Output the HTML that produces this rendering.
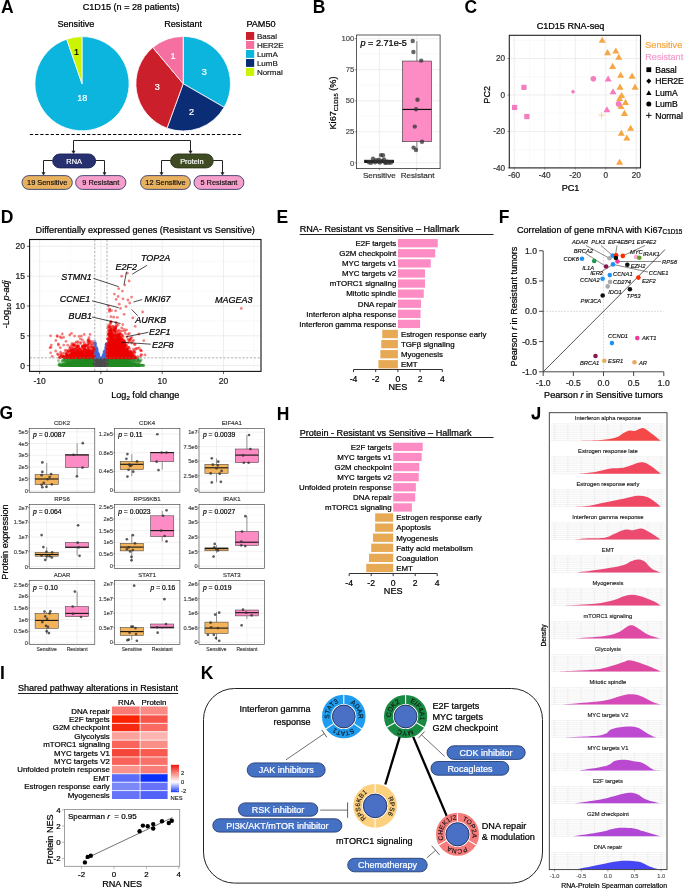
<!DOCTYPE html>
<html><head><meta charset="utf-8"><style>
html,body{margin:0;padding:0;background:#fff;}
svg{display:block;will-change:transform;}
text{font-family:"Liberation Sans", sans-serif;}
text:not([stroke]){stroke:#000;stroke-width:0.22px;}
</style></head><body>
<svg width="685" height="889" viewBox="0 0 685 889">
<rect x="0" y="0" width="685" height="889" fill="#fff"/>
<text x="1.00" y="12.70" font-size="17.5" text-anchor="start" fill="#000" stroke="#000" stroke-width="0.00" font-weight="bold">A</text>
<text x="131.10" y="9.80" font-size="9.1" text-anchor="middle" fill="#000" stroke="#000" stroke-width="0.24">C1D15 (n = 28 patients)</text>
<text x="75.90" y="26.70" font-size="9.1" text-anchor="middle" fill="#000" stroke="#000" stroke-width="0.24">Sensitive</text>
<text x="183.20" y="26.70" font-size="9.1" text-anchor="middle" fill="#000" stroke="#000" stroke-width="0.24">Resistant</text>
<path d="M82.00,83.70 L82.00,36.60 A47.1,47.1 0 1 1 66.71,39.15 Z" fill="#0bb5dd" stroke="#fff" stroke-width="0.8" stroke-linejoin="round"/>
<path d="M82.00,83.70 L66.71,39.15 A47.1,47.1 0 0 1 82.00,36.60 Z" fill="#cbf402" stroke="#fff" stroke-width="0.8" stroke-linejoin="round"/>
<path d="M183.20,83.70 L183.20,36.40 A47.3,47.3 0 0 1 224.16,107.35 Z" fill="#0bb5dd" stroke="#fff" stroke-width="0.8" stroke-linejoin="round"/>
<path d="M183.20,83.70 L224.16,107.35 A47.3,47.3 0 0 1 167.02,128.15 Z" fill="#0b2d76" stroke="#fff" stroke-width="0.8" stroke-linejoin="round"/>
<path d="M183.20,83.70 L167.02,128.15 A47.3,47.3 0 0 1 152.80,47.47 Z" fill="#cc1f2c" stroke="#fff" stroke-width="0.8" stroke-linejoin="round"/>
<path d="M183.20,83.70 L152.80,47.47 A47.3,47.3 0 0 1 183.20,36.40 Z" fill="#f56fa0" stroke="#fff" stroke-width="0.8" stroke-linejoin="round"/>
<text x="76.60" y="54.80" font-size="9.1" text-anchor="middle" fill="#000" stroke="#000" stroke-width="0.24">1</text>
<text x="82.30" y="100.90" font-size="9.1" text-anchor="middle" fill="#fff" stroke="#fff" stroke-width="0.24">18</text>
<text x="173.00" y="59.30" font-size="9.1" text-anchor="middle" fill="#fff" stroke="#fff" stroke-width="0.24">1</text>
<text x="204.30" y="75.00" font-size="9.1" text-anchor="middle" fill="#fff" stroke="#fff" stroke-width="0.24">3</text>
<text x="157.20" y="90.40" font-size="9.1" text-anchor="middle" fill="#fff" stroke="#fff" stroke-width="0.24">3</text>
<text x="191.60" y="114.50" font-size="9.1" text-anchor="middle" fill="#fff" stroke="#fff" stroke-width="0.24">2</text>
<text x="246.40" y="26.90" font-size="9.1" text-anchor="start" fill="#000" stroke="#000" stroke-width="0.24">PAM50</text>
<rect x="246.00" y="32.00" width="8.20" height="7.90" fill="#cc1f2c" stroke="none" stroke-width="1"/>
<text x="256.90" y="38.60" font-size="8.0" text-anchor="start" fill="#222" stroke="#222" stroke-width="0.21">Basal</text>
<rect x="246.00" y="41.00" width="8.20" height="7.90" fill="#f56fa0" stroke="none" stroke-width="1"/>
<text x="256.90" y="47.60" font-size="8.0" text-anchor="start" fill="#222" stroke="#222" stroke-width="0.21">HER2E</text>
<rect x="246.00" y="50.00" width="8.20" height="7.90" fill="#0bb5dd" stroke="none" stroke-width="1"/>
<text x="256.90" y="56.60" font-size="8.0" text-anchor="start" fill="#222" stroke="#222" stroke-width="0.21">LumA</text>
<rect x="246.00" y="59.00" width="8.20" height="7.90" fill="#0b2d76" stroke="none" stroke-width="1"/>
<text x="256.90" y="65.60" font-size="8.0" text-anchor="start" fill="#222" stroke="#222" stroke-width="0.21">LumB</text>
<rect x="246.00" y="68.00" width="8.20" height="7.90" fill="#cbf402" stroke="none" stroke-width="1"/>
<text x="256.90" y="74.60" font-size="8.0" text-anchor="start" fill="#222" stroke="#222" stroke-width="0.21">Normal</text>
<line x1="29.90" y1="134.50" x2="242.50" y2="134.50" stroke="#000" stroke-width="1.0" stroke-dasharray="3.2,2"/>
<path d="M73.5,152 L73.5,140.5 L190.5,140.5 L190.5,152" fill="none" stroke="#222" stroke-width="1"/>
<path d="M71.50,150.70 L75.50,150.70 L73.50,153.90 Z" fill="#222"/>
<path d="M188.50,150.70 L192.50,150.70 L190.50,153.90 Z" fill="#222"/>
<path d="M52.7,160.5 L43.5,160.5 L43.5,173" fill="none" stroke="#222" stroke-width="1"/>
<path d="M95.6,160.5 L104.5,160.5 L104.5,173" fill="none" stroke="#222" stroke-width="1"/>
<path d="M170.6,160.5 L161.5,160.5 L161.5,173" fill="none" stroke="#222" stroke-width="1"/>
<path d="M213.2,160.5 L222.5,160.5 L222.5,173" fill="none" stroke="#222" stroke-width="1"/>
<path d="M41.50,172.20 L45.50,172.20 L43.50,175.40 Z" fill="#222"/>
<path d="M102.50,172.20 L106.50,172.20 L104.50,175.40 Z" fill="#222"/>
<path d="M159.50,172.20 L163.50,172.20 L161.50,175.40 Z" fill="#222"/>
<path d="M220.50,172.20 L224.50,172.20 L222.50,175.40 Z" fill="#222"/>
<rect x="52.70" y="154.00" width="42.90" height="13.90" rx="6.95" fill="#27316f" stroke="#1a2255" stroke-width="0.9"/>
<text x="74.15" y="163.61" font-size="7.4" text-anchor="middle" fill="#fff" stroke="#fff" stroke-width="0.19">RNA</text>
<rect x="170.60" y="154.00" width="42.60" height="13.90" rx="6.95" fill="#3f4b23" stroke="#2a3316" stroke-width="0.9"/>
<text x="191.90" y="163.61" font-size="7.4" text-anchor="middle" fill="#fff" stroke="#fff" stroke-width="0.19">Protein</text>
<rect x="22.00" y="175.60" width="50.30" height="13.80" rx="6.90" fill="#e8b15f" stroke="#34406e" stroke-width="0.9"/>
<text x="47.15" y="185.16" font-size="7.4" text-anchor="middle" fill="#111" stroke="#111" stroke-width="0.19">19 Sensitive</text>
<rect x="75.60" y="175.60" width="50.30" height="13.80" rx="6.90" fill="#f79fcb" stroke="#34406e" stroke-width="0.9"/>
<text x="100.75" y="185.16" font-size="7.4" text-anchor="middle" fill="#111" stroke="#111" stroke-width="0.19">9 Resistant</text>
<rect x="140.50" y="175.60" width="49.90" height="13.80" rx="6.90" fill="#e8b15f" stroke="#34406e" stroke-width="0.9"/>
<text x="165.45" y="185.16" font-size="7.4" text-anchor="middle" fill="#111" stroke="#111" stroke-width="0.19">12 Sensitive</text>
<rect x="194.00" y="175.60" width="49.90" height="13.80" rx="6.90" fill="#f79fcb" stroke="#34406e" stroke-width="0.9"/>
<text x="218.95" y="185.16" font-size="7.4" text-anchor="middle" fill="#111" stroke="#111" stroke-width="0.19">5 Resistant</text>
<text x="312.70" y="12.70" font-size="17.5" text-anchor="start" fill="#000" stroke="#000" stroke-width="0.00" font-weight="bold">B</text>
<line x1="356.50" y1="147.29" x2="440.10" y2="147.29" stroke="#f2f2f2" stroke-width="0.5"/>
<line x1="356.50" y1="116.26" x2="440.10" y2="116.26" stroke="#f2f2f2" stroke-width="0.5"/>
<line x1="356.50" y1="85.24" x2="440.10" y2="85.24" stroke="#f2f2f2" stroke-width="0.5"/>
<line x1="356.50" y1="54.21" x2="440.10" y2="54.21" stroke="#f2f2f2" stroke-width="0.5"/>
<line x1="356.50" y1="162.80" x2="440.10" y2="162.80" stroke="#e6e6e6" stroke-width="0.7"/>
<text x="354.30" y="165.50" font-size="7.7" text-anchor="end" fill="#4d4d4d" stroke="#4d4d4d" stroke-width="0.20">0</text>
<line x1="354.60" y1="162.80" x2="356.50" y2="162.80" stroke="#333" stroke-width="0.5"/>
<line x1="356.50" y1="131.78" x2="440.10" y2="131.78" stroke="#e6e6e6" stroke-width="0.7"/>
<text x="354.30" y="134.47" font-size="7.7" text-anchor="end" fill="#4d4d4d" stroke="#4d4d4d" stroke-width="0.20">25</text>
<line x1="354.60" y1="131.78" x2="356.50" y2="131.78" stroke="#333" stroke-width="0.5"/>
<line x1="356.50" y1="100.75" x2="440.10" y2="100.75" stroke="#e6e6e6" stroke-width="0.7"/>
<text x="354.30" y="103.45" font-size="7.7" text-anchor="end" fill="#4d4d4d" stroke="#4d4d4d" stroke-width="0.20">50</text>
<line x1="354.60" y1="100.75" x2="356.50" y2="100.75" stroke="#333" stroke-width="0.5"/>
<line x1="356.50" y1="69.73" x2="440.10" y2="69.73" stroke="#e6e6e6" stroke-width="0.7"/>
<text x="354.30" y="72.43" font-size="7.7" text-anchor="end" fill="#4d4d4d" stroke="#4d4d4d" stroke-width="0.20">75</text>
<line x1="354.60" y1="69.73" x2="356.50" y2="69.73" stroke="#333" stroke-width="0.5"/>
<line x1="356.50" y1="38.70" x2="440.10" y2="38.70" stroke="#e6e6e6" stroke-width="0.7"/>
<text x="354.30" y="41.40" font-size="7.7" text-anchor="end" fill="#4d4d4d" stroke="#4d4d4d" stroke-width="0.20">100</text>
<line x1="354.60" y1="38.70" x2="356.50" y2="38.70" stroke="#333" stroke-width="0.5"/>
<line x1="379.30" y1="35.00" x2="379.30" y2="168.60" stroke="#e6e6e6" stroke-width="0.7"/>
<line x1="379.30" y1="168.60" x2="379.30" y2="170.40" stroke="#333" stroke-width="0.5"/>
<line x1="416.70" y1="35.00" x2="416.70" y2="168.60" stroke="#e6e6e6" stroke-width="0.7"/>
<line x1="416.70" y1="168.60" x2="416.70" y2="170.40" stroke="#333" stroke-width="0.5"/>
<line x1="416.90" y1="41.18" x2="416.90" y2="61.04" stroke="#333" stroke-width="0.6"/>
<line x1="416.90" y1="141.70" x2="416.90" y2="150.39" stroke="#333" stroke-width="0.6"/>
<rect x="402.50" y="61.04" width="29.00" height="80.67" fill="#fd8cc5" stroke="#333" stroke-width="0.6"/>
<line x1="402.50" y1="109.44" x2="431.50" y2="109.44" stroke="#111" stroke-width="1.2"/>
<rect x="364.70" y="160.32" width="28.70" height="2.11" fill="#e7a953" stroke="#111" stroke-width="1.0"/>
<line x1="364.70" y1="161.43" x2="393.40" y2="161.43" stroke="#111" stroke-width="1.3"/>
<circle cx="412.70" cy="41.00" r="2.20" fill="#333" stroke="none" stroke-width="1" fill-opacity="0.75"/>
<circle cx="413.40" cy="52.00" r="2.20" fill="#333" stroke="none" stroke-width="1" fill-opacity="0.75"/>
<circle cx="421.20" cy="60.60" r="2.20" fill="#333" stroke="none" stroke-width="1" fill-opacity="0.75"/>
<circle cx="417.50" cy="99.80" r="2.20" fill="#333" stroke="none" stroke-width="1" fill-opacity="0.75"/>
<circle cx="416.00" cy="109.30" r="2.20" fill="#333" stroke="none" stroke-width="1" fill-opacity="0.75"/>
<circle cx="414.80" cy="126.60" r="2.20" fill="#333" stroke="none" stroke-width="1" fill-opacity="0.75"/>
<circle cx="422.00" cy="141.80" r="2.20" fill="#333" stroke="none" stroke-width="1" fill-opacity="0.75"/>
<circle cx="413.60" cy="147.60" r="2.20" fill="#333" stroke="none" stroke-width="1" fill-opacity="0.75"/>
<circle cx="416.00" cy="150.00" r="2.20" fill="#333" stroke="none" stroke-width="1" fill-opacity="0.75"/>
<circle cx="381.00" cy="155.10" r="2.20" fill="#333" stroke="none" stroke-width="1" fill-opacity="0.75"/>
<circle cx="383.00" cy="155.30" r="2.20" fill="#333" stroke="none" stroke-width="1" fill-opacity="0.75"/>
<circle cx="373.00" cy="158.80" r="2.20" fill="#333" stroke="none" stroke-width="1" fill-opacity="0.75"/>
<circle cx="376.00" cy="160.20" r="2.20" fill="#333" stroke="none" stroke-width="1" fill-opacity="0.75"/>
<circle cx="378.00" cy="161.50" r="2.20" fill="#333" stroke="none" stroke-width="1" fill-opacity="0.75"/>
<circle cx="380.00" cy="162.50" r="2.20" fill="#333" stroke="none" stroke-width="1" fill-opacity="0.75"/>
<circle cx="382.00" cy="161.00" r="2.20" fill="#333" stroke="none" stroke-width="1" fill-opacity="0.75"/>
<circle cx="385.00" cy="162.50" r="2.20" fill="#333" stroke="none" stroke-width="1" fill-opacity="0.75"/>
<circle cx="387.00" cy="161.80" r="2.20" fill="#333" stroke="none" stroke-width="1" fill-opacity="0.75"/>
<circle cx="389.00" cy="162.80" r="2.20" fill="#333" stroke="none" stroke-width="1" fill-opacity="0.75"/>
<circle cx="371.00" cy="162.80" r="2.20" fill="#333" stroke="none" stroke-width="1" fill-opacity="0.75"/>
<circle cx="375.00" cy="162.20" r="2.20" fill="#333" stroke="none" stroke-width="1" fill-opacity="0.75"/>
<circle cx="384.00" cy="159.50" r="2.20" fill="#333" stroke="none" stroke-width="1" fill-opacity="0.75"/>
<circle cx="379.00" cy="159.80" r="2.20" fill="#333" stroke="none" stroke-width="1" fill-opacity="0.75"/>
<circle cx="386.00" cy="162.90" r="2.20" fill="#333" stroke="none" stroke-width="1" fill-opacity="0.75"/>
<circle cx="391.00" cy="162.50" r="2.20" fill="#333" stroke="none" stroke-width="1" fill-opacity="0.75"/>
<circle cx="369.00" cy="162.20" r="2.20" fill="#333" stroke="none" stroke-width="1" fill-opacity="0.75"/>
<rect x="356.50" y="35.00" width="83.60" height="133.60" fill="none" stroke="#333" stroke-width="0.8"/>
<text x="360.50" y="45.60" font-size="9.1" text-anchor="start" fill="#000" stroke="#000" stroke-width="0.24"><tspan font-style="italic">p</tspan> = 2.71e-5</text>
<text x="379.30" y="177.70" font-size="8.1" text-anchor="middle" fill="#333" stroke="#333" stroke-width="0.21">Sensitive</text>
<text x="417.60" y="177.70" font-size="8.1" text-anchor="middle" fill="#333" stroke="#333" stroke-width="0.21">Resistant</text>
<text transform="translate(336.4,103.0) rotate(-90)" font-size="9.1" text-anchor="middle">Ki67<tspan font-size="5.8" dy="1.6">C1D15</tspan><tspan dy="-1.6"> (%)</tspan></text>
<text x="464.40" y="12.70" font-size="17.5" text-anchor="start" fill="#000" stroke="#000" stroke-width="0.00" font-weight="bold">C</text>
<text x="570.50" y="29.00" font-size="9.1" text-anchor="middle" fill="#000" stroke="#000" stroke-width="0.24">C1D15 RNA-seq</text>
<line x1="529.51" y1="35.30" x2="529.51" y2="167.90" stroke="#f2f2f2" stroke-width="0.5"/>
<line x1="560.03" y1="35.30" x2="560.03" y2="167.90" stroke="#f2f2f2" stroke-width="0.5"/>
<line x1="590.54" y1="35.30" x2="590.54" y2="167.90" stroke="#f2f2f2" stroke-width="0.5"/>
<line x1="621.06" y1="35.30" x2="621.06" y2="167.90" stroke="#f2f2f2" stroke-width="0.5"/>
<line x1="509.30" y1="40.36" x2="640.50" y2="40.36" stroke="#f2f2f2" stroke-width="0.5"/>
<line x1="509.30" y1="76.78" x2="640.50" y2="76.78" stroke="#f2f2f2" stroke-width="0.5"/>
<line x1="509.30" y1="113.22" x2="640.50" y2="113.22" stroke="#f2f2f2" stroke-width="0.5"/>
<line x1="509.30" y1="149.64" x2="640.50" y2="149.64" stroke="#f2f2f2" stroke-width="0.5"/>
<line x1="514.25" y1="35.30" x2="514.25" y2="167.90" stroke="#e6e6e6" stroke-width="0.7"/>
<line x1="514.25" y1="167.90" x2="514.25" y2="169.70" stroke="#333" stroke-width="0.5"/>
<text x="514.25" y="178.40" font-size="8.2" text-anchor="middle" fill="#333" stroke="#333" stroke-width="0.21">-60</text>
<line x1="544.77" y1="35.30" x2="544.77" y2="167.90" stroke="#e6e6e6" stroke-width="0.7"/>
<line x1="544.77" y1="167.90" x2="544.77" y2="169.70" stroke="#333" stroke-width="0.5"/>
<text x="544.77" y="178.40" font-size="8.2" text-anchor="middle" fill="#333" stroke="#333" stroke-width="0.21">-40</text>
<line x1="575.28" y1="35.30" x2="575.28" y2="167.90" stroke="#e6e6e6" stroke-width="0.7"/>
<line x1="575.28" y1="167.90" x2="575.28" y2="169.70" stroke="#333" stroke-width="0.5"/>
<text x="575.28" y="178.40" font-size="8.2" text-anchor="middle" fill="#333" stroke="#333" stroke-width="0.21">-20</text>
<line x1="605.80" y1="35.30" x2="605.80" y2="167.90" stroke="#e6e6e6" stroke-width="0.7"/>
<line x1="605.80" y1="167.90" x2="605.80" y2="169.70" stroke="#333" stroke-width="0.5"/>
<text x="605.80" y="178.40" font-size="8.2" text-anchor="middle" fill="#333" stroke="#333" stroke-width="0.21">0</text>
<line x1="636.32" y1="35.30" x2="636.32" y2="167.90" stroke="#e6e6e6" stroke-width="0.7"/>
<line x1="636.32" y1="167.90" x2="636.32" y2="169.70" stroke="#333" stroke-width="0.5"/>
<text x="636.32" y="178.40" font-size="8.2" text-anchor="middle" fill="#333" stroke="#333" stroke-width="0.21">20</text>
<line x1="509.30" y1="58.57" x2="640.50" y2="58.57" stroke="#e6e6e6" stroke-width="0.7"/>
<line x1="507.50" y1="58.57" x2="509.30" y2="58.57" stroke="#333" stroke-width="0.5"/>
<text x="505.00" y="61.47" font-size="8.2" text-anchor="end" fill="#333" stroke="#333" stroke-width="0.21">20</text>
<line x1="509.30" y1="95.00" x2="640.50" y2="95.00" stroke="#e6e6e6" stroke-width="0.7"/>
<line x1="507.50" y1="95.00" x2="509.30" y2="95.00" stroke="#333" stroke-width="0.5"/>
<text x="505.00" y="97.90" font-size="8.2" text-anchor="end" fill="#333" stroke="#333" stroke-width="0.21">0</text>
<line x1="509.30" y1="131.43" x2="640.50" y2="131.43" stroke="#e6e6e6" stroke-width="0.7"/>
<line x1="507.50" y1="131.43" x2="509.30" y2="131.43" stroke="#333" stroke-width="0.5"/>
<text x="505.00" y="134.33" font-size="8.2" text-anchor="end" fill="#333" stroke="#333" stroke-width="0.21">-20</text>
<line x1="509.30" y1="167.86" x2="640.50" y2="167.86" stroke="#e6e6e6" stroke-width="0.7"/>
<line x1="507.50" y1="167.86" x2="509.30" y2="167.86" stroke="#333" stroke-width="0.5"/>
<text x="505.00" y="170.76" font-size="8.2" text-anchor="end" fill="#333" stroke="#333" stroke-width="0.21">-40</text>
<path d="M602.24,36.80 L605.74,42.86 L598.74,42.86 Z" fill="#f6a642"/>
<path d="M607.54,49.07 L611.04,55.14 L604.04,55.14 Z" fill="#f6a642"/>
<path d="M615.79,47.38 L619.29,53.44 L612.29,53.44 Z" fill="#f6a642"/>
<path d="M618.76,53.73 L622.26,59.79 L615.26,59.79 Z" fill="#f6a642"/>
<path d="M612.62,62.83 L616.12,68.90 L609.12,68.90 Z" fill="#f6a642"/>
<path d="M620.66,71.72 L624.16,77.79 L617.16,77.79 Z" fill="#f6a642"/>
<path d="M632.09,72.57 L635.59,78.63 L628.59,78.63 Z" fill="#f6a642"/>
<path d="M620.03,83.58 L623.53,89.64 L616.53,89.64 Z" fill="#f6a642"/>
<path d="M635.06,83.58 L638.56,89.64 L631.56,89.64 Z" fill="#f6a642"/>
<path d="M621.72,92.05 L625.22,98.11 L618.22,98.11 Z" fill="#f6a642"/>
<path d="M619.60,95.01 L623.10,101.07 L616.10,101.07 Z" fill="#f6a642"/>
<path d="M625.53,98.82 L629.03,104.88 L622.03,104.88 Z" fill="#f6a642"/>
<path d="M621.08,103.05 L624.58,109.12 L617.58,109.12 Z" fill="#f6a642"/>
<path d="M624.47,109.83 L627.97,115.89 L620.97,115.89 Z" fill="#f6a642"/>
<path d="M630.61,124.65 L634.11,130.71 L627.11,130.71 Z" fill="#f6a642"/>
<path d="M621.30,129.73 L624.80,135.79 L617.80,135.79 Z" fill="#f6a642"/>
<path d="M626.80,134.38 L630.30,140.45 L623.30,140.45 Z" fill="#f6a642"/>
<path d="M619.60,158.73 L623.10,164.79 L616.10,164.79 Z" fill="#f6a642"/>
<path d="M608.17,75.54 L611.67,81.60 L604.67,81.60 Z" fill="#f47dbf"/>
<path d="M613.04,88.24 L616.54,94.30 L609.54,94.30 Z" fill="#f47dbf"/>
<path d="M606.90,106.23 L610.40,112.29 L603.40,112.29 Z" fill="#f47dbf"/>
<circle cx="593.35" cy="78.69" r="2.80" fill="#f47dbf" stroke="none" stroke-width="1"/>
<circle cx="618.54" cy="103.88" r="2.80" fill="#f47dbf" stroke="none" stroke-width="1"/>
<path d="M573.03,89.61 L575.23,91.81 L573.03,94.01 L570.83,91.81 Z" fill="#f47dbf"/>
<rect x="521.32" y="84.77" width="5.20" height="5.20" fill="#f47dbf" stroke="none" stroke-width="1"/>
<rect x="512.01" y="104.88" width="5.20" height="5.20" fill="#f47dbf" stroke="none" stroke-width="1"/>
<rect x="524.28" y="113.98" width="5.20" height="5.20" fill="#f47dbf" stroke="none" stroke-width="1"/>
<line x1="598.61" y1="115.10" x2="604.61" y2="115.10" stroke="#f8c890" stroke-width="0.9"/>
<line x1="601.61" y1="112.10" x2="601.61" y2="118.10" stroke="#f8c890" stroke-width="0.9"/>
<rect x="509.30" y="35.30" width="131.20" height="132.60" fill="none" stroke="#222" stroke-width="1.1"/>
<text x="570.50" y="191.00" font-size="9.1" text-anchor="middle" fill="#000" stroke="#000" stroke-width="0.24">PC1</text>
<text transform="translate(489.8,94.8) rotate(-90)" font-size="9.1" text-anchor="middle">PC2</text>
<text x="645.30" y="47.90" font-size="9.1" text-anchor="start" fill="#f6a642" stroke="#f6a642" stroke-width="0.24">Sensitive</text>
<text x="645.30" y="59.70" font-size="9.1" text-anchor="start" fill="#f49ccc" stroke="#f49ccc" stroke-width="0.24">Resistant</text>
<text x="655.20" y="72.90" font-size="8.6" text-anchor="start" fill="#000" stroke="#000" stroke-width="0.22">Basal</text>
<text x="655.20" y="84.30" font-size="8.6" text-anchor="start" fill="#000" stroke="#000" stroke-width="0.22">HER2E</text>
<text x="655.20" y="95.90" font-size="8.6" text-anchor="start" fill="#000" stroke="#000" stroke-width="0.22">LumA</text>
<text x="655.20" y="107.30" font-size="8.6" text-anchor="start" fill="#000" stroke="#000" stroke-width="0.22">LumB</text>
<text x="655.20" y="118.60" font-size="8.6" text-anchor="start" fill="#000" stroke="#000" stroke-width="0.22">Normal</text>
<rect x="646.40" y="67.30" width="4.80" height="4.80" fill="#000" stroke="none" stroke-width="1"/>
<path d="M648.80,78.50 L651.40,81.10 L648.80,83.70 L646.20,81.10 Z" fill="#000"/>
<path d="M648.80,90.27 L651.50,94.94 L646.10,94.94 Z" fill="#000"/>
<circle cx="648.80" cy="104.10" r="2.50" fill="#000" stroke="none" stroke-width="1"/>
<line x1="646.00" y1="115.40" x2="651.60" y2="115.40" stroke="#000" stroke-width="0.9"/>
<line x1="648.80" y1="112.60" x2="648.80" y2="118.20" stroke="#000" stroke-width="0.9"/>
<text x="0.70" y="222.70" font-size="17.5" text-anchor="start" fill="#000" stroke="#000" stroke-width="0.00" font-weight="bold">D</text>
<text x="145.20" y="232.70" font-size="9.1" text-anchor="middle" fill="#000" stroke="#000" stroke-width="0.24">Differentially expressed genes (Resistant vs Sensitive)</text>
<line x1="70.25" y1="239.50" x2="70.25" y2="371.40" stroke="#f2f2f2" stroke-width="0.5"/>
<line x1="131.55" y1="239.50" x2="131.55" y2="371.40" stroke="#f2f2f2" stroke-width="0.5"/>
<line x1="192.85" y1="239.50" x2="192.85" y2="371.40" stroke="#f2f2f2" stroke-width="0.5"/>
<line x1="254.15" y1="239.50" x2="254.15" y2="371.40" stroke="#f2f2f2" stroke-width="0.5"/>
<line x1="29.60" y1="350.70" x2="261.00" y2="350.70" stroke="#f2f2f2" stroke-width="0.5"/>
<line x1="29.60" y1="320.90" x2="261.00" y2="320.90" stroke="#f2f2f2" stroke-width="0.5"/>
<line x1="29.60" y1="291.10" x2="261.00" y2="291.10" stroke="#f2f2f2" stroke-width="0.5"/>
<line x1="29.60" y1="261.30" x2="261.00" y2="261.30" stroke="#f2f2f2" stroke-width="0.5"/>
<line x1="39.60" y1="239.50" x2="39.60" y2="371.40" stroke="#e6e6e6" stroke-width="0.7"/>
<line x1="39.60" y1="371.40" x2="39.60" y2="374.10" stroke="#222" stroke-width="0.7"/>
<text x="39.60" y="383.60" font-size="8.5" text-anchor="middle" fill="#222" stroke="#222" stroke-width="0.22">-10</text>
<line x1="100.90" y1="239.50" x2="100.90" y2="371.40" stroke="#e6e6e6" stroke-width="0.7"/>
<line x1="100.90" y1="371.40" x2="100.90" y2="374.10" stroke="#222" stroke-width="0.7"/>
<text x="100.90" y="383.60" font-size="8.5" text-anchor="middle" fill="#222" stroke="#222" stroke-width="0.22">0</text>
<line x1="162.20" y1="239.50" x2="162.20" y2="371.40" stroke="#e6e6e6" stroke-width="0.7"/>
<line x1="162.20" y1="371.40" x2="162.20" y2="374.10" stroke="#222" stroke-width="0.7"/>
<text x="162.20" y="383.60" font-size="8.5" text-anchor="middle" fill="#222" stroke="#222" stroke-width="0.22">10</text>
<line x1="223.50" y1="239.50" x2="223.50" y2="371.40" stroke="#e6e6e6" stroke-width="0.7"/>
<line x1="223.50" y1="371.40" x2="223.50" y2="374.10" stroke="#222" stroke-width="0.7"/>
<text x="223.50" y="383.60" font-size="8.5" text-anchor="middle" fill="#222" stroke="#222" stroke-width="0.22">20</text>
<line x1="29.60" y1="365.60" x2="261.00" y2="365.60" stroke="#e6e6e6" stroke-width="0.7"/>
<line x1="26.90" y1="365.60" x2="29.60" y2="365.60" stroke="#222" stroke-width="0.7"/>
<text x="25.00" y="368.60" font-size="8.5" text-anchor="end" fill="#222" stroke="#222" stroke-width="0.22">0</text>
<line x1="29.60" y1="335.80" x2="261.00" y2="335.80" stroke="#e6e6e6" stroke-width="0.7"/>
<line x1="26.90" y1="335.80" x2="29.60" y2="335.80" stroke="#222" stroke-width="0.7"/>
<text x="25.00" y="338.80" font-size="8.5" text-anchor="end" fill="#222" stroke="#222" stroke-width="0.22">5</text>
<line x1="29.60" y1="306.00" x2="261.00" y2="306.00" stroke="#e6e6e6" stroke-width="0.7"/>
<line x1="26.90" y1="306.00" x2="29.60" y2="306.00" stroke="#222" stroke-width="0.7"/>
<text x="25.00" y="309.00" font-size="8.5" text-anchor="end" fill="#222" stroke="#222" stroke-width="0.22">10</text>
<line x1="29.60" y1="276.20" x2="261.00" y2="276.20" stroke="#e6e6e6" stroke-width="0.7"/>
<line x1="26.90" y1="276.20" x2="29.60" y2="276.20" stroke="#222" stroke-width="0.7"/>
<text x="25.00" y="279.20" font-size="8.5" text-anchor="end" fill="#222" stroke="#222" stroke-width="0.22">15</text>
<line x1="29.60" y1="246.40" x2="261.00" y2="246.40" stroke="#e6e6e6" stroke-width="0.7"/>
<line x1="26.90" y1="246.40" x2="29.60" y2="246.40" stroke="#222" stroke-width="0.7"/>
<text x="25.00" y="249.40" font-size="8.5" text-anchor="end" fill="#222" stroke="#222" stroke-width="0.22">20</text>
<g fill="#228b22" fill-opacity="0.5"><circle cx="111.4" cy="362.4" r="1.4"/><circle cx="67.2" cy="360.3" r="1.4"/><circle cx="122.8" cy="360.8" r="1.4"/><circle cx="121.8" cy="365.2" r="1.4"/><circle cx="76.6" cy="365.5" r="1.4"/><circle cx="83.6" cy="360.0" r="1.4"/><circle cx="93.3" cy="364.0" r="1.4"/><circle cx="86.8" cy="361.2" r="1.4"/><circle cx="86.4" cy="360.7" r="1.4"/><circle cx="120.6" cy="365.6" r="1.4"/><circle cx="90.9" cy="364.1" r="1.4"/><circle cx="94.0" cy="365.4" r="1.4"/><circle cx="107.9" cy="364.5" r="1.4"/><circle cx="88.9" cy="364.3" r="1.4"/><circle cx="73.1" cy="365.6" r="1.4"/><circle cx="82.2" cy="365.6" r="1.4"/><circle cx="89.3" cy="363.6" r="1.4"/><circle cx="109.6" cy="365.2" r="1.4"/><circle cx="118.5" cy="363.5" r="1.4"/><circle cx="85.4" cy="365.4" r="1.4"/><circle cx="108.2" cy="363.1" r="1.4"/><circle cx="129.2" cy="361.3" r="1.4"/><circle cx="81.0" cy="361.4" r="1.4"/><circle cx="91.6" cy="364.9" r="1.4"/><circle cx="93.4" cy="364.1" r="1.4"/><circle cx="73.8" cy="365.2" r="1.4"/><circle cx="119.8" cy="363.6" r="1.4"/><circle cx="90.7" cy="363.4" r="1.4"/><circle cx="115.8" cy="365.4" r="1.4"/><circle cx="128.4" cy="365.1" r="1.4"/><circle cx="90.2" cy="365.1" r="1.4"/><circle cx="79.8" cy="360.6" r="1.4"/><circle cx="82.6" cy="365.3" r="1.4"/><circle cx="65.5" cy="364.9" r="1.4"/><circle cx="71.7" cy="358.1" r="1.4"/><circle cx="83.3" cy="362.6" r="1.4"/><circle cx="70.4" cy="365.6" r="1.4"/><circle cx="82.0" cy="363.7" r="1.4"/><circle cx="91.1" cy="362.9" r="1.4"/><circle cx="87.6" cy="361.0" r="1.4"/><circle cx="89.8" cy="360.1" r="1.4"/><circle cx="109.1" cy="359.2" r="1.4"/><circle cx="119.0" cy="362.4" r="1.4"/><circle cx="107.8" cy="364.7" r="1.4"/><circle cx="91.3" cy="365.4" r="1.4"/><circle cx="72.6" cy="362.8" r="1.4"/><circle cx="85.0" cy="362.7" r="1.4"/><circle cx="115.0" cy="363.0" r="1.4"/><circle cx="119.8" cy="363.1" r="1.4"/><circle cx="109.7" cy="358.6" r="1.4"/><circle cx="130.8" cy="365.6" r="1.4"/><circle cx="87.0" cy="360.1" r="1.4"/><circle cx="78.8" cy="362.1" r="1.4"/><circle cx="88.2" cy="364.5" r="1.4"/><circle cx="113.3" cy="358.3" r="1.4"/><circle cx="87.3" cy="358.0" r="1.4"/><circle cx="115.9" cy="358.1" r="1.4"/><circle cx="117.3" cy="365.6" r="1.4"/><circle cx="119.3" cy="360.8" r="1.4"/><circle cx="89.1" cy="359.4" r="1.4"/><circle cx="114.9" cy="360.8" r="1.4"/><circle cx="118.3" cy="365.6" r="1.4"/><circle cx="84.1" cy="365.6" r="1.4"/><circle cx="118.5" cy="365.5" r="1.4"/><circle cx="91.1" cy="362.4" r="1.4"/><circle cx="74.9" cy="364.1" r="1.4"/><circle cx="110.3" cy="364.9" r="1.4"/><circle cx="112.4" cy="362.9" r="1.4"/><circle cx="84.2" cy="364.3" r="1.4"/><circle cx="116.2" cy="360.3" r="1.4"/><circle cx="121.8" cy="365.6" r="1.4"/><circle cx="118.6" cy="364.0" r="1.4"/><circle cx="137.5" cy="358.9" r="1.4"/><circle cx="126.1" cy="363.6" r="1.4"/><circle cx="129.5" cy="365.4" r="1.4"/><circle cx="83.1" cy="362.3" r="1.4"/><circle cx="111.2" cy="362.2" r="1.4"/><circle cx="138.6" cy="362.5" r="1.4"/><circle cx="94.5" cy="358.2" r="1.4"/><circle cx="92.5" cy="364.2" r="1.4"/><circle cx="120.5" cy="365.6" r="1.4"/><circle cx="129.9" cy="358.9" r="1.4"/><circle cx="69.8" cy="365.1" r="1.4"/><circle cx="81.2" cy="363.3" r="1.4"/><circle cx="117.4" cy="363.7" r="1.4"/><circle cx="124.1" cy="364.3" r="1.4"/><circle cx="82.8" cy="361.8" r="1.4"/><circle cx="77.6" cy="358.4" r="1.4"/><circle cx="78.7" cy="365.6" r="1.4"/><circle cx="124.8" cy="365.5" r="1.4"/><circle cx="64.4" cy="365.5" r="1.4"/><circle cx="129.3" cy="363.8" r="1.4"/><circle cx="88.8" cy="359.9" r="1.4"/><circle cx="73.0" cy="365.4" r="1.4"/><circle cx="113.2" cy="364.9" r="1.4"/><circle cx="127.0" cy="360.5" r="1.4"/><circle cx="81.9" cy="359.3" r="1.4"/><circle cx="87.2" cy="363.6" r="1.4"/><circle cx="76.0" cy="365.6" r="1.4"/><circle cx="90.4" cy="365.6" r="1.4"/><circle cx="83.7" cy="361.1" r="1.4"/><circle cx="90.7" cy="364.4" r="1.4"/><circle cx="112.5" cy="365.5" r="1.4"/><circle cx="119.9" cy="365.1" r="1.4"/><circle cx="115.5" cy="358.9" r="1.4"/><circle cx="116.0" cy="362.8" r="1.4"/><circle cx="89.1" cy="358.6" r="1.4"/><circle cx="107.7" cy="362.5" r="1.4"/><circle cx="92.6" cy="364.4" r="1.4"/><circle cx="124.9" cy="364.5" r="1.4"/><circle cx="110.9" cy="364.5" r="1.4"/><circle cx="123.7" cy="360.0" r="1.4"/><circle cx="114.4" cy="362.1" r="1.4"/><circle cx="85.9" cy="365.3" r="1.4"/><circle cx="122.8" cy="361.3" r="1.4"/><circle cx="111.4" cy="360.3" r="1.4"/><circle cx="131.3" cy="365.6" r="1.4"/><circle cx="130.6" cy="365.5" r="1.4"/><circle cx="120.5" cy="364.3" r="1.4"/><circle cx="112.8" cy="365.6" r="1.4"/><circle cx="118.9" cy="363.7" r="1.4"/><circle cx="88.3" cy="361.1" r="1.4"/><circle cx="79.4" cy="365.2" r="1.4"/><circle cx="78.8" cy="358.9" r="1.4"/><circle cx="93.8" cy="365.2" r="1.4"/><circle cx="107.4" cy="361.8" r="1.4"/><circle cx="114.7" cy="362.6" r="1.4"/><circle cx="114.5" cy="363.3" r="1.4"/><circle cx="119.2" cy="360.2" r="1.4"/><circle cx="87.1" cy="365.2" r="1.4"/><circle cx="89.0" cy="361.8" r="1.4"/><circle cx="121.0" cy="363.5" r="1.4"/><circle cx="83.6" cy="362.7" r="1.4"/><circle cx="79.4" cy="365.3" r="1.4"/><circle cx="84.3" cy="360.3" r="1.4"/><circle cx="81.9" cy="360.9" r="1.4"/><circle cx="78.5" cy="365.5" r="1.4"/><circle cx="87.7" cy="360.8" r="1.4"/><circle cx="89.5" cy="358.2" r="1.4"/><circle cx="84.8" cy="361.2" r="1.4"/><circle cx="80.2" cy="365.5" r="1.4"/><circle cx="91.6" cy="363.2" r="1.4"/><circle cx="112.1" cy="358.8" r="1.4"/><circle cx="112.7" cy="360.9" r="1.4"/><circle cx="113.8" cy="359.9" r="1.4"/><circle cx="78.6" cy="363.5" r="1.4"/><circle cx="126.7" cy="364.1" r="1.4"/><circle cx="76.5" cy="364.4" r="1.4"/><circle cx="92.6" cy="362.8" r="1.4"/><circle cx="84.3" cy="365.6" r="1.4"/><circle cx="117.0" cy="364.9" r="1.4"/><circle cx="77.1" cy="365.6" r="1.4"/><circle cx="114.1" cy="364.2" r="1.4"/><circle cx="77.1" cy="363.3" r="1.4"/><circle cx="108.9" cy="365.4" r="1.4"/><circle cx="76.1" cy="360.3" r="1.4"/><circle cx="89.0" cy="363.9" r="1.4"/><circle cx="120.6" cy="364.6" r="1.4"/><circle cx="129.3" cy="364.7" r="1.4"/><circle cx="130.4" cy="363.0" r="1.4"/><circle cx="89.5" cy="362.1" r="1.4"/><circle cx="130.3" cy="365.4" r="1.4"/><circle cx="90.2" cy="360.1" r="1.4"/><circle cx="117.2" cy="363.2" r="1.4"/><circle cx="125.2" cy="365.5" r="1.4"/><circle cx="87.9" cy="363.6" r="1.4"/><circle cx="120.1" cy="360.9" r="1.4"/><circle cx="110.9" cy="358.1" r="1.4"/><circle cx="89.7" cy="364.3" r="1.4"/><circle cx="131.4" cy="363.2" r="1.4"/><circle cx="119.9" cy="365.6" r="1.4"/><circle cx="67.2" cy="360.7" r="1.4"/><circle cx="129.1" cy="365.5" r="1.4"/><circle cx="111.1" cy="362.5" r="1.4"/><circle cx="90.4" cy="358.5" r="1.4"/><circle cx="112.8" cy="361.9" r="1.4"/><circle cx="120.3" cy="360.0" r="1.4"/><circle cx="111.4" cy="362.7" r="1.4"/><circle cx="107.9" cy="364.7" r="1.4"/><circle cx="75.6" cy="363.8" r="1.4"/><circle cx="118.8" cy="365.6" r="1.4"/><circle cx="131.5" cy="364.7" r="1.4"/><circle cx="90.1" cy="362.0" r="1.4"/><circle cx="80.7" cy="364.3" r="1.4"/><circle cx="65.2" cy="365.6" r="1.4"/><circle cx="72.2" cy="360.9" r="1.4"/><circle cx="75.5" cy="363.9" r="1.4"/><circle cx="89.3" cy="364.7" r="1.4"/><circle cx="70.7" cy="365.6" r="1.4"/><circle cx="125.0" cy="359.1" r="1.4"/><circle cx="126.8" cy="364.5" r="1.4"/><circle cx="76.0" cy="365.1" r="1.4"/><circle cx="85.9" cy="361.2" r="1.4"/><circle cx="111.2" cy="361.3" r="1.4"/><circle cx="88.5" cy="365.3" r="1.4"/><circle cx="65.6" cy="365.2" r="1.4"/><circle cx="84.1" cy="358.5" r="1.4"/><circle cx="111.9" cy="365.3" r="1.4"/><circle cx="111.9" cy="361.9" r="1.4"/><circle cx="85.6" cy="363.8" r="1.4"/><circle cx="135.7" cy="365.2" r="1.4"/><circle cx="110.7" cy="360.9" r="1.4"/><circle cx="84.7" cy="360.3" r="1.4"/><circle cx="61.4" cy="365.3" r="1.4"/><circle cx="108.1" cy="365.6" r="1.4"/><circle cx="121.3" cy="362.9" r="1.4"/><circle cx="112.2" cy="362.9" r="1.4"/><circle cx="71.7" cy="365.5" r="1.4"/><circle cx="107.3" cy="362.8" r="1.4"/><circle cx="92.5" cy="361.4" r="1.4"/><circle cx="93.0" cy="360.5" r="1.4"/><circle cx="86.8" cy="359.4" r="1.4"/><circle cx="73.7" cy="358.7" r="1.4"/><circle cx="124.6" cy="365.6" r="1.4"/><circle cx="89.2" cy="363.9" r="1.4"/><circle cx="80.5" cy="365.4" r="1.4"/><circle cx="76.2" cy="365.4" r="1.4"/><circle cx="130.2" cy="365.3" r="1.4"/><circle cx="76.0" cy="358.6" r="1.4"/><circle cx="137.0" cy="365.6" r="1.4"/><circle cx="79.7" cy="362.5" r="1.4"/><circle cx="82.3" cy="365.6" r="1.4"/><circle cx="111.2" cy="360.2" r="1.4"/><circle cx="109.0" cy="362.8" r="1.4"/><circle cx="72.3" cy="364.6" r="1.4"/><circle cx="122.1" cy="365.5" r="1.4"/><circle cx="82.7" cy="364.2" r="1.4"/><circle cx="83.1" cy="365.6" r="1.4"/><circle cx="111.6" cy="364.0" r="1.4"/><circle cx="69.5" cy="360.1" r="1.4"/><circle cx="107.4" cy="365.3" r="1.4"/><circle cx="75.9" cy="365.6" r="1.4"/><circle cx="73.2" cy="364.6" r="1.4"/><circle cx="93.4" cy="359.0" r="1.4"/><circle cx="118.7" cy="361.0" r="1.4"/><circle cx="118.6" cy="360.0" r="1.4"/><circle cx="128.1" cy="361.9" r="1.4"/><circle cx="113.9" cy="365.5" r="1.4"/><circle cx="111.2" cy="364.4" r="1.4"/><circle cx="110.6" cy="361.5" r="1.4"/><circle cx="81.1" cy="358.5" r="1.4"/><circle cx="125.6" cy="363.0" r="1.4"/><circle cx="111.8" cy="360.0" r="1.4"/><circle cx="127.3" cy="361.3" r="1.4"/><circle cx="80.1" cy="362.9" r="1.4"/><circle cx="93.5" cy="359.5" r="1.4"/><circle cx="122.3" cy="365.2" r="1.4"/><circle cx="94.3" cy="365.1" r="1.4"/><circle cx="108.7" cy="363.6" r="1.4"/><circle cx="91.1" cy="362.8" r="1.4"/><circle cx="131.4" cy="365.6" r="1.4"/><circle cx="82.8" cy="361.2" r="1.4"/><circle cx="90.2" cy="361.5" r="1.4"/><circle cx="72.3" cy="365.5" r="1.4"/><circle cx="87.0" cy="365.0" r="1.4"/><circle cx="87.5" cy="359.6" r="1.4"/><circle cx="112.5" cy="364.1" r="1.4"/><circle cx="87.2" cy="365.5" r="1.4"/><circle cx="112.9" cy="360.3" r="1.4"/><circle cx="92.6" cy="365.1" r="1.4"/><circle cx="108.5" cy="363.4" r="1.4"/><circle cx="113.6" cy="360.9" r="1.4"/><circle cx="120.2" cy="362.3" r="1.4"/><circle cx="80.4" cy="364.7" r="1.4"/><circle cx="120.3" cy="365.0" r="1.4"/><circle cx="124.1" cy="365.6" r="1.4"/><circle cx="136.8" cy="365.4" r="1.4"/><circle cx="83.5" cy="365.2" r="1.4"/><circle cx="87.3" cy="365.5" r="1.4"/><circle cx="115.0" cy="359.4" r="1.4"/><circle cx="78.3" cy="364.7" r="1.4"/><circle cx="68.1" cy="362.5" r="1.4"/><circle cx="108.4" cy="362.7" r="1.4"/><circle cx="107.8" cy="364.1" r="1.4"/><circle cx="109.2" cy="365.6" r="1.4"/><circle cx="107.9" cy="362.9" r="1.4"/><circle cx="109.4" cy="364.4" r="1.4"/><circle cx="88.0" cy="361.5" r="1.4"/><circle cx="84.8" cy="360.6" r="1.4"/><circle cx="93.6" cy="359.1" r="1.4"/><circle cx="117.6" cy="361.4" r="1.4"/><circle cx="132.8" cy="360.3" r="1.4"/><circle cx="64.3" cy="364.5" r="1.4"/><circle cx="128.3" cy="359.2" r="1.4"/><circle cx="115.2" cy="364.8" r="1.4"/><circle cx="117.0" cy="359.0" r="1.4"/><circle cx="90.2" cy="364.5" r="1.4"/><circle cx="93.3" cy="365.6" r="1.4"/><circle cx="120.0" cy="358.4" r="1.4"/><circle cx="87.4" cy="365.0" r="1.4"/><circle cx="80.0" cy="358.5" r="1.4"/><circle cx="109.6" cy="360.2" r="1.4"/><circle cx="93.8" cy="365.6" r="1.4"/><circle cx="117.7" cy="364.2" r="1.4"/><circle cx="74.8" cy="365.6" r="1.4"/><circle cx="74.4" cy="364.6" r="1.4"/><circle cx="60.3" cy="365.5" r="1.4"/><circle cx="110.8" cy="361.8" r="1.4"/><circle cx="129.9" cy="365.6" r="1.4"/><circle cx="93.5" cy="358.5" r="1.4"/><circle cx="94.4" cy="362.2" r="1.4"/><circle cx="107.2" cy="362.3" r="1.4"/><circle cx="72.3" cy="365.0" r="1.4"/><circle cx="118.1" cy="365.5" r="1.4"/><circle cx="115.1" cy="360.7" r="1.4"/><circle cx="138.0" cy="360.2" r="1.4"/><circle cx="123.3" cy="365.6" r="1.4"/><circle cx="111.1" cy="362.6" r="1.4"/><circle cx="93.2" cy="360.6" r="1.4"/><circle cx="119.4" cy="358.5" r="1.4"/><circle cx="87.1" cy="362.2" r="1.4"/><circle cx="111.4" cy="362.0" r="1.4"/><circle cx="70.0" cy="365.6" r="1.4"/><circle cx="66.9" cy="365.6" r="1.4"/><circle cx="92.8" cy="360.7" r="1.4"/><circle cx="81.1" cy="359.8" r="1.4"/><circle cx="108.1" cy="364.6" r="1.4"/><circle cx="125.2" cy="364.7" r="1.4"/><circle cx="135.5" cy="365.5" r="1.4"/><circle cx="65.5" cy="358.7" r="1.4"/><circle cx="92.6" cy="359.5" r="1.4"/><circle cx="111.1" cy="362.4" r="1.4"/><circle cx="86.4" cy="360.6" r="1.4"/><circle cx="139.2" cy="364.5" r="1.4"/><circle cx="89.2" cy="363.1" r="1.4"/><circle cx="137.7" cy="359.4" r="1.4"/><circle cx="66.6" cy="361.6" r="1.4"/><circle cx="85.4" cy="365.5" r="1.4"/><circle cx="74.2" cy="364.4" r="1.4"/><circle cx="136.6" cy="365.6" r="1.4"/><circle cx="79.5" cy="360.2" r="1.4"/><circle cx="75.9" cy="362.8" r="1.4"/><circle cx="83.5" cy="364.2" r="1.4"/><circle cx="113.7" cy="363.9" r="1.4"/><circle cx="108.4" cy="365.3" r="1.4"/><circle cx="111.8" cy="362.5" r="1.4"/><circle cx="76.6" cy="363.6" r="1.4"/><circle cx="92.5" cy="362.5" r="1.4"/><circle cx="108.6" cy="365.1" r="1.4"/><circle cx="129.1" cy="363.5" r="1.4"/><circle cx="84.1" cy="359.9" r="1.4"/><circle cx="86.4" cy="365.6" r="1.4"/><circle cx="90.2" cy="358.2" r="1.4"/><circle cx="77.9" cy="365.3" r="1.4"/><circle cx="90.4" cy="363.3" r="1.4"/><circle cx="82.0" cy="365.3" r="1.4"/><circle cx="116.5" cy="364.1" r="1.4"/><circle cx="116.4" cy="365.6" r="1.4"/><circle cx="91.3" cy="363.5" r="1.4"/><circle cx="89.7" cy="361.3" r="1.4"/><circle cx="77.1" cy="364.6" r="1.4"/><circle cx="84.6" cy="365.6" r="1.4"/><circle cx="119.9" cy="364.4" r="1.4"/><circle cx="80.3" cy="363.6" r="1.4"/><circle cx="126.2" cy="364.4" r="1.4"/><circle cx="126.9" cy="365.5" r="1.4"/><circle cx="90.2" cy="363.7" r="1.4"/><circle cx="115.0" cy="363.3" r="1.4"/><circle cx="75.0" cy="360.3" r="1.4"/><circle cx="128.1" cy="365.4" r="1.4"/><circle cx="121.1" cy="364.2" r="1.4"/><circle cx="89.3" cy="361.9" r="1.4"/><circle cx="116.3" cy="363.3" r="1.4"/><circle cx="92.4" cy="365.2" r="1.4"/><circle cx="108.6" cy="361.9" r="1.4"/><circle cx="82.9" cy="364.7" r="1.4"/><circle cx="109.9" cy="363.4" r="1.4"/><circle cx="80.0" cy="365.4" r="1.4"/><circle cx="80.1" cy="361.7" r="1.4"/><circle cx="86.3" cy="365.4" r="1.4"/><circle cx="123.0" cy="365.3" r="1.4"/><circle cx="86.6" cy="362.6" r="1.4"/><circle cx="114.4" cy="365.1" r="1.4"/><circle cx="83.4" cy="358.9" r="1.4"/><circle cx="131.8" cy="364.6" r="1.4"/><circle cx="111.4" cy="364.4" r="1.4"/><circle cx="126.6" cy="365.4" r="1.4"/><circle cx="113.7" cy="364.1" r="1.4"/><circle cx="80.9" cy="365.1" r="1.4"/><circle cx="75.6" cy="365.6" r="1.4"/><circle cx="139.0" cy="365.6" r="1.4"/><circle cx="134.2" cy="361.6" r="1.4"/><circle cx="69.9" cy="364.4" r="1.4"/><circle cx="84.6" cy="364.4" r="1.4"/><circle cx="86.2" cy="363.3" r="1.4"/><circle cx="111.4" cy="363.0" r="1.4"/><circle cx="81.2" cy="359.8" r="1.4"/><circle cx="115.3" cy="361.2" r="1.4"/><circle cx="70.3" cy="365.3" r="1.4"/><circle cx="85.1" cy="365.6" r="1.4"/><circle cx="126.8" cy="358.5" r="1.4"/><circle cx="89.5" cy="360.2" r="1.4"/><circle cx="121.5" cy="360.8" r="1.4"/><circle cx="129.5" cy="363.8" r="1.4"/><circle cx="76.8" cy="365.5" r="1.4"/><circle cx="134.3" cy="364.8" r="1.4"/><circle cx="120.3" cy="365.2" r="1.4"/><circle cx="117.1" cy="365.2" r="1.4"/><circle cx="107.5" cy="359.1" r="1.4"/><circle cx="70.5" cy="365.6" r="1.4"/><circle cx="118.1" cy="364.5" r="1.4"/><circle cx="122.2" cy="359.4" r="1.4"/><circle cx="73.5" cy="365.2" r="1.4"/><circle cx="93.8" cy="363.3" r="1.4"/><circle cx="81.5" cy="363.0" r="1.4"/><circle cx="117.0" cy="362.3" r="1.4"/><circle cx="93.4" cy="361.5" r="1.4"/><circle cx="86.7" cy="365.5" r="1.4"/><circle cx="127.5" cy="362.3" r="1.4"/><circle cx="112.1" cy="363.4" r="1.4"/><circle cx="77.1" cy="359.1" r="1.4"/><circle cx="74.3" cy="363.2" r="1.4"/><circle cx="111.3" cy="364.8" r="1.4"/><circle cx="82.7" cy="363.6" r="1.4"/><circle cx="92.6" cy="361.9" r="1.4"/><circle cx="124.3" cy="364.0" r="1.4"/><circle cx="117.8" cy="358.1" r="1.4"/><circle cx="72.7" cy="365.6" r="1.4"/><circle cx="111.2" cy="363.4" r="1.4"/><circle cx="92.6" cy="363.9" r="1.4"/><circle cx="111.7" cy="362.5" r="1.4"/><circle cx="78.0" cy="365.5" r="1.4"/><circle cx="121.8" cy="362.6" r="1.4"/><circle cx="115.8" cy="361.4" r="1.4"/><circle cx="89.9" cy="362.6" r="1.4"/><circle cx="127.4" cy="365.0" r="1.4"/><circle cx="86.7" cy="365.5" r="1.4"/><circle cx="88.0" cy="365.6" r="1.4"/><circle cx="131.7" cy="360.7" r="1.4"/><circle cx="93.1" cy="360.8" r="1.4"/><circle cx="88.3" cy="358.8" r="1.4"/><circle cx="118.2" cy="365.4" r="1.4"/><circle cx="80.3" cy="361.9" r="1.4"/><circle cx="79.8" cy="365.6" r="1.4"/><circle cx="136.4" cy="365.6" r="1.4"/><circle cx="121.7" cy="363.6" r="1.4"/><circle cx="81.5" cy="364.8" r="1.4"/><circle cx="79.0" cy="361.8" r="1.4"/><circle cx="116.5" cy="359.3" r="1.4"/><circle cx="81.9" cy="365.6" r="1.4"/><circle cx="89.6" cy="364.6" r="1.4"/><circle cx="107.4" cy="363.5" r="1.4"/><circle cx="93.3" cy="365.5" r="1.4"/><circle cx="138.4" cy="364.7" r="1.4"/><circle cx="71.1" cy="365.6" r="1.4"/><circle cx="125.5" cy="365.6" r="1.4"/><circle cx="124.0" cy="365.5" r="1.4"/><circle cx="84.9" cy="359.0" r="1.4"/><circle cx="74.5" cy="365.6" r="1.4"/><circle cx="125.3" cy="365.2" r="1.4"/><circle cx="93.1" cy="364.6" r="1.4"/><circle cx="90.4" cy="365.5" r="1.4"/><circle cx="110.4" cy="365.1" r="1.4"/><circle cx="82.6" cy="365.3" r="1.4"/><circle cx="120.0" cy="365.3" r="1.4"/><circle cx="114.4" cy="365.4" r="1.4"/><circle cx="82.7" cy="365.3" r="1.4"/><circle cx="122.9" cy="359.9" r="1.4"/><circle cx="130.8" cy="365.2" r="1.4"/><circle cx="114.0" cy="363.6" r="1.4"/><circle cx="83.7" cy="361.6" r="1.4"/><circle cx="78.1" cy="365.2" r="1.4"/><circle cx="115.9" cy="365.6" r="1.4"/><circle cx="119.6" cy="365.5" r="1.4"/><circle cx="81.1" cy="364.0" r="1.4"/><circle cx="77.6" cy="365.6" r="1.4"/><circle cx="112.7" cy="361.5" r="1.4"/><circle cx="91.2" cy="361.0" r="1.4"/><circle cx="111.2" cy="365.5" r="1.4"/><circle cx="78.9" cy="365.6" r="1.4"/><circle cx="115.3" cy="365.5" r="1.4"/><circle cx="79.7" cy="360.9" r="1.4"/><circle cx="127.4" cy="365.6" r="1.4"/><circle cx="131.6" cy="364.7" r="1.4"/><circle cx="67.6" cy="364.0" r="1.4"/><circle cx="85.1" cy="365.6" r="1.4"/><circle cx="85.9" cy="362.8" r="1.4"/><circle cx="85.2" cy="362.0" r="1.4"/><circle cx="107.8" cy="363.0" r="1.4"/><circle cx="137.0" cy="365.6" r="1.4"/><circle cx="92.1" cy="361.9" r="1.4"/><circle cx="82.0" cy="364.8" r="1.4"/><circle cx="109.3" cy="360.2" r="1.4"/><circle cx="123.3" cy="365.6" r="1.4"/><circle cx="114.9" cy="363.0" r="1.4"/><circle cx="117.3" cy="362.1" r="1.4"/><circle cx="90.1" cy="360.1" r="1.4"/><circle cx="93.8" cy="364.2" r="1.4"/><circle cx="115.3" cy="365.1" r="1.4"/><circle cx="72.7" cy="358.7" r="1.4"/><circle cx="87.8" cy="360.4" r="1.4"/><circle cx="107.7" cy="365.6" r="1.4"/><circle cx="88.1" cy="363.4" r="1.4"/><circle cx="73.8" cy="365.6" r="1.4"/><circle cx="93.8" cy="365.4" r="1.4"/><circle cx="123.8" cy="361.9" r="1.4"/><circle cx="108.7" cy="364.3" r="1.4"/><circle cx="73.1" cy="361.2" r="1.4"/><circle cx="88.1" cy="361.6" r="1.4"/><circle cx="127.5" cy="362.5" r="1.4"/><circle cx="116.8" cy="358.1" r="1.4"/><circle cx="73.4" cy="365.6" r="1.4"/><circle cx="123.9" cy="363.9" r="1.4"/><circle cx="130.5" cy="363.6" r="1.4"/><circle cx="124.7" cy="365.2" r="1.4"/><circle cx="116.6" cy="364.8" r="1.4"/><circle cx="77.6" cy="363.7" r="1.4"/><circle cx="84.2" cy="365.1" r="1.4"/><circle cx="132.9" cy="363.6" r="1.4"/><circle cx="81.9" cy="365.2" r="1.4"/><circle cx="126.7" cy="365.2" r="1.4"/><circle cx="120.9" cy="365.6" r="1.4"/><circle cx="110.4" cy="364.7" r="1.4"/><circle cx="64.6" cy="358.3" r="1.4"/><circle cx="112.7" cy="363.7" r="1.4"/><circle cx="82.1" cy="362.2" r="1.4"/><circle cx="109.2" cy="365.1" r="1.4"/><circle cx="93.3" cy="363.4" r="1.4"/><circle cx="110.8" cy="359.0" r="1.4"/><circle cx="92.4" cy="358.4" r="1.4"/><circle cx="70.9" cy="359.4" r="1.4"/><circle cx="94.5" cy="363.2" r="1.4"/><circle cx="59.4" cy="365.1" r="1.4"/><circle cx="94.1" cy="361.7" r="1.4"/><circle cx="68.5" cy="365.1" r="1.4"/><circle cx="79.3" cy="364.0" r="1.4"/><circle cx="72.7" cy="365.5" r="1.4"/><circle cx="91.7" cy="359.2" r="1.4"/><circle cx="138.9" cy="364.4" r="1.4"/><circle cx="79.1" cy="365.1" r="1.4"/><circle cx="88.6" cy="358.7" r="1.4"/><circle cx="134.0" cy="364.6" r="1.4"/><circle cx="88.0" cy="360.1" r="1.4"/><circle cx="87.5" cy="362.2" r="1.4"/><circle cx="119.0" cy="362.2" r="1.4"/><circle cx="116.8" cy="365.5" r="1.4"/><circle cx="131.0" cy="362.2" r="1.4"/><circle cx="80.7" cy="363.5" r="1.4"/><circle cx="131.3" cy="365.4" r="1.4"/><circle cx="88.7" cy="365.4" r="1.4"/><circle cx="109.5" cy="358.3" r="1.4"/><circle cx="91.9" cy="364.0" r="1.4"/><circle cx="115.5" cy="363.7" r="1.4"/><circle cx="117.0" cy="361.5" r="1.4"/><circle cx="86.1" cy="364.5" r="1.4"/><circle cx="88.9" cy="365.6" r="1.4"/><circle cx="113.0" cy="358.8" r="1.4"/><circle cx="115.1" cy="359.1" r="1.4"/><circle cx="107.7" cy="360.1" r="1.4"/><circle cx="74.9" cy="360.8" r="1.4"/><circle cx="79.9" cy="360.6" r="1.4"/><circle cx="116.6" cy="363.7" r="1.4"/><circle cx="86.4" cy="365.5" r="1.4"/><circle cx="82.7" cy="365.2" r="1.4"/><circle cx="118.7" cy="361.4" r="1.4"/><circle cx="122.9" cy="359.3" r="1.4"/><circle cx="91.6" cy="362.3" r="1.4"/><circle cx="111.1" cy="363.3" r="1.4"/><circle cx="76.8" cy="364.4" r="1.4"/><circle cx="78.9" cy="365.2" r="1.4"/><circle cx="125.9" cy="363.2" r="1.4"/><circle cx="114.2" cy="358.9" r="1.4"/><circle cx="125.4" cy="365.0" r="1.4"/><circle cx="112.9" cy="364.8" r="1.4"/><circle cx="118.1" cy="363.3" r="1.4"/><circle cx="80.4" cy="364.6" r="1.4"/><circle cx="129.3" cy="365.6" r="1.4"/><circle cx="74.0" cy="365.0" r="1.4"/><circle cx="70.8" cy="362.8" r="1.4"/><circle cx="86.8" cy="361.8" r="1.4"/><circle cx="93.5" cy="364.9" r="1.4"/><circle cx="93.1" cy="364.1" r="1.4"/><circle cx="86.6" cy="365.3" r="1.4"/><circle cx="114.7" cy="358.2" r="1.4"/><circle cx="134.6" cy="365.6" r="1.4"/><circle cx="74.6" cy="362.1" r="1.4"/><circle cx="112.2" cy="364.7" r="1.4"/><circle cx="79.9" cy="363.6" r="1.4"/><circle cx="94.0" cy="360.6" r="1.4"/><circle cx="79.5" cy="359.9" r="1.4"/><circle cx="83.5" cy="363.1" r="1.4"/><circle cx="87.6" cy="364.9" r="1.4"/><circle cx="109.2" cy="364.7" r="1.4"/><circle cx="78.5" cy="363.8" r="1.4"/><circle cx="85.3" cy="364.7" r="1.4"/><circle cx="116.6" cy="364.6" r="1.4"/><circle cx="116.1" cy="364.9" r="1.4"/><circle cx="86.9" cy="365.0" r="1.4"/><circle cx="72.9" cy="363.9" r="1.4"/><circle cx="81.6" cy="363.4" r="1.4"/><circle cx="73.1" cy="365.4" r="1.4"/><circle cx="107.2" cy="358.3" r="1.4"/><circle cx="93.7" cy="365.3" r="1.4"/><circle cx="140.0" cy="365.6" r="1.4"/><circle cx="79.7" cy="359.5" r="1.4"/><circle cx="78.9" cy="365.3" r="1.4"/><circle cx="88.2" cy="364.6" r="1.4"/><circle cx="86.7" cy="365.5" r="1.4"/><circle cx="75.3" cy="358.3" r="1.4"/><circle cx="91.3" cy="365.1" r="1.4"/><circle cx="129.6" cy="365.3" r="1.4"/><circle cx="80.9" cy="365.6" r="1.4"/><circle cx="121.8" cy="364.9" r="1.4"/><circle cx="109.2" cy="364.9" r="1.4"/><circle cx="83.3" cy="359.3" r="1.4"/><circle cx="117.9" cy="363.6" r="1.4"/><circle cx="128.9" cy="365.6" r="1.4"/><circle cx="74.7" cy="365.6" r="1.4"/><circle cx="74.4" cy="364.4" r="1.4"/><circle cx="127.3" cy="360.8" r="1.4"/><circle cx="114.7" cy="365.4" r="1.4"/><circle cx="131.4" cy="362.9" r="1.4"/><circle cx="91.0" cy="359.0" r="1.4"/><circle cx="82.8" cy="365.6" r="1.4"/><circle cx="112.4" cy="364.4" r="1.4"/><circle cx="88.8" cy="364.5" r="1.4"/><circle cx="121.1" cy="365.6" r="1.4"/><circle cx="111.5" cy="365.3" r="1.4"/><circle cx="121.1" cy="365.6" r="1.4"/><circle cx="89.9" cy="358.8" r="1.4"/><circle cx="80.1" cy="362.9" r="1.4"/><circle cx="79.5" cy="358.9" r="1.4"/><circle cx="82.9" cy="360.3" r="1.4"/><circle cx="127.8" cy="359.6" r="1.4"/><circle cx="65.0" cy="365.3" r="1.4"/><circle cx="117.2" cy="365.5" r="1.4"/><circle cx="80.1" cy="364.2" r="1.4"/><circle cx="125.1" cy="361.0" r="1.4"/><circle cx="79.6" cy="364.4" r="1.4"/><circle cx="78.3" cy="363.2" r="1.4"/><circle cx="86.1" cy="364.6" r="1.4"/><circle cx="119.5" cy="363.4" r="1.4"/><circle cx="123.4" cy="362.2" r="1.4"/><circle cx="65.5" cy="365.0" r="1.4"/><circle cx="118.2" cy="365.2" r="1.4"/><circle cx="88.1" cy="365.2" r="1.4"/><circle cx="90.0" cy="362.8" r="1.4"/><circle cx="116.3" cy="365.6" r="1.4"/><circle cx="112.8" cy="365.4" r="1.4"/><circle cx="74.1" cy="364.0" r="1.4"/><circle cx="81.7" cy="365.6" r="1.4"/><circle cx="107.5" cy="359.9" r="1.4"/><circle cx="126.6" cy="364.0" r="1.4"/><circle cx="136.6" cy="361.0" r="1.4"/><circle cx="121.8" cy="365.4" r="1.4"/><circle cx="116.3" cy="359.2" r="1.4"/><circle cx="83.7" cy="365.4" r="1.4"/><circle cx="83.1" cy="364.8" r="1.4"/><circle cx="90.6" cy="360.8" r="1.4"/><circle cx="86.0" cy="365.6" r="1.4"/><circle cx="127.2" cy="365.5" r="1.4"/><circle cx="128.6" cy="364.6" r="1.4"/><circle cx="90.9" cy="358.6" r="1.4"/><circle cx="91.1" cy="365.5" r="1.4"/><circle cx="72.0" cy="364.1" r="1.4"/><circle cx="90.8" cy="365.4" r="1.4"/><circle cx="112.7" cy="365.6" r="1.4"/><circle cx="92.1" cy="363.8" r="1.4"/><circle cx="121.0" cy="362.3" r="1.4"/><circle cx="123.1" cy="361.6" r="1.4"/><circle cx="114.1" cy="358.2" r="1.4"/><circle cx="114.6" cy="358.6" r="1.4"/><circle cx="138.7" cy="365.4" r="1.4"/><circle cx="127.4" cy="363.4" r="1.4"/><circle cx="128.6" cy="358.4" r="1.4"/><circle cx="60.2" cy="365.6" r="1.4"/><circle cx="123.1" cy="365.6" r="1.4"/><circle cx="119.3" cy="358.0" r="1.4"/><circle cx="85.6" cy="363.8" r="1.4"/><circle cx="127.8" cy="365.6" r="1.4"/><circle cx="71.0" cy="362.8" r="1.4"/><circle cx="124.7" cy="358.9" r="1.4"/><circle cx="118.2" cy="359.7" r="1.4"/><circle cx="128.6" cy="365.4" r="1.4"/><circle cx="90.3" cy="365.2" r="1.4"/><circle cx="84.7" cy="364.6" r="1.4"/><circle cx="115.6" cy="364.6" r="1.4"/><circle cx="111.6" cy="363.0" r="1.4"/><circle cx="78.4" cy="365.2" r="1.4"/><circle cx="81.5" cy="359.4" r="1.4"/><circle cx="121.7" cy="364.4" r="1.4"/><circle cx="68.5" cy="365.4" r="1.4"/><circle cx="125.2" cy="365.6" r="1.4"/><circle cx="90.0" cy="360.5" r="1.4"/><circle cx="113.0" cy="363.6" r="1.4"/><circle cx="118.3" cy="365.6" r="1.4"/><circle cx="109.8" cy="359.6" r="1.4"/><circle cx="82.1" cy="360.8" r="1.4"/><circle cx="86.6" cy="358.8" r="1.4"/><circle cx="85.1" cy="360.1" r="1.4"/><circle cx="113.7" cy="362.6" r="1.4"/><circle cx="86.7" cy="365.2" r="1.4"/><circle cx="90.5" cy="364.5" r="1.4"/><circle cx="93.9" cy="359.6" r="1.4"/><circle cx="107.7" cy="363.0" r="1.4"/><circle cx="75.8" cy="365.4" r="1.4"/><circle cx="122.7" cy="361.8" r="1.4"/><circle cx="88.3" cy="365.5" r="1.4"/><circle cx="91.6" cy="362.8" r="1.4"/><circle cx="65.8" cy="365.6" r="1.4"/><circle cx="110.2" cy="362.9" r="1.4"/><circle cx="79.1" cy="364.3" r="1.4"/><circle cx="90.6" cy="364.7" r="1.4"/><circle cx="132.5" cy="364.2" r="1.4"/><circle cx="69.2" cy="363.4" r="1.4"/><circle cx="118.7" cy="363.4" r="1.4"/><circle cx="107.9" cy="363.7" r="1.4"/><circle cx="112.9" cy="360.5" r="1.4"/><circle cx="122.8" cy="362.5" r="1.4"/><circle cx="82.1" cy="365.5" r="1.4"/><circle cx="122.1" cy="365.6" r="1.4"/><circle cx="77.1" cy="364.6" r="1.4"/><circle cx="87.3" cy="363.5" r="1.4"/><circle cx="73.8" cy="365.6" r="1.4"/><circle cx="113.6" cy="361.1" r="1.4"/><circle cx="127.3" cy="365.6" r="1.4"/><circle cx="117.7" cy="363.2" r="1.4"/><circle cx="85.3" cy="365.0" r="1.4"/><circle cx="78.9" cy="365.5" r="1.4"/><circle cx="71.5" cy="363.3" r="1.4"/><circle cx="90.7" cy="362.8" r="1.4"/><circle cx="78.0" cy="365.6" r="1.4"/><circle cx="122.1" cy="362.6" r="1.4"/><circle cx="111.9" cy="363.0" r="1.4"/><circle cx="125.1" cy="365.6" r="1.4"/><circle cx="125.9" cy="365.6" r="1.4"/><circle cx="117.2" cy="364.4" r="1.4"/><circle cx="83.3" cy="365.6" r="1.4"/><circle cx="85.8" cy="358.8" r="1.4"/><circle cx="119.3" cy="361.7" r="1.4"/><circle cx="84.7" cy="365.3" r="1.4"/><circle cx="127.2" cy="365.5" r="1.4"/><circle cx="67.6" cy="362.4" r="1.4"/><circle cx="62.1" cy="360.7" r="1.4"/><circle cx="111.1" cy="365.2" r="1.4"/><circle cx="64.8" cy="365.6" r="1.4"/><circle cx="131.4" cy="362.8" r="1.4"/><circle cx="73.2" cy="363.5" r="1.4"/><circle cx="90.3" cy="363.2" r="1.4"/><circle cx="107.4" cy="358.3" r="1.4"/><circle cx="90.2" cy="358.7" r="1.4"/><circle cx="122.5" cy="363.4" r="1.4"/><circle cx="115.2" cy="362.4" r="1.4"/><circle cx="91.1" cy="365.6" r="1.4"/><circle cx="89.3" cy="360.9" r="1.4"/><circle cx="68.1" cy="364.3" r="1.4"/><circle cx="124.4" cy="363.0" r="1.4"/><circle cx="91.9" cy="359.1" r="1.4"/><circle cx="107.3" cy="364.0" r="1.4"/><circle cx="73.7" cy="364.7" r="1.4"/><circle cx="82.0" cy="365.6" r="1.4"/><circle cx="77.1" cy="365.5" r="1.4"/><circle cx="114.5" cy="364.3" r="1.4"/><circle cx="85.5" cy="364.9" r="1.4"/><circle cx="88.3" cy="360.4" r="1.4"/><circle cx="134.7" cy="358.1" r="1.4"/><circle cx="87.8" cy="365.0" r="1.4"/><circle cx="69.8" cy="365.3" r="1.4"/><circle cx="114.2" cy="365.1" r="1.4"/><circle cx="110.4" cy="364.3" r="1.4"/><circle cx="88.2" cy="365.1" r="1.4"/><circle cx="88.9" cy="365.0" r="1.4"/><circle cx="91.6" cy="361.9" r="1.4"/><circle cx="109.8" cy="363.6" r="1.4"/><circle cx="90.0" cy="364.4" r="1.4"/><circle cx="80.9" cy="361.2" r="1.4"/><circle cx="121.3" cy="365.6" r="1.4"/><circle cx="117.3" cy="361.8" r="1.4"/><circle cx="91.0" cy="363.6" r="1.4"/><circle cx="83.7" cy="359.4" r="1.4"/><circle cx="80.6" cy="360.3" r="1.4"/><circle cx="120.8" cy="365.6" r="1.4"/><circle cx="93.6" cy="360.9" r="1.4"/><circle cx="116.9" cy="365.3" r="1.4"/><circle cx="109.0" cy="365.2" r="1.4"/><circle cx="90.5" cy="363.9" r="1.4"/><circle cx="114.2" cy="365.5" r="1.4"/><circle cx="124.9" cy="365.4" r="1.4"/><circle cx="117.4" cy="364.7" r="1.4"/><circle cx="123.3" cy="365.0" r="1.4"/><circle cx="89.2" cy="361.1" r="1.4"/><circle cx="78.9" cy="365.6" r="1.4"/><circle cx="77.9" cy="359.7" r="1.4"/><circle cx="84.1" cy="364.7" r="1.4"/><circle cx="91.5" cy="365.6" r="1.4"/><circle cx="87.3" cy="359.4" r="1.4"/><circle cx="78.1" cy="362.9" r="1.4"/><circle cx="115.8" cy="365.3" r="1.4"/><circle cx="112.9" cy="365.0" r="1.4"/><circle cx="91.7" cy="360.7" r="1.4"/><circle cx="111.4" cy="362.7" r="1.4"/><circle cx="110.0" cy="359.7" r="1.4"/><circle cx="122.0" cy="363.6" r="1.4"/><circle cx="78.8" cy="362.6" r="1.4"/><circle cx="88.4" cy="363.5" r="1.4"/><circle cx="87.6" cy="363.2" r="1.4"/><circle cx="86.5" cy="363.6" r="1.4"/><circle cx="119.2" cy="360.9" r="1.4"/><circle cx="92.5" cy="359.3" r="1.4"/><circle cx="109.0" cy="359.1" r="1.4"/><circle cx="113.1" cy="358.5" r="1.4"/><circle cx="135.9" cy="364.0" r="1.4"/><circle cx="71.0" cy="365.5" r="1.4"/><circle cx="111.9" cy="364.6" r="1.4"/><circle cx="82.9" cy="364.1" r="1.4"/><circle cx="76.2" cy="365.4" r="1.4"/><circle cx="90.3" cy="361.2" r="1.4"/><circle cx="83.7" cy="364.1" r="1.4"/><circle cx="83.2" cy="362.2" r="1.4"/><circle cx="83.8" cy="365.4" r="1.4"/><circle cx="94.2" cy="363.1" r="1.4"/><circle cx="139.9" cy="361.2" r="1.4"/><circle cx="113.6" cy="365.6" r="1.4"/><circle cx="111.9" cy="364.2" r="1.4"/><circle cx="79.4" cy="358.4" r="1.4"/><circle cx="112.6" cy="359.1" r="1.4"/><circle cx="89.9" cy="364.2" r="1.4"/><circle cx="88.9" cy="360.8" r="1.4"/><circle cx="120.2" cy="364.9" r="1.4"/><circle cx="85.0" cy="365.5" r="1.4"/><circle cx="112.7" cy="365.2" r="1.4"/><circle cx="108.5" cy="358.7" r="1.4"/><circle cx="116.4" cy="365.5" r="1.4"/><circle cx="71.4" cy="365.4" r="1.4"/><circle cx="133.9" cy="365.2" r="1.4"/><circle cx="88.6" cy="365.6" r="1.4"/><circle cx="78.1" cy="359.7" r="1.4"/><circle cx="116.6" cy="358.6" r="1.4"/><circle cx="114.3" cy="361.6" r="1.4"/><circle cx="113.6" cy="359.0" r="1.4"/><circle cx="131.0" cy="365.6" r="1.4"/><circle cx="81.9" cy="361.9" r="1.4"/><circle cx="91.9" cy="365.2" r="1.4"/><circle cx="94.4" cy="362.2" r="1.4"/><circle cx="114.3" cy="362.2" r="1.4"/><circle cx="67.2" cy="358.5" r="1.4"/><circle cx="86.6" cy="360.8" r="1.4"/><circle cx="94.5" cy="365.3" r="1.4"/><circle cx="115.1" cy="365.4" r="1.4"/><circle cx="110.6" cy="365.2" r="1.4"/><circle cx="114.4" cy="365.5" r="1.4"/><circle cx="116.1" cy="365.4" r="1.4"/><circle cx="93.5" cy="363.8" r="1.4"/><circle cx="115.6" cy="364.2" r="1.4"/><circle cx="78.1" cy="359.4" r="1.4"/><circle cx="115.2" cy="362.2" r="1.4"/><circle cx="123.0" cy="365.6" r="1.4"/><circle cx="78.3" cy="364.5" r="1.4"/><circle cx="87.9" cy="358.3" r="1.4"/><circle cx="80.5" cy="360.2" r="1.4"/><circle cx="75.4" cy="364.8" r="1.4"/><circle cx="114.3" cy="364.0" r="1.4"/><circle cx="86.1" cy="359.2" r="1.4"/><circle cx="126.2" cy="363.0" r="1.4"/><circle cx="117.2" cy="362.7" r="1.4"/><circle cx="107.3" cy="365.6" r="1.4"/><circle cx="110.2" cy="362.3" r="1.4"/><circle cx="132.7" cy="364.5" r="1.4"/><circle cx="107.4" cy="363.5" r="1.4"/><circle cx="82.9" cy="364.4" r="1.4"/><circle cx="124.0" cy="365.5" r="1.4"/><circle cx="66.7" cy="363.7" r="1.4"/><circle cx="75.6" cy="359.1" r="1.4"/><circle cx="78.8" cy="365.3" r="1.4"/><circle cx="115.5" cy="359.0" r="1.4"/><circle cx="89.3" cy="359.6" r="1.4"/><circle cx="122.7" cy="359.0" r="1.4"/><circle cx="113.1" cy="364.9" r="1.4"/><circle cx="111.7" cy="361.1" r="1.4"/><circle cx="83.8" cy="359.4" r="1.4"/><circle cx="116.1" cy="365.3" r="1.4"/><circle cx="125.4" cy="365.0" r="1.4"/><circle cx="119.2" cy="360.5" r="1.4"/><circle cx="120.1" cy="360.9" r="1.4"/><circle cx="111.7" cy="363.0" r="1.4"/><circle cx="67.8" cy="362.0" r="1.4"/><circle cx="126.5" cy="362.9" r="1.4"/><circle cx="87.8" cy="361.2" r="1.4"/><circle cx="109.8" cy="365.4" r="1.4"/><circle cx="108.1" cy="364.7" r="1.4"/><circle cx="94.1" cy="364.4" r="1.4"/><circle cx="88.3" cy="362.1" r="1.4"/><circle cx="110.6" cy="363.5" r="1.4"/><circle cx="111.3" cy="365.2" r="1.4"/><circle cx="110.9" cy="358.6" r="1.4"/><circle cx="122.1" cy="363.0" r="1.4"/><circle cx="129.1" cy="362.6" r="1.4"/><circle cx="132.9" cy="364.9" r="1.4"/><circle cx="73.2" cy="360.3" r="1.4"/><circle cx="123.5" cy="365.5" r="1.4"/><circle cx="122.8" cy="364.7" r="1.4"/><circle cx="131.5" cy="364.3" r="1.4"/><circle cx="108.1" cy="362.3" r="1.4"/><circle cx="109.6" cy="363.3" r="1.4"/><circle cx="117.0" cy="363.9" r="1.4"/><circle cx="109.0" cy="360.1" r="1.4"/><circle cx="127.4" cy="365.0" r="1.4"/><circle cx="70.4" cy="365.4" r="1.4"/><circle cx="79.4" cy="364.6" r="1.4"/><circle cx="115.3" cy="363.5" r="1.4"/><circle cx="114.4" cy="361.3" r="1.4"/><circle cx="129.3" cy="364.5" r="1.4"/><circle cx="126.1" cy="364.7" r="1.4"/><circle cx="119.1" cy="361.9" r="1.4"/><circle cx="94.7" cy="360.6" r="1.4"/><circle cx="74.2" cy="365.4" r="1.4"/><circle cx="77.9" cy="363.0" r="1.4"/><circle cx="107.8" cy="363.7" r="1.4"/><circle cx="110.3" cy="363.4" r="1.4"/><circle cx="120.7" cy="365.2" r="1.4"/><circle cx="113.9" cy="363.9" r="1.4"/><circle cx="137.4" cy="365.6" r="1.4"/><circle cx="62.2" cy="365.6" r="1.4"/><circle cx="88.5" cy="358.9" r="1.4"/><circle cx="82.2" cy="361.1" r="1.4"/><circle cx="68.2" cy="365.6" r="1.4"/><circle cx="80.0" cy="365.2" r="1.4"/><circle cx="120.1" cy="364.9" r="1.4"/><circle cx="83.8" cy="364.7" r="1.4"/><circle cx="118.2" cy="360.2" r="1.4"/><circle cx="131.7" cy="360.6" r="1.4"/><circle cx="116.5" cy="364.8" r="1.4"/><circle cx="108.4" cy="361.4" r="1.4"/><circle cx="68.0" cy="365.0" r="1.4"/><circle cx="120.2" cy="359.4" r="1.4"/><circle cx="80.0" cy="360.8" r="1.4"/><circle cx="113.3" cy="358.6" r="1.4"/><circle cx="122.6" cy="364.0" r="1.4"/><circle cx="87.8" cy="359.4" r="1.4"/><circle cx="119.2" cy="364.0" r="1.4"/><circle cx="90.5" cy="358.8" r="1.4"/><circle cx="92.0" cy="358.7" r="1.4"/><circle cx="74.9" cy="364.8" r="1.4"/><circle cx="89.7" cy="358.8" r="1.4"/><circle cx="111.0" cy="364.0" r="1.4"/><circle cx="68.0" cy="364.7" r="1.4"/><circle cx="119.0" cy="365.2" r="1.4"/><circle cx="120.7" cy="362.7" r="1.4"/><circle cx="135.7" cy="365.6" r="1.4"/><circle cx="93.7" cy="363.6" r="1.4"/><circle cx="128.0" cy="364.4" r="1.4"/><circle cx="126.8" cy="359.6" r="1.4"/><circle cx="119.7" cy="358.0" r="1.4"/><circle cx="89.3" cy="358.2" r="1.4"/><circle cx="76.8" cy="361.2" r="1.4"/><circle cx="110.7" cy="358.1" r="1.4"/><circle cx="70.7" cy="364.3" r="1.4"/><circle cx="110.3" cy="364.1" r="1.4"/><circle cx="136.5" cy="365.3" r="1.4"/><circle cx="74.8" cy="363.7" r="1.4"/><circle cx="79.3" cy="364.5" r="1.4"/><circle cx="124.6" cy="365.6" r="1.4"/><circle cx="62.1" cy="365.6" r="1.4"/><circle cx="71.0" cy="365.0" r="1.4"/><circle cx="115.6" cy="362.0" r="1.4"/><circle cx="90.5" cy="362.9" r="1.4"/><circle cx="109.6" cy="364.8" r="1.4"/><circle cx="89.8" cy="364.3" r="1.4"/><circle cx="123.9" cy="365.6" r="1.4"/><circle cx="109.1" cy="362.1" r="1.4"/><circle cx="89.4" cy="365.1" r="1.4"/><circle cx="123.0" cy="361.5" r="1.4"/><circle cx="141.4" cy="365.6" r="1.4"/><circle cx="83.8" cy="365.6" r="1.4"/><circle cx="65.8" cy="365.5" r="1.4"/><circle cx="118.0" cy="361.4" r="1.4"/><circle cx="116.6" cy="360.6" r="1.4"/><circle cx="116.9" cy="358.7" r="1.4"/><circle cx="79.4" cy="363.2" r="1.4"/><circle cx="87.1" cy="364.8" r="1.4"/><circle cx="89.2" cy="364.2" r="1.4"/><circle cx="58.4" cy="360.7" r="1.4"/><circle cx="137.9" cy="365.5" r="1.4"/><circle cx="109.3" cy="365.6" r="1.4"/><circle cx="94.1" cy="359.1" r="1.4"/><circle cx="82.4" cy="360.4" r="1.4"/><circle cx="91.2" cy="363.4" r="1.4"/><circle cx="92.6" cy="363.6" r="1.4"/><circle cx="126.0" cy="360.8" r="1.4"/><circle cx="85.3" cy="362.7" r="1.4"/><circle cx="90.2" cy="361.7" r="1.4"/><circle cx="138.4" cy="360.9" r="1.4"/><circle cx="65.7" cy="365.5" r="1.4"/><circle cx="88.0" cy="365.6" r="1.4"/><circle cx="73.3" cy="364.4" r="1.4"/><circle cx="93.5" cy="365.1" r="1.4"/><circle cx="134.7" cy="364.7" r="1.4"/><circle cx="124.4" cy="364.2" r="1.4"/><circle cx="117.7" cy="364.0" r="1.4"/><circle cx="91.8" cy="363.9" r="1.4"/><circle cx="76.0" cy="365.4" r="1.4"/><circle cx="73.8" cy="363.5" r="1.4"/><circle cx="123.3" cy="365.1" r="1.4"/><circle cx="85.0" cy="360.9" r="1.4"/><circle cx="118.4" cy="363.7" r="1.4"/><circle cx="63.1" cy="365.1" r="1.4"/><circle cx="93.8" cy="360.3" r="1.4"/><circle cx="128.9" cy="363.2" r="1.4"/><circle cx="68.2" cy="363.9" r="1.4"/><circle cx="79.1" cy="365.5" r="1.4"/><circle cx="120.5" cy="359.4" r="1.4"/><circle cx="93.0" cy="364.9" r="1.4"/><circle cx="112.6" cy="365.3" r="1.4"/><circle cx="93.3" cy="363.9" r="1.4"/><circle cx="128.6" cy="360.7" r="1.4"/><circle cx="114.5" cy="365.4" r="1.4"/><circle cx="135.6" cy="365.3" r="1.4"/><circle cx="79.4" cy="364.4" r="1.4"/><circle cx="130.9" cy="362.4" r="1.4"/><circle cx="78.9" cy="360.1" r="1.4"/><circle cx="118.5" cy="358.2" r="1.4"/><circle cx="120.6" cy="365.6" r="1.4"/><circle cx="76.5" cy="365.1" r="1.4"/><circle cx="71.6" cy="364.4" r="1.4"/><circle cx="76.0" cy="362.4" r="1.4"/><circle cx="109.5" cy="363.0" r="1.4"/><circle cx="66.1" cy="364.6" r="1.4"/><circle cx="77.2" cy="365.3" r="1.4"/><circle cx="69.8" cy="364.8" r="1.4"/><circle cx="92.1" cy="362.0" r="1.4"/><circle cx="117.5" cy="365.6" r="1.4"/><circle cx="114.7" cy="365.1" r="1.4"/><circle cx="90.9" cy="365.3" r="1.4"/><circle cx="122.7" cy="363.6" r="1.4"/><circle cx="72.2" cy="359.0" r="1.4"/><circle cx="73.8" cy="364.7" r="1.4"/><circle cx="93.0" cy="360.5" r="1.4"/><circle cx="68.4" cy="365.6" r="1.4"/><circle cx="70.3" cy="362.2" r="1.4"/><circle cx="79.5" cy="364.8" r="1.4"/><circle cx="109.6" cy="365.3" r="1.4"/><circle cx="117.3" cy="362.6" r="1.4"/><circle cx="107.2" cy="365.5" r="1.4"/><circle cx="143.4" cy="365.4" r="1.4"/><circle cx="84.7" cy="364.0" r="1.4"/><circle cx="77.8" cy="361.9" r="1.4"/><circle cx="78.5" cy="359.7" r="1.4"/><circle cx="115.1" cy="362.8" r="1.4"/><circle cx="109.3" cy="364.0" r="1.4"/><circle cx="113.7" cy="360.7" r="1.4"/><circle cx="94.0" cy="361.8" r="1.4"/><circle cx="125.2" cy="358.5" r="1.4"/><circle cx="79.9" cy="360.8" r="1.4"/><circle cx="122.0" cy="362.9" r="1.4"/><circle cx="90.5" cy="365.5" r="1.4"/><circle cx="124.6" cy="362.6" r="1.4"/><circle cx="89.2" cy="365.3" r="1.4"/><circle cx="140.6" cy="365.2" r="1.4"/><circle cx="81.3" cy="365.6" r="1.4"/><circle cx="74.8" cy="365.2" r="1.4"/><circle cx="81.2" cy="362.8" r="1.4"/><circle cx="72.2" cy="365.6" r="1.4"/><circle cx="79.5" cy="365.3" r="1.4"/><circle cx="92.2" cy="362.4" r="1.4"/><circle cx="77.0" cy="362.8" r="1.4"/><circle cx="119.1" cy="365.6" r="1.4"/><circle cx="86.9" cy="358.5" r="1.4"/><circle cx="114.5" cy="364.8" r="1.4"/><circle cx="107.2" cy="365.6" r="1.4"/><circle cx="121.7" cy="358.3" r="1.4"/><circle cx="120.6" cy="365.6" r="1.4"/><circle cx="76.4" cy="365.1" r="1.4"/><circle cx="110.9" cy="359.7" r="1.4"/><circle cx="114.9" cy="360.7" r="1.4"/><circle cx="84.1" cy="365.6" r="1.4"/><circle cx="110.5" cy="364.3" r="1.4"/><circle cx="114.8" cy="362.7" r="1.4"/><circle cx="118.8" cy="365.6" r="1.4"/><circle cx="70.1" cy="365.1" r="1.4"/><circle cx="109.5" cy="365.2" r="1.4"/><circle cx="87.7" cy="361.9" r="1.4"/><circle cx="86.2" cy="361.4" r="1.4"/><circle cx="117.5" cy="364.7" r="1.4"/><circle cx="79.4" cy="361.6" r="1.4"/><circle cx="130.3" cy="365.3" r="1.4"/><circle cx="117.0" cy="362.7" r="1.4"/><circle cx="93.9" cy="358.8" r="1.4"/><circle cx="116.8" cy="359.7" r="1.4"/><circle cx="84.4" cy="359.3" r="1.4"/><circle cx="123.9" cy="365.1" r="1.4"/><circle cx="82.4" cy="361.3" r="1.4"/><circle cx="126.1" cy="365.4" r="1.4"/><circle cx="69.1" cy="365.6" r="1.4"/><circle cx="120.4" cy="364.8" r="1.4"/><circle cx="86.7" cy="365.1" r="1.4"/><circle cx="107.5" cy="364.9" r="1.4"/><circle cx="118.9" cy="364.7" r="1.4"/><circle cx="74.7" cy="363.7" r="1.4"/><circle cx="93.7" cy="365.4" r="1.4"/><circle cx="86.7" cy="363.4" r="1.4"/><circle cx="112.7" cy="363.9" r="1.4"/><circle cx="85.1" cy="365.6" r="1.4"/><circle cx="117.5" cy="364.2" r="1.4"/><circle cx="62.6" cy="364.2" r="1.4"/><circle cx="82.3" cy="361.6" r="1.4"/><circle cx="87.5" cy="365.6" r="1.4"/><circle cx="70.2" cy="365.2" r="1.4"/><circle cx="113.4" cy="361.3" r="1.4"/><circle cx="68.2" cy="364.6" r="1.4"/><circle cx="81.6" cy="364.7" r="1.4"/><circle cx="126.0" cy="363.9" r="1.4"/><circle cx="126.5" cy="364.3" r="1.4"/><circle cx="125.3" cy="365.1" r="1.4"/><circle cx="93.7" cy="363.1" r="1.4"/><circle cx="93.9" cy="362.1" r="1.4"/><circle cx="69.7" cy="365.2" r="1.4"/><circle cx="114.5" cy="359.8" r="1.4"/><circle cx="74.6" cy="365.2" r="1.4"/><circle cx="88.8" cy="364.3" r="1.4"/><circle cx="126.0" cy="359.3" r="1.4"/><circle cx="110.4" cy="364.7" r="1.4"/><circle cx="82.0" cy="365.5" r="1.4"/><circle cx="111.8" cy="358.2" r="1.4"/><circle cx="66.1" cy="364.8" r="1.4"/><circle cx="126.3" cy="365.1" r="1.4"/><circle cx="94.3" cy="358.1" r="1.4"/><circle cx="77.1" cy="365.2" r="1.4"/><circle cx="132.2" cy="365.5" r="1.4"/><circle cx="89.4" cy="365.1" r="1.4"/><circle cx="86.3" cy="362.1" r="1.4"/><circle cx="85.3" cy="365.4" r="1.4"/><circle cx="86.5" cy="362.8" r="1.4"/><circle cx="88.6" cy="364.3" r="1.4"/><circle cx="78.9" cy="362.1" r="1.4"/><circle cx="121.0" cy="364.5" r="1.4"/><circle cx="113.1" cy="363.0" r="1.4"/><circle cx="124.4" cy="364.4" r="1.4"/><circle cx="112.5" cy="364.0" r="1.4"/><circle cx="115.0" cy="364.3" r="1.4"/><circle cx="86.7" cy="359.2" r="1.4"/><circle cx="116.6" cy="365.4" r="1.4"/><circle cx="69.4" cy="365.3" r="1.4"/><circle cx="110.5" cy="362.2" r="1.4"/><circle cx="90.1" cy="361.4" r="1.4"/><circle cx="112.4" cy="358.6" r="1.4"/><circle cx="65.4" cy="360.0" r="1.4"/><circle cx="108.9" cy="365.2" r="1.4"/><circle cx="117.6" cy="365.5" r="1.4"/><circle cx="62.9" cy="365.6" r="1.4"/><circle cx="69.9" cy="365.6" r="1.4"/><circle cx="87.6" cy="362.7" r="1.4"/><circle cx="136.6" cy="365.1" r="1.4"/><circle cx="90.4" cy="365.5" r="1.4"/><circle cx="134.1" cy="364.9" r="1.4"/><circle cx="109.3" cy="364.0" r="1.4"/><circle cx="114.7" cy="365.5" r="1.4"/><circle cx="119.4" cy="364.8" r="1.4"/><circle cx="116.7" cy="363.1" r="1.4"/><circle cx="88.5" cy="359.8" r="1.4"/><circle cx="83.1" cy="359.7" r="1.4"/><circle cx="120.2" cy="359.4" r="1.4"/><circle cx="111.7" cy="363.6" r="1.4"/><circle cx="109.5" cy="364.2" r="1.4"/><circle cx="89.8" cy="360.9" r="1.4"/><circle cx="116.3" cy="359.4" r="1.4"/><circle cx="107.3" cy="365.0" r="1.4"/><circle cx="112.7" cy="365.3" r="1.4"/><circle cx="113.3" cy="358.3" r="1.4"/><circle cx="124.6" cy="365.2" r="1.4"/><circle cx="113.5" cy="363.9" r="1.4"/><circle cx="121.2" cy="365.3" r="1.4"/><circle cx="76.6" cy="364.9" r="1.4"/><circle cx="89.9" cy="364.1" r="1.4"/><circle cx="64.2" cy="359.4" r="1.4"/><circle cx="113.5" cy="364.5" r="1.4"/><circle cx="122.2" cy="363.7" r="1.4"/><circle cx="80.7" cy="365.3" r="1.4"/><circle cx="112.5" cy="361.1" r="1.4"/><circle cx="112.4" cy="359.0" r="1.4"/><circle cx="118.6" cy="365.3" r="1.4"/><circle cx="121.3" cy="365.4" r="1.4"/><circle cx="68.7" cy="365.1" r="1.4"/><circle cx="73.9" cy="365.5" r="1.4"/><circle cx="107.4" cy="362.6" r="1.4"/><circle cx="84.6" cy="365.0" r="1.4"/><circle cx="126.4" cy="363.8" r="1.4"/><circle cx="90.7" cy="364.8" r="1.4"/><circle cx="71.9" cy="365.2" r="1.4"/><circle cx="117.0" cy="365.6" r="1.4"/><circle cx="112.5" cy="364.4" r="1.4"/><circle cx="115.6" cy="363.6" r="1.4"/><circle cx="79.2" cy="365.5" r="1.4"/><circle cx="123.8" cy="359.0" r="1.4"/><circle cx="84.9" cy="364.2" r="1.4"/><circle cx="94.0" cy="363.6" r="1.4"/><circle cx="61.5" cy="365.4" r="1.4"/><circle cx="121.0" cy="365.3" r="1.4"/><circle cx="78.2" cy="365.5" r="1.4"/><circle cx="109.3" cy="365.5" r="1.4"/><circle cx="108.5" cy="364.3" r="1.4"/><circle cx="88.0" cy="362.6" r="1.4"/><circle cx="92.1" cy="365.6" r="1.4"/><circle cx="119.5" cy="365.4" r="1.4"/><circle cx="136.4" cy="365.2" r="1.4"/><circle cx="75.9" cy="365.2" r="1.4"/><circle cx="142.8" cy="365.5" r="1.4"/><circle cx="84.5" cy="365.5" r="1.4"/><circle cx="91.1" cy="363.6" r="1.4"/><circle cx="134.2" cy="365.6" r="1.4"/><circle cx="87.0" cy="358.3" r="1.4"/><circle cx="116.6" cy="362.5" r="1.4"/><circle cx="72.2" cy="362.2" r="1.4"/><circle cx="115.4" cy="361.7" r="1.4"/><circle cx="111.3" cy="363.3" r="1.4"/><circle cx="75.5" cy="363.2" r="1.4"/><circle cx="69.3" cy="364.4" r="1.4"/><circle cx="111.9" cy="362.1" r="1.4"/><circle cx="120.8" cy="360.5" r="1.4"/><circle cx="66.4" cy="365.6" r="1.4"/><circle cx="84.4" cy="365.6" r="1.4"/><circle cx="85.2" cy="365.6" r="1.4"/><circle cx="88.4" cy="364.8" r="1.4"/><circle cx="85.9" cy="361.7" r="1.4"/><circle cx="113.0" cy="360.8" r="1.4"/><circle cx="115.4" cy="365.6" r="1.4"/><circle cx="126.6" cy="365.3" r="1.4"/><circle cx="83.0" cy="365.5" r="1.4"/><circle cx="122.2" cy="365.5" r="1.4"/><circle cx="114.9" cy="365.3" r="1.4"/><circle cx="80.3" cy="365.4" r="1.4"/><circle cx="81.6" cy="365.2" r="1.4"/><circle cx="85.8" cy="365.2" r="1.4"/><circle cx="88.4" cy="365.4" r="1.4"/><circle cx="89.4" cy="361.7" r="1.4"/><circle cx="80.3" cy="365.6" r="1.4"/><circle cx="140.1" cy="361.5" r="1.4"/><circle cx="111.9" cy="363.6" r="1.4"/><circle cx="65.3" cy="360.6" r="1.4"/><circle cx="86.6" cy="361.2" r="1.4"/><circle cx="132.2" cy="364.4" r="1.4"/><circle cx="128.5" cy="365.4" r="1.4"/><circle cx="109.4" cy="359.1" r="1.4"/><circle cx="115.3" cy="365.6" r="1.4"/><circle cx="68.8" cy="365.4" r="1.4"/><circle cx="92.9" cy="362.6" r="1.4"/><circle cx="112.1" cy="363.6" r="1.4"/><circle cx="117.0" cy="365.1" r="1.4"/><circle cx="66.9" cy="361.7" r="1.4"/><circle cx="80.4" cy="358.9" r="1.4"/><circle cx="84.0" cy="365.6" r="1.4"/><circle cx="139.1" cy="365.6" r="1.4"/><circle cx="129.0" cy="365.6" r="1.4"/><circle cx="79.6" cy="360.0" r="1.4"/><circle cx="107.2" cy="363.9" r="1.4"/><circle cx="115.3" cy="364.3" r="1.4"/><circle cx="92.4" cy="364.7" r="1.4"/><circle cx="114.4" cy="363.7" r="1.4"/><circle cx="108.2" cy="365.6" r="1.4"/><circle cx="79.5" cy="365.1" r="1.4"/><circle cx="93.0" cy="365.4" r="1.4"/><circle cx="114.2" cy="361.3" r="1.4"/><circle cx="128.9" cy="365.5" r="1.4"/><circle cx="120.1" cy="362.3" r="1.4"/><circle cx="85.5" cy="364.3" r="1.4"/><circle cx="75.1" cy="365.5" r="1.4"/><circle cx="132.0" cy="365.5" r="1.4"/><circle cx="87.5" cy="365.1" r="1.4"/><circle cx="124.7" cy="362.5" r="1.4"/><circle cx="63.9" cy="360.9" r="1.4"/><circle cx="128.4" cy="361.9" r="1.4"/><circle cx="91.5" cy="360.6" r="1.4"/><circle cx="109.8" cy="365.2" r="1.4"/><circle cx="109.0" cy="361.3" r="1.4"/><circle cx="87.8" cy="364.1" r="1.4"/><circle cx="119.6" cy="363.9" r="1.4"/><circle cx="80.6" cy="363.4" r="1.4"/><circle cx="72.4" cy="365.4" r="1.4"/><circle cx="84.8" cy="364.7" r="1.4"/><circle cx="73.7" cy="362.9" r="1.4"/><circle cx="137.4" cy="363.7" r="1.4"/><circle cx="90.4" cy="363.1" r="1.4"/><circle cx="83.8" cy="358.1" r="1.4"/><circle cx="79.9" cy="359.4" r="1.4"/><circle cx="116.1" cy="362.3" r="1.4"/><circle cx="134.5" cy="364.5" r="1.4"/><circle cx="68.8" cy="359.3" r="1.4"/><circle cx="132.7" cy="365.6" r="1.4"/><circle cx="82.1" cy="358.8" r="1.4"/><circle cx="88.4" cy="362.5" r="1.4"/><circle cx="77.9" cy="365.6" r="1.4"/><circle cx="110.9" cy="361.8" r="1.4"/><circle cx="108.5" cy="362.7" r="1.4"/><circle cx="88.7" cy="364.1" r="1.4"/><circle cx="125.1" cy="365.6" r="1.4"/><circle cx="115.9" cy="359.9" r="1.4"/><circle cx="118.0" cy="361.5" r="1.4"/><circle cx="126.9" cy="365.6" r="1.4"/><circle cx="77.2" cy="363.9" r="1.4"/><circle cx="87.0" cy="364.8" r="1.4"/><circle cx="128.4" cy="365.3" r="1.4"/><circle cx="88.6" cy="360.6" r="1.4"/><circle cx="129.1" cy="359.4" r="1.4"/><circle cx="126.6" cy="358.8" r="1.4"/><circle cx="63.6" cy="359.5" r="1.4"/><circle cx="108.4" cy="358.7" r="1.4"/><circle cx="80.5" cy="360.0" r="1.4"/><circle cx="135.3" cy="361.2" r="1.4"/><circle cx="123.2" cy="360.3" r="1.4"/><circle cx="87.2" cy="362.6" r="1.4"/><circle cx="119.9" cy="364.8" r="1.4"/><circle cx="123.7" cy="362.6" r="1.4"/><circle cx="94.6" cy="365.5" r="1.4"/><circle cx="78.0" cy="362.9" r="1.4"/><circle cx="109.5" cy="363.0" r="1.4"/><circle cx="90.3" cy="365.4" r="1.4"/><circle cx="81.8" cy="365.4" r="1.4"/><circle cx="86.3" cy="362.4" r="1.4"/><circle cx="89.3" cy="365.5" r="1.4"/><circle cx="119.8" cy="359.0" r="1.4"/><circle cx="78.1" cy="362.9" r="1.4"/><circle cx="109.1" cy="364.2" r="1.4"/><circle cx="89.7" cy="364.1" r="1.4"/><circle cx="83.7" cy="364.3" r="1.4"/><circle cx="107.5" cy="365.0" r="1.4"/><circle cx="114.4" cy="360.3" r="1.4"/><circle cx="77.6" cy="365.6" r="1.4"/><circle cx="83.2" cy="362.2" r="1.4"/><circle cx="114.6" cy="359.0" r="1.4"/><circle cx="89.1" cy="365.2" r="1.4"/><circle cx="89.8" cy="362.5" r="1.4"/><circle cx="139.1" cy="365.6" r="1.4"/><circle cx="84.6" cy="364.9" r="1.4"/><circle cx="134.5" cy="363.6" r="1.4"/><circle cx="68.7" cy="360.9" r="1.4"/><circle cx="83.1" cy="362.2" r="1.4"/><circle cx="78.5" cy="363.9" r="1.4"/><circle cx="88.1" cy="365.0" r="1.4"/><circle cx="82.3" cy="358.9" r="1.4"/><circle cx="90.9" cy="361.7" r="1.4"/><circle cx="91.2" cy="360.6" r="1.4"/><circle cx="77.1" cy="364.0" r="1.4"/><circle cx="87.6" cy="365.6" r="1.4"/><circle cx="114.5" cy="363.5" r="1.4"/><circle cx="88.9" cy="362.8" r="1.4"/><circle cx="91.3" cy="365.3" r="1.4"/><circle cx="71.4" cy="361.3" r="1.4"/><circle cx="87.2" cy="359.4" r="1.4"/><circle cx="62.7" cy="364.2" r="1.4"/><circle cx="82.4" cy="361.5" r="1.4"/><circle cx="91.4" cy="360.9" r="1.4"/><circle cx="72.9" cy="365.5" r="1.4"/><circle cx="85.7" cy="365.0" r="1.4"/><circle cx="114.8" cy="358.5" r="1.4"/><circle cx="72.6" cy="360.3" r="1.4"/><circle cx="93.7" cy="358.9" r="1.4"/><circle cx="81.8" cy="365.4" r="1.4"/><circle cx="110.0" cy="359.2" r="1.4"/><circle cx="111.4" cy="361.5" r="1.4"/><circle cx="89.4" cy="364.5" r="1.4"/><circle cx="85.5" cy="361.8" r="1.4"/><circle cx="109.4" cy="361.7" r="1.4"/><circle cx="128.4" cy="365.2" r="1.4"/><circle cx="91.3" cy="360.8" r="1.4"/><circle cx="111.1" cy="364.4" r="1.4"/><circle cx="82.0" cy="364.8" r="1.4"/><circle cx="84.6" cy="364.2" r="1.4"/><circle cx="75.2" cy="365.5" r="1.4"/><circle cx="73.5" cy="365.3" r="1.4"/><circle cx="78.0" cy="362.1" r="1.4"/><circle cx="133.5" cy="360.8" r="1.4"/><circle cx="78.4" cy="358.7" r="1.4"/><circle cx="134.8" cy="360.0" r="1.4"/><circle cx="87.9" cy="363.9" r="1.4"/><circle cx="62.2" cy="361.5" r="1.4"/><circle cx="116.8" cy="365.1" r="1.4"/><circle cx="114.2" cy="360.2" r="1.4"/><circle cx="88.8" cy="362.0" r="1.4"/><circle cx="110.7" cy="364.8" r="1.4"/><circle cx="116.0" cy="363.6" r="1.4"/><circle cx="89.4" cy="358.3" r="1.4"/><circle cx="108.7" cy="365.1" r="1.4"/><circle cx="85.9" cy="365.2" r="1.4"/><circle cx="94.0" cy="365.0" r="1.4"/><circle cx="62.9" cy="365.3" r="1.4"/><circle cx="85.4" cy="363.0" r="1.4"/><circle cx="119.2" cy="363.7" r="1.4"/><circle cx="91.4" cy="363.7" r="1.4"/><circle cx="117.1" cy="365.0" r="1.4"/><circle cx="80.1" cy="364.6" r="1.4"/><circle cx="71.6" cy="365.4" r="1.4"/><circle cx="74.5" cy="360.9" r="1.4"/><circle cx="82.8" cy="358.4" r="1.4"/><circle cx="115.8" cy="362.0" r="1.4"/><circle cx="134.5" cy="360.1" r="1.4"/><circle cx="81.1" cy="360.6" r="1.4"/><circle cx="80.8" cy="365.0" r="1.4"/><circle cx="118.8" cy="365.5" r="1.4"/><circle cx="114.9" cy="364.5" r="1.4"/><circle cx="116.1" cy="365.5" r="1.4"/><circle cx="135.8" cy="364.2" r="1.4"/><circle cx="76.3" cy="363.8" r="1.4"/><circle cx="85.9" cy="364.5" r="1.4"/><circle cx="82.1" cy="364.0" r="1.4"/><circle cx="92.5" cy="365.6" r="1.4"/><circle cx="68.5" cy="363.7" r="1.4"/><circle cx="88.6" cy="361.5" r="1.4"/><circle cx="124.0" cy="363.4" r="1.4"/><circle cx="94.7" cy="363.2" r="1.4"/><circle cx="120.6" cy="360.9" r="1.4"/><circle cx="77.8" cy="363.2" r="1.4"/><circle cx="109.7" cy="365.5" r="1.4"/><circle cx="125.8" cy="365.4" r="1.4"/><circle cx="110.5" cy="365.4" r="1.4"/><circle cx="82.8" cy="365.6" r="1.4"/><circle cx="110.6" cy="365.6" r="1.4"/><circle cx="117.8" cy="365.5" r="1.4"/><circle cx="69.7" cy="365.2" r="1.4"/><circle cx="91.7" cy="364.2" r="1.4"/><circle cx="93.1" cy="359.0" r="1.4"/><circle cx="89.5" cy="359.7" r="1.4"/><circle cx="87.7" cy="364.3" r="1.4"/><circle cx="112.3" cy="360.6" r="1.4"/><circle cx="117.8" cy="358.6" r="1.4"/><circle cx="72.5" cy="363.9" r="1.4"/><circle cx="89.9" cy="365.4" r="1.4"/><circle cx="129.5" cy="364.8" r="1.4"/><circle cx="92.5" cy="362.4" r="1.4"/><circle cx="113.4" cy="360.7" r="1.4"/><circle cx="115.2" cy="365.6" r="1.4"/><circle cx="82.4" cy="364.3" r="1.4"/><circle cx="118.1" cy="365.6" r="1.4"/><circle cx="112.2" cy="364.8" r="1.4"/><circle cx="115.1" cy="361.1" r="1.4"/><circle cx="122.0" cy="365.6" r="1.4"/><circle cx="110.8" cy="365.4" r="1.4"/><circle cx="77.5" cy="362.2" r="1.4"/><circle cx="72.7" cy="358.5" r="1.4"/><circle cx="86.2" cy="358.0" r="1.4"/><circle cx="71.1" cy="365.6" r="1.4"/><circle cx="111.1" cy="364.3" r="1.4"/><circle cx="132.8" cy="359.2" r="1.4"/><circle cx="93.1" cy="364.0" r="1.4"/><circle cx="88.1" cy="359.0" r="1.4"/><circle cx="84.4" cy="364.5" r="1.4"/><circle cx="114.6" cy="362.6" r="1.4"/><circle cx="112.1" cy="365.0" r="1.4"/><circle cx="120.9" cy="365.4" r="1.4"/><circle cx="82.7" cy="361.1" r="1.4"/><circle cx="72.2" cy="365.6" r="1.4"/><circle cx="124.2" cy="364.7" r="1.4"/><circle cx="116.4" cy="364.7" r="1.4"/><circle cx="109.7" cy="363.5" r="1.4"/><circle cx="84.8" cy="365.4" r="1.4"/><circle cx="83.9" cy="364.5" r="1.4"/><circle cx="115.7" cy="365.6" r="1.4"/><circle cx="82.9" cy="363.1" r="1.4"/><circle cx="90.3" cy="360.6" r="1.4"/><circle cx="111.5" cy="365.3" r="1.4"/><circle cx="82.9" cy="360.0" r="1.4"/><circle cx="70.0" cy="361.6" r="1.4"/><circle cx="110.6" cy="365.6" r="1.4"/><circle cx="79.2" cy="365.6" r="1.4"/><circle cx="116.8" cy="365.6" r="1.4"/><circle cx="121.7" cy="365.5" r="1.4"/><circle cx="120.1" cy="365.6" r="1.4"/><circle cx="121.5" cy="365.4" r="1.4"/><circle cx="117.8" cy="358.1" r="1.4"/><circle cx="61.7" cy="365.6" r="1.4"/><circle cx="81.8" cy="364.1" r="1.4"/><circle cx="90.9" cy="358.2" r="1.4"/><circle cx="120.5" cy="365.1" r="1.4"/><circle cx="115.6" cy="359.9" r="1.4"/><circle cx="118.3" cy="365.3" r="1.4"/><circle cx="113.5" cy="362.1" r="1.4"/><circle cx="91.6" cy="363.8" r="1.4"/><circle cx="77.3" cy="363.1" r="1.4"/><circle cx="123.7" cy="363.3" r="1.4"/><circle cx="86.6" cy="363.1" r="1.4"/><circle cx="111.7" cy="365.5" r="1.4"/><circle cx="87.0" cy="364.6" r="1.4"/><circle cx="117.4" cy="365.6" r="1.4"/><circle cx="71.3" cy="363.0" r="1.4"/><circle cx="129.4" cy="360.1" r="1.4"/><circle cx="111.4" cy="361.2" r="1.4"/><circle cx="72.2" cy="365.3" r="1.4"/><circle cx="88.2" cy="358.6" r="1.4"/><circle cx="92.3" cy="359.1" r="1.4"/><circle cx="110.9" cy="358.4" r="1.4"/><circle cx="76.1" cy="365.6" r="1.4"/><circle cx="122.6" cy="365.1" r="1.4"/><circle cx="93.3" cy="362.5" r="1.4"/><circle cx="82.7" cy="361.5" r="1.4"/><circle cx="84.9" cy="361.4" r="1.4"/><circle cx="90.3" cy="364.3" r="1.4"/><circle cx="88.8" cy="362.2" r="1.4"/><circle cx="68.4" cy="359.1" r="1.4"/><circle cx="69.7" cy="365.6" r="1.4"/><circle cx="117.3" cy="364.5" r="1.4"/><circle cx="72.9" cy="364.2" r="1.4"/><circle cx="109.3" cy="360.3" r="1.4"/><circle cx="82.6" cy="364.4" r="1.4"/><circle cx="78.9" cy="364.7" r="1.4"/><circle cx="127.6" cy="360.7" r="1.4"/><circle cx="85.4" cy="365.5" r="1.4"/><circle cx="88.1" cy="364.5" r="1.4"/><circle cx="76.5" cy="364.3" r="1.4"/><circle cx="115.3" cy="360.3" r="1.4"/><circle cx="76.4" cy="362.2" r="1.4"/><circle cx="122.2" cy="365.6" r="1.4"/><circle cx="88.6" cy="358.2" r="1.4"/><circle cx="85.4" cy="364.2" r="1.4"/><circle cx="69.5" cy="365.6" r="1.4"/><circle cx="90.4" cy="364.9" r="1.4"/><circle cx="72.9" cy="363.0" r="1.4"/><circle cx="108.0" cy="361.4" r="1.4"/><circle cx="129.4" cy="365.4" r="1.4"/><circle cx="94.1" cy="365.2" r="1.4"/><circle cx="118.3" cy="364.2" r="1.4"/><circle cx="141.9" cy="365.0" r="1.4"/><circle cx="121.6" cy="359.4" r="1.4"/><circle cx="112.7" cy="362.7" r="1.4"/><circle cx="87.7" cy="365.4" r="1.4"/><circle cx="121.7" cy="358.4" r="1.4"/><circle cx="129.9" cy="358.7" r="1.4"/><circle cx="113.8" cy="362.3" r="1.4"/><circle cx="117.6" cy="365.1" r="1.4"/><circle cx="118.6" cy="361.2" r="1.4"/><circle cx="74.1" cy="365.4" r="1.4"/><circle cx="89.4" cy="365.5" r="1.4"/><circle cx="88.0" cy="364.0" r="1.4"/><circle cx="108.5" cy="361.5" r="1.4"/><circle cx="72.0" cy="365.1" r="1.4"/><circle cx="110.4" cy="365.3" r="1.4"/><circle cx="74.5" cy="365.4" r="1.4"/><circle cx="131.0" cy="365.4" r="1.4"/><circle cx="119.0" cy="358.2" r="1.4"/><circle cx="107.6" cy="361.9" r="1.4"/><circle cx="112.1" cy="364.1" r="1.4"/><circle cx="66.9" cy="365.2" r="1.4"/><circle cx="120.4" cy="358.9" r="1.4"/><circle cx="118.1" cy="363.0" r="1.4"/><circle cx="121.2" cy="362.5" r="1.4"/><circle cx="114.6" cy="364.9" r="1.4"/><circle cx="87.4" cy="364.5" r="1.4"/><circle cx="137.9" cy="365.6" r="1.4"/><circle cx="124.7" cy="361.9" r="1.4"/><circle cx="135.9" cy="364.0" r="1.4"/><circle cx="59.6" cy="363.4" r="1.4"/><circle cx="141.2" cy="360.0" r="1.4"/><circle cx="92.1" cy="364.0" r="1.4"/><circle cx="137.9" cy="358.4" r="1.4"/><circle cx="108.4" cy="365.6" r="1.4"/><circle cx="121.9" cy="358.0" r="1.4"/><circle cx="130.9" cy="365.6" r="1.4"/><circle cx="84.7" cy="365.1" r="1.4"/><circle cx="80.9" cy="359.4" r="1.4"/><circle cx="85.3" cy="358.9" r="1.4"/><circle cx="85.9" cy="358.8" r="1.4"/><circle cx="90.2" cy="358.6" r="1.4"/><circle cx="116.0" cy="365.6" r="1.4"/><circle cx="132.7" cy="365.6" r="1.4"/><circle cx="68.6" cy="362.8" r="1.4"/><circle cx="84.7" cy="363.4" r="1.4"/><circle cx="71.1" cy="365.6" r="1.4"/><circle cx="120.8" cy="360.9" r="1.4"/><circle cx="117.9" cy="360.7" r="1.4"/><circle cx="80.1" cy="365.6" r="1.4"/><circle cx="93.4" cy="365.0" r="1.4"/><circle cx="94.4" cy="365.1" r="1.4"/><circle cx="75.8" cy="365.6" r="1.4"/><circle cx="123.2" cy="365.5" r="1.4"/><circle cx="72.0" cy="364.3" r="1.4"/><circle cx="120.6" cy="358.1" r="1.4"/><circle cx="111.5" cy="359.5" r="1.4"/><circle cx="119.4" cy="360.4" r="1.4"/><circle cx="113.6" cy="360.7" r="1.4"/><circle cx="73.4" cy="361.5" r="1.4"/><circle cx="93.9" cy="362.0" r="1.4"/><circle cx="133.4" cy="364.5" r="1.4"/><circle cx="112.3" cy="358.0" r="1.4"/><circle cx="69.5" cy="365.5" r="1.4"/><circle cx="114.9" cy="363.7" r="1.4"/><circle cx="73.5" cy="362.8" r="1.4"/><circle cx="109.8" cy="364.0" r="1.4"/><circle cx="86.5" cy="358.5" r="1.4"/><circle cx="139.1" cy="365.6" r="1.4"/><circle cx="81.4" cy="365.3" r="1.4"/><circle cx="107.1" cy="359.5" r="1.4"/><circle cx="108.3" cy="363.2" r="1.4"/><circle cx="89.7" cy="363.2" r="1.4"/><circle cx="122.4" cy="364.4" r="1.4"/><circle cx="111.8" cy="365.1" r="1.4"/><circle cx="94.6" cy="363.7" r="1.4"/><circle cx="137.1" cy="361.6" r="1.4"/><circle cx="122.2" cy="362.9" r="1.4"/><circle cx="92.2" cy="364.5" r="1.4"/><circle cx="75.9" cy="364.2" r="1.4"/><circle cx="70.4" cy="364.2" r="1.4"/><circle cx="111.8" cy="364.1" r="1.4"/><circle cx="118.6" cy="364.6" r="1.4"/><circle cx="109.9" cy="361.6" r="1.4"/><circle cx="86.6" cy="362.7" r="1.4"/><circle cx="90.0" cy="362.9" r="1.4"/><circle cx="84.7" cy="360.9" r="1.4"/><circle cx="122.0" cy="364.4" r="1.4"/><circle cx="112.7" cy="360.1" r="1.4"/><circle cx="117.7" cy="365.1" r="1.4"/><circle cx="90.7" cy="364.2" r="1.4"/><circle cx="83.1" cy="359.0" r="1.4"/><circle cx="128.4" cy="358.9" r="1.4"/><circle cx="93.7" cy="365.2" r="1.4"/><circle cx="121.4" cy="364.2" r="1.4"/><circle cx="81.8" cy="363.8" r="1.4"/><circle cx="117.0" cy="361.8" r="1.4"/><circle cx="132.6" cy="365.1" r="1.4"/><circle cx="113.8" cy="365.3" r="1.4"/><circle cx="114.6" cy="362.5" r="1.4"/><circle cx="87.8" cy="364.9" r="1.4"/><circle cx="80.9" cy="363.1" r="1.4"/><circle cx="114.9" cy="365.1" r="1.4"/><circle cx="86.4" cy="365.5" r="1.4"/><circle cx="138.8" cy="365.6" r="1.4"/><circle cx="117.3" cy="360.1" r="1.4"/><circle cx="107.6" cy="365.1" r="1.4"/><circle cx="127.5" cy="365.4" r="1.4"/><circle cx="112.7" cy="363.1" r="1.4"/><circle cx="84.4" cy="362.0" r="1.4"/><circle cx="116.6" cy="365.2" r="1.4"/><circle cx="79.2" cy="364.4" r="1.4"/><circle cx="89.4" cy="362.4" r="1.4"/><circle cx="92.8" cy="365.2" r="1.4"/><circle cx="91.0" cy="362.0" r="1.4"/><circle cx="77.3" cy="359.9" r="1.4"/><circle cx="109.6" cy="362.9" r="1.4"/><circle cx="83.0" cy="365.3" r="1.4"/><circle cx="112.2" cy="358.2" r="1.4"/><circle cx="87.1" cy="365.2" r="1.4"/><circle cx="108.5" cy="358.3" r="1.4"/><circle cx="86.4" cy="362.8" r="1.4"/><circle cx="109.9" cy="364.6" r="1.4"/><circle cx="84.6" cy="359.9" r="1.4"/><circle cx="112.5" cy="363.8" r="1.4"/><circle cx="119.4" cy="365.5" r="1.4"/><circle cx="75.2" cy="361.6" r="1.4"/><circle cx="134.1" cy="363.8" r="1.4"/><circle cx="126.2" cy="364.4" r="1.4"/><circle cx="120.9" cy="365.4" r="1.4"/><circle cx="88.0" cy="362.0" r="1.4"/><circle cx="126.5" cy="358.3" r="1.4"/><circle cx="91.5" cy="363.3" r="1.4"/><circle cx="120.2" cy="365.6" r="1.4"/><circle cx="126.9" cy="362.5" r="1.4"/><circle cx="116.2" cy="362.9" r="1.4"/><circle cx="81.9" cy="365.5" r="1.4"/><circle cx="121.3" cy="365.6" r="1.4"/><circle cx="114.9" cy="362.8" r="1.4"/><circle cx="123.3" cy="360.3" r="1.4"/><circle cx="82.0" cy="365.6" r="1.4"/><circle cx="83.1" cy="364.2" r="1.4"/><circle cx="88.7" cy="365.6" r="1.4"/><circle cx="107.3" cy="358.1" r="1.4"/><circle cx="87.1" cy="365.5" r="1.4"/><circle cx="65.3" cy="362.6" r="1.4"/><circle cx="111.0" cy="359.3" r="1.4"/><circle cx="90.5" cy="364.4" r="1.4"/><circle cx="118.1" cy="360.3" r="1.4"/><circle cx="90.5" cy="365.6" r="1.4"/><circle cx="68.4" cy="365.6" r="1.4"/><circle cx="137.1" cy="364.6" r="1.4"/><circle cx="66.7" cy="365.1" r="1.4"/><circle cx="118.0" cy="362.8" r="1.4"/><circle cx="110.4" cy="361.1" r="1.4"/><circle cx="117.6" cy="365.5" r="1.4"/><circle cx="86.9" cy="364.2" r="1.4"/><circle cx="113.0" cy="365.0" r="1.4"/><circle cx="87.4" cy="362.7" r="1.4"/><circle cx="70.4" cy="364.2" r="1.4"/><circle cx="115.2" cy="360.1" r="1.4"/><circle cx="109.1" cy="365.4" r="1.4"/><circle cx="125.5" cy="365.6" r="1.4"/><circle cx="65.6" cy="365.6" r="1.4"/><circle cx="82.7" cy="364.8" r="1.4"/><circle cx="81.1" cy="360.9" r="1.4"/><circle cx="111.7" cy="362.4" r="1.4"/><circle cx="83.2" cy="365.0" r="1.4"/><circle cx="127.5" cy="358.2" r="1.4"/><circle cx="115.9" cy="365.4" r="1.4"/><circle cx="75.2" cy="364.2" r="1.4"/><circle cx="87.7" cy="365.2" r="1.4"/><circle cx="86.7" cy="365.0" r="1.4"/><circle cx="125.7" cy="365.5" r="1.4"/><circle cx="79.4" cy="361.9" r="1.4"/><circle cx="76.2" cy="365.5" r="1.4"/><circle cx="91.5" cy="360.5" r="1.4"/><circle cx="78.3" cy="363.0" r="1.4"/><circle cx="74.9" cy="362.8" r="1.4"/><circle cx="131.3" cy="365.6" r="1.4"/><circle cx="118.2" cy="365.5" r="1.4"/><circle cx="93.6" cy="364.6" r="1.4"/><circle cx="109.3" cy="362.8" r="1.4"/><circle cx="115.9" cy="359.4" r="1.4"/><circle cx="82.7" cy="364.5" r="1.4"/><circle cx="114.5" cy="360.4" r="1.4"/><circle cx="89.5" cy="365.3" r="1.4"/><circle cx="115.2" cy="360.4" r="1.4"/><circle cx="119.9" cy="365.6" r="1.4"/><circle cx="85.7" cy="361.3" r="1.4"/><circle cx="67.3" cy="361.9" r="1.4"/><circle cx="67.8" cy="365.3" r="1.4"/><circle cx="120.0" cy="358.0" r="1.4"/><circle cx="117.4" cy="362.2" r="1.4"/><circle cx="80.1" cy="362.9" r="1.4"/><circle cx="116.4" cy="365.4" r="1.4"/><circle cx="85.1" cy="358.9" r="1.4"/><circle cx="119.3" cy="363.9" r="1.4"/><circle cx="66.4" cy="365.6" r="1.4"/><circle cx="129.9" cy="358.2" r="1.4"/><circle cx="121.9" cy="365.5" r="1.4"/><circle cx="83.8" cy="365.6" r="1.4"/><circle cx="117.5" cy="363.6" r="1.4"/><circle cx="116.4" cy="365.5" r="1.4"/><circle cx="127.6" cy="365.2" r="1.4"/><circle cx="63.7" cy="365.6" r="1.4"/><circle cx="123.6" cy="363.3" r="1.4"/><circle cx="107.9" cy="363.8" r="1.4"/><circle cx="63.5" cy="365.2" r="1.4"/><circle cx="123.1" cy="363.9" r="1.4"/><circle cx="122.5" cy="363.4" r="1.4"/><circle cx="117.4" cy="363.1" r="1.4"/><circle cx="88.3" cy="359.3" r="1.4"/><circle cx="118.4" cy="364.4" r="1.4"/><circle cx="107.7" cy="359.5" r="1.4"/><circle cx="80.4" cy="361.8" r="1.4"/><circle cx="112.3" cy="360.5" r="1.4"/><circle cx="123.8" cy="363.1" r="1.4"/><circle cx="118.4" cy="363.0" r="1.4"/><circle cx="92.1" cy="364.5" r="1.4"/><circle cx="83.5" cy="361.9" r="1.4"/><circle cx="85.1" cy="365.1" r="1.4"/><circle cx="126.9" cy="360.1" r="1.4"/><circle cx="79.5" cy="360.3" r="1.4"/><circle cx="66.4" cy="364.5" r="1.4"/><circle cx="108.5" cy="364.4" r="1.4"/><circle cx="91.5" cy="360.8" r="1.4"/><circle cx="119.3" cy="361.2" r="1.4"/><circle cx="84.5" cy="363.1" r="1.4"/><circle cx="84.2" cy="358.9" r="1.4"/><circle cx="116.1" cy="365.1" r="1.4"/><circle cx="117.2" cy="364.1" r="1.4"/><circle cx="129.2" cy="365.6" r="1.4"/><circle cx="126.1" cy="365.5" r="1.4"/><circle cx="74.2" cy="358.2" r="1.4"/><circle cx="73.2" cy="365.5" r="1.4"/><circle cx="118.9" cy="362.7" r="1.4"/><circle cx="85.8" cy="363.4" r="1.4"/><circle cx="123.3" cy="364.2" r="1.4"/><circle cx="109.6" cy="365.3" r="1.4"/><circle cx="133.1" cy="358.7" r="1.4"/><circle cx="107.1" cy="365.0" r="1.4"/><circle cx="85.3" cy="362.1" r="1.4"/><circle cx="112.3" cy="364.4" r="1.4"/><circle cx="123.9" cy="360.2" r="1.4"/><circle cx="116.4" cy="365.6" r="1.4"/><circle cx="81.4" cy="360.0" r="1.4"/><circle cx="92.8" cy="363.0" r="1.4"/><circle cx="117.1" cy="358.1" r="1.4"/><circle cx="120.9" cy="364.2" r="1.4"/><circle cx="123.9" cy="364.3" r="1.4"/><circle cx="107.4" cy="362.7" r="1.4"/><circle cx="85.2" cy="362.6" r="1.4"/><circle cx="91.0" cy="361.2" r="1.4"/><circle cx="113.0" cy="358.8" r="1.4"/><circle cx="94.5" cy="360.6" r="1.4"/><circle cx="119.2" cy="364.5" r="1.4"/><circle cx="116.2" cy="358.7" r="1.4"/><circle cx="112.4" cy="365.5" r="1.4"/><circle cx="114.5" cy="362.7" r="1.4"/><circle cx="59.4" cy="364.6" r="1.4"/><circle cx="81.7" cy="365.6" r="1.4"/><circle cx="124.3" cy="364.9" r="1.4"/><circle cx="81.7" cy="359.6" r="1.4"/><circle cx="112.8" cy="364.2" r="1.4"/><circle cx="77.5" cy="364.9" r="1.4"/><circle cx="91.2" cy="365.0" r="1.4"/><circle cx="85.5" cy="358.8" r="1.4"/><circle cx="110.3" cy="363.2" r="1.4"/><circle cx="125.4" cy="365.5" r="1.4"/><circle cx="112.7" cy="363.8" r="1.4"/><circle cx="85.9" cy="365.3" r="1.4"/><circle cx="112.5" cy="360.3" r="1.4"/><circle cx="131.3" cy="365.3" r="1.4"/><circle cx="125.2" cy="359.8" r="1.4"/><circle cx="117.5" cy="365.6" r="1.4"/><circle cx="70.3" cy="360.7" r="1.4"/><circle cx="117.2" cy="365.3" r="1.4"/><circle cx="88.0" cy="363.1" r="1.4"/><circle cx="82.6" cy="365.6" r="1.4"/><circle cx="88.1" cy="358.1" r="1.4"/><circle cx="75.9" cy="361.9" r="1.4"/><circle cx="113.6" cy="362.2" r="1.4"/><circle cx="124.9" cy="365.5" r="1.4"/><circle cx="109.8" cy="361.2" r="1.4"/><circle cx="80.8" cy="365.6" r="1.4"/><circle cx="116.1" cy="363.3" r="1.4"/><circle cx="110.0" cy="364.0" r="1.4"/><circle cx="108.3" cy="361.1" r="1.4"/><circle cx="80.7" cy="362.9" r="1.4"/><circle cx="113.1" cy="360.0" r="1.4"/><circle cx="118.1" cy="364.4" r="1.4"/><circle cx="84.7" cy="360.2" r="1.4"/><circle cx="58.7" cy="365.1" r="1.4"/><circle cx="64.4" cy="360.9" r="1.4"/><circle cx="108.6" cy="365.4" r="1.4"/><circle cx="90.4" cy="365.6" r="1.4"/><circle cx="117.9" cy="359.3" r="1.4"/><circle cx="81.1" cy="364.7" r="1.4"/><circle cx="128.7" cy="364.0" r="1.4"/><circle cx="77.1" cy="363.3" r="1.4"/><circle cx="90.9" cy="365.6" r="1.4"/><circle cx="79.0" cy="363.6" r="1.4"/><circle cx="65.7" cy="364.7" r="1.4"/><circle cx="89.9" cy="362.7" r="1.4"/><circle cx="72.3" cy="362.0" r="1.4"/><circle cx="134.3" cy="364.0" r="1.4"/><circle cx="118.5" cy="361.0" r="1.4"/><circle cx="111.0" cy="363.4" r="1.4"/><circle cx="130.4" cy="365.4" r="1.4"/><circle cx="94.0" cy="361.7" r="1.4"/><circle cx="85.8" cy="363.6" r="1.4"/><circle cx="83.1" cy="365.5" r="1.4"/><circle cx="115.0" cy="362.6" r="1.4"/><circle cx="128.7" cy="362.7" r="1.4"/><circle cx="86.7" cy="362.0" r="1.4"/><circle cx="126.4" cy="362.5" r="1.4"/><circle cx="72.4" cy="364.0" r="1.4"/><circle cx="110.8" cy="364.3" r="1.4"/><circle cx="112.5" cy="363.9" r="1.4"/><circle cx="82.8" cy="365.1" r="1.4"/><circle cx="107.9" cy="363.6" r="1.4"/><circle cx="125.2" cy="365.6" r="1.4"/><circle cx="79.5" cy="360.1" r="1.4"/><circle cx="130.3" cy="359.4" r="1.4"/><circle cx="61.5" cy="365.6" r="1.4"/><circle cx="130.3" cy="365.4" r="1.4"/><circle cx="87.5" cy="365.2" r="1.4"/><circle cx="72.2" cy="363.5" r="1.4"/><circle cx="80.4" cy="365.4" r="1.4"/><circle cx="70.9" cy="359.3" r="1.4"/><circle cx="83.6" cy="362.1" r="1.4"/><circle cx="111.2" cy="363.5" r="1.4"/><circle cx="88.5" cy="359.8" r="1.4"/><circle cx="84.4" cy="362.2" r="1.4"/><circle cx="91.8" cy="358.4" r="1.4"/><circle cx="87.8" cy="359.0" r="1.4"/><circle cx="89.3" cy="364.0" r="1.4"/><circle cx="129.4" cy="363.3" r="1.4"/><circle cx="65.6" cy="358.1" r="1.4"/><circle cx="115.0" cy="358.3" r="1.4"/><circle cx="141.4" cy="365.2" r="1.4"/><circle cx="130.8" cy="363.7" r="1.4"/><circle cx="118.9" cy="365.0" r="1.4"/><circle cx="82.1" cy="360.5" r="1.4"/><circle cx="139.2" cy="360.0" r="1.4"/><circle cx="122.7" cy="360.0" r="1.4"/><circle cx="63.8" cy="365.6" r="1.4"/><circle cx="108.5" cy="362.0" r="1.4"/><circle cx="112.6" cy="365.4" r="1.4"/><circle cx="132.3" cy="365.4" r="1.4"/><circle cx="88.9" cy="363.8" r="1.4"/><circle cx="89.4" cy="363.1" r="1.4"/><circle cx="127.0" cy="363.1" r="1.4"/><circle cx="94.4" cy="359.2" r="1.4"/><circle cx="75.7" cy="363.9" r="1.4"/><circle cx="113.5" cy="360.3" r="1.4"/><circle cx="66.4" cy="365.1" r="1.4"/><circle cx="77.6" cy="365.2" r="1.4"/><circle cx="112.4" cy="358.4" r="1.4"/><circle cx="116.0" cy="365.6" r="1.4"/><circle cx="84.0" cy="361.6" r="1.4"/><circle cx="87.2" cy="365.2" r="1.4"/><circle cx="87.8" cy="358.5" r="1.4"/><circle cx="125.0" cy="365.6" r="1.4"/><circle cx="61.0" cy="364.5" r="1.4"/><circle cx="83.2" cy="364.4" r="1.4"/><circle cx="132.8" cy="365.4" r="1.4"/><circle cx="88.6" cy="364.9" r="1.4"/><circle cx="67.4" cy="364.9" r="1.4"/><circle cx="125.1" cy="364.0" r="1.4"/><circle cx="87.5" cy="362.4" r="1.4"/><circle cx="126.7" cy="365.6" r="1.4"/><circle cx="87.5" cy="358.1" r="1.4"/><circle cx="112.7" cy="361.1" r="1.4"/><circle cx="90.8" cy="363.0" r="1.4"/><circle cx="129.3" cy="365.6" r="1.4"/><circle cx="92.9" cy="365.2" r="1.4"/><circle cx="83.6" cy="364.0" r="1.4"/><circle cx="91.6" cy="360.5" r="1.4"/><circle cx="111.6" cy="365.1" r="1.4"/><circle cx="93.5" cy="363.6" r="1.4"/><circle cx="78.8" cy="359.9" r="1.4"/><circle cx="110.1" cy="364.9" r="1.4"/><circle cx="82.2" cy="365.1" r="1.4"/><circle cx="117.8" cy="365.6" r="1.4"/><circle cx="113.5" cy="364.7" r="1.4"/><circle cx="131.1" cy="365.6" r="1.4"/><circle cx="110.4" cy="363.0" r="1.4"/><circle cx="74.9" cy="362.1" r="1.4"/><circle cx="120.9" cy="360.1" r="1.4"/><circle cx="129.4" cy="360.2" r="1.4"/><circle cx="143.7" cy="365.4" r="1.4"/><circle cx="116.5" cy="365.6" r="1.4"/><circle cx="73.5" cy="362.3" r="1.4"/><circle cx="128.7" cy="359.2" r="1.4"/><circle cx="118.9" cy="361.1" r="1.4"/><circle cx="90.7" cy="365.4" r="1.4"/><circle cx="90.1" cy="364.7" r="1.4"/><circle cx="79.1" cy="365.4" r="1.4"/><circle cx="123.7" cy="365.5" r="1.4"/><circle cx="109.9" cy="365.1" r="1.4"/><circle cx="109.6" cy="361.7" r="1.4"/><circle cx="62.3" cy="365.3" r="1.4"/><circle cx="85.8" cy="362.8" r="1.4"/><circle cx="84.1" cy="362.3" r="1.4"/><circle cx="118.9" cy="364.7" r="1.4"/><circle cx="91.4" cy="364.9" r="1.4"/><circle cx="111.2" cy="365.5" r="1.4"/><circle cx="118.3" cy="365.0" r="1.4"/><circle cx="108.3" cy="359.7" r="1.4"/><circle cx="138.0" cy="365.2" r="1.4"/><circle cx="83.7" cy="364.2" r="1.4"/><circle cx="89.5" cy="365.2" r="1.4"/><circle cx="75.7" cy="358.3" r="1.4"/><circle cx="114.6" cy="365.6" r="1.4"/><circle cx="84.3" cy="365.3" r="1.4"/><circle cx="86.4" cy="363.0" r="1.4"/><circle cx="64.7" cy="363.1" r="1.4"/><circle cx="89.3" cy="365.4" r="1.4"/><circle cx="88.9" cy="365.6" r="1.4"/><circle cx="69.3" cy="365.6" r="1.4"/><circle cx="118.1" cy="365.5" r="1.4"/><circle cx="87.6" cy="362.9" r="1.4"/><circle cx="109.0" cy="359.2" r="1.4"/><circle cx="86.1" cy="365.6" r="1.4"/><circle cx="93.8" cy="360.7" r="1.4"/><circle cx="115.3" cy="364.9" r="1.4"/><circle cx="117.1" cy="363.6" r="1.4"/><circle cx="125.0" cy="365.3" r="1.4"/><circle cx="66.5" cy="365.6" r="1.4"/><circle cx="82.9" cy="365.6" r="1.4"/><circle cx="80.6" cy="365.2" r="1.4"/><circle cx="79.9" cy="364.9" r="1.4"/><circle cx="123.6" cy="359.7" r="1.4"/><circle cx="84.4" cy="363.6" r="1.4"/><circle cx="117.7" cy="362.8" r="1.4"/><circle cx="108.4" cy="365.6" r="1.4"/><circle cx="85.8" cy="363.9" r="1.4"/><circle cx="85.7" cy="359.3" r="1.4"/><circle cx="128.8" cy="365.3" r="1.4"/><circle cx="92.8" cy="365.0" r="1.4"/><circle cx="85.7" cy="363.9" r="1.4"/><circle cx="134.7" cy="363.6" r="1.4"/><circle cx="107.6" cy="365.4" r="1.4"/><circle cx="118.0" cy="364.8" r="1.4"/><circle cx="82.9" cy="358.1" r="1.4"/><circle cx="115.9" cy="365.2" r="1.4"/><circle cx="111.2" cy="365.1" r="1.4"/><circle cx="82.5" cy="365.6" r="1.4"/><circle cx="87.1" cy="364.2" r="1.4"/><circle cx="69.6" cy="364.8" r="1.4"/><circle cx="76.5" cy="365.0" r="1.4"/><circle cx="111.5" cy="360.2" r="1.4"/><circle cx="93.4" cy="359.2" r="1.4"/><circle cx="80.7" cy="365.5" r="1.4"/><circle cx="131.6" cy="364.9" r="1.4"/><circle cx="94.2" cy="362.8" r="1.4"/><circle cx="125.3" cy="361.0" r="1.4"/><circle cx="108.2" cy="365.2" r="1.4"/><circle cx="84.7" cy="361.7" r="1.4"/><circle cx="130.6" cy="364.4" r="1.4"/><circle cx="119.4" cy="362.1" r="1.4"/><circle cx="77.3" cy="364.2" r="1.4"/><circle cx="88.1" cy="365.5" r="1.4"/><circle cx="67.6" cy="365.6" r="1.4"/><circle cx="92.3" cy="365.5" r="1.4"/><circle cx="113.4" cy="363.6" r="1.4"/><circle cx="86.8" cy="362.3" r="1.4"/><circle cx="125.3" cy="364.7" r="1.4"/><circle cx="94.7" cy="365.0" r="1.4"/><circle cx="86.4" cy="359.5" r="1.4"/><circle cx="89.7" cy="361.5" r="1.4"/><circle cx="112.9" cy="365.2" r="1.4"/><circle cx="111.5" cy="365.4" r="1.4"/><circle cx="131.2" cy="365.6" r="1.4"/><circle cx="111.7" cy="358.1" r="1.4"/><circle cx="94.3" cy="359.5" r="1.4"/><circle cx="112.3" cy="359.4" r="1.4"/><circle cx="119.2" cy="365.6" r="1.4"/><circle cx="133.3" cy="361.9" r="1.4"/><circle cx="118.7" cy="365.1" r="1.4"/><circle cx="86.3" cy="365.4" r="1.4"/><circle cx="89.5" cy="365.3" r="1.4"/><circle cx="82.3" cy="360.6" r="1.4"/><circle cx="119.7" cy="364.6" r="1.4"/><circle cx="63.4" cy="364.0" r="1.4"/><circle cx="83.1" cy="360.0" r="1.4"/><circle cx="86.0" cy="364.7" r="1.4"/><circle cx="66.3" cy="365.6" r="1.4"/><circle cx="83.8" cy="365.5" r="1.4"/><circle cx="110.4" cy="362.9" r="1.4"/><circle cx="111.6" cy="364.9" r="1.4"/></g>
<g fill="#4d4d4d" fill-opacity="0.5"><circle cx="100.3" cy="362.6" r="1.4"/><circle cx="106.0" cy="363.4" r="1.4"/><circle cx="101.0" cy="362.3" r="1.4"/><circle cx="97.1" cy="363.0" r="1.4"/><circle cx="102.5" cy="360.3" r="1.4"/><circle cx="96.0" cy="364.5" r="1.4"/><circle cx="95.9" cy="360.2" r="1.4"/><circle cx="103.2" cy="365.6" r="1.4"/><circle cx="106.8" cy="358.4" r="1.4"/><circle cx="102.8" cy="362.1" r="1.4"/><circle cx="96.7" cy="365.6" r="1.4"/><circle cx="101.2" cy="365.5" r="1.4"/><circle cx="97.1" cy="364.8" r="1.4"/><circle cx="95.2" cy="363.4" r="1.4"/><circle cx="100.2" cy="359.8" r="1.4"/><circle cx="101.1" cy="361.9" r="1.4"/><circle cx="100.9" cy="361.7" r="1.4"/><circle cx="100.4" cy="364.6" r="1.4"/><circle cx="106.9" cy="358.0" r="1.4"/><circle cx="105.0" cy="361.2" r="1.4"/><circle cx="98.7" cy="364.9" r="1.4"/><circle cx="98.3" cy="365.5" r="1.4"/><circle cx="104.1" cy="363.8" r="1.4"/><circle cx="105.1" cy="363.9" r="1.4"/><circle cx="106.5" cy="359.7" r="1.4"/><circle cx="94.8" cy="365.0" r="1.4"/><circle cx="105.9" cy="363.3" r="1.4"/><circle cx="106.7" cy="363.9" r="1.4"/><circle cx="95.7" cy="362.0" r="1.4"/><circle cx="104.3" cy="364.7" r="1.4"/><circle cx="95.9" cy="364.3" r="1.4"/><circle cx="106.5" cy="360.7" r="1.4"/><circle cx="96.3" cy="364.8" r="1.4"/><circle cx="96.1" cy="365.5" r="1.4"/><circle cx="104.5" cy="365.1" r="1.4"/><circle cx="101.6" cy="363.5" r="1.4"/><circle cx="97.1" cy="361.0" r="1.4"/><circle cx="96.4" cy="361.8" r="1.4"/><circle cx="96.2" cy="363.7" r="1.4"/><circle cx="97.4" cy="364.7" r="1.4"/><circle cx="106.6" cy="360.2" r="1.4"/><circle cx="98.5" cy="359.3" r="1.4"/><circle cx="97.4" cy="363.9" r="1.4"/><circle cx="105.2" cy="361.8" r="1.4"/><circle cx="96.0" cy="358.1" r="1.4"/><circle cx="97.4" cy="364.7" r="1.4"/><circle cx="104.2" cy="364.3" r="1.4"/><circle cx="98.4" cy="365.5" r="1.4"/><circle cx="95.9" cy="362.4" r="1.4"/><circle cx="97.8" cy="362.2" r="1.4"/><circle cx="99.3" cy="363.4" r="1.4"/><circle cx="106.5" cy="363.2" r="1.4"/><circle cx="101.8" cy="359.5" r="1.4"/><circle cx="97.1" cy="365.2" r="1.4"/><circle cx="105.9" cy="360.1" r="1.4"/><circle cx="97.9" cy="365.1" r="1.4"/><circle cx="103.8" cy="358.7" r="1.4"/><circle cx="97.2" cy="358.6" r="1.4"/><circle cx="105.5" cy="362.2" r="1.4"/><circle cx="99.9" cy="365.4" r="1.4"/><circle cx="95.3" cy="358.4" r="1.4"/><circle cx="97.7" cy="361.2" r="1.4"/><circle cx="98.0" cy="360.0" r="1.4"/><circle cx="102.1" cy="364.5" r="1.4"/><circle cx="97.0" cy="361.1" r="1.4"/><circle cx="95.7" cy="364.9" r="1.4"/><circle cx="101.6" cy="359.7" r="1.4"/><circle cx="102.3" cy="364.6" r="1.4"/><circle cx="106.0" cy="365.0" r="1.4"/><circle cx="95.0" cy="364.7" r="1.4"/><circle cx="100.2" cy="365.5" r="1.4"/><circle cx="97.0" cy="364.1" r="1.4"/><circle cx="101.8" cy="365.3" r="1.4"/><circle cx="99.2" cy="359.3" r="1.4"/><circle cx="106.7" cy="361.7" r="1.4"/><circle cx="103.2" cy="362.4" r="1.4"/><circle cx="96.5" cy="365.6" r="1.4"/><circle cx="95.0" cy="359.0" r="1.4"/><circle cx="103.3" cy="358.4" r="1.4"/><circle cx="95.1" cy="361.9" r="1.4"/><circle cx="100.7" cy="361.0" r="1.4"/><circle cx="98.7" cy="358.0" r="1.4"/><circle cx="95.7" cy="362.7" r="1.4"/><circle cx="103.8" cy="359.2" r="1.4"/><circle cx="103.8" cy="361.3" r="1.4"/><circle cx="104.5" cy="359.0" r="1.4"/><circle cx="99.1" cy="361.4" r="1.4"/><circle cx="105.8" cy="359.5" r="1.4"/><circle cx="99.9" cy="360.4" r="1.4"/><circle cx="105.3" cy="362.5" r="1.4"/><circle cx="102.4" cy="364.0" r="1.4"/><circle cx="101.9" cy="362.2" r="1.4"/><circle cx="95.8" cy="361.9" r="1.4"/><circle cx="106.9" cy="359.4" r="1.4"/><circle cx="103.7" cy="363.9" r="1.4"/><circle cx="103.8" cy="362.4" r="1.4"/><circle cx="100.2" cy="359.8" r="1.4"/><circle cx="95.8" cy="360.8" r="1.4"/><circle cx="95.2" cy="362.2" r="1.4"/><circle cx="100.7" cy="364.9" r="1.4"/><circle cx="103.3" cy="363.1" r="1.4"/><circle cx="102.3" cy="358.9" r="1.4"/><circle cx="97.9" cy="365.6" r="1.4"/><circle cx="98.5" cy="361.5" r="1.4"/><circle cx="97.3" cy="365.2" r="1.4"/><circle cx="105.8" cy="361.7" r="1.4"/><circle cx="100.2" cy="359.2" r="1.4"/><circle cx="98.8" cy="361.6" r="1.4"/><circle cx="97.2" cy="363.6" r="1.4"/><circle cx="104.6" cy="359.0" r="1.4"/><circle cx="105.5" cy="363.9" r="1.4"/><circle cx="101.9" cy="364.4" r="1.4"/><circle cx="96.5" cy="363.1" r="1.4"/><circle cx="105.0" cy="359.7" r="1.4"/><circle cx="103.5" cy="358.6" r="1.4"/><circle cx="98.2" cy="365.2" r="1.4"/><circle cx="100.3" cy="364.6" r="1.4"/><circle cx="97.4" cy="363.7" r="1.4"/><circle cx="102.4" cy="363.1" r="1.4"/><circle cx="98.7" cy="359.8" r="1.4"/><circle cx="106.8" cy="363.5" r="1.4"/><circle cx="95.7" cy="365.6" r="1.4"/><circle cx="105.4" cy="365.6" r="1.4"/><circle cx="103.4" cy="362.5" r="1.4"/><circle cx="98.6" cy="360.4" r="1.4"/><circle cx="95.1" cy="365.3" r="1.4"/><circle cx="100.4" cy="365.6" r="1.4"/><circle cx="104.9" cy="364.8" r="1.4"/><circle cx="96.5" cy="365.5" r="1.4"/><circle cx="102.5" cy="363.5" r="1.4"/><circle cx="102.5" cy="361.7" r="1.4"/><circle cx="104.6" cy="358.5" r="1.4"/><circle cx="103.1" cy="365.0" r="1.4"/><circle cx="100.6" cy="365.1" r="1.4"/><circle cx="95.0" cy="363.3" r="1.4"/><circle cx="103.5" cy="365.1" r="1.4"/><circle cx="98.1" cy="364.2" r="1.4"/><circle cx="103.3" cy="362.9" r="1.4"/><circle cx="102.3" cy="360.7" r="1.4"/><circle cx="99.6" cy="360.3" r="1.4"/><circle cx="105.8" cy="365.4" r="1.4"/><circle cx="106.2" cy="361.1" r="1.4"/><circle cx="96.4" cy="363.4" r="1.4"/><circle cx="102.4" cy="359.0" r="1.4"/><circle cx="99.4" cy="362.5" r="1.4"/><circle cx="105.5" cy="360.3" r="1.4"/><circle cx="106.3" cy="363.4" r="1.4"/><circle cx="102.7" cy="365.0" r="1.4"/><circle cx="103.6" cy="360.1" r="1.4"/><circle cx="102.6" cy="361.1" r="1.4"/><circle cx="97.4" cy="359.2" r="1.4"/><circle cx="106.7" cy="358.2" r="1.4"/><circle cx="101.3" cy="360.4" r="1.4"/><circle cx="98.7" cy="359.0" r="1.4"/><circle cx="105.2" cy="364.2" r="1.4"/><circle cx="95.8" cy="363.5" r="1.4"/><circle cx="101.5" cy="360.6" r="1.4"/><circle cx="100.7" cy="365.6" r="1.4"/><circle cx="104.7" cy="365.5" r="1.4"/><circle cx="104.5" cy="365.1" r="1.4"/><circle cx="98.9" cy="360.4" r="1.4"/><circle cx="96.5" cy="365.2" r="1.4"/><circle cx="101.1" cy="361.1" r="1.4"/><circle cx="105.0" cy="361.4" r="1.4"/><circle cx="106.3" cy="363.1" r="1.4"/><circle cx="106.4" cy="365.4" r="1.4"/><circle cx="97.5" cy="362.9" r="1.4"/><circle cx="98.4" cy="361.0" r="1.4"/><circle cx="102.6" cy="362.9" r="1.4"/><circle cx="105.1" cy="362.6" r="1.4"/><circle cx="98.6" cy="364.0" r="1.4"/><circle cx="105.1" cy="359.1" r="1.4"/><circle cx="97.4" cy="359.7" r="1.4"/><circle cx="106.6" cy="362.9" r="1.4"/><circle cx="101.8" cy="365.0" r="1.4"/><circle cx="101.3" cy="363.1" r="1.4"/><circle cx="102.2" cy="365.6" r="1.4"/><circle cx="106.6" cy="363.0" r="1.4"/><circle cx="99.7" cy="360.3" r="1.4"/><circle cx="101.7" cy="363.2" r="1.4"/><circle cx="103.2" cy="365.5" r="1.4"/><circle cx="101.4" cy="363.7" r="1.4"/><circle cx="106.4" cy="358.9" r="1.4"/><circle cx="98.1" cy="363.3" r="1.4"/><circle cx="96.4" cy="363.6" r="1.4"/><circle cx="104.7" cy="359.1" r="1.4"/><circle cx="100.6" cy="364.4" r="1.4"/><circle cx="97.2" cy="362.1" r="1.4"/><circle cx="106.1" cy="365.3" r="1.4"/><circle cx="104.3" cy="365.6" r="1.4"/><circle cx="97.2" cy="364.9" r="1.4"/><circle cx="103.2" cy="364.4" r="1.4"/><circle cx="99.1" cy="362.1" r="1.4"/><circle cx="96.1" cy="361.0" r="1.4"/><circle cx="96.3" cy="363.0" r="1.4"/><circle cx="97.9" cy="365.0" r="1.4"/><circle cx="101.3" cy="363.6" r="1.4"/><circle cx="99.4" cy="363.7" r="1.4"/><circle cx="101.3" cy="365.2" r="1.4"/><circle cx="97.3" cy="361.9" r="1.4"/><circle cx="102.6" cy="362.8" r="1.4"/><circle cx="105.2" cy="362.1" r="1.4"/><circle cx="105.2" cy="364.9" r="1.4"/><circle cx="103.8" cy="360.1" r="1.4"/><circle cx="105.8" cy="364.4" r="1.4"/><circle cx="98.7" cy="358.9" r="1.4"/><circle cx="97.5" cy="358.0" r="1.4"/><circle cx="105.6" cy="365.3" r="1.4"/><circle cx="97.7" cy="361.0" r="1.4"/><circle cx="98.0" cy="365.4" r="1.4"/><circle cx="104.9" cy="363.7" r="1.4"/><circle cx="104.4" cy="365.3" r="1.4"/><circle cx="99.7" cy="361.4" r="1.4"/><circle cx="95.0" cy="365.0" r="1.4"/><circle cx="103.1" cy="359.0" r="1.4"/><circle cx="106.6" cy="365.4" r="1.4"/><circle cx="101.0" cy="360.7" r="1.4"/><circle cx="100.9" cy="361.4" r="1.4"/><circle cx="97.1" cy="365.5" r="1.4"/><circle cx="96.1" cy="365.6" r="1.4"/><circle cx="101.5" cy="363.0" r="1.4"/><circle cx="101.7" cy="365.2" r="1.4"/><circle cx="97.1" cy="365.0" r="1.4"/><circle cx="105.0" cy="358.1" r="1.4"/><circle cx="106.1" cy="365.4" r="1.4"/><circle cx="95.6" cy="358.6" r="1.4"/><circle cx="100.4" cy="360.6" r="1.4"/><circle cx="98.8" cy="363.3" r="1.4"/><circle cx="101.1" cy="363.6" r="1.4"/><circle cx="102.1" cy="365.6" r="1.4"/><circle cx="103.3" cy="359.8" r="1.4"/><circle cx="97.0" cy="363.4" r="1.4"/><circle cx="103.8" cy="363.8" r="1.4"/><circle cx="97.2" cy="365.2" r="1.4"/><circle cx="101.1" cy="365.6" r="1.4"/><circle cx="105.7" cy="360.2" r="1.4"/><circle cx="103.4" cy="359.6" r="1.4"/><circle cx="102.5" cy="363.8" r="1.4"/><circle cx="102.1" cy="363.0" r="1.4"/><circle cx="106.8" cy="360.2" r="1.4"/><circle cx="98.0" cy="359.0" r="1.4"/><circle cx="103.9" cy="360.5" r="1.4"/><circle cx="104.7" cy="363.8" r="1.4"/><circle cx="105.7" cy="359.4" r="1.4"/><circle cx="103.3" cy="360.6" r="1.4"/><circle cx="104.1" cy="363.8" r="1.4"/><circle cx="103.6" cy="365.5" r="1.4"/><circle cx="99.0" cy="363.3" r="1.4"/><circle cx="95.0" cy="364.1" r="1.4"/><circle cx="102.6" cy="362.0" r="1.4"/><circle cx="97.6" cy="358.6" r="1.4"/><circle cx="102.9" cy="364.3" r="1.4"/><circle cx="102.8" cy="362.5" r="1.4"/><circle cx="101.3" cy="363.9" r="1.4"/><circle cx="107.0" cy="361.8" r="1.4"/><circle cx="103.3" cy="360.7" r="1.4"/><circle cx="106.7" cy="365.6" r="1.4"/><circle cx="102.3" cy="360.9" r="1.4"/><circle cx="97.9" cy="363.8" r="1.4"/><circle cx="95.4" cy="365.0" r="1.4"/><circle cx="99.4" cy="365.4" r="1.4"/><circle cx="97.9" cy="359.1" r="1.4"/><circle cx="101.5" cy="363.0" r="1.4"/><circle cx="106.6" cy="362.5" r="1.4"/><circle cx="106.9" cy="361.9" r="1.4"/><circle cx="104.7" cy="365.5" r="1.4"/><circle cx="102.1" cy="360.7" r="1.4"/><circle cx="95.4" cy="358.8" r="1.4"/><circle cx="96.8" cy="363.3" r="1.4"/><circle cx="96.9" cy="363.1" r="1.4"/><circle cx="102.2" cy="365.5" r="1.4"/><circle cx="106.3" cy="363.7" r="1.4"/><circle cx="101.2" cy="362.3" r="1.4"/><circle cx="99.3" cy="364.6" r="1.4"/><circle cx="102.8" cy="362.6" r="1.4"/><circle cx="98.3" cy="361.1" r="1.4"/><circle cx="98.4" cy="365.6" r="1.4"/><circle cx="97.8" cy="365.6" r="1.4"/><circle cx="96.7" cy="360.7" r="1.4"/><circle cx="99.6" cy="359.2" r="1.4"/><circle cx="103.9" cy="365.5" r="1.4"/><circle cx="106.8" cy="358.6" r="1.4"/><circle cx="95.7" cy="359.1" r="1.4"/><circle cx="100.0" cy="363.3" r="1.4"/><circle cx="106.6" cy="364.8" r="1.4"/><circle cx="101.2" cy="358.7" r="1.4"/><circle cx="103.6" cy="363.3" r="1.4"/><circle cx="106.7" cy="360.1" r="1.4"/><circle cx="102.2" cy="365.4" r="1.4"/><circle cx="102.4" cy="363.4" r="1.4"/><circle cx="97.3" cy="365.5" r="1.4"/><circle cx="101.2" cy="365.3" r="1.4"/><circle cx="100.2" cy="361.6" r="1.4"/><circle cx="100.4" cy="364.7" r="1.4"/><circle cx="101.9" cy="363.7" r="1.4"/><circle cx="104.3" cy="362.8" r="1.4"/><circle cx="106.9" cy="358.5" r="1.4"/><circle cx="103.7" cy="364.8" r="1.4"/><circle cx="96.2" cy="359.2" r="1.4"/><circle cx="104.4" cy="362.0" r="1.4"/><circle cx="99.2" cy="364.7" r="1.4"/><circle cx="103.1" cy="362.5" r="1.4"/><circle cx="102.0" cy="361.9" r="1.4"/><circle cx="104.0" cy="365.1" r="1.4"/><circle cx="97.9" cy="358.2" r="1.4"/><circle cx="105.9" cy="359.4" r="1.4"/><circle cx="95.3" cy="365.5" r="1.4"/><circle cx="98.1" cy="363.7" r="1.4"/><circle cx="102.4" cy="365.4" r="1.4"/><circle cx="101.4" cy="365.5" r="1.4"/><circle cx="95.9" cy="361.5" r="1.4"/><circle cx="101.5" cy="361.9" r="1.4"/><circle cx="99.4" cy="363.3" r="1.4"/><circle cx="97.4" cy="364.2" r="1.4"/><circle cx="103.9" cy="359.8" r="1.4"/><circle cx="95.7" cy="365.3" r="1.4"/><circle cx="104.7" cy="362.0" r="1.4"/><circle cx="104.2" cy="365.0" r="1.4"/><circle cx="100.0" cy="364.7" r="1.4"/><circle cx="104.7" cy="364.1" r="1.4"/><circle cx="102.8" cy="358.1" r="1.4"/><circle cx="98.8" cy="362.7" r="1.4"/><circle cx="103.9" cy="358.9" r="1.4"/><circle cx="100.0" cy="364.1" r="1.4"/><circle cx="96.0" cy="359.4" r="1.4"/><circle cx="95.8" cy="365.5" r="1.4"/><circle cx="101.7" cy="363.2" r="1.4"/><circle cx="103.1" cy="364.5" r="1.4"/><circle cx="104.2" cy="365.5" r="1.4"/><circle cx="97.4" cy="361.7" r="1.4"/><circle cx="95.8" cy="364.5" r="1.4"/><circle cx="103.6" cy="361.3" r="1.4"/><circle cx="98.3" cy="365.3" r="1.4"/><circle cx="99.2" cy="361.0" r="1.4"/><circle cx="99.3" cy="365.4" r="1.4"/><circle cx="103.4" cy="362.5" r="1.4"/><circle cx="106.0" cy="358.7" r="1.4"/><circle cx="105.9" cy="363.6" r="1.4"/><circle cx="104.6" cy="364.5" r="1.4"/><circle cx="98.7" cy="363.8" r="1.4"/><circle cx="106.2" cy="359.2" r="1.4"/><circle cx="97.8" cy="364.1" r="1.4"/><circle cx="99.3" cy="364.1" r="1.4"/><circle cx="99.6" cy="363.9" r="1.4"/><circle cx="97.2" cy="362.6" r="1.4"/><circle cx="104.5" cy="362.7" r="1.4"/><circle cx="105.0" cy="362.6" r="1.4"/><circle cx="97.0" cy="360.7" r="1.4"/><circle cx="105.5" cy="364.6" r="1.4"/><circle cx="95.1" cy="363.0" r="1.4"/><circle cx="101.4" cy="362.5" r="1.4"/><circle cx="106.6" cy="361.8" r="1.4"/><circle cx="104.6" cy="365.5" r="1.4"/><circle cx="101.5" cy="360.4" r="1.4"/><circle cx="95.9" cy="365.5" r="1.4"/><circle cx="103.8" cy="359.2" r="1.4"/><circle cx="95.9" cy="361.9" r="1.4"/><circle cx="96.6" cy="360.8" r="1.4"/><circle cx="102.7" cy="364.8" r="1.4"/><circle cx="97.5" cy="360.6" r="1.4"/><circle cx="101.2" cy="360.6" r="1.4"/><circle cx="99.6" cy="364.3" r="1.4"/><circle cx="106.6" cy="361.6" r="1.4"/><circle cx="100.8" cy="362.8" r="1.4"/><circle cx="103.6" cy="361.2" r="1.4"/><circle cx="105.9" cy="363.8" r="1.4"/><circle cx="104.9" cy="361.6" r="1.4"/><circle cx="105.2" cy="360.2" r="1.4"/><circle cx="105.0" cy="359.3" r="1.4"/><circle cx="106.5" cy="361.9" r="1.4"/><circle cx="101.2" cy="361.2" r="1.4"/><circle cx="104.6" cy="363.7" r="1.4"/><circle cx="99.9" cy="365.2" r="1.4"/><circle cx="103.8" cy="358.1" r="1.4"/><circle cx="99.4" cy="365.2" r="1.4"/><circle cx="97.3" cy="363.7" r="1.4"/><circle cx="98.4" cy="358.3" r="1.4"/><circle cx="95.5" cy="364.4" r="1.4"/><circle cx="96.2" cy="361.8" r="1.4"/><circle cx="104.2" cy="365.1" r="1.4"/><circle cx="95.6" cy="363.4" r="1.4"/><circle cx="101.9" cy="359.0" r="1.4"/><circle cx="95.3" cy="365.4" r="1.4"/><circle cx="97.1" cy="364.9" r="1.4"/><circle cx="97.7" cy="361.1" r="1.4"/><circle cx="102.1" cy="364.9" r="1.4"/><circle cx="97.1" cy="364.6" r="1.4"/><circle cx="96.9" cy="360.7" r="1.4"/><circle cx="98.6" cy="362.7" r="1.4"/><circle cx="104.7" cy="363.2" r="1.4"/><circle cx="98.0" cy="359.3" r="1.4"/><circle cx="105.9" cy="364.2" r="1.4"/><circle cx="101.5" cy="358.5" r="1.4"/><circle cx="100.7" cy="364.9" r="1.4"/><circle cx="95.4" cy="358.6" r="1.4"/><circle cx="104.6" cy="363.9" r="1.4"/><circle cx="101.2" cy="363.0" r="1.4"/><circle cx="98.2" cy="358.1" r="1.4"/><circle cx="102.8" cy="364.8" r="1.4"/><circle cx="95.0" cy="363.3" r="1.4"/><circle cx="99.3" cy="360.3" r="1.4"/><circle cx="103.5" cy="362.2" r="1.4"/><circle cx="96.7" cy="365.2" r="1.4"/><circle cx="98.7" cy="364.7" r="1.4"/><circle cx="105.4" cy="363.0" r="1.4"/><circle cx="102.6" cy="358.1" r="1.4"/><circle cx="98.1" cy="362.8" r="1.4"/><circle cx="96.7" cy="360.6" r="1.4"/><circle cx="94.8" cy="360.0" r="1.4"/><circle cx="105.1" cy="360.0" r="1.4"/><circle cx="95.8" cy="364.7" r="1.4"/><circle cx="103.5" cy="365.4" r="1.4"/><circle cx="100.7" cy="363.3" r="1.4"/><circle cx="106.4" cy="362.4" r="1.4"/><circle cx="105.2" cy="364.5" r="1.4"/><circle cx="104.4" cy="363.7" r="1.4"/><circle cx="106.0" cy="365.4" r="1.4"/><circle cx="104.9" cy="365.0" r="1.4"/><circle cx="101.4" cy="362.9" r="1.4"/><circle cx="96.7" cy="359.9" r="1.4"/><circle cx="98.6" cy="364.4" r="1.4"/><circle cx="95.8" cy="364.5" r="1.4"/><circle cx="100.5" cy="361.1" r="1.4"/><circle cx="99.2" cy="361.4" r="1.4"/><circle cx="96.1" cy="363.9" r="1.4"/><circle cx="100.4" cy="358.4" r="1.4"/><circle cx="104.9" cy="361.7" r="1.4"/><circle cx="95.0" cy="364.0" r="1.4"/><circle cx="103.4" cy="364.8" r="1.4"/><circle cx="101.7" cy="363.4" r="1.4"/><circle cx="95.0" cy="358.1" r="1.4"/><circle cx="104.5" cy="365.0" r="1.4"/><circle cx="102.3" cy="364.5" r="1.4"/><circle cx="99.4" cy="362.8" r="1.4"/><circle cx="98.5" cy="364.3" r="1.4"/><circle cx="99.6" cy="361.6" r="1.4"/><circle cx="97.9" cy="365.0" r="1.4"/><circle cx="103.7" cy="364.3" r="1.4"/><circle cx="106.3" cy="362.6" r="1.4"/><circle cx="103.6" cy="364.3" r="1.4"/><circle cx="104.9" cy="365.4" r="1.4"/><circle cx="96.5" cy="365.4" r="1.4"/><circle cx="103.1" cy="361.2" r="1.4"/><circle cx="97.0" cy="363.8" r="1.4"/><circle cx="105.0" cy="362.3" r="1.4"/><circle cx="95.9" cy="364.9" r="1.4"/><circle cx="96.7" cy="365.3" r="1.4"/><circle cx="99.8" cy="365.5" r="1.4"/><circle cx="106.0" cy="363.6" r="1.4"/><circle cx="101.0" cy="361.8" r="1.4"/><circle cx="104.1" cy="360.0" r="1.4"/><circle cx="99.5" cy="364.3" r="1.4"/><circle cx="99.8" cy="365.6" r="1.4"/><circle cx="99.7" cy="361.3" r="1.4"/><circle cx="106.7" cy="360.4" r="1.4"/><circle cx="102.8" cy="362.2" r="1.4"/><circle cx="95.1" cy="364.3" r="1.4"/><circle cx="99.0" cy="361.8" r="1.4"/><circle cx="96.1" cy="364.0" r="1.4"/><circle cx="101.0" cy="360.4" r="1.4"/><circle cx="104.8" cy="362.1" r="1.4"/><circle cx="96.8" cy="360.6" r="1.4"/><circle cx="105.8" cy="362.7" r="1.4"/><circle cx="99.1" cy="363.1" r="1.4"/><circle cx="96.6" cy="361.2" r="1.4"/><circle cx="106.8" cy="363.0" r="1.4"/><circle cx="103.5" cy="359.9" r="1.4"/><circle cx="97.2" cy="358.6" r="1.4"/><circle cx="102.4" cy="365.0" r="1.4"/><circle cx="95.8" cy="364.8" r="1.4"/><circle cx="101.8" cy="361.3" r="1.4"/><circle cx="98.8" cy="358.8" r="1.4"/><circle cx="99.2" cy="363.4" r="1.4"/><circle cx="96.3" cy="358.3" r="1.4"/><circle cx="96.5" cy="359.1" r="1.4"/><circle cx="101.4" cy="362.6" r="1.4"/><circle cx="101.6" cy="364.7" r="1.4"/><circle cx="105.9" cy="358.1" r="1.4"/><circle cx="104.8" cy="362.2" r="1.4"/><circle cx="96.3" cy="360.0" r="1.4"/><circle cx="98.3" cy="359.2" r="1.4"/><circle cx="97.8" cy="362.5" r="1.4"/><circle cx="104.9" cy="365.1" r="1.4"/><circle cx="101.5" cy="365.5" r="1.4"/><circle cx="95.2" cy="365.1" r="1.4"/><circle cx="106.8" cy="358.7" r="1.4"/><circle cx="102.8" cy="364.4" r="1.4"/><circle cx="103.0" cy="360.9" r="1.4"/><circle cx="99.5" cy="362.3" r="1.4"/><circle cx="104.6" cy="365.6" r="1.4"/><circle cx="97.3" cy="363.3" r="1.4"/><circle cx="96.6" cy="363.9" r="1.4"/><circle cx="101.7" cy="365.1" r="1.4"/><circle cx="101.1" cy="364.7" r="1.4"/><circle cx="101.7" cy="364.3" r="1.4"/><circle cx="102.6" cy="365.6" r="1.4"/><circle cx="103.0" cy="365.3" r="1.4"/><circle cx="106.5" cy="362.2" r="1.4"/><circle cx="100.5" cy="363.8" r="1.4"/><circle cx="102.4" cy="361.4" r="1.4"/><circle cx="104.0" cy="360.8" r="1.4"/><circle cx="100.7" cy="358.0" r="1.4"/><circle cx="105.0" cy="359.7" r="1.4"/><circle cx="99.8" cy="363.6" r="1.4"/><circle cx="101.7" cy="359.1" r="1.4"/><circle cx="101.2" cy="362.9" r="1.4"/><circle cx="100.1" cy="359.1" r="1.4"/><circle cx="98.7" cy="365.5" r="1.4"/><circle cx="103.6" cy="359.2" r="1.4"/><circle cx="103.7" cy="362.3" r="1.4"/><circle cx="104.0" cy="364.5" r="1.4"/><circle cx="102.0" cy="365.5" r="1.4"/><circle cx="96.3" cy="363.5" r="1.4"/><circle cx="100.9" cy="363.9" r="1.4"/><circle cx="95.5" cy="361.3" r="1.4"/><circle cx="101.2" cy="364.8" r="1.4"/><circle cx="98.5" cy="363.9" r="1.4"/><circle cx="97.7" cy="365.5" r="1.4"/><circle cx="105.9" cy="358.4" r="1.4"/><circle cx="102.9" cy="359.5" r="1.4"/><circle cx="99.9" cy="360.2" r="1.4"/><circle cx="97.5" cy="360.8" r="1.4"/><circle cx="101.7" cy="359.1" r="1.4"/><circle cx="96.0" cy="360.3" r="1.4"/><circle cx="96.3" cy="362.8" r="1.4"/><circle cx="106.4" cy="365.6" r="1.4"/><circle cx="97.8" cy="364.5" r="1.4"/><circle cx="98.8" cy="365.5" r="1.4"/><circle cx="105.7" cy="360.1" r="1.4"/><circle cx="99.7" cy="364.1" r="1.4"/><circle cx="101.9" cy="365.5" r="1.4"/><circle cx="95.2" cy="359.2" r="1.4"/><circle cx="98.6" cy="363.1" r="1.4"/><circle cx="106.2" cy="358.2" r="1.4"/><circle cx="100.6" cy="365.0" r="1.4"/><circle cx="98.4" cy="358.9" r="1.4"/><circle cx="105.7" cy="365.0" r="1.4"/><circle cx="105.0" cy="364.2" r="1.4"/><circle cx="100.6" cy="365.1" r="1.4"/><circle cx="105.5" cy="358.0" r="1.4"/><circle cx="97.3" cy="361.9" r="1.4"/><circle cx="97.2" cy="359.4" r="1.4"/><circle cx="95.4" cy="365.4" r="1.4"/><circle cx="103.6" cy="364.4" r="1.4"/><circle cx="105.8" cy="359.5" r="1.4"/><circle cx="103.5" cy="365.3" r="1.4"/><circle cx="103.3" cy="358.7" r="1.4"/><circle cx="100.2" cy="365.5" r="1.4"/><circle cx="97.5" cy="364.4" r="1.4"/><circle cx="103.5" cy="365.0" r="1.4"/><circle cx="97.0" cy="364.8" r="1.4"/><circle cx="102.9" cy="360.4" r="1.4"/><circle cx="99.4" cy="361.7" r="1.4"/><circle cx="105.6" cy="362.3" r="1.4"/><circle cx="97.6" cy="364.5" r="1.4"/><circle cx="106.1" cy="361.6" r="1.4"/><circle cx="98.2" cy="361.9" r="1.4"/><circle cx="95.9" cy="358.2" r="1.4"/><circle cx="100.2" cy="362.9" r="1.4"/><circle cx="101.3" cy="365.5" r="1.4"/><circle cx="102.1" cy="364.6" r="1.4"/><circle cx="97.9" cy="360.2" r="1.4"/><circle cx="95.9" cy="364.6" r="1.4"/><circle cx="104.0" cy="364.8" r="1.4"/><circle cx="98.2" cy="362.7" r="1.4"/><circle cx="97.1" cy="359.2" r="1.4"/><circle cx="106.8" cy="365.6" r="1.4"/><circle cx="100.4" cy="360.8" r="1.4"/><circle cx="99.5" cy="358.8" r="1.4"/><circle cx="100.9" cy="365.1" r="1.4"/><circle cx="101.6" cy="361.8" r="1.4"/><circle cx="99.2" cy="361.7" r="1.4"/><circle cx="104.3" cy="362.9" r="1.4"/><circle cx="101.0" cy="359.8" r="1.4"/><circle cx="103.1" cy="362.9" r="1.4"/><circle cx="106.4" cy="365.1" r="1.4"/><circle cx="104.3" cy="365.2" r="1.4"/><circle cx="102.2" cy="364.8" r="1.4"/><circle cx="100.2" cy="360.5" r="1.4"/><circle cx="104.4" cy="360.4" r="1.4"/><circle cx="97.7" cy="363.2" r="1.4"/><circle cx="97.5" cy="362.4" r="1.4"/><circle cx="100.9" cy="365.6" r="1.4"/><circle cx="102.1" cy="361.1" r="1.4"/><circle cx="101.8" cy="359.5" r="1.4"/><circle cx="97.0" cy="365.2" r="1.4"/><circle cx="95.0" cy="363.1" r="1.4"/><circle cx="100.1" cy="363.5" r="1.4"/><circle cx="98.0" cy="360.3" r="1.4"/><circle cx="95.7" cy="359.1" r="1.4"/><circle cx="101.7" cy="362.7" r="1.4"/><circle cx="104.4" cy="364.8" r="1.4"/><circle cx="96.6" cy="364.4" r="1.4"/><circle cx="95.3" cy="364.4" r="1.4"/><circle cx="102.4" cy="362.9" r="1.4"/><circle cx="98.0" cy="362.3" r="1.4"/><circle cx="95.9" cy="360.0" r="1.4"/><circle cx="96.9" cy="364.7" r="1.4"/><circle cx="96.8" cy="361.4" r="1.4"/><circle cx="104.9" cy="360.4" r="1.4"/><circle cx="95.6" cy="363.8" r="1.4"/><circle cx="99.3" cy="364.9" r="1.4"/><circle cx="106.6" cy="365.6" r="1.4"/><circle cx="100.8" cy="360.7" r="1.4"/><circle cx="106.8" cy="365.3" r="1.4"/><circle cx="100.4" cy="360.8" r="1.4"/><circle cx="95.3" cy="364.8" r="1.4"/><circle cx="105.6" cy="365.3" r="1.4"/><circle cx="99.6" cy="364.5" r="1.4"/><circle cx="100.0" cy="365.5" r="1.4"/><circle cx="95.2" cy="358.0" r="1.4"/><circle cx="104.1" cy="360.9" r="1.4"/><circle cx="97.6" cy="364.8" r="1.4"/><circle cx="101.5" cy="364.8" r="1.4"/><circle cx="100.4" cy="358.8" r="1.4"/><circle cx="99.2" cy="364.3" r="1.4"/><circle cx="106.7" cy="362.1" r="1.4"/><circle cx="95.3" cy="363.8" r="1.4"/><circle cx="102.7" cy="365.5" r="1.4"/><circle cx="99.0" cy="361.3" r="1.4"/><circle cx="105.3" cy="362.3" r="1.4"/><circle cx="105.6" cy="363.4" r="1.4"/><circle cx="99.6" cy="359.8" r="1.4"/><circle cx="99.5" cy="360.5" r="1.4"/><circle cx="97.4" cy="364.2" r="1.4"/><circle cx="97.1" cy="362.7" r="1.4"/><circle cx="96.8" cy="365.0" r="1.4"/><circle cx="97.4" cy="363.3" r="1.4"/><circle cx="98.6" cy="363.5" r="1.4"/><circle cx="106.9" cy="361.5" r="1.4"/><circle cx="105.3" cy="365.0" r="1.4"/><circle cx="99.5" cy="365.5" r="1.4"/><circle cx="103.2" cy="364.1" r="1.4"/><circle cx="98.2" cy="365.6" r="1.4"/><circle cx="97.0" cy="364.7" r="1.4"/><circle cx="99.6" cy="358.9" r="1.4"/><circle cx="103.5" cy="364.7" r="1.4"/><circle cx="99.2" cy="365.2" r="1.4"/><circle cx="106.2" cy="364.1" r="1.4"/><circle cx="104.1" cy="361.1" r="1.4"/><circle cx="105.8" cy="365.6" r="1.4"/><circle cx="98.7" cy="363.9" r="1.4"/><circle cx="95.8" cy="359.4" r="1.4"/><circle cx="98.8" cy="360.6" r="1.4"/><circle cx="101.1" cy="365.5" r="1.4"/><circle cx="99.6" cy="364.8" r="1.4"/><circle cx="95.3" cy="365.2" r="1.4"/><circle cx="102.1" cy="365.6" r="1.4"/><circle cx="98.6" cy="363.7" r="1.4"/><circle cx="101.4" cy="365.3" r="1.4"/><circle cx="103.4" cy="364.7" r="1.4"/><circle cx="103.6" cy="361.6" r="1.4"/><circle cx="96.6" cy="365.0" r="1.4"/><circle cx="98.2" cy="361.2" r="1.4"/><circle cx="99.8" cy="363.9" r="1.4"/><circle cx="105.3" cy="364.9" r="1.4"/><circle cx="98.4" cy="364.2" r="1.4"/><circle cx="97.5" cy="365.6" r="1.4"/><circle cx="95.1" cy="362.0" r="1.4"/><circle cx="101.7" cy="360.2" r="1.4"/><circle cx="106.7" cy="364.5" r="1.4"/><circle cx="103.0" cy="358.9" r="1.4"/><circle cx="97.5" cy="361.4" r="1.4"/><circle cx="102.9" cy="358.5" r="1.4"/><circle cx="105.4" cy="364.9" r="1.4"/><circle cx="102.5" cy="365.4" r="1.4"/><circle cx="100.0" cy="363.9" r="1.4"/><circle cx="95.6" cy="364.0" r="1.4"/><circle cx="98.8" cy="363.1" r="1.4"/><circle cx="98.2" cy="365.2" r="1.4"/><circle cx="99.7" cy="363.3" r="1.4"/><circle cx="96.9" cy="361.6" r="1.4"/><circle cx="97.7" cy="365.4" r="1.4"/><circle cx="99.0" cy="363.7" r="1.4"/><circle cx="96.7" cy="362.4" r="1.4"/><circle cx="103.3" cy="362.6" r="1.4"/><circle cx="103.3" cy="365.6" r="1.4"/><circle cx="99.6" cy="364.1" r="1.4"/><circle cx="95.6" cy="363.8" r="1.4"/><circle cx="95.5" cy="363.1" r="1.4"/><circle cx="101.9" cy="363.3" r="1.4"/><circle cx="98.8" cy="364.8" r="1.4"/><circle cx="95.1" cy="364.2" r="1.4"/><circle cx="105.7" cy="362.5" r="1.4"/><circle cx="98.0" cy="361.6" r="1.4"/><circle cx="97.1" cy="363.3" r="1.4"/><circle cx="102.3" cy="358.5" r="1.4"/><circle cx="99.2" cy="362.4" r="1.4"/><circle cx="106.3" cy="360.6" r="1.4"/><circle cx="102.4" cy="362.0" r="1.4"/><circle cx="99.8" cy="363.7" r="1.4"/><circle cx="98.2" cy="359.9" r="1.4"/><circle cx="105.5" cy="364.0" r="1.4"/><circle cx="105.9" cy="365.6" r="1.4"/><circle cx="96.5" cy="363.0" r="1.4"/><circle cx="98.6" cy="364.1" r="1.4"/><circle cx="106.7" cy="365.2" r="1.4"/><circle cx="97.2" cy="364.9" r="1.4"/><circle cx="103.1" cy="364.9" r="1.4"/><circle cx="94.8" cy="362.7" r="1.4"/></g>
<g fill="#4169e1" fill-opacity="0.5"><circle cx="96.4" cy="347.5" r="1.4"/><circle cx="104.6" cy="351.4" r="1.4"/><circle cx="105.6" cy="351.6" r="1.4"/><circle cx="96.4" cy="355.4" r="1.4"/><circle cx="105.4" cy="352.6" r="1.4"/><circle cx="103.5" cy="355.5" r="1.4"/><circle cx="106.9" cy="344.4" r="1.4"/><circle cx="98.5" cy="356.7" r="1.4"/><circle cx="95.2" cy="345.1" r="1.4"/><circle cx="106.6" cy="343.6" r="1.4"/><circle cx="106.6" cy="354.5" r="1.4"/><circle cx="95.5" cy="355.1" r="1.4"/><circle cx="104.9" cy="351.4" r="1.4"/><circle cx="95.4" cy="355.9" r="1.4"/><circle cx="96.0" cy="349.5" r="1.4"/><circle cx="103.7" cy="355.9" r="1.4"/><circle cx="95.6" cy="344.9" r="1.4"/><circle cx="98.6" cy="356.2" r="1.4"/><circle cx="94.8" cy="346.1" r="1.4"/><circle cx="106.7" cy="351.2" r="1.4"/><circle cx="98.1" cy="353.7" r="1.4"/><circle cx="96.1" cy="352.5" r="1.4"/><circle cx="104.4" cy="356.1" r="1.4"/><circle cx="94.8" cy="355.5" r="1.4"/><circle cx="104.7" cy="354.2" r="1.4"/><circle cx="94.8" cy="343.3" r="1.4"/><circle cx="105.9" cy="351.9" r="1.4"/><circle cx="105.9" cy="347.7" r="1.4"/><circle cx="95.5" cy="353.1" r="1.4"/><circle cx="95.3" cy="355.8" r="1.4"/><circle cx="107.0" cy="346.9" r="1.4"/><circle cx="106.3" cy="349.0" r="1.4"/><circle cx="106.9" cy="357.2" r="1.4"/><circle cx="99.2" cy="357.6" r="1.4"/><circle cx="105.6" cy="354.5" r="1.4"/><circle cx="98.2" cy="353.6" r="1.4"/><circle cx="103.0" cy="357.5" r="1.4"/><circle cx="94.8" cy="351.7" r="1.4"/><circle cx="97.0" cy="353.2" r="1.4"/><circle cx="98.4" cy="356.6" r="1.4"/><circle cx="97.6" cy="355.9" r="1.4"/><circle cx="95.5" cy="352.2" r="1.4"/><circle cx="96.7" cy="349.5" r="1.4"/><circle cx="97.5" cy="353.1" r="1.4"/><circle cx="97.2" cy="353.0" r="1.4"/><circle cx="105.6" cy="352.4" r="1.4"/><circle cx="95.6" cy="353.5" r="1.4"/><circle cx="99.0" cy="357.1" r="1.4"/><circle cx="94.9" cy="348.0" r="1.4"/><circle cx="104.2" cy="352.5" r="1.4"/><circle cx="104.5" cy="354.8" r="1.4"/><circle cx="106.0" cy="347.5" r="1.4"/><circle cx="95.2" cy="353.2" r="1.4"/><circle cx="105.7" cy="356.8" r="1.4"/><circle cx="106.0" cy="346.7" r="1.4"/><circle cx="102.4" cy="357.9" r="1.4"/><circle cx="102.6" cy="357.2" r="1.4"/><circle cx="106.3" cy="349.2" r="1.4"/><circle cx="96.8" cy="349.7" r="1.4"/><circle cx="96.5" cy="353.5" r="1.4"/><circle cx="104.9" cy="350.2" r="1.4"/><circle cx="106.9" cy="345.7" r="1.4"/><circle cx="103.6" cy="356.1" r="1.4"/><circle cx="106.3" cy="345.1" r="1.4"/><circle cx="98.0" cy="355.9" r="1.4"/><circle cx="106.5" cy="353.7" r="1.4"/><circle cx="95.1" cy="343.4" r="1.4"/><circle cx="103.9" cy="355.9" r="1.4"/><circle cx="105.0" cy="355.6" r="1.4"/><circle cx="97.0" cy="350.8" r="1.4"/><circle cx="97.8" cy="355.1" r="1.4"/><circle cx="105.4" cy="354.2" r="1.4"/><circle cx="104.4" cy="352.1" r="1.4"/><circle cx="98.8" cy="356.9" r="1.4"/><circle cx="98.5" cy="356.6" r="1.4"/><circle cx="94.9" cy="349.2" r="1.4"/><circle cx="106.1" cy="344.4" r="1.4"/><circle cx="98.7" cy="357.3" r="1.4"/><circle cx="106.7" cy="352.0" r="1.4"/><circle cx="99.2" cy="357.6" r="1.4"/><circle cx="97.3" cy="356.6" r="1.4"/><circle cx="104.3" cy="356.8" r="1.4"/><circle cx="95.0" cy="357.6" r="1.4"/><circle cx="95.8" cy="348.1" r="1.4"/><circle cx="97.6" cy="351.8" r="1.4"/><circle cx="95.8" cy="356.7" r="1.4"/><circle cx="97.0" cy="349.5" r="1.4"/><circle cx="97.1" cy="356.0" r="1.4"/><circle cx="95.3" cy="343.4" r="1.4"/><circle cx="94.9" cy="356.3" r="1.4"/><circle cx="94.8" cy="341.5" r="1.4"/><circle cx="105.3" cy="348.0" r="1.4"/><circle cx="103.0" cy="356.6" r="1.4"/><circle cx="103.2" cy="355.8" r="1.4"/><circle cx="96.8" cy="357.3" r="1.4"/><circle cx="106.4" cy="354.6" r="1.4"/><circle cx="98.4" cy="355.0" r="1.4"/><circle cx="106.2" cy="357.2" r="1.4"/><circle cx="98.9" cy="356.1" r="1.4"/><circle cx="103.3" cy="356.1" r="1.4"/><circle cx="106.3" cy="344.5" r="1.4"/><circle cx="97.0" cy="351.7" r="1.4"/><circle cx="106.8" cy="351.0" r="1.4"/><circle cx="103.7" cy="355.2" r="1.4"/><circle cx="106.9" cy="356.1" r="1.4"/><circle cx="105.1" cy="356.9" r="1.4"/><circle cx="105.7" cy="354.9" r="1.4"/><circle cx="98.4" cy="356.7" r="1.4"/><circle cx="106.2" cy="355.8" r="1.4"/><circle cx="94.9" cy="348.3" r="1.4"/><circle cx="103.9" cy="354.5" r="1.4"/><circle cx="96.9" cy="348.7" r="1.4"/><circle cx="95.1" cy="353.7" r="1.4"/><circle cx="106.7" cy="347.4" r="1.4"/><circle cx="95.2" cy="355.7" r="1.4"/><circle cx="105.4" cy="352.2" r="1.4"/><circle cx="95.1" cy="357.2" r="1.4"/><circle cx="99.1" cy="357.6" r="1.4"/><circle cx="98.1" cy="356.2" r="1.4"/><circle cx="105.2" cy="356.6" r="1.4"/><circle cx="98.6" cy="355.8" r="1.4"/><circle cx="105.1" cy="355.6" r="1.4"/><circle cx="105.4" cy="356.0" r="1.4"/><circle cx="95.8" cy="350.5" r="1.4"/><circle cx="94.9" cy="354.6" r="1.4"/><circle cx="106.3" cy="345.0" r="1.4"/><circle cx="104.6" cy="353.8" r="1.4"/><circle cx="104.3" cy="353.5" r="1.4"/><circle cx="98.4" cy="354.2" r="1.4"/><circle cx="103.5" cy="356.4" r="1.4"/><circle cx="106.9" cy="350.1" r="1.4"/><circle cx="103.8" cy="356.3" r="1.4"/><circle cx="106.7" cy="346.3" r="1.4"/><circle cx="97.0" cy="355.1" r="1.4"/><circle cx="96.3" cy="348.2" r="1.4"/><circle cx="98.0" cy="354.8" r="1.4"/><circle cx="106.9" cy="353.3" r="1.4"/><circle cx="97.5" cy="352.6" r="1.4"/><circle cx="104.9" cy="353.8" r="1.4"/><circle cx="106.7" cy="353.8" r="1.4"/><circle cx="105.7" cy="351.8" r="1.4"/><circle cx="105.3" cy="352.7" r="1.4"/><circle cx="97.5" cy="355.6" r="1.4"/><circle cx="95.2" cy="344.1" r="1.4"/><circle cx="107.0" cy="355.1" r="1.4"/><circle cx="96.7" cy="355.0" r="1.4"/><circle cx="96.7" cy="350.5" r="1.4"/><circle cx="96.5" cy="351.4" r="1.4"/><circle cx="94.9" cy="343.7" r="1.4"/><circle cx="97.5" cy="356.8" r="1.4"/><circle cx="107.0" cy="347.7" r="1.4"/><circle cx="106.0" cy="344.9" r="1.4"/><circle cx="104.1" cy="354.3" r="1.4"/><circle cx="95.9" cy="348.7" r="1.4"/><circle cx="107.0" cy="349.4" r="1.4"/><circle cx="98.2" cy="357.2" r="1.4"/><circle cx="94.9" cy="356.5" r="1.4"/><circle cx="96.6" cy="352.0" r="1.4"/><circle cx="95.7" cy="355.2" r="1.4"/><circle cx="105.8" cy="356.2" r="1.4"/><circle cx="106.6" cy="350.0" r="1.4"/><circle cx="97.5" cy="356.8" r="1.4"/><circle cx="98.5" cy="355.4" r="1.4"/><circle cx="105.4" cy="350.8" r="1.4"/><circle cx="98.0" cy="357.6" r="1.4"/><circle cx="97.9" cy="354.0" r="1.4"/><circle cx="98.8" cy="356.9" r="1.4"/><circle cx="96.6" cy="351.6" r="1.4"/><circle cx="99.0" cy="357.7" r="1.4"/><circle cx="103.0" cy="355.7" r="1.4"/><circle cx="95.2" cy="342.9" r="1.4"/><circle cx="107.0" cy="347.4" r="1.4"/><circle cx="105.9" cy="357.5" r="1.4"/><circle cx="95.3" cy="351.6" r="1.4"/><circle cx="106.5" cy="357.3" r="1.4"/><circle cx="95.2" cy="351.0" r="1.4"/><circle cx="104.0" cy="352.1" r="1.4"/><circle cx="96.2" cy="350.5" r="1.4"/><circle cx="106.4" cy="357.2" r="1.4"/><circle cx="95.2" cy="352.5" r="1.4"/><circle cx="97.2" cy="355.7" r="1.4"/><circle cx="94.8" cy="353.2" r="1.4"/><circle cx="95.2" cy="349.7" r="1.4"/><circle cx="106.5" cy="356.0" r="1.4"/><circle cx="95.4" cy="346.7" r="1.4"/><circle cx="98.2" cy="353.9" r="1.4"/><circle cx="94.9" cy="352.2" r="1.4"/><circle cx="106.6" cy="344.5" r="1.4"/><circle cx="96.6" cy="348.0" r="1.4"/><circle cx="95.1" cy="346.0" r="1.4"/><circle cx="103.7" cy="356.0" r="1.4"/><circle cx="103.8" cy="353.9" r="1.4"/><circle cx="106.6" cy="343.5" r="1.4"/><circle cx="104.2" cy="351.6" r="1.4"/><circle cx="99.1" cy="357.6" r="1.4"/><circle cx="95.8" cy="348.2" r="1.4"/><circle cx="95.5" cy="350.5" r="1.4"/><circle cx="95.1" cy="356.2" r="1.4"/><circle cx="106.2" cy="350.5" r="1.4"/><circle cx="96.9" cy="349.3" r="1.4"/></g>
<g fill="#ee0000" fill-opacity="0.5"><circle cx="113.7" cy="354.9" r="1.4"/><circle cx="119.2" cy="352.6" r="1.4"/><circle cx="111.5" cy="347.9" r="1.4"/><circle cx="124.2" cy="357.8" r="1.4"/><circle cx="118.8" cy="352.4" r="1.4"/><circle cx="107.6" cy="350.1" r="1.4"/><circle cx="114.0" cy="340.2" r="1.4"/><circle cx="118.1" cy="357.0" r="1.4"/><circle cx="118.3" cy="357.0" r="1.4"/><circle cx="130.1" cy="357.6" r="1.4"/><circle cx="130.1" cy="357.4" r="1.4"/><circle cx="128.8" cy="347.1" r="1.4"/><circle cx="120.3" cy="348.9" r="1.4"/><circle cx="130.8" cy="357.7" r="1.4"/><circle cx="109.3" cy="338.8" r="1.4"/><circle cx="130.6" cy="357.8" r="1.4"/><circle cx="120.0" cy="357.0" r="1.4"/><circle cx="110.9" cy="356.7" r="1.4"/><circle cx="117.1" cy="356.4" r="1.4"/><circle cx="112.8" cy="336.0" r="1.4"/><circle cx="118.3" cy="356.2" r="1.4"/><circle cx="114.5" cy="341.4" r="1.4"/><circle cx="114.0" cy="337.0" r="1.4"/><circle cx="109.1" cy="345.5" r="1.4"/><circle cx="116.8" cy="348.7" r="1.4"/><circle cx="108.7" cy="352.6" r="1.4"/><circle cx="126.9" cy="349.2" r="1.4"/><circle cx="113.0" cy="341.2" r="1.4"/><circle cx="107.8" cy="356.6" r="1.4"/><circle cx="125.1" cy="347.2" r="1.4"/><circle cx="125.0" cy="357.2" r="1.4"/><circle cx="121.6" cy="354.8" r="1.4"/><circle cx="108.9" cy="327.0" r="1.4"/><circle cx="125.0" cy="357.5" r="1.4"/><circle cx="114.0" cy="355.7" r="1.4"/><circle cx="119.2" cy="340.5" r="1.4"/><circle cx="108.2" cy="352.9" r="1.4"/><circle cx="124.4" cy="355.5" r="1.4"/><circle cx="116.6" cy="338.5" r="1.4"/><circle cx="108.8" cy="343.1" r="1.4"/><circle cx="110.1" cy="326.4" r="1.4"/><circle cx="107.6" cy="352.7" r="1.4"/><circle cx="120.7" cy="347.3" r="1.4"/><circle cx="117.5" cy="344.3" r="1.4"/><circle cx="127.3" cy="353.3" r="1.4"/><circle cx="112.5" cy="329.8" r="1.4"/><circle cx="122.8" cy="357.8" r="1.4"/><circle cx="115.7" cy="347.9" r="1.4"/><circle cx="122.6" cy="357.4" r="1.4"/><circle cx="117.8" cy="350.2" r="1.4"/><circle cx="131.8" cy="357.7" r="1.4"/><circle cx="124.0" cy="351.6" r="1.4"/><circle cx="113.5" cy="357.0" r="1.4"/><circle cx="131.4" cy="353.6" r="1.4"/><circle cx="109.8" cy="341.3" r="1.4"/><circle cx="120.3" cy="352.1" r="1.4"/><circle cx="113.0" cy="350.7" r="1.4"/><circle cx="119.3" cy="334.8" r="1.4"/><circle cx="119.4" cy="349.2" r="1.4"/><circle cx="107.5" cy="357.7" r="1.4"/><circle cx="125.8" cy="351.6" r="1.4"/><circle cx="122.3" cy="344.7" r="1.4"/><circle cx="112.3" cy="346.4" r="1.4"/><circle cx="113.1" cy="352.4" r="1.4"/><circle cx="125.9" cy="357.4" r="1.4"/><circle cx="111.3" cy="330.0" r="1.4"/><circle cx="120.4" cy="346.9" r="1.4"/><circle cx="118.5" cy="357.0" r="1.4"/><circle cx="128.5" cy="357.9" r="1.4"/><circle cx="114.2" cy="357.7" r="1.4"/><circle cx="118.0" cy="346.9" r="1.4"/><circle cx="125.9" cy="357.8" r="1.4"/><circle cx="110.4" cy="347.2" r="1.4"/><circle cx="107.9" cy="355.5" r="1.4"/><circle cx="117.0" cy="354.9" r="1.4"/><circle cx="114.6" cy="341.0" r="1.4"/><circle cx="119.0" cy="357.4" r="1.4"/><circle cx="115.0" cy="352.6" r="1.4"/><circle cx="124.8" cy="342.3" r="1.4"/><circle cx="117.1" cy="357.2" r="1.4"/><circle cx="117.2" cy="346.6" r="1.4"/><circle cx="122.8" cy="343.7" r="1.4"/><circle cx="114.2" cy="352.3" r="1.4"/><circle cx="109.3" cy="345.1" r="1.4"/><circle cx="118.4" cy="352.1" r="1.4"/><circle cx="119.4" cy="345.5" r="1.4"/><circle cx="115.5" cy="348.9" r="1.4"/><circle cx="117.3" cy="342.0" r="1.4"/><circle cx="116.1" cy="356.1" r="1.4"/><circle cx="123.8" cy="350.0" r="1.4"/><circle cx="108.9" cy="353.2" r="1.4"/><circle cx="119.3" cy="350.2" r="1.4"/><circle cx="115.1" cy="345.6" r="1.4"/><circle cx="111.1" cy="348.2" r="1.4"/><circle cx="110.9" cy="336.7" r="1.4"/><circle cx="115.3" cy="330.0" r="1.4"/><circle cx="112.0" cy="338.7" r="1.4"/><circle cx="111.9" cy="352.0" r="1.4"/><circle cx="126.2" cy="354.6" r="1.4"/><circle cx="111.2" cy="345.1" r="1.4"/><circle cx="128.2" cy="355.8" r="1.4"/><circle cx="109.3" cy="348.1" r="1.4"/><circle cx="119.6" cy="352.4" r="1.4"/><circle cx="111.6" cy="354.0" r="1.4"/><circle cx="114.2" cy="346.1" r="1.4"/><circle cx="107.5" cy="350.2" r="1.4"/><circle cx="111.8" cy="353.3" r="1.4"/><circle cx="111.8" cy="336.2" r="1.4"/><circle cx="114.5" cy="357.8" r="1.4"/><circle cx="132.9" cy="356.9" r="1.4"/><circle cx="119.2" cy="356.8" r="1.4"/><circle cx="116.2" cy="356.2" r="1.4"/><circle cx="124.7" cy="350.5" r="1.4"/><circle cx="115.3" cy="327.9" r="1.4"/><circle cx="111.0" cy="338.7" r="1.4"/><circle cx="111.1" cy="327.2" r="1.4"/><circle cx="116.5" cy="341.0" r="1.4"/><circle cx="110.7" cy="356.2" r="1.4"/><circle cx="116.9" cy="353.5" r="1.4"/><circle cx="114.8" cy="357.9" r="1.4"/><circle cx="127.7" cy="357.8" r="1.4"/><circle cx="114.4" cy="343.7" r="1.4"/><circle cx="113.3" cy="349.0" r="1.4"/><circle cx="127.2" cy="357.7" r="1.4"/><circle cx="118.9" cy="354.4" r="1.4"/><circle cx="107.3" cy="349.0" r="1.4"/><circle cx="120.7" cy="353.6" r="1.4"/><circle cx="120.2" cy="349.9" r="1.4"/><circle cx="111.4" cy="350.4" r="1.4"/><circle cx="132.3" cy="354.2" r="1.4"/><circle cx="125.6" cy="350.4" r="1.4"/><circle cx="125.3" cy="355.4" r="1.4"/><circle cx="111.0" cy="353.3" r="1.4"/><circle cx="117.1" cy="336.4" r="1.4"/><circle cx="111.1" cy="322.0" r="1.4"/><circle cx="116.3" cy="352.2" r="1.4"/><circle cx="128.3" cy="357.1" r="1.4"/><circle cx="128.2" cy="357.7" r="1.4"/><circle cx="107.4" cy="351.4" r="1.4"/><circle cx="123.4" cy="347.5" r="1.4"/><circle cx="119.8" cy="333.8" r="1.4"/><circle cx="117.7" cy="351.3" r="1.4"/><circle cx="117.5" cy="354.0" r="1.4"/><circle cx="124.8" cy="357.4" r="1.4"/><circle cx="111.3" cy="350.6" r="1.4"/><circle cx="112.8" cy="342.2" r="1.4"/><circle cx="115.6" cy="328.8" r="1.4"/><circle cx="121.5" cy="354.3" r="1.4"/><circle cx="121.4" cy="357.5" r="1.4"/><circle cx="109.6" cy="357.2" r="1.4"/><circle cx="110.7" cy="357.8" r="1.4"/><circle cx="111.9" cy="343.9" r="1.4"/><circle cx="120.1" cy="346.3" r="1.4"/><circle cx="116.2" cy="357.4" r="1.4"/><circle cx="120.7" cy="345.4" r="1.4"/><circle cx="128.2" cy="350.9" r="1.4"/><circle cx="115.2" cy="351.5" r="1.4"/><circle cx="109.0" cy="348.9" r="1.4"/><circle cx="130.7" cy="356.4" r="1.4"/><circle cx="108.9" cy="335.1" r="1.4"/><circle cx="118.1" cy="357.7" r="1.4"/><circle cx="114.0" cy="352.3" r="1.4"/><circle cx="115.2" cy="355.6" r="1.4"/><circle cx="117.0" cy="357.4" r="1.4"/><circle cx="129.3" cy="355.3" r="1.4"/><circle cx="113.7" cy="352.4" r="1.4"/><circle cx="107.7" cy="352.0" r="1.4"/><circle cx="125.0" cy="345.3" r="1.4"/><circle cx="117.6" cy="332.2" r="1.4"/><circle cx="117.1" cy="344.9" r="1.4"/><circle cx="115.4" cy="344.3" r="1.4"/><circle cx="129.4" cy="352.6" r="1.4"/><circle cx="108.0" cy="352.0" r="1.4"/><circle cx="111.4" cy="342.4" r="1.4"/><circle cx="122.4" cy="344.7" r="1.4"/><circle cx="120.1" cy="357.1" r="1.4"/><circle cx="125.8" cy="353.2" r="1.4"/><circle cx="127.3" cy="355.4" r="1.4"/><circle cx="114.1" cy="354.3" r="1.4"/><circle cx="120.2" cy="333.7" r="1.4"/><circle cx="133.1" cy="357.8" r="1.4"/><circle cx="109.2" cy="346.9" r="1.4"/><circle cx="110.3" cy="348.1" r="1.4"/><circle cx="117.4" cy="355.4" r="1.4"/><circle cx="122.9" cy="345.1" r="1.4"/><circle cx="122.0" cy="348.0" r="1.4"/><circle cx="109.6" cy="341.7" r="1.4"/><circle cx="114.0" cy="341.8" r="1.4"/><circle cx="115.2" cy="331.8" r="1.4"/><circle cx="112.3" cy="346.8" r="1.4"/><circle cx="120.7" cy="357.1" r="1.4"/><circle cx="121.3" cy="338.9" r="1.4"/><circle cx="120.5" cy="352.0" r="1.4"/><circle cx="110.6" cy="357.5" r="1.4"/><circle cx="129.2" cy="356.4" r="1.4"/><circle cx="113.4" cy="354.6" r="1.4"/><circle cx="121.1" cy="355.1" r="1.4"/><circle cx="110.7" cy="343.8" r="1.4"/><circle cx="125.6" cy="354.2" r="1.4"/><circle cx="110.5" cy="333.5" r="1.4"/><circle cx="121.5" cy="344.7" r="1.4"/><circle cx="111.4" cy="340.8" r="1.4"/><circle cx="127.7" cy="357.8" r="1.4"/><circle cx="118.1" cy="351.3" r="1.4"/><circle cx="115.7" cy="349.5" r="1.4"/><circle cx="120.9" cy="353.0" r="1.4"/><circle cx="123.4" cy="353.0" r="1.4"/><circle cx="123.3" cy="353.5" r="1.4"/><circle cx="124.9" cy="355.9" r="1.4"/><circle cx="126.5" cy="357.8" r="1.4"/><circle cx="120.2" cy="357.2" r="1.4"/><circle cx="113.5" cy="343.3" r="1.4"/><circle cx="125.7" cy="356.3" r="1.4"/><circle cx="123.0" cy="349.5" r="1.4"/><circle cx="113.5" cy="353.9" r="1.4"/><circle cx="113.0" cy="351.9" r="1.4"/><circle cx="117.1" cy="349.4" r="1.4"/><circle cx="115.0" cy="349.6" r="1.4"/><circle cx="121.6" cy="351.2" r="1.4"/><circle cx="129.6" cy="356.8" r="1.4"/><circle cx="131.7" cy="357.9" r="1.4"/><circle cx="122.1" cy="349.3" r="1.4"/><circle cx="119.9" cy="357.5" r="1.4"/><circle cx="119.9" cy="348.9" r="1.4"/><circle cx="115.0" cy="348.3" r="1.4"/><circle cx="114.3" cy="331.2" r="1.4"/><circle cx="110.9" cy="342.8" r="1.4"/><circle cx="119.8" cy="351.6" r="1.4"/><circle cx="107.5" cy="356.4" r="1.4"/><circle cx="110.4" cy="324.0" r="1.4"/><circle cx="107.9" cy="328.2" r="1.4"/><circle cx="120.1" cy="357.5" r="1.4"/><circle cx="109.1" cy="351.5" r="1.4"/><circle cx="111.0" cy="333.2" r="1.4"/><circle cx="110.8" cy="339.0" r="1.4"/><circle cx="130.4" cy="352.6" r="1.4"/><circle cx="124.5" cy="357.3" r="1.4"/><circle cx="122.9" cy="349.7" r="1.4"/><circle cx="121.5" cy="348.9" r="1.4"/><circle cx="124.7" cy="356.5" r="1.4"/><circle cx="115.5" cy="329.5" r="1.4"/><circle cx="124.0" cy="352.7" r="1.4"/><circle cx="115.4" cy="357.8" r="1.4"/><circle cx="128.8" cy="353.9" r="1.4"/><circle cx="116.1" cy="326.3" r="1.4"/><circle cx="117.7" cy="349.9" r="1.4"/><circle cx="116.9" cy="355.1" r="1.4"/><circle cx="116.3" cy="344.7" r="1.4"/><circle cx="123.7" cy="340.8" r="1.4"/><circle cx="120.7" cy="337.1" r="1.4"/><circle cx="118.5" cy="351.8" r="1.4"/><circle cx="113.2" cy="341.6" r="1.4"/><circle cx="112.8" cy="348.3" r="1.4"/><circle cx="114.5" cy="349.9" r="1.4"/><circle cx="110.2" cy="352.0" r="1.4"/><circle cx="126.3" cy="349.7" r="1.4"/><circle cx="123.0" cy="352.9" r="1.4"/><circle cx="116.7" cy="333.8" r="1.4"/><circle cx="116.2" cy="349.3" r="1.4"/><circle cx="107.2" cy="346.6" r="1.4"/><circle cx="121.9" cy="351.9" r="1.4"/><circle cx="120.0" cy="354.3" r="1.4"/><circle cx="124.5" cy="356.1" r="1.4"/><circle cx="118.7" cy="349.6" r="1.4"/><circle cx="124.3" cy="354.4" r="1.4"/><circle cx="116.5" cy="356.1" r="1.4"/><circle cx="114.8" cy="339.9" r="1.4"/><circle cx="111.3" cy="342.7" r="1.4"/><circle cx="130.3" cy="355.5" r="1.4"/><circle cx="122.1" cy="347.3" r="1.4"/><circle cx="124.3" cy="353.3" r="1.4"/><circle cx="112.7" cy="343.2" r="1.4"/><circle cx="112.6" cy="353.5" r="1.4"/><circle cx="112.3" cy="351.7" r="1.4"/><circle cx="119.9" cy="351.2" r="1.4"/><circle cx="112.8" cy="342.8" r="1.4"/><circle cx="115.7" cy="352.4" r="1.4"/><circle cx="115.5" cy="337.5" r="1.4"/><circle cx="112.2" cy="353.3" r="1.4"/><circle cx="116.8" cy="336.0" r="1.4"/><circle cx="109.1" cy="351.5" r="1.4"/><circle cx="128.6" cy="354.2" r="1.4"/><circle cx="116.5" cy="342.8" r="1.4"/><circle cx="116.4" cy="336.6" r="1.4"/><circle cx="126.3" cy="356.6" r="1.4"/><circle cx="113.1" cy="355.1" r="1.4"/><circle cx="117.7" cy="357.6" r="1.4"/><circle cx="111.7" cy="353.6" r="1.4"/><circle cx="116.1" cy="326.2" r="1.4"/><circle cx="119.8" cy="342.1" r="1.4"/><circle cx="119.2" cy="344.1" r="1.4"/><circle cx="128.8" cy="357.8" r="1.4"/><circle cx="118.4" cy="342.5" r="1.4"/><circle cx="107.2" cy="343.7" r="1.4"/><circle cx="129.6" cy="357.7" r="1.4"/><circle cx="115.4" cy="353.2" r="1.4"/><circle cx="114.5" cy="352.0" r="1.4"/><circle cx="109.6" cy="357.5" r="1.4"/><circle cx="117.2" cy="354.2" r="1.4"/><circle cx="115.6" cy="351.9" r="1.4"/><circle cx="123.5" cy="354.4" r="1.4"/><circle cx="120.0" cy="337.3" r="1.4"/><circle cx="117.2" cy="357.6" r="1.4"/><circle cx="108.9" cy="357.7" r="1.4"/><circle cx="118.3" cy="343.9" r="1.4"/><circle cx="120.8" cy="352.0" r="1.4"/><circle cx="108.5" cy="344.5" r="1.4"/><circle cx="114.6" cy="351.9" r="1.4"/><circle cx="111.5" cy="351.5" r="1.4"/><circle cx="120.5" cy="355.1" r="1.4"/><circle cx="119.5" cy="353.5" r="1.4"/><circle cx="118.9" cy="355.6" r="1.4"/><circle cx="121.6" cy="336.1" r="1.4"/><circle cx="110.4" cy="340.9" r="1.4"/><circle cx="107.6" cy="350.3" r="1.4"/><circle cx="113.8" cy="355.4" r="1.4"/><circle cx="117.8" cy="343.8" r="1.4"/><circle cx="111.6" cy="333.4" r="1.4"/><circle cx="123.3" cy="343.1" r="1.4"/><circle cx="125.6" cy="354.6" r="1.4"/><circle cx="110.7" cy="357.4" r="1.4"/><circle cx="112.2" cy="352.0" r="1.4"/><circle cx="114.3" cy="352.5" r="1.4"/><circle cx="116.5" cy="335.1" r="1.4"/><circle cx="112.2" cy="349.8" r="1.4"/><circle cx="112.1" cy="342.3" r="1.4"/><circle cx="109.7" cy="357.6" r="1.4"/><circle cx="113.2" cy="343.1" r="1.4"/><circle cx="121.7" cy="343.4" r="1.4"/><circle cx="109.4" cy="352.5" r="1.4"/><circle cx="117.9" cy="335.5" r="1.4"/><circle cx="112.1" cy="356.1" r="1.4"/><circle cx="113.9" cy="351.2" r="1.4"/><circle cx="108.6" cy="357.7" r="1.4"/><circle cx="111.6" cy="353.8" r="1.4"/><circle cx="110.5" cy="328.7" r="1.4"/><circle cx="116.0" cy="331.8" r="1.4"/><circle cx="110.2" cy="331.0" r="1.4"/><circle cx="117.6" cy="356.8" r="1.4"/><circle cx="129.1" cy="355.9" r="1.4"/><circle cx="108.4" cy="354.1" r="1.4"/><circle cx="111.1" cy="331.4" r="1.4"/><circle cx="113.2" cy="353.7" r="1.4"/><circle cx="126.8" cy="357.0" r="1.4"/><circle cx="109.0" cy="348.2" r="1.4"/><circle cx="118.0" cy="352.5" r="1.4"/><circle cx="121.3" cy="349.2" r="1.4"/><circle cx="109.5" cy="354.4" r="1.4"/><circle cx="118.2" cy="348.6" r="1.4"/><circle cx="115.8" cy="340.0" r="1.4"/><circle cx="111.9" cy="349.5" r="1.4"/><circle cx="108.8" cy="343.2" r="1.4"/><circle cx="115.3" cy="346.4" r="1.4"/><circle cx="111.6" cy="345.3" r="1.4"/><circle cx="111.9" cy="339.3" r="1.4"/><circle cx="115.2" cy="351.1" r="1.4"/><circle cx="113.4" cy="343.0" r="1.4"/><circle cx="122.0" cy="355.3" r="1.4"/><circle cx="123.6" cy="353.6" r="1.4"/><circle cx="113.9" cy="354.3" r="1.4"/><circle cx="113.4" cy="346.6" r="1.4"/><circle cx="109.3" cy="324.9" r="1.4"/><circle cx="114.6" cy="355.4" r="1.4"/><circle cx="129.9" cy="351.7" r="1.4"/><circle cx="126.0" cy="356.3" r="1.4"/><circle cx="119.6" cy="352.2" r="1.4"/><circle cx="123.0" cy="353.4" r="1.4"/><circle cx="109.3" cy="346.7" r="1.4"/><circle cx="123.8" cy="356.8" r="1.4"/><circle cx="118.7" cy="355.9" r="1.4"/><circle cx="112.1" cy="352.1" r="1.4"/><circle cx="133.2" cy="355.9" r="1.4"/><circle cx="112.9" cy="357.6" r="1.4"/><circle cx="116.3" cy="355.7" r="1.4"/><circle cx="132.7" cy="354.8" r="1.4"/><circle cx="109.8" cy="347.8" r="1.4"/><circle cx="118.7" cy="357.8" r="1.4"/><circle cx="124.8" cy="354.9" r="1.4"/><circle cx="114.9" cy="357.0" r="1.4"/><circle cx="110.8" cy="321.7" r="1.4"/><circle cx="120.8" cy="356.8" r="1.4"/><circle cx="112.4" cy="350.3" r="1.4"/><circle cx="118.3" cy="349.5" r="1.4"/><circle cx="110.7" cy="351.9" r="1.4"/><circle cx="127.2" cy="356.5" r="1.4"/><circle cx="108.9" cy="334.3" r="1.4"/><circle cx="122.9" cy="353.5" r="1.4"/><circle cx="117.6" cy="350.4" r="1.4"/><circle cx="114.8" cy="352.3" r="1.4"/><circle cx="112.7" cy="348.4" r="1.4"/><circle cx="113.6" cy="343.7" r="1.4"/><circle cx="114.1" cy="343.4" r="1.4"/><circle cx="132.3" cy="355.9" r="1.4"/><circle cx="122.2" cy="354.9" r="1.4"/><circle cx="113.3" cy="352.9" r="1.4"/><circle cx="112.8" cy="343.8" r="1.4"/><circle cx="117.6" cy="349.5" r="1.4"/><circle cx="113.6" cy="343.2" r="1.4"/><circle cx="127.2" cy="351.0" r="1.4"/><circle cx="113.0" cy="344.0" r="1.4"/><circle cx="108.3" cy="340.7" r="1.4"/><circle cx="113.8" cy="355.7" r="1.4"/><circle cx="111.6" cy="352.2" r="1.4"/><circle cx="108.1" cy="350.0" r="1.4"/><circle cx="110.2" cy="334.9" r="1.4"/><circle cx="114.9" cy="350.5" r="1.4"/><circle cx="113.3" cy="339.2" r="1.4"/><circle cx="116.9" cy="355.5" r="1.4"/><circle cx="117.6" cy="352.2" r="1.4"/><circle cx="118.6" cy="354.6" r="1.4"/><circle cx="118.7" cy="356.4" r="1.4"/><circle cx="118.0" cy="340.9" r="1.4"/><circle cx="121.2" cy="354.5" r="1.4"/><circle cx="115.6" cy="357.6" r="1.4"/><circle cx="110.2" cy="356.2" r="1.4"/><circle cx="112.2" cy="357.8" r="1.4"/><circle cx="124.8" cy="343.0" r="1.4"/><circle cx="122.0" cy="347.2" r="1.4"/><circle cx="110.0" cy="352.1" r="1.4"/><circle cx="122.0" cy="349.0" r="1.4"/><circle cx="112.0" cy="345.6" r="1.4"/><circle cx="110.5" cy="352.9" r="1.4"/><circle cx="119.3" cy="345.1" r="1.4"/><circle cx="117.4" cy="343.2" r="1.4"/><circle cx="123.5" cy="353.4" r="1.4"/><circle cx="107.9" cy="352.2" r="1.4"/><circle cx="114.8" cy="354.5" r="1.4"/><circle cx="127.3" cy="353.7" r="1.4"/><circle cx="114.7" cy="351.0" r="1.4"/><circle cx="109.1" cy="337.8" r="1.4"/><circle cx="118.8" cy="350.6" r="1.4"/><circle cx="111.1" cy="332.9" r="1.4"/><circle cx="112.6" cy="336.6" r="1.4"/><circle cx="120.8" cy="356.4" r="1.4"/><circle cx="112.7" cy="341.3" r="1.4"/><circle cx="111.8" cy="338.1" r="1.4"/><circle cx="112.2" cy="355.6" r="1.4"/><circle cx="116.5" cy="340.6" r="1.4"/><circle cx="113.9" cy="347.6" r="1.4"/><circle cx="121.9" cy="355.9" r="1.4"/><circle cx="109.7" cy="356.4" r="1.4"/><circle cx="119.7" cy="339.3" r="1.4"/><circle cx="119.5" cy="354.1" r="1.4"/><circle cx="117.8" cy="330.8" r="1.4"/><circle cx="123.4" cy="339.6" r="1.4"/><circle cx="113.5" cy="326.3" r="1.4"/><circle cx="112.6" cy="356.4" r="1.4"/><circle cx="111.9" cy="350.2" r="1.4"/><circle cx="109.3" cy="346.6" r="1.4"/><circle cx="111.7" cy="357.7" r="1.4"/><circle cx="117.2" cy="354.8" r="1.4"/><circle cx="116.6" cy="341.7" r="1.4"/><circle cx="114.8" cy="335.5" r="1.4"/><circle cx="107.9" cy="352.8" r="1.4"/><circle cx="112.3" cy="354.5" r="1.4"/><circle cx="124.6" cy="354.7" r="1.4"/><circle cx="122.7" cy="347.8" r="1.4"/><circle cx="108.0" cy="344.8" r="1.4"/><circle cx="113.9" cy="345.9" r="1.4"/><circle cx="114.0" cy="350.2" r="1.4"/><circle cx="120.9" cy="346.1" r="1.4"/><circle cx="107.2" cy="348.9" r="1.4"/><circle cx="135.6" cy="357.9" r="1.4"/><circle cx="122.5" cy="357.6" r="1.4"/><circle cx="113.7" cy="357.3" r="1.4"/><circle cx="114.2" cy="339.4" r="1.4"/><circle cx="107.6" cy="355.3" r="1.4"/><circle cx="114.6" cy="356.6" r="1.4"/><circle cx="112.6" cy="346.5" r="1.4"/><circle cx="118.9" cy="353.7" r="1.4"/><circle cx="121.0" cy="353.0" r="1.4"/><circle cx="117.0" cy="342.1" r="1.4"/><circle cx="113.5" cy="351.3" r="1.4"/><circle cx="119.1" cy="341.9" r="1.4"/><circle cx="110.4" cy="351.9" r="1.4"/><circle cx="109.9" cy="356.9" r="1.4"/><circle cx="112.2" cy="335.0" r="1.4"/><circle cx="111.1" cy="342.0" r="1.4"/><circle cx="126.9" cy="350.1" r="1.4"/><circle cx="109.7" cy="349.9" r="1.4"/><circle cx="121.3" cy="357.6" r="1.4"/><circle cx="115.7" cy="348.3" r="1.4"/><circle cx="128.3" cy="355.0" r="1.4"/><circle cx="122.1" cy="352.7" r="1.4"/><circle cx="120.7" cy="340.8" r="1.4"/><circle cx="118.9" cy="356.3" r="1.4"/><circle cx="130.9" cy="357.9" r="1.4"/><circle cx="123.7" cy="348.5" r="1.4"/><circle cx="131.8" cy="353.2" r="1.4"/><circle cx="108.5" cy="357.1" r="1.4"/><circle cx="107.6" cy="357.5" r="1.4"/><circle cx="114.5" cy="342.2" r="1.4"/><circle cx="115.2" cy="351.2" r="1.4"/><circle cx="124.5" cy="345.9" r="1.4"/><circle cx="110.7" cy="356.3" r="1.4"/><circle cx="124.0" cy="351.0" r="1.4"/><circle cx="110.0" cy="327.4" r="1.4"/><circle cx="120.4" cy="343.7" r="1.4"/><circle cx="111.4" cy="352.2" r="1.4"/><circle cx="110.4" cy="338.8" r="1.4"/><circle cx="116.6" cy="354.0" r="1.4"/><circle cx="130.8" cy="356.1" r="1.4"/><circle cx="124.0" cy="356.0" r="1.4"/><circle cx="128.2" cy="354.7" r="1.4"/><circle cx="110.9" cy="343.4" r="1.4"/><circle cx="111.4" cy="345.8" r="1.4"/><circle cx="132.5" cy="357.8" r="1.4"/><circle cx="119.3" cy="336.9" r="1.4"/><circle cx="111.5" cy="345.1" r="1.4"/><circle cx="109.2" cy="353.4" r="1.4"/><circle cx="123.8" cy="353.8" r="1.4"/><circle cx="112.5" cy="356.3" r="1.4"/><circle cx="135.1" cy="357.9" r="1.4"/><circle cx="118.2" cy="338.1" r="1.4"/><circle cx="110.6" cy="329.0" r="1.4"/><circle cx="115.2" cy="354.8" r="1.4"/><circle cx="109.8" cy="357.2" r="1.4"/><circle cx="114.3" cy="356.4" r="1.4"/><circle cx="112.0" cy="338.3" r="1.4"/><circle cx="118.1" cy="335.0" r="1.4"/><circle cx="108.7" cy="348.5" r="1.4"/><circle cx="111.9" cy="337.5" r="1.4"/><circle cx="115.4" cy="349.8" r="1.4"/><circle cx="119.8" cy="340.2" r="1.4"/><circle cx="114.9" cy="343.7" r="1.4"/><circle cx="117.4" cy="347.9" r="1.4"/><circle cx="133.5" cy="357.8" r="1.4"/><circle cx="130.1" cy="354.1" r="1.4"/><circle cx="118.9" cy="334.9" r="1.4"/><circle cx="115.2" cy="353.4" r="1.4"/><circle cx="108.8" cy="350.5" r="1.4"/><circle cx="120.1" cy="357.1" r="1.4"/><circle cx="113.4" cy="357.3" r="1.4"/><circle cx="109.9" cy="357.1" r="1.4"/><circle cx="118.0" cy="351.9" r="1.4"/><circle cx="125.2" cy="354.5" r="1.4"/><circle cx="117.7" cy="338.8" r="1.4"/><circle cx="112.4" cy="354.5" r="1.4"/><circle cx="110.6" cy="345.5" r="1.4"/><circle cx="124.7" cy="348.9" r="1.4"/><circle cx="130.6" cy="352.0" r="1.4"/><circle cx="114.2" cy="356.5" r="1.4"/><circle cx="125.5" cy="357.6" r="1.4"/><circle cx="122.1" cy="342.7" r="1.4"/><circle cx="114.8" cy="347.5" r="1.4"/><circle cx="112.4" cy="357.6" r="1.4"/><circle cx="110.7" cy="322.5" r="1.4"/><circle cx="124.1" cy="346.8" r="1.4"/><circle cx="120.8" cy="346.9" r="1.4"/><circle cx="115.0" cy="347.7" r="1.4"/><circle cx="108.8" cy="354.5" r="1.4"/><circle cx="121.5" cy="357.5" r="1.4"/><circle cx="116.7" cy="350.1" r="1.4"/><circle cx="109.8" cy="349.0" r="1.4"/><circle cx="107.1" cy="348.5" r="1.4"/><circle cx="114.2" cy="357.5" r="1.4"/><circle cx="116.6" cy="356.9" r="1.4"/><circle cx="132.5" cy="357.8" r="1.4"/><circle cx="123.5" cy="355.8" r="1.4"/><circle cx="108.8" cy="350.1" r="1.4"/><circle cx="111.0" cy="357.0" r="1.4"/><circle cx="122.9" cy="340.0" r="1.4"/><circle cx="112.0" cy="354.1" r="1.4"/><circle cx="113.7" cy="347.3" r="1.4"/><circle cx="112.0" cy="350.6" r="1.4"/><circle cx="115.8" cy="352.4" r="1.4"/><circle cx="121.0" cy="351.4" r="1.4"/><circle cx="117.3" cy="355.9" r="1.4"/><circle cx="108.2" cy="357.0" r="1.4"/><circle cx="122.3" cy="348.8" r="1.4"/><circle cx="119.6" cy="339.6" r="1.4"/><circle cx="130.1" cy="356.6" r="1.4"/><circle cx="112.6" cy="345.8" r="1.4"/><circle cx="112.4" cy="346.7" r="1.4"/><circle cx="115.9" cy="345.5" r="1.4"/><circle cx="116.9" cy="345.4" r="1.4"/><circle cx="116.0" cy="342.8" r="1.4"/><circle cx="124.7" cy="343.0" r="1.4"/><circle cx="112.5" cy="351.9" r="1.4"/><circle cx="114.6" cy="331.5" r="1.4"/><circle cx="111.1" cy="331.2" r="1.4"/><circle cx="112.1" cy="352.7" r="1.4"/><circle cx="130.4" cy="357.6" r="1.4"/><circle cx="110.8" cy="350.4" r="1.4"/><circle cx="125.6" cy="356.8" r="1.4"/><circle cx="125.2" cy="357.6" r="1.4"/><circle cx="125.5" cy="354.1" r="1.4"/><circle cx="118.4" cy="357.9" r="1.4"/><circle cx="117.7" cy="354.8" r="1.4"/><circle cx="129.9" cy="356.6" r="1.4"/><circle cx="119.1" cy="347.4" r="1.4"/><circle cx="116.0" cy="340.3" r="1.4"/><circle cx="115.9" cy="354.2" r="1.4"/><circle cx="114.5" cy="355.9" r="1.4"/><circle cx="111.6" cy="344.4" r="1.4"/><circle cx="117.0" cy="357.8" r="1.4"/><circle cx="110.1" cy="348.2" r="1.4"/><circle cx="114.5" cy="335.9" r="1.4"/><circle cx="116.9" cy="356.2" r="1.4"/><circle cx="120.3" cy="356.8" r="1.4"/><circle cx="111.9" cy="357.5" r="1.4"/><circle cx="123.3" cy="356.5" r="1.4"/><circle cx="121.3" cy="357.8" r="1.4"/><circle cx="112.2" cy="348.6" r="1.4"/><circle cx="108.5" cy="355.4" r="1.4"/><circle cx="126.7" cy="356.9" r="1.4"/><circle cx="118.2" cy="356.9" r="1.4"/><circle cx="122.5" cy="356.4" r="1.4"/><circle cx="109.7" cy="355.0" r="1.4"/><circle cx="113.0" cy="355.7" r="1.4"/><circle cx="118.0" cy="349.1" r="1.4"/><circle cx="119.5" cy="343.1" r="1.4"/><circle cx="119.5" cy="357.4" r="1.4"/><circle cx="119.3" cy="343.0" r="1.4"/><circle cx="114.9" cy="341.9" r="1.4"/><circle cx="114.5" cy="343.9" r="1.4"/><circle cx="112.9" cy="357.2" r="1.4"/><circle cx="117.6" cy="351.8" r="1.4"/><circle cx="116.1" cy="353.3" r="1.4"/><circle cx="114.9" cy="357.6" r="1.4"/><circle cx="114.7" cy="355.2" r="1.4"/><circle cx="113.6" cy="340.3" r="1.4"/><circle cx="110.6" cy="334.7" r="1.4"/><circle cx="118.3" cy="357.3" r="1.4"/><circle cx="125.6" cy="352.7" r="1.4"/><circle cx="111.5" cy="340.7" r="1.4"/><circle cx="112.0" cy="341.3" r="1.4"/><circle cx="120.0" cy="340.6" r="1.4"/><circle cx="123.2" cy="352.5" r="1.4"/><circle cx="116.6" cy="355.6" r="1.4"/><circle cx="114.0" cy="357.5" r="1.4"/><circle cx="111.4" cy="353.0" r="1.4"/><circle cx="116.3" cy="346.8" r="1.4"/><circle cx="107.2" cy="350.2" r="1.4"/><circle cx="116.1" cy="357.4" r="1.4"/><circle cx="108.2" cy="355.1" r="1.4"/><circle cx="120.6" cy="344.2" r="1.4"/><circle cx="121.1" cy="349.0" r="1.4"/><circle cx="108.8" cy="332.9" r="1.4"/><circle cx="110.9" cy="344.1" r="1.4"/><circle cx="110.9" cy="343.2" r="1.4"/><circle cx="111.4" cy="346.1" r="1.4"/><circle cx="122.9" cy="342.8" r="1.4"/><circle cx="110.9" cy="329.6" r="1.4"/><circle cx="107.1" cy="343.6" r="1.4"/><circle cx="112.6" cy="326.5" r="1.4"/><circle cx="118.9" cy="351.2" r="1.4"/><circle cx="107.4" cy="357.4" r="1.4"/><circle cx="116.6" cy="344.6" r="1.4"/><circle cx="127.0" cy="349.0" r="1.4"/><circle cx="111.2" cy="331.4" r="1.4"/><circle cx="127.7" cy="356.1" r="1.4"/><circle cx="108.7" cy="347.8" r="1.4"/><circle cx="114.2" cy="329.6" r="1.4"/><circle cx="122.4" cy="352.0" r="1.4"/><circle cx="121.1" cy="352.2" r="1.4"/><circle cx="117.5" cy="353.9" r="1.4"/><circle cx="110.8" cy="335.2" r="1.4"/><circle cx="117.2" cy="352.3" r="1.4"/><circle cx="111.3" cy="342.7" r="1.4"/><circle cx="126.3" cy="351.2" r="1.4"/><circle cx="114.8" cy="345.6" r="1.4"/><circle cx="110.3" cy="357.9" r="1.4"/><circle cx="111.8" cy="356.2" r="1.4"/><circle cx="109.9" cy="348.5" r="1.4"/><circle cx="108.3" cy="357.7" r="1.4"/><circle cx="110.8" cy="345.0" r="1.4"/><circle cx="125.8" cy="357.8" r="1.4"/><circle cx="118.3" cy="352.2" r="1.4"/><circle cx="113.4" cy="350.6" r="1.4"/><circle cx="110.0" cy="335.8" r="1.4"/><circle cx="126.2" cy="357.4" r="1.4"/><circle cx="124.8" cy="356.9" r="1.4"/><circle cx="127.8" cy="356.2" r="1.4"/><circle cx="125.5" cy="355.2" r="1.4"/><circle cx="119.0" cy="337.2" r="1.4"/><circle cx="112.3" cy="352.4" r="1.4"/><circle cx="121.1" cy="346.8" r="1.4"/><circle cx="124.5" cy="356.8" r="1.4"/><circle cx="111.1" cy="347.6" r="1.4"/><circle cx="126.4" cy="354.2" r="1.4"/><circle cx="109.9" cy="353.4" r="1.4"/><circle cx="117.5" cy="341.1" r="1.4"/><circle cx="127.4" cy="355.5" r="1.4"/><circle cx="112.4" cy="343.5" r="1.4"/><circle cx="108.4" cy="342.4" r="1.4"/><circle cx="116.1" cy="340.1" r="1.4"/><circle cx="120.7" cy="355.5" r="1.4"/><circle cx="117.0" cy="350.5" r="1.4"/><circle cx="116.7" cy="339.0" r="1.4"/><circle cx="124.3" cy="353.4" r="1.4"/><circle cx="116.4" cy="357.5" r="1.4"/><circle cx="113.2" cy="352.8" r="1.4"/><circle cx="113.3" cy="346.4" r="1.4"/><circle cx="122.8" cy="357.5" r="1.4"/><circle cx="119.3" cy="354.9" r="1.4"/><circle cx="114.7" cy="340.8" r="1.4"/><circle cx="110.4" cy="352.9" r="1.4"/><circle cx="115.8" cy="355.0" r="1.4"/><circle cx="110.3" cy="351.7" r="1.4"/><circle cx="125.7" cy="356.6" r="1.4"/><circle cx="114.4" cy="350.1" r="1.4"/><circle cx="124.5" cy="355.0" r="1.4"/><circle cx="109.2" cy="353.7" r="1.4"/><circle cx="107.2" cy="355.5" r="1.4"/><circle cx="119.0" cy="345.0" r="1.4"/><circle cx="123.7" cy="356.3" r="1.4"/><circle cx="122.4" cy="335.4" r="1.4"/><circle cx="111.7" cy="352.1" r="1.4"/><circle cx="120.5" cy="349.5" r="1.4"/><circle cx="108.2" cy="348.8" r="1.4"/><circle cx="123.2" cy="348.4" r="1.4"/><circle cx="108.0" cy="346.8" r="1.4"/><circle cx="107.9" cy="333.9" r="1.4"/><circle cx="123.7" cy="351.6" r="1.4"/><circle cx="132.6" cy="357.5" r="1.4"/><circle cx="111.2" cy="357.9" r="1.4"/><circle cx="117.4" cy="357.7" r="1.4"/><circle cx="120.4" cy="355.6" r="1.4"/><circle cx="114.0" cy="341.5" r="1.4"/><circle cx="111.6" cy="344.1" r="1.4"/><circle cx="111.4" cy="357.1" r="1.4"/><circle cx="111.3" cy="343.6" r="1.4"/><circle cx="109.5" cy="354.2" r="1.4"/><circle cx="112.5" cy="355.8" r="1.4"/><circle cx="110.5" cy="354.6" r="1.4"/><circle cx="108.7" cy="335.3" r="1.4"/><circle cx="123.8" cy="351.2" r="1.4"/><circle cx="125.5" cy="355.7" r="1.4"/><circle cx="125.0" cy="345.8" r="1.4"/><circle cx="112.3" cy="350.9" r="1.4"/><circle cx="120.2" cy="331.7" r="1.4"/><circle cx="115.8" cy="353.5" r="1.4"/><circle cx="117.6" cy="342.3" r="1.4"/><circle cx="107.5" cy="350.8" r="1.4"/><circle cx="115.8" cy="339.7" r="1.4"/><circle cx="117.8" cy="344.7" r="1.4"/><circle cx="121.7" cy="350.3" r="1.4"/><circle cx="123.6" cy="346.2" r="1.4"/><circle cx="123.6" cy="351.1" r="1.4"/><circle cx="118.4" cy="344.4" r="1.4"/><circle cx="125.7" cy="356.6" r="1.4"/><circle cx="122.5" cy="351.1" r="1.4"/><circle cx="109.7" cy="352.3" r="1.4"/><circle cx="116.0" cy="355.2" r="1.4"/><circle cx="114.3" cy="348.8" r="1.4"/><circle cx="116.4" cy="339.5" r="1.4"/><circle cx="116.7" cy="350.2" r="1.4"/><circle cx="117.3" cy="355.5" r="1.4"/><circle cx="110.3" cy="336.7" r="1.4"/><circle cx="112.7" cy="352.9" r="1.4"/><circle cx="121.2" cy="345.8" r="1.4"/><circle cx="115.1" cy="349.0" r="1.4"/><circle cx="109.1" cy="350.6" r="1.4"/><circle cx="122.0" cy="357.5" r="1.4"/><circle cx="122.5" cy="345.9" r="1.4"/><circle cx="112.3" cy="357.6" r="1.4"/><circle cx="122.7" cy="356.4" r="1.4"/><circle cx="127.2" cy="356.3" r="1.4"/><circle cx="120.2" cy="347.5" r="1.4"/><circle cx="125.9" cy="349.5" r="1.4"/><circle cx="112.0" cy="345.5" r="1.4"/><circle cx="112.6" cy="356.6" r="1.4"/><circle cx="122.5" cy="351.9" r="1.4"/><circle cx="110.8" cy="352.6" r="1.4"/><circle cx="115.2" cy="354.4" r="1.4"/><circle cx="119.4" cy="357.8" r="1.4"/><circle cx="114.0" cy="356.6" r="1.4"/><circle cx="111.0" cy="333.1" r="1.4"/><circle cx="120.8" cy="343.8" r="1.4"/><circle cx="132.0" cy="357.8" r="1.4"/><circle cx="126.9" cy="356.7" r="1.4"/><circle cx="109.2" cy="354.5" r="1.4"/><circle cx="107.4" cy="350.9" r="1.4"/><circle cx="116.3" cy="357.6" r="1.4"/><circle cx="121.8" cy="338.4" r="1.4"/><circle cx="126.0" cy="349.7" r="1.4"/><circle cx="127.2" cy="353.6" r="1.4"/><circle cx="118.8" cy="352.6" r="1.4"/><circle cx="110.7" cy="354.6" r="1.4"/><circle cx="123.7" cy="346.1" r="1.4"/><circle cx="107.1" cy="355.7" r="1.4"/><circle cx="109.7" cy="345.0" r="1.4"/><circle cx="115.9" cy="327.8" r="1.4"/><circle cx="120.4" cy="357.2" r="1.4"/><circle cx="126.2" cy="352.1" r="1.4"/><circle cx="120.3" cy="350.4" r="1.4"/><circle cx="119.6" cy="341.2" r="1.4"/><circle cx="123.0" cy="343.2" r="1.4"/><circle cx="113.4" cy="355.9" r="1.4"/><circle cx="124.7" cy="340.8" r="1.4"/><circle cx="114.3" cy="356.9" r="1.4"/><circle cx="111.0" cy="336.9" r="1.4"/><circle cx="113.8" cy="348.9" r="1.4"/><circle cx="117.5" cy="348.3" r="1.4"/><circle cx="113.5" cy="356.7" r="1.4"/><circle cx="122.9" cy="357.0" r="1.4"/><circle cx="119.8" cy="352.8" r="1.4"/><circle cx="119.4" cy="348.9" r="1.4"/><circle cx="111.4" cy="357.8" r="1.4"/><circle cx="112.9" cy="355.7" r="1.4"/><circle cx="110.6" cy="346.1" r="1.4"/><circle cx="119.3" cy="354.3" r="1.4"/><circle cx="127.1" cy="355.7" r="1.4"/><circle cx="112.7" cy="357.7" r="1.4"/><circle cx="115.7" cy="347.4" r="1.4"/><circle cx="130.8" cy="354.6" r="1.4"/><circle cx="119.2" cy="349.6" r="1.4"/><circle cx="127.3" cy="350.5" r="1.4"/><circle cx="121.7" cy="357.8" r="1.4"/><circle cx="116.7" cy="340.5" r="1.4"/><circle cx="135.9" cy="357.9" r="1.4"/><circle cx="107.8" cy="352.3" r="1.4"/><circle cx="109.2" cy="356.1" r="1.4"/><circle cx="115.6" cy="356.2" r="1.4"/><circle cx="112.3" cy="350.1" r="1.4"/><circle cx="110.2" cy="334.7" r="1.4"/><circle cx="109.0" cy="348.7" r="1.4"/><circle cx="116.6" cy="347.4" r="1.4"/><circle cx="111.5" cy="336.4" r="1.4"/><circle cx="113.5" cy="349.9" r="1.4"/><circle cx="120.7" cy="357.8" r="1.4"/><circle cx="110.4" cy="331.3" r="1.4"/><circle cx="107.8" cy="356.2" r="1.4"/><circle cx="114.7" cy="357.5" r="1.4"/><circle cx="120.3" cy="348.6" r="1.4"/><circle cx="114.5" cy="345.5" r="1.4"/><circle cx="116.9" cy="348.4" r="1.4"/><circle cx="132.7" cy="355.9" r="1.4"/><circle cx="118.2" cy="353.6" r="1.4"/><circle cx="123.4" cy="355.3" r="1.4"/><circle cx="112.0" cy="329.4" r="1.4"/><circle cx="119.7" cy="356.9" r="1.4"/><circle cx="110.1" cy="356.9" r="1.4"/><circle cx="110.0" cy="357.5" r="1.4"/><circle cx="112.5" cy="357.6" r="1.4"/><circle cx="108.7" cy="334.0" r="1.4"/><circle cx="122.8" cy="353.8" r="1.4"/><circle cx="114.2" cy="353.4" r="1.4"/><circle cx="112.5" cy="343.8" r="1.4"/><circle cx="127.3" cy="352.6" r="1.4"/><circle cx="119.7" cy="342.1" r="1.4"/><circle cx="115.9" cy="335.6" r="1.4"/><circle cx="107.6" cy="354.1" r="1.4"/><circle cx="116.6" cy="351.1" r="1.4"/><circle cx="107.8" cy="339.3" r="1.4"/><circle cx="107.3" cy="355.4" r="1.4"/><circle cx="131.2" cy="355.5" r="1.4"/><circle cx="129.6" cy="357.8" r="1.4"/><circle cx="129.3" cy="353.4" r="1.4"/><circle cx="116.1" cy="356.8" r="1.4"/><circle cx="110.1" cy="352.2" r="1.4"/><circle cx="119.8" cy="352.8" r="1.4"/><circle cx="117.6" cy="356.1" r="1.4"/><circle cx="110.5" cy="331.7" r="1.4"/><circle cx="112.7" cy="355.5" r="1.4"/><circle cx="132.2" cy="355.9" r="1.4"/><circle cx="131.1" cy="357.9" r="1.4"/><circle cx="112.1" cy="352.3" r="1.4"/><circle cx="114.2" cy="354.3" r="1.4"/><circle cx="111.3" cy="355.7" r="1.4"/><circle cx="131.0" cy="357.6" r="1.4"/><circle cx="113.2" cy="352.6" r="1.4"/><circle cx="119.8" cy="338.4" r="1.4"/><circle cx="114.3" cy="348.3" r="1.4"/><circle cx="111.3" cy="350.8" r="1.4"/><circle cx="116.7" cy="347.6" r="1.4"/><circle cx="127.6" cy="356.3" r="1.4"/><circle cx="114.2" cy="355.5" r="1.4"/><circle cx="115.9" cy="343.4" r="1.4"/><circle cx="120.4" cy="346.4" r="1.4"/><circle cx="116.7" cy="356.5" r="1.4"/><circle cx="122.4" cy="350.4" r="1.4"/><circle cx="111.7" cy="346.7" r="1.4"/><circle cx="118.0" cy="334.1" r="1.4"/><circle cx="131.9" cy="355.1" r="1.4"/><circle cx="117.4" cy="355.6" r="1.4"/><circle cx="127.9" cy="347.5" r="1.4"/><circle cx="121.2" cy="357.0" r="1.4"/><circle cx="112.6" cy="342.3" r="1.4"/><circle cx="113.8" cy="331.2" r="1.4"/><circle cx="117.2" cy="355.5" r="1.4"/><circle cx="107.3" cy="349.8" r="1.4"/><circle cx="123.4" cy="357.1" r="1.4"/><circle cx="113.3" cy="353.9" r="1.4"/><circle cx="117.9" cy="352.3" r="1.4"/><circle cx="119.7" cy="355.1" r="1.4"/><circle cx="109.6" cy="330.2" r="1.4"/><circle cx="108.3" cy="357.0" r="1.4"/><circle cx="128.3" cy="357.8" r="1.4"/><circle cx="107.9" cy="345.7" r="1.4"/><circle cx="125.7" cy="343.2" r="1.4"/><circle cx="118.3" cy="357.7" r="1.4"/><circle cx="112.7" cy="340.5" r="1.4"/><circle cx="114.5" cy="357.5" r="1.4"/><circle cx="109.8" cy="347.8" r="1.4"/><circle cx="115.0" cy="335.5" r="1.4"/><circle cx="124.7" cy="355.0" r="1.4"/><circle cx="119.1" cy="352.4" r="1.4"/><circle cx="110.6" cy="348.5" r="1.4"/><circle cx="134.1" cy="357.9" r="1.4"/><circle cx="113.6" cy="343.3" r="1.4"/><circle cx="114.5" cy="356.5" r="1.4"/><circle cx="113.8" cy="350.9" r="1.4"/><circle cx="109.0" cy="330.8" r="1.4"/><circle cx="133.0" cy="356.9" r="1.4"/><circle cx="112.1" cy="335.5" r="1.4"/><circle cx="120.2" cy="355.1" r="1.4"/><circle cx="117.9" cy="357.8" r="1.4"/><circle cx="134.6" cy="357.5" r="1.4"/><circle cx="116.0" cy="345.2" r="1.4"/><circle cx="124.5" cy="354.8" r="1.4"/><circle cx="108.0" cy="343.9" r="1.4"/><circle cx="122.8" cy="348.7" r="1.4"/><circle cx="124.2" cy="347.1" r="1.4"/><circle cx="125.7" cy="356.4" r="1.4"/><circle cx="118.7" cy="353.6" r="1.4"/><circle cx="107.8" cy="357.6" r="1.4"/><circle cx="108.8" cy="350.9" r="1.4"/><circle cx="109.5" cy="343.4" r="1.4"/><circle cx="131.6" cy="355.1" r="1.4"/><circle cx="124.7" cy="352.7" r="1.4"/><circle cx="117.7" cy="356.1" r="1.4"/><circle cx="111.8" cy="356.8" r="1.4"/><circle cx="111.4" cy="352.7" r="1.4"/><circle cx="128.3" cy="353.3" r="1.4"/><circle cx="127.7" cy="355.5" r="1.4"/><circle cx="121.6" cy="354.4" r="1.4"/><circle cx="118.8" cy="357.1" r="1.4"/><circle cx="122.1" cy="357.8" r="1.4"/><circle cx="118.9" cy="351.5" r="1.4"/><circle cx="109.0" cy="355.1" r="1.4"/><circle cx="111.8" cy="344.4" r="1.4"/><circle cx="125.4" cy="350.9" r="1.4"/><circle cx="120.3" cy="355.6" r="1.4"/><circle cx="126.2" cy="349.6" r="1.4"/><circle cx="132.1" cy="355.5" r="1.4"/><circle cx="127.8" cy="352.6" r="1.4"/><circle cx="130.5" cy="353.9" r="1.4"/><circle cx="112.6" cy="333.9" r="1.4"/><circle cx="122.8" cy="353.0" r="1.4"/><circle cx="108.3" cy="356.6" r="1.4"/><circle cx="118.0" cy="351.2" r="1.4"/><circle cx="107.3" cy="349.1" r="1.4"/><circle cx="117.8" cy="354.2" r="1.4"/><circle cx="128.6" cy="357.0" r="1.4"/><circle cx="112.5" cy="352.7" r="1.4"/><circle cx="119.6" cy="337.5" r="1.4"/><circle cx="123.5" cy="353.6" r="1.4"/><circle cx="119.3" cy="347.4" r="1.4"/><circle cx="111.7" cy="355.6" r="1.4"/><circle cx="119.3" cy="356.2" r="1.4"/><circle cx="114.7" cy="341.5" r="1.4"/><circle cx="118.9" cy="336.2" r="1.4"/><circle cx="116.6" cy="357.7" r="1.4"/><circle cx="109.8" cy="336.7" r="1.4"/><circle cx="128.9" cy="356.8" r="1.4"/><circle cx="114.6" cy="343.9" r="1.4"/><circle cx="107.5" cy="347.8" r="1.4"/><circle cx="124.4" cy="355.8" r="1.4"/><circle cx="110.8" cy="354.5" r="1.4"/><circle cx="117.8" cy="354.0" r="1.4"/><circle cx="114.6" cy="357.3" r="1.4"/><circle cx="108.4" cy="330.3" r="1.4"/><circle cx="127.6" cy="357.8" r="1.4"/><circle cx="130.3" cy="356.2" r="1.4"/><circle cx="117.7" cy="337.5" r="1.4"/><circle cx="117.1" cy="352.6" r="1.4"/><circle cx="116.2" cy="344.5" r="1.4"/><circle cx="113.1" cy="356.3" r="1.4"/><circle cx="111.9" cy="350.2" r="1.4"/><circle cx="124.6" cy="345.6" r="1.4"/><circle cx="115.4" cy="351.8" r="1.4"/><circle cx="113.5" cy="328.2" r="1.4"/><circle cx="109.1" cy="357.8" r="1.4"/><circle cx="112.4" cy="357.2" r="1.4"/><circle cx="113.2" cy="348.9" r="1.4"/><circle cx="126.9" cy="348.9" r="1.4"/><circle cx="109.6" cy="349.7" r="1.4"/><circle cx="109.1" cy="355.3" r="1.4"/><circle cx="113.4" cy="355.3" r="1.4"/><circle cx="111.1" cy="339.0" r="1.4"/><circle cx="117.8" cy="353.4" r="1.4"/><circle cx="122.7" cy="342.0" r="1.4"/><circle cx="108.9" cy="349.4" r="1.4"/><circle cx="107.6" cy="345.9" r="1.4"/><circle cx="126.6" cy="355.6" r="1.4"/><circle cx="116.1" cy="339.6" r="1.4"/><circle cx="111.5" cy="357.7" r="1.4"/><circle cx="110.4" cy="351.9" r="1.4"/><circle cx="121.0" cy="347.3" r="1.4"/><circle cx="110.1" cy="356.7" r="1.4"/><circle cx="113.9" cy="338.4" r="1.4"/><circle cx="107.3" cy="338.6" r="1.4"/><circle cx="123.7" cy="345.3" r="1.4"/><circle cx="110.0" cy="331.5" r="1.4"/><circle cx="132.9" cy="357.8" r="1.4"/><circle cx="117.2" cy="356.6" r="1.4"/><circle cx="116.1" cy="338.9" r="1.4"/><circle cx="118.5" cy="356.1" r="1.4"/><circle cx="124.8" cy="356.4" r="1.4"/><circle cx="119.7" cy="350.2" r="1.4"/><circle cx="107.3" cy="356.6" r="1.4"/><circle cx="119.9" cy="357.7" r="1.4"/><circle cx="111.1" cy="349.8" r="1.4"/><circle cx="108.5" cy="349.6" r="1.4"/><circle cx="116.7" cy="340.6" r="1.4"/><circle cx="108.1" cy="326.4" r="1.4"/><circle cx="116.6" cy="345.1" r="1.4"/><circle cx="110.2" cy="348.2" r="1.4"/><circle cx="115.3" cy="356.3" r="1.4"/><circle cx="121.6" cy="334.3" r="1.4"/><circle cx="121.4" cy="349.1" r="1.4"/><circle cx="112.0" cy="347.7" r="1.4"/><circle cx="122.1" cy="355.6" r="1.4"/><circle cx="108.0" cy="355.9" r="1.4"/><circle cx="114.4" cy="347.8" r="1.4"/><circle cx="108.3" cy="338.5" r="1.4"/><circle cx="107.7" cy="357.2" r="1.4"/><circle cx="123.0" cy="352.1" r="1.4"/><circle cx="118.8" cy="345.2" r="1.4"/><circle cx="117.3" cy="357.4" r="1.4"/><circle cx="123.6" cy="354.8" r="1.4"/><circle cx="123.8" cy="353.1" r="1.4"/><circle cx="117.0" cy="354.9" r="1.4"/><circle cx="114.1" cy="357.6" r="1.4"/><circle cx="127.4" cy="355.7" r="1.4"/><circle cx="122.0" cy="349.0" r="1.4"/><circle cx="107.8" cy="350.8" r="1.4"/><circle cx="108.9" cy="334.5" r="1.4"/><circle cx="116.5" cy="352.3" r="1.4"/><circle cx="117.6" cy="353.7" r="1.4"/><circle cx="109.4" cy="344.2" r="1.4"/><circle cx="114.8" cy="357.4" r="1.4"/><circle cx="119.0" cy="357.2" r="1.4"/><circle cx="122.8" cy="356.2" r="1.4"/><circle cx="121.2" cy="354.6" r="1.4"/><circle cx="114.9" cy="333.8" r="1.4"/><circle cx="123.5" cy="353.0" r="1.4"/><circle cx="124.3" cy="356.2" r="1.4"/><circle cx="129.6" cy="352.6" r="1.4"/><circle cx="108.9" cy="356.8" r="1.4"/><circle cx="120.1" cy="343.7" r="1.4"/><circle cx="129.0" cy="356.9" r="1.4"/><circle cx="120.2" cy="356.5" r="1.4"/><circle cx="124.1" cy="342.1" r="1.4"/><circle cx="109.7" cy="357.0" r="1.4"/><circle cx="122.2" cy="345.2" r="1.4"/><circle cx="107.7" cy="356.9" r="1.4"/><circle cx="127.6" cy="357.0" r="1.4"/><circle cx="117.2" cy="347.1" r="1.4"/><circle cx="125.1" cy="352.8" r="1.4"/><circle cx="136.0" cy="357.9" r="1.4"/><circle cx="130.2" cy="356.0" r="1.4"/><circle cx="108.9" cy="349.8" r="1.4"/><circle cx="121.2" cy="355.8" r="1.4"/><circle cx="119.5" cy="342.6" r="1.4"/><circle cx="114.1" cy="357.7" r="1.4"/><circle cx="122.6" cy="356.9" r="1.4"/><circle cx="125.1" cy="357.2" r="1.4"/><circle cx="121.3" cy="343.0" r="1.4"/><circle cx="121.9" cy="351.3" r="1.4"/><circle cx="121.4" cy="339.1" r="1.4"/><circle cx="119.8" cy="343.1" r="1.4"/><circle cx="118.5" cy="349.5" r="1.4"/><circle cx="107.8" cy="346.6" r="1.4"/><circle cx="126.6" cy="356.5" r="1.4"/><circle cx="116.6" cy="354.0" r="1.4"/><circle cx="128.2" cy="354.7" r="1.4"/><circle cx="112.3" cy="352.9" r="1.4"/><circle cx="118.8" cy="340.4" r="1.4"/><circle cx="116.9" cy="338.5" r="1.4"/><circle cx="122.7" cy="357.2" r="1.4"/><circle cx="112.2" cy="357.4" r="1.4"/><circle cx="117.9" cy="350.5" r="1.4"/><circle cx="113.4" cy="346.7" r="1.4"/><circle cx="110.1" cy="346.4" r="1.4"/><circle cx="112.9" cy="351.6" r="1.4"/><circle cx="112.4" cy="343.5" r="1.4"/><circle cx="110.8" cy="350.1" r="1.4"/><circle cx="111.5" cy="354.1" r="1.4"/><circle cx="126.2" cy="355.4" r="1.4"/><circle cx="109.3" cy="356.4" r="1.4"/><circle cx="112.7" cy="351.1" r="1.4"/><circle cx="127.5" cy="355.1" r="1.4"/><circle cx="109.2" cy="340.9" r="1.4"/><circle cx="107.4" cy="353.3" r="1.4"/><circle cx="108.2" cy="346.3" r="1.4"/><circle cx="115.0" cy="334.4" r="1.4"/><circle cx="124.8" cy="347.2" r="1.4"/><circle cx="128.8" cy="357.5" r="1.4"/><circle cx="119.0" cy="352.8" r="1.4"/><circle cx="125.4" cy="354.6" r="1.4"/><circle cx="108.2" cy="339.6" r="1.4"/><circle cx="112.8" cy="356.8" r="1.4"/><circle cx="118.6" cy="343.7" r="1.4"/><circle cx="125.5" cy="357.1" r="1.4"/><circle cx="126.8" cy="352.6" r="1.4"/><circle cx="107.6" cy="357.4" r="1.4"/><circle cx="114.2" cy="347.1" r="1.4"/><circle cx="112.0" cy="357.1" r="1.4"/><circle cx="114.6" cy="354.5" r="1.4"/><circle cx="118.7" cy="355.2" r="1.4"/><circle cx="111.0" cy="332.6" r="1.4"/><circle cx="123.3" cy="346.4" r="1.4"/><circle cx="115.0" cy="356.9" r="1.4"/><circle cx="115.0" cy="357.1" r="1.4"/><circle cx="115.8" cy="352.4" r="1.4"/><circle cx="122.9" cy="350.2" r="1.4"/><circle cx="113.2" cy="351.2" r="1.4"/><circle cx="130.9" cy="351.1" r="1.4"/><circle cx="119.1" cy="337.6" r="1.4"/><circle cx="115.1" cy="345.9" r="1.4"/><circle cx="121.4" cy="356.2" r="1.4"/><circle cx="109.6" cy="353.4" r="1.4"/><circle cx="117.3" cy="357.8" r="1.4"/><circle cx="119.0" cy="341.3" r="1.4"/><circle cx="111.4" cy="338.1" r="1.4"/><circle cx="122.0" cy="351.6" r="1.4"/><circle cx="115.4" cy="327.7" r="1.4"/><circle cx="126.9" cy="357.7" r="1.4"/><circle cx="115.7" cy="344.2" r="1.4"/><circle cx="118.8" cy="344.4" r="1.4"/><circle cx="126.6" cy="356.7" r="1.4"/><circle cx="117.3" cy="353.7" r="1.4"/><circle cx="112.2" cy="354.3" r="1.4"/><circle cx="111.7" cy="334.9" r="1.4"/><circle cx="108.7" cy="345.1" r="1.4"/><circle cx="124.3" cy="357.5" r="1.4"/><circle cx="124.0" cy="356.5" r="1.4"/><circle cx="131.1" cy="355.7" r="1.4"/><circle cx="130.3" cy="357.8" r="1.4"/><circle cx="117.1" cy="353.7" r="1.4"/><circle cx="111.2" cy="354.5" r="1.4"/><circle cx="112.7" cy="332.7" r="1.4"/><circle cx="109.1" cy="349.5" r="1.4"/><circle cx="116.3" cy="341.4" r="1.4"/><circle cx="116.5" cy="346.6" r="1.4"/><circle cx="125.5" cy="349.2" r="1.4"/><circle cx="119.1" cy="351.1" r="1.4"/><circle cx="112.3" cy="354.6" r="1.4"/><circle cx="127.8" cy="350.9" r="1.4"/><circle cx="119.0" cy="341.3" r="1.4"/><circle cx="111.8" cy="354.6" r="1.4"/><circle cx="111.6" cy="352.9" r="1.4"/><circle cx="120.0" cy="347.1" r="1.4"/><circle cx="109.5" cy="343.1" r="1.4"/><circle cx="110.6" cy="344.8" r="1.4"/><circle cx="113.5" cy="354.7" r="1.4"/><circle cx="124.9" cy="354.9" r="1.4"/><circle cx="130.0" cy="352.8" r="1.4"/><circle cx="112.0" cy="352.8" r="1.4"/><circle cx="124.3" cy="341.5" r="1.4"/><circle cx="124.7" cy="353.2" r="1.4"/><circle cx="131.7" cy="343.1" r="1.4"/><circle cx="131.0" cy="339.1" r="1.4"/><circle cx="130.0" cy="351.6" r="1.4"/><circle cx="123.5" cy="344.4" r="1.4"/><circle cx="128.0" cy="339.3" r="1.4"/><circle cx="124.6" cy="331.3" r="1.4"/><circle cx="141.4" cy="355.2" r="1.4"/><circle cx="114.5" cy="355.8" r="1.4"/><circle cx="114.8" cy="351.2" r="1.4"/><circle cx="111.0" cy="316.7" r="1.4"/><circle cx="109.5" cy="332.7" r="1.4"/><circle cx="114.5" cy="330.1" r="1.4"/><circle cx="120.1" cy="343.8" r="1.4"/><circle cx="121.7" cy="327.9" r="1.4"/><circle cx="125.9" cy="350.8" r="1.4"/><circle cx="114.8" cy="347.8" r="1.4"/><circle cx="111.5" cy="310.6" r="1.4"/><circle cx="134.5" cy="352.9" r="1.4"/><circle cx="128.1" cy="334.3" r="1.4"/><circle cx="117.1" cy="351.4" r="1.4"/><circle cx="124.1" cy="329.5" r="1.4"/><circle cx="121.9" cy="330.8" r="1.4"/><circle cx="109.5" cy="311.4" r="1.4"/><circle cx="126.9" cy="352.5" r="1.4"/><circle cx="114.3" cy="338.1" r="1.4"/><circle cx="135.6" cy="349.4" r="1.4"/><circle cx="108.3" cy="306.1" r="1.4"/><circle cx="116.4" cy="324.0" r="1.4"/><circle cx="115.1" cy="341.3" r="1.4"/><circle cx="110.9" cy="331.2" r="1.4"/><circle cx="114.3" cy="350.5" r="1.4"/><circle cx="109.8" cy="309.1" r="1.4"/><circle cx="133.4" cy="352.4" r="1.4"/><circle cx="109.1" cy="356.3" r="1.4"/><circle cx="132.4" cy="341.3" r="1.4"/><circle cx="118.2" cy="325.0" r="1.4"/><circle cx="108.8" cy="351.4" r="1.4"/><circle cx="126.4" cy="345.3" r="1.4"/><circle cx="126.9" cy="337.0" r="1.4"/><circle cx="137.7" cy="348.4" r="1.4"/><circle cx="129.1" cy="340.2" r="1.4"/><circle cx="129.3" cy="333.5" r="1.4"/><circle cx="130.5" cy="338.1" r="1.4"/><circle cx="134.2" cy="350.8" r="1.4"/><circle cx="140.2" cy="356.6" r="1.4"/><circle cx="134.3" cy="355.4" r="1.4"/><circle cx="114.1" cy="351.7" r="1.4"/><circle cx="141.2" cy="354.6" r="1.4"/><circle cx="121.7" cy="339.8" r="1.4"/><circle cx="115.9" cy="322.3" r="1.4"/><circle cx="131.7" cy="337.4" r="1.4"/><circle cx="113.1" cy="334.5" r="1.4"/><circle cx="122.6" cy="344.7" r="1.4"/><circle cx="139.2" cy="348.0" r="1.4"/><circle cx="114.2" cy="343.8" r="1.4"/><circle cx="109.0" cy="335.9" r="1.4"/><circle cx="117.3" cy="317.4" r="1.4"/><circle cx="119.0" cy="330.2" r="1.4"/><circle cx="115.1" cy="342.2" r="1.4"/><circle cx="117.9" cy="349.7" r="1.4"/><circle cx="114.1" cy="347.8" r="1.4"/><circle cx="127.8" cy="352.8" r="1.4"/><circle cx="135.2" cy="356.3" r="1.4"/><circle cx="122.5" cy="341.0" r="1.4"/><circle cx="129.5" cy="348.7" r="1.4"/><circle cx="122.1" cy="343.6" r="1.4"/><circle cx="115.4" cy="342.7" r="1.4"/><circle cx="134.5" cy="344.4" r="1.4"/><circle cx="115.7" cy="339.6" r="1.4"/><circle cx="130.6" cy="352.6" r="1.4"/><circle cx="119.2" cy="334.5" r="1.4"/><circle cx="128.3" cy="347.9" r="1.4"/><circle cx="126.4" cy="345.3" r="1.4"/><circle cx="140.6" cy="350.6" r="1.4"/><circle cx="130.0" cy="339.6" r="1.4"/><circle cx="113.7" cy="317.2" r="1.4"/><circle cx="119.6" cy="334.7" r="1.4"/><circle cx="136.2" cy="348.4" r="1.4"/><circle cx="133.5" cy="349.1" r="1.4"/><circle cx="114.8" cy="329.7" r="1.4"/><circle cx="119.7" cy="345.5" r="1.4"/><circle cx="126.5" cy="329.9" r="1.4"/><circle cx="114.4" cy="328.3" r="1.4"/><circle cx="123.2" cy="336.7" r="1.4"/><circle cx="125.3" cy="344.9" r="1.4"/><circle cx="112.6" cy="339.8" r="1.4"/><circle cx="133.1" cy="351.5" r="1.4"/><circle cx="116.5" cy="353.0" r="1.4"/><circle cx="129.1" cy="353.7" r="1.4"/><circle cx="125.4" cy="333.6" r="1.4"/><circle cx="109.4" cy="310.0" r="1.4"/><circle cx="134.8" cy="352.2" r="1.4"/><circle cx="141.6" cy="350.8" r="1.4"/><circle cx="125.8" cy="347.6" r="1.4"/><circle cx="137.8" cy="356.6" r="1.4"/><circle cx="129.7" cy="341.2" r="1.4"/><circle cx="127.4" cy="355.4" r="1.4"/><circle cx="135.0" cy="344.6" r="1.4"/><circle cx="113.9" cy="335.5" r="1.4"/><circle cx="133.7" cy="340.3" r="1.4"/><circle cx="110.9" cy="355.8" r="1.4"/><circle cx="111.4" cy="342.1" r="1.4"/><circle cx="117.4" cy="337.5" r="1.4"/><circle cx="128.1" cy="342.6" r="1.4"/><circle cx="118.1" cy="348.8" r="1.4"/><circle cx="122.8" cy="324.6" r="1.4"/><circle cx="77.1" cy="346.7" r="1.4"/><circle cx="70.5" cy="357.3" r="1.4"/><circle cx="67.5" cy="352.1" r="1.4"/><circle cx="71.3" cy="356.1" r="1.4"/><circle cx="89.6" cy="350.4" r="1.4"/><circle cx="83.6" cy="355.4" r="1.4"/><circle cx="88.2" cy="350.3" r="1.4"/><circle cx="85.9" cy="351.4" r="1.4"/><circle cx="74.3" cy="357.7" r="1.4"/><circle cx="80.4" cy="343.7" r="1.4"/><circle cx="92.8" cy="353.4" r="1.4"/><circle cx="85.7" cy="354.3" r="1.4"/><circle cx="85.1" cy="348.2" r="1.4"/><circle cx="92.8" cy="356.6" r="1.4"/><circle cx="88.0" cy="349.6" r="1.4"/><circle cx="89.4" cy="351.3" r="1.4"/><circle cx="65.6" cy="356.1" r="1.4"/><circle cx="85.8" cy="354.6" r="1.4"/><circle cx="88.4" cy="351.6" r="1.4"/><circle cx="81.5" cy="351.4" r="1.4"/><circle cx="77.4" cy="346.8" r="1.4"/><circle cx="76.3" cy="353.4" r="1.4"/><circle cx="88.5" cy="352.5" r="1.4"/><circle cx="90.2" cy="354.7" r="1.4"/><circle cx="88.3" cy="354.5" r="1.4"/><circle cx="59.4" cy="357.8" r="1.4"/><circle cx="81.8" cy="356.4" r="1.4"/><circle cx="82.5" cy="347.8" r="1.4"/><circle cx="78.7" cy="357.3" r="1.4"/><circle cx="92.2" cy="353.5" r="1.4"/><circle cx="84.6" cy="357.3" r="1.4"/><circle cx="73.3" cy="354.3" r="1.4"/><circle cx="89.4" cy="357.8" r="1.4"/><circle cx="79.2" cy="356.1" r="1.4"/><circle cx="93.6" cy="343.7" r="1.4"/><circle cx="83.9" cy="342.2" r="1.4"/><circle cx="94.4" cy="357.0" r="1.4"/><circle cx="72.3" cy="354.5" r="1.4"/><circle cx="74.1" cy="345.1" r="1.4"/><circle cx="67.7" cy="356.8" r="1.4"/><circle cx="87.7" cy="356.0" r="1.4"/><circle cx="91.1" cy="355.0" r="1.4"/><circle cx="67.4" cy="357.8" r="1.4"/><circle cx="74.5" cy="357.2" r="1.4"/><circle cx="76.3" cy="341.9" r="1.4"/><circle cx="70.4" cy="347.8" r="1.4"/><circle cx="75.7" cy="353.2" r="1.4"/><circle cx="89.7" cy="357.0" r="1.4"/><circle cx="89.3" cy="355.4" r="1.4"/><circle cx="77.6" cy="356.4" r="1.4"/><circle cx="85.3" cy="355.5" r="1.4"/><circle cx="93.0" cy="356.4" r="1.4"/><circle cx="74.5" cy="345.4" r="1.4"/><circle cx="76.5" cy="355.3" r="1.4"/><circle cx="78.2" cy="355.1" r="1.4"/><circle cx="70.5" cy="350.6" r="1.4"/><circle cx="91.8" cy="353.5" r="1.4"/><circle cx="78.1" cy="352.8" r="1.4"/><circle cx="88.2" cy="353.5" r="1.4"/><circle cx="83.1" cy="353.2" r="1.4"/><circle cx="66.1" cy="355.1" r="1.4"/><circle cx="76.9" cy="347.0" r="1.4"/><circle cx="67.2" cy="357.3" r="1.4"/><circle cx="89.4" cy="352.9" r="1.4"/><circle cx="87.0" cy="356.8" r="1.4"/><circle cx="70.1" cy="350.1" r="1.4"/><circle cx="92.8" cy="351.6" r="1.4"/><circle cx="60.8" cy="354.2" r="1.4"/><circle cx="87.1" cy="346.1" r="1.4"/><circle cx="93.3" cy="352.4" r="1.4"/><circle cx="75.1" cy="353.5" r="1.4"/><circle cx="85.4" cy="352.0" r="1.4"/><circle cx="82.1" cy="351.3" r="1.4"/><circle cx="75.3" cy="351.4" r="1.4"/><circle cx="91.2" cy="356.3" r="1.4"/><circle cx="82.0" cy="351.7" r="1.4"/><circle cx="90.3" cy="355.3" r="1.4"/><circle cx="69.2" cy="357.8" r="1.4"/><circle cx="77.0" cy="356.4" r="1.4"/><circle cx="82.1" cy="355.3" r="1.4"/><circle cx="85.0" cy="357.8" r="1.4"/><circle cx="74.5" cy="355.8" r="1.4"/><circle cx="67.8" cy="356.3" r="1.4"/><circle cx="87.6" cy="357.3" r="1.4"/><circle cx="69.4" cy="355.9" r="1.4"/><circle cx="71.0" cy="350.9" r="1.4"/><circle cx="82.6" cy="346.3" r="1.4"/><circle cx="90.5" cy="355.0" r="1.4"/><circle cx="90.8" cy="353.3" r="1.4"/><circle cx="86.6" cy="350.5" r="1.4"/><circle cx="84.2" cy="357.0" r="1.4"/><circle cx="90.2" cy="355.5" r="1.4"/><circle cx="91.3" cy="355.6" r="1.4"/><circle cx="90.6" cy="356.7" r="1.4"/><circle cx="77.5" cy="352.4" r="1.4"/><circle cx="84.8" cy="357.5" r="1.4"/><circle cx="80.9" cy="353.9" r="1.4"/><circle cx="71.0" cy="354.4" r="1.4"/><circle cx="84.8" cy="354.8" r="1.4"/><circle cx="67.1" cy="354.0" r="1.4"/><circle cx="72.9" cy="353.3" r="1.4"/><circle cx="77.7" cy="357.8" r="1.4"/><circle cx="92.4" cy="353.4" r="1.4"/><circle cx="73.3" cy="344.4" r="1.4"/><circle cx="88.1" cy="345.0" r="1.4"/><circle cx="70.8" cy="350.5" r="1.4"/><circle cx="67.1" cy="355.9" r="1.4"/><circle cx="64.5" cy="357.4" r="1.4"/><circle cx="82.1" cy="352.6" r="1.4"/><circle cx="71.7" cy="353.3" r="1.4"/><circle cx="66.7" cy="350.6" r="1.4"/><circle cx="83.0" cy="347.4" r="1.4"/><circle cx="92.3" cy="352.5" r="1.4"/><circle cx="87.1" cy="354.1" r="1.4"/><circle cx="86.3" cy="353.9" r="1.4"/><circle cx="89.2" cy="352.5" r="1.4"/><circle cx="68.6" cy="357.6" r="1.4"/><circle cx="73.9" cy="355.6" r="1.4"/><circle cx="80.0" cy="351.8" r="1.4"/><circle cx="77.8" cy="354.1" r="1.4"/><circle cx="80.5" cy="349.6" r="1.4"/><circle cx="92.5" cy="355.3" r="1.4"/><circle cx="63.4" cy="356.7" r="1.4"/><circle cx="94.3" cy="355.4" r="1.4"/><circle cx="88.0" cy="345.1" r="1.4"/><circle cx="73.0" cy="350.1" r="1.4"/><circle cx="85.9" cy="344.9" r="1.4"/><circle cx="89.7" cy="349.2" r="1.4"/><circle cx="81.2" cy="353.6" r="1.4"/><circle cx="84.6" cy="357.2" r="1.4"/><circle cx="90.5" cy="354.5" r="1.4"/><circle cx="78.8" cy="357.7" r="1.4"/><circle cx="82.4" cy="353.6" r="1.4"/><circle cx="77.5" cy="350.3" r="1.4"/><circle cx="83.6" cy="356.6" r="1.4"/><circle cx="88.5" cy="355.4" r="1.4"/><circle cx="86.5" cy="353.1" r="1.4"/><circle cx="81.9" cy="352.8" r="1.4"/><circle cx="77.6" cy="342.8" r="1.4"/><circle cx="85.4" cy="349.4" r="1.4"/><circle cx="71.7" cy="345.2" r="1.4"/><circle cx="72.9" cy="353.1" r="1.4"/><circle cx="63.0" cy="356.8" r="1.4"/><circle cx="85.8" cy="356.3" r="1.4"/><circle cx="71.0" cy="354.0" r="1.4"/><circle cx="81.9" cy="352.8" r="1.4"/><circle cx="81.4" cy="353.9" r="1.4"/><circle cx="91.0" cy="353.5" r="1.4"/><circle cx="77.7" cy="345.5" r="1.4"/><circle cx="75.2" cy="353.8" r="1.4"/><circle cx="86.8" cy="355.8" r="1.4"/><circle cx="77.0" cy="354.0" r="1.4"/><circle cx="78.1" cy="355.8" r="1.4"/><circle cx="94.0" cy="348.1" r="1.4"/><circle cx="73.4" cy="356.5" r="1.4"/><circle cx="73.9" cy="345.1" r="1.4"/><circle cx="83.0" cy="353.0" r="1.4"/><circle cx="83.7" cy="354.9" r="1.4"/><circle cx="77.7" cy="351.0" r="1.4"/><circle cx="89.5" cy="353.3" r="1.4"/><circle cx="87.3" cy="356.2" r="1.4"/><circle cx="60.5" cy="357.7" r="1.4"/><circle cx="89.1" cy="354.4" r="1.4"/><circle cx="69.4" cy="356.7" r="1.4"/><circle cx="85.4" cy="349.3" r="1.4"/><circle cx="72.0" cy="348.8" r="1.4"/><circle cx="76.0" cy="357.8" r="1.4"/><circle cx="68.7" cy="351.0" r="1.4"/><circle cx="87.4" cy="357.5" r="1.4"/><circle cx="66.8" cy="356.7" r="1.4"/><circle cx="67.5" cy="356.2" r="1.4"/><circle cx="79.0" cy="354.5" r="1.4"/><circle cx="82.1" cy="356.5" r="1.4"/><circle cx="58.1" cy="354.7" r="1.4"/><circle cx="78.5" cy="347.9" r="1.4"/><circle cx="82.3" cy="346.3" r="1.4"/><circle cx="70.7" cy="357.8" r="1.4"/><circle cx="62.7" cy="356.3" r="1.4"/><circle cx="69.5" cy="356.8" r="1.4"/><circle cx="90.5" cy="355.3" r="1.4"/><circle cx="67.2" cy="355.2" r="1.4"/><circle cx="80.0" cy="355.1" r="1.4"/><circle cx="88.9" cy="354.0" r="1.4"/><circle cx="87.3" cy="357.2" r="1.4"/><circle cx="73.7" cy="349.3" r="1.4"/><circle cx="87.6" cy="354.8" r="1.4"/><circle cx="69.3" cy="352.0" r="1.4"/><circle cx="82.3" cy="352.9" r="1.4"/><circle cx="79.9" cy="356.0" r="1.4"/><circle cx="76.1" cy="355.1" r="1.4"/><circle cx="75.7" cy="348.8" r="1.4"/><circle cx="76.9" cy="347.2" r="1.4"/><circle cx="74.5" cy="352.2" r="1.4"/><circle cx="79.2" cy="353.1" r="1.4"/><circle cx="89.1" cy="347.5" r="1.4"/><circle cx="92.7" cy="357.4" r="1.4"/><circle cx="88.1" cy="347.7" r="1.4"/><circle cx="80.2" cy="356.3" r="1.4"/><circle cx="92.2" cy="351.5" r="1.4"/><circle cx="71.9" cy="356.2" r="1.4"/><circle cx="78.7" cy="346.5" r="1.4"/><circle cx="88.8" cy="351.3" r="1.4"/><circle cx="72.4" cy="355.1" r="1.4"/><circle cx="65.5" cy="357.5" r="1.4"/><circle cx="72.8" cy="345.5" r="1.4"/><circle cx="72.9" cy="353.7" r="1.4"/><circle cx="71.4" cy="350.2" r="1.4"/><circle cx="89.1" cy="357.0" r="1.4"/><circle cx="72.3" cy="348.2" r="1.4"/><circle cx="60.6" cy="352.2" r="1.4"/><circle cx="64.8" cy="352.7" r="1.4"/><circle cx="67.7" cy="356.0" r="1.4"/><circle cx="87.7" cy="356.5" r="1.4"/><circle cx="83.8" cy="355.8" r="1.4"/><circle cx="85.6" cy="345.8" r="1.4"/><circle cx="79.6" cy="348.5" r="1.4"/><circle cx="75.3" cy="353.4" r="1.4"/><circle cx="71.3" cy="357.2" r="1.4"/><circle cx="73.1" cy="354.3" r="1.4"/><circle cx="76.1" cy="349.1" r="1.4"/><circle cx="92.0" cy="355.4" r="1.4"/><circle cx="76.0" cy="356.6" r="1.4"/><circle cx="79.1" cy="354.8" r="1.4"/><circle cx="91.8" cy="355.6" r="1.4"/><circle cx="85.3" cy="357.6" r="1.4"/><circle cx="79.8" cy="357.5" r="1.4"/><circle cx="83.2" cy="346.6" r="1.4"/><circle cx="79.2" cy="356.5" r="1.4"/><circle cx="84.1" cy="354.1" r="1.4"/><circle cx="85.9" cy="353.6" r="1.4"/><circle cx="80.6" cy="349.9" r="1.4"/><circle cx="75.9" cy="350.9" r="1.4"/><circle cx="77.6" cy="346.3" r="1.4"/><circle cx="72.3" cy="352.5" r="1.4"/><circle cx="79.4" cy="357.0" r="1.4"/><circle cx="85.2" cy="346.8" r="1.4"/><circle cx="93.2" cy="356.0" r="1.4"/><circle cx="79.7" cy="353.0" r="1.4"/><circle cx="88.9" cy="341.3" r="1.4"/><circle cx="78.2" cy="353.2" r="1.4"/><circle cx="78.6" cy="357.3" r="1.4"/><circle cx="79.6" cy="352.3" r="1.4"/><circle cx="73.7" cy="349.4" r="1.4"/><circle cx="82.9" cy="355.4" r="1.4"/><circle cx="94.3" cy="350.5" r="1.4"/><circle cx="80.7" cy="354.8" r="1.4"/><circle cx="88.2" cy="357.6" r="1.4"/><circle cx="84.0" cy="345.7" r="1.4"/><circle cx="78.5" cy="349.7" r="1.4"/><circle cx="86.1" cy="354.1" r="1.4"/><circle cx="74.7" cy="357.0" r="1.4"/><circle cx="86.1" cy="351.8" r="1.4"/><circle cx="90.1" cy="355.1" r="1.4"/><circle cx="94.1" cy="349.3" r="1.4"/><circle cx="71.5" cy="357.2" r="1.4"/><circle cx="92.0" cy="348.3" r="1.4"/><circle cx="90.8" cy="351.1" r="1.4"/><circle cx="82.3" cy="357.3" r="1.4"/><circle cx="88.8" cy="353.0" r="1.4"/><circle cx="93.4" cy="347.1" r="1.4"/><circle cx="83.3" cy="349.6" r="1.4"/><circle cx="85.6" cy="350.7" r="1.4"/><circle cx="62.8" cy="353.5" r="1.4"/><circle cx="63.3" cy="356.0" r="1.4"/><circle cx="68.3" cy="357.5" r="1.4"/><circle cx="74.5" cy="351.2" r="1.4"/><circle cx="92.7" cy="357.2" r="1.4"/><circle cx="79.2" cy="352.8" r="1.4"/><circle cx="80.8" cy="356.3" r="1.4"/><circle cx="84.5" cy="345.7" r="1.4"/><circle cx="87.4" cy="351.7" r="1.4"/><circle cx="87.6" cy="350.2" r="1.4"/><circle cx="80.5" cy="357.7" r="1.4"/><circle cx="88.9" cy="356.2" r="1.4"/><circle cx="73.8" cy="347.2" r="1.4"/><circle cx="75.2" cy="352.0" r="1.4"/><circle cx="74.3" cy="355.9" r="1.4"/><circle cx="83.3" cy="346.0" r="1.4"/><circle cx="89.7" cy="350.8" r="1.4"/><circle cx="71.5" cy="353.0" r="1.4"/><circle cx="70.7" cy="356.4" r="1.4"/><circle cx="84.5" cy="350.8" r="1.4"/><circle cx="76.0" cy="355.6" r="1.4"/><circle cx="92.8" cy="347.6" r="1.4"/><circle cx="88.3" cy="348.8" r="1.4"/><circle cx="91.7" cy="350.9" r="1.4"/><circle cx="86.6" cy="350.6" r="1.4"/><circle cx="84.7" cy="357.4" r="1.4"/><circle cx="80.5" cy="348.9" r="1.4"/><circle cx="92.4" cy="357.7" r="1.4"/><circle cx="63.1" cy="357.1" r="1.4"/><circle cx="83.6" cy="357.6" r="1.4"/><circle cx="77.1" cy="353.7" r="1.4"/><circle cx="84.9" cy="346.3" r="1.4"/><circle cx="93.5" cy="347.5" r="1.4"/><circle cx="78.5" cy="351.0" r="1.4"/><circle cx="80.2" cy="352.0" r="1.4"/><circle cx="68.5" cy="356.9" r="1.4"/><circle cx="78.5" cy="355.3" r="1.4"/><circle cx="61.2" cy="356.4" r="1.4"/><circle cx="87.3" cy="352.3" r="1.4"/><circle cx="89.1" cy="343.6" r="1.4"/><circle cx="83.5" cy="348.8" r="1.4"/><circle cx="78.2" cy="353.0" r="1.4"/><circle cx="78.9" cy="357.1" r="1.4"/><circle cx="84.6" cy="354.0" r="1.4"/><circle cx="85.4" cy="357.0" r="1.4"/><circle cx="68.8" cy="357.7" r="1.4"/><circle cx="72.5" cy="355.9" r="1.4"/><circle cx="71.6" cy="357.8" r="1.4"/><circle cx="70.0" cy="355.1" r="1.4"/><circle cx="79.3" cy="354.7" r="1.4"/><circle cx="81.9" cy="352.9" r="1.4"/><circle cx="89.1" cy="352.8" r="1.4"/><circle cx="67.3" cy="357.8" r="1.4"/><circle cx="94.5" cy="356.5" r="1.4"/><circle cx="87.6" cy="346.8" r="1.4"/><circle cx="81.0" cy="355.2" r="1.4"/><circle cx="85.5" cy="350.6" r="1.4"/><circle cx="65.7" cy="354.9" r="1.4"/><circle cx="92.8" cy="350.5" r="1.4"/><circle cx="75.9" cy="355.3" r="1.4"/><circle cx="89.4" cy="353.8" r="1.4"/><circle cx="77.9" cy="352.0" r="1.4"/><circle cx="87.3" cy="353.6" r="1.4"/><circle cx="68.0" cy="350.7" r="1.4"/><circle cx="86.9" cy="352.7" r="1.4"/><circle cx="83.0" cy="356.5" r="1.4"/><circle cx="73.9" cy="352.0" r="1.4"/><circle cx="66.5" cy="353.2" r="1.4"/><circle cx="73.5" cy="357.6" r="1.4"/><circle cx="80.6" cy="354.9" r="1.4"/><circle cx="73.5" cy="356.1" r="1.4"/><circle cx="84.3" cy="351.4" r="1.4"/><circle cx="90.9" cy="347.1" r="1.4"/><circle cx="85.2" cy="357.5" r="1.4"/><circle cx="72.7" cy="352.8" r="1.4"/><circle cx="71.2" cy="357.8" r="1.4"/><circle cx="72.5" cy="357.8" r="1.4"/><circle cx="79.4" cy="357.4" r="1.4"/><circle cx="79.0" cy="356.1" r="1.4"/><circle cx="61.1" cy="355.1" r="1.4"/><circle cx="85.7" cy="355.7" r="1.4"/><circle cx="76.4" cy="352.9" r="1.4"/><circle cx="75.8" cy="349.0" r="1.4"/><circle cx="89.9" cy="355.8" r="1.4"/><circle cx="94.0" cy="350.2" r="1.4"/><circle cx="85.0" cy="354.9" r="1.4"/><circle cx="79.1" cy="356.1" r="1.4"/><circle cx="91.7" cy="355.4" r="1.4"/><circle cx="78.7" cy="356.8" r="1.4"/><circle cx="79.0" cy="349.3" r="1.4"/><circle cx="85.1" cy="357.7" r="1.4"/><circle cx="84.8" cy="348.9" r="1.4"/><circle cx="71.4" cy="354.9" r="1.4"/><circle cx="60.7" cy="356.9" r="1.4"/><circle cx="70.9" cy="357.8" r="1.4"/><circle cx="92.1" cy="357.8" r="1.4"/><circle cx="68.8" cy="351.7" r="1.4"/><circle cx="81.7" cy="352.6" r="1.4"/><circle cx="86.2" cy="354.8" r="1.4"/><circle cx="92.2" cy="354.4" r="1.4"/><circle cx="77.3" cy="351.7" r="1.4"/><circle cx="80.5" cy="356.9" r="1.4"/><circle cx="65.3" cy="350.2" r="1.4"/><circle cx="84.4" cy="351.9" r="1.4"/><circle cx="81.3" cy="351.1" r="1.4"/><circle cx="67.4" cy="355.8" r="1.4"/><circle cx="75.7" cy="353.2" r="1.4"/><circle cx="59.3" cy="357.0" r="1.4"/><circle cx="80.4" cy="353.7" r="1.4"/><circle cx="77.2" cy="356.5" r="1.4"/><circle cx="75.7" cy="354.3" r="1.4"/><circle cx="66.6" cy="354.0" r="1.4"/><circle cx="69.6" cy="348.2" r="1.4"/><circle cx="75.1" cy="349.1" r="1.4"/><circle cx="89.7" cy="354.7" r="1.4"/><circle cx="81.1" cy="356.1" r="1.4"/><circle cx="72.5" cy="354.2" r="1.4"/><circle cx="85.9" cy="344.9" r="1.4"/><circle cx="86.3" cy="357.2" r="1.4"/><circle cx="69.5" cy="356.0" r="1.4"/><circle cx="83.2" cy="351.8" r="1.4"/><circle cx="74.4" cy="357.4" r="1.4"/><circle cx="82.5" cy="346.0" r="1.4"/><circle cx="71.0" cy="354.2" r="1.4"/><circle cx="75.8" cy="352.7" r="1.4"/><circle cx="73.5" cy="357.8" r="1.4"/><circle cx="64.5" cy="357.4" r="1.4"/><circle cx="72.6" cy="351.2" r="1.4"/><circle cx="81.0" cy="355.1" r="1.4"/><circle cx="88.7" cy="356.9" r="1.4"/><circle cx="91.3" cy="353.4" r="1.4"/><circle cx="63.7" cy="356.5" r="1.4"/><circle cx="90.8" cy="357.2" r="1.4"/><circle cx="69.2" cy="355.4" r="1.4"/><circle cx="79.4" cy="357.8" r="1.4"/><circle cx="88.6" cy="357.8" r="1.4"/><circle cx="83.5" cy="350.5" r="1.4"/><circle cx="69.2" cy="354.5" r="1.4"/><circle cx="82.0" cy="355.5" r="1.4"/><circle cx="90.0" cy="344.1" r="1.4"/><circle cx="69.7" cy="335.0" r="1.4"/><circle cx="58.3" cy="344.0" r="1.4"/><circle cx="88.3" cy="339.7" r="1.4"/><circle cx="72.6" cy="350.2" r="1.4"/><circle cx="67.7" cy="345.2" r="1.4"/><circle cx="75.8" cy="345.6" r="1.4"/><circle cx="89.8" cy="342.2" r="1.4"/><circle cx="88.0" cy="340.1" r="1.4"/><circle cx="74.5" cy="355.5" r="1.4"/><circle cx="79.0" cy="336.4" r="1.4"/><circle cx="68.0" cy="355.8" r="1.4"/><circle cx="60.3" cy="347.7" r="1.4"/><circle cx="92.2" cy="345.5" r="1.4"/><circle cx="91.8" cy="344.0" r="1.4"/><circle cx="74.6" cy="336.1" r="1.4"/><circle cx="88.1" cy="342.8" r="1.4"/><circle cx="51.0" cy="347.3" r="1.4"/><circle cx="80.7" cy="342.5" r="1.4"/><circle cx="90.1" cy="334.4" r="1.4"/><circle cx="63.6" cy="337.4" r="1.4"/><circle cx="63.7" cy="345.1" r="1.4"/><circle cx="84.2" cy="334.4" r="1.4"/><circle cx="51.2" cy="345.1" r="1.4"/><circle cx="55.8" cy="340.5" r="1.4"/><circle cx="61.4" cy="337.9" r="1.4"/><circle cx="90.6" cy="341.5" r="1.4"/><circle cx="87.3" cy="351.2" r="1.4"/><circle cx="82.4" cy="339.9" r="1.4"/><circle cx="70.3" cy="346.6" r="1.4"/><circle cx="72.1" cy="343.3" r="1.4"/><circle cx="50.6" cy="352.8" r="1.4"/><circle cx="57.1" cy="335.7" r="1.4"/><circle cx="92.5" cy="341.7" r="1.4"/><circle cx="81.4" cy="336.1" r="1.4"/><circle cx="78.5" cy="346.0" r="1.4"/><circle cx="72.1" cy="352.3" r="1.4"/><circle cx="66.0" cy="341.3" r="1.4"/><circle cx="57.5" cy="354.0" r="1.4"/><circle cx="67.1" cy="354.6" r="1.4"/><circle cx="52.2" cy="356.4" r="1.4"/><circle cx="89.2" cy="340.1" r="1.4"/><circle cx="74.7" cy="343.5" r="1.4"/><circle cx="89.0" cy="337.6" r="1.4"/><circle cx="90.8" cy="346.4" r="1.4"/><circle cx="80.4" cy="338.8" r="1.4"/><circle cx="78.1" cy="341.6" r="1.4"/><circle cx="88.1" cy="351.3" r="1.4"/><circle cx="57.3" cy="336.6" r="1.4"/><circle cx="84.4" cy="344.0" r="1.4"/><circle cx="87.7" cy="341.6" r="1.4"/><circle cx="60.2" cy="337.0" r="1.4"/><circle cx="78.9" cy="356.4" r="1.4"/><circle cx="91.0" cy="351.7" r="1.4"/><circle cx="77.9" cy="349.8" r="1.4"/><circle cx="55.7" cy="351.0" r="1.4"/><circle cx="70.2" cy="356.7" r="1.4"/><circle cx="58.5" cy="345.0" r="1.4"/><circle cx="92.7" cy="349.8" r="1.4"/><circle cx="118.7" cy="288.7" r="1.4"/><circle cx="122.4" cy="291.1" r="1.4"/><circle cx="121.7" cy="276.2" r="1.4"/><circle cx="127.3" cy="273.2" r="1.4"/><circle cx="129.1" cy="281.0" r="1.4"/><circle cx="124.8" cy="285.1" r="1.4"/><circle cx="129.7" cy="303.0" r="1.4"/><circle cx="127.9" cy="300.0" r="1.4"/><circle cx="131.6" cy="297.1" r="1.4"/><circle cx="142.6" cy="312.0" r="1.4"/><circle cx="119.3" cy="304.2" r="1.4"/><circle cx="116.2" cy="299.4" r="1.4"/><circle cx="241.3" cy="308.4" r="1.4"/><circle cx="50.6" cy="335.8" r="1.4"/><circle cx="50.0" cy="347.7" r="1.4"/><circle cx="71.5" cy="333.4" r="1.4"/><circle cx="62.3" cy="334.0" r="1.4"/><circle cx="114.4" cy="294.1" r="1.4"/><circle cx="118.1" cy="296.5" r="1.4"/><circle cx="123.0" cy="298.8" r="1.4"/><circle cx="120.5" cy="308.4" r="1.4"/><circle cx="115.6" cy="310.8" r="1.4"/><circle cx="124.2" cy="314.3" r="1.4"/><circle cx="126.0" cy="306.6" r="1.4"/><circle cx="132.8" cy="317.9" r="1.4"/><circle cx="135.2" cy="326.3" r="1.4"/><circle cx="138.9" cy="334.0" r="1.4"/><circle cx="143.8" cy="340.6" r="1.4"/><circle cx="140.7" cy="350.1" r="1.4"/><circle cx="145.0" cy="354.9" r="1.4"/></g>
<line x1="94.77" y1="239.50" x2="94.77" y2="371.40" stroke="#777" stroke-width="0.6" stroke-dasharray="2.2,1.6"/>
<line x1="107.03" y1="239.50" x2="107.03" y2="371.40" stroke="#777" stroke-width="0.6" stroke-dasharray="2.2,1.6"/>
<line x1="29.60" y1="357.85" x2="261.00" y2="357.85" stroke="#777" stroke-width="0.6" stroke-dasharray="2.2,1.6"/>
<rect x="29.60" y="239.50" width="231.40" height="131.90" fill="none" stroke="#111" stroke-width="1.1"/>
<text x="61.30" y="279.80" font-size="9.0" text-anchor="start" fill="#000" stroke="#000" stroke-width="0.23" font-style="italic">STMN1</text>
<text x="59.70" y="302.30" font-size="9.0" text-anchor="start" fill="#000" stroke="#000" stroke-width="0.23" font-style="italic">CCNE1</text>
<text x="68.40" y="318.90" font-size="9.0" text-anchor="start" fill="#000" stroke="#000" stroke-width="0.23" font-style="italic">BUB1</text>
<text x="115.40" y="269.80" font-size="9.0" text-anchor="start" fill="#000" stroke="#000" stroke-width="0.23" font-style="italic">E2F2</text>
<text x="140.90" y="261.10" font-size="9.0" text-anchor="start" fill="#000" stroke="#000" stroke-width="0.23" font-style="italic">TOP2A</text>
<text x="144.60" y="302.10" font-size="9.0" text-anchor="start" fill="#000" stroke="#000" stroke-width="0.23" font-style="italic">MKI67</text>
<text x="135.20" y="322.70" font-size="9.0" text-anchor="start" fill="#000" stroke="#000" stroke-width="0.23" font-style="italic">AURKB</text>
<text x="149.10" y="335.10" font-size="9.0" text-anchor="start" fill="#000" stroke="#000" stroke-width="0.23" font-style="italic">E2F1</text>
<text x="152.00" y="347.50" font-size="9.0" text-anchor="start" fill="#000" stroke="#000" stroke-width="0.23" font-style="italic">E2F8</text>
<text x="214.90" y="303.30" font-size="9.0" text-anchor="start" fill="#000" stroke="#000" stroke-width="0.23" font-style="italic">MAGEA3</text>
<line x1="93.30" y1="278.30" x2="118.70" y2="286.70" stroke="#000" stroke-width="0.7"/>
<line x1="92.00" y1="300.80" x2="118.70" y2="307.70" stroke="#000" stroke-width="0.7"/>
<line x1="92.00" y1="317.00" x2="120.50" y2="323.50" stroke="#000" stroke-width="0.7"/>
<line x1="126.50" y1="271.70" x2="124.00" y2="284.60" stroke="#000" stroke-width="0.7"/>
<line x1="147.10" y1="265.30" x2="132.20" y2="274.20" stroke="#000" stroke-width="0.7"/>
<line x1="142.20" y1="299.50" x2="133.50" y2="302.00" stroke="#000" stroke-width="0.7"/>
<line x1="131.70" y1="309.50" x2="137.70" y2="315.70" stroke="#000" stroke-width="0.7"/>
<line x1="148.40" y1="332.30" x2="126.00" y2="336.80" stroke="#000" stroke-width="0.7"/>
<line x1="150.80" y1="344.20" x2="121.00" y2="342.20" stroke="#000" stroke-width="0.7"/>
<text x="145.30" y="397.90" font-size="9.1" text-anchor="middle" fill="#000" stroke="#000" stroke-width="0.24">Log<tspan font-size="6.2" dy="1.6">2</tspan><tspan dy="-1.6"> fold change</tspan></text>
<text transform="translate(9.4,304.3) rotate(-90)" font-size="9.1" text-anchor="middle">-Log<tspan font-size="6.2" dy="1.6">10</tspan><tspan dy="-1.6"> </tspan><tspan font-style="italic">p-adj</tspan></text>
<text x="276.60" y="222.80" font-size="17.5" text-anchor="start" fill="#000" stroke="#000" stroke-width="0.00" font-weight="bold">E</text>
<text x="299.70" y="232.40" font-size="9.1" text-anchor="start" fill="#000" stroke="#000" stroke-width="0.24">RNA- Resistant vs Sensitive – Hallmark</text>
<line x1="299.70" y1="234.50" x2="493.50" y2="234.50" stroke="#222" stroke-width="1.0"/>
<rect x="397.90" y="239.05" width="39.85" height="8.30" fill="#fd8cc5" stroke="none" stroke-width="1"/>
<text x="396.30" y="246.00" font-size="7.9" text-anchor="end" fill="#000" stroke="#000" stroke-width="0.21">E2F targets</text>
<rect x="397.90" y="249.14" width="37.30" height="8.30" fill="#fd8cc5" stroke="none" stroke-width="1"/>
<text x="396.30" y="256.09" font-size="7.9" text-anchor="end" fill="#000" stroke="#000" stroke-width="0.21">G2M checkpoint</text>
<rect x="397.90" y="259.23" width="32.86" height="8.30" fill="#fd8cc5" stroke="none" stroke-width="1"/>
<text x="396.30" y="266.18" font-size="7.9" text-anchor="end" fill="#000" stroke="#000" stroke-width="0.21">MYC targets v1</text>
<rect x="397.90" y="269.32" width="27.08" height="8.30" fill="#fd8cc5" stroke="none" stroke-width="1"/>
<text x="396.30" y="276.27" font-size="7.9" text-anchor="end" fill="#000" stroke="#000" stroke-width="0.21">MYC targets v2</text>
<rect x="397.90" y="279.41" width="27.08" height="8.30" fill="#fd8cc5" stroke="none" stroke-width="1"/>
<text x="396.30" y="286.36" font-size="7.9" text-anchor="end" fill="#000" stroke="#000" stroke-width="0.21">mTORC1 signaling</text>
<rect x="397.90" y="289.50" width="25.86" height="8.30" fill="#fd8cc5" stroke="none" stroke-width="1"/>
<text x="396.30" y="296.45" font-size="7.9" text-anchor="end" fill="#000" stroke="#000" stroke-width="0.21">Mitotic spindle</text>
<rect x="397.90" y="299.59" width="23.09" height="8.30" fill="#fd8cc5" stroke="none" stroke-width="1"/>
<text x="396.30" y="306.54" font-size="7.9" text-anchor="end" fill="#000" stroke="#000" stroke-width="0.21">DNA repair</text>
<rect x="397.90" y="309.68" width="22.64" height="8.30" fill="#fd8cc5" stroke="none" stroke-width="1"/>
<text x="396.30" y="316.63" font-size="7.9" text-anchor="end" fill="#000" stroke="#000" stroke-width="0.21">Interferon alpha response</text>
<rect x="397.90" y="319.77" width="22.20" height="8.30" fill="#fd8cc5" stroke="none" stroke-width="1"/>
<text x="396.30" y="326.72" font-size="7.9" text-anchor="end" fill="#000" stroke="#000" stroke-width="0.21">Interferon gamma response</text>
<rect x="382.25" y="329.86" width="15.65" height="8.30" fill="#e7a953" stroke="none" stroke-width="1"/>
<text x="400.90" y="336.81" font-size="7.9" text-anchor="start" fill="#000" stroke="#000" stroke-width="0.21">Estrogen response early</text>
<rect x="381.25" y="339.95" width="16.65" height="8.30" fill="#e7a953" stroke="none" stroke-width="1"/>
<text x="400.90" y="346.90" font-size="7.9" text-anchor="start" fill="#000" stroke="#000" stroke-width="0.21">TGFβ signaling</text>
<rect x="380.36" y="350.04" width="17.54" height="8.30" fill="#e7a953" stroke="none" stroke-width="1"/>
<text x="400.90" y="356.99" font-size="7.9" text-anchor="start" fill="#000" stroke="#000" stroke-width="0.21">Myogenesis</text>
<rect x="378.47" y="360.13" width="19.43" height="8.30" fill="#e7a953" stroke="none" stroke-width="1"/>
<text x="400.90" y="367.08" font-size="7.9" text-anchor="start" fill="#000" stroke="#000" stroke-width="0.21">EMT</text>
<line x1="353.50" y1="369.50" x2="442.30" y2="369.50" stroke="#333" stroke-width="1.0"/>
<line x1="353.50" y1="369.50" x2="353.50" y2="372.10" stroke="#333" stroke-width="1.0"/>
<text x="353.50" y="381.50" font-size="8.6" text-anchor="middle" fill="#000" stroke="#000" stroke-width="0.22">-4</text>
<line x1="375.70" y1="369.50" x2="375.70" y2="372.10" stroke="#333" stroke-width="1.0"/>
<text x="375.70" y="381.50" font-size="8.6" text-anchor="middle" fill="#000" stroke="#000" stroke-width="0.22">-2</text>
<line x1="397.90" y1="369.50" x2="397.90" y2="372.10" stroke="#333" stroke-width="1.0"/>
<text x="397.90" y="381.50" font-size="8.6" text-anchor="middle" fill="#000" stroke="#000" stroke-width="0.22">0</text>
<line x1="420.10" y1="369.50" x2="420.10" y2="372.10" stroke="#333" stroke-width="1.0"/>
<text x="420.10" y="381.50" font-size="8.6" text-anchor="middle" fill="#000" stroke="#000" stroke-width="0.22">2</text>
<line x1="442.30" y1="369.50" x2="442.30" y2="372.10" stroke="#333" stroke-width="1.0"/>
<text x="442.30" y="381.50" font-size="8.6" text-anchor="middle" fill="#000" stroke="#000" stroke-width="0.22">4</text>
<text x="397.90" y="390.30" font-size="9.1" text-anchor="middle" fill="#000" stroke="#000" stroke-width="0.24">NES</text>
<text x="276.80" y="419.60" font-size="17.5" text-anchor="start" fill="#000" stroke="#000" stroke-width="0.00" font-weight="bold">H</text>
<text x="299.70" y="435.50" font-size="9.1" text-anchor="start" fill="#000" stroke="#000" stroke-width="0.24">Protein - Resistant vs Sensitive – Hallmark</text>
<line x1="299.70" y1="437.50" x2="493.50" y2="437.50" stroke="#222" stroke-width="1.0"/>
<rect x="393.20" y="442.75" width="29.48" height="8.30" fill="#fd8cc5" stroke="none" stroke-width="1"/>
<text x="391.60" y="449.70" font-size="7.9" text-anchor="end" fill="#000" stroke="#000" stroke-width="0.21">E2F targets</text>
<rect x="393.20" y="452.84" width="28.49" height="8.30" fill="#fd8cc5" stroke="none" stroke-width="1"/>
<text x="391.60" y="459.79" font-size="7.9" text-anchor="end" fill="#000" stroke="#000" stroke-width="0.21">MYC targets v1</text>
<rect x="393.20" y="462.93" width="26.07" height="8.30" fill="#fd8cc5" stroke="none" stroke-width="1"/>
<text x="391.60" y="469.88" font-size="7.9" text-anchor="end" fill="#000" stroke="#000" stroke-width="0.21">G2M checkpoint</text>
<rect x="393.20" y="473.02" width="25.52" height="8.30" fill="#fd8cc5" stroke="none" stroke-width="1"/>
<text x="391.60" y="479.97" font-size="7.9" text-anchor="end" fill="#000" stroke="#000" stroke-width="0.21">MYC targets v2</text>
<rect x="393.20" y="483.11" width="22.66" height="8.30" fill="#fd8cc5" stroke="none" stroke-width="1"/>
<text x="391.60" y="490.06" font-size="7.9" text-anchor="end" fill="#000" stroke="#000" stroke-width="0.21">Unfolded protein response</text>
<rect x="393.20" y="493.20" width="22.00" height="8.30" fill="#fd8cc5" stroke="none" stroke-width="1"/>
<text x="391.60" y="500.15" font-size="7.9" text-anchor="end" fill="#000" stroke="#000" stroke-width="0.21">DNA repair</text>
<rect x="393.20" y="503.29" width="18.70" height="8.30" fill="#fd8cc5" stroke="none" stroke-width="1"/>
<text x="391.60" y="510.24" font-size="7.9" text-anchor="end" fill="#000" stroke="#000" stroke-width="0.21">mTORC1 signaling</text>
<rect x="375.16" y="513.38" width="18.04" height="8.30" fill="#e7a953" stroke="none" stroke-width="1"/>
<text x="396.20" y="520.33" font-size="7.9" text-anchor="start" fill="#000" stroke="#000" stroke-width="0.21">Estrogen response early</text>
<rect x="375.16" y="523.47" width="18.04" height="8.30" fill="#e7a953" stroke="none" stroke-width="1"/>
<text x="396.20" y="530.42" font-size="7.9" text-anchor="start" fill="#000" stroke="#000" stroke-width="0.21">Apoptosis</text>
<rect x="372.96" y="533.56" width="20.24" height="8.30" fill="#e7a953" stroke="none" stroke-width="1"/>
<text x="396.20" y="540.51" font-size="7.9" text-anchor="start" fill="#000" stroke="#000" stroke-width="0.21">Myogenesis</text>
<rect x="371.20" y="543.65" width="22.00" height="8.30" fill="#e7a953" stroke="none" stroke-width="1"/>
<text x="396.20" y="550.60" font-size="7.9" text-anchor="start" fill="#000" stroke="#000" stroke-width="0.21">Fatty acid metabolism</text>
<rect x="369.00" y="553.74" width="24.20" height="8.30" fill="#e7a953" stroke="none" stroke-width="1"/>
<text x="396.20" y="560.69" font-size="7.9" text-anchor="start" fill="#000" stroke="#000" stroke-width="0.21">Coagulation</text>
<rect x="366.25" y="563.83" width="26.95" height="8.30" fill="#e7a953" stroke="none" stroke-width="1"/>
<text x="396.20" y="570.78" font-size="7.9" text-anchor="start" fill="#000" stroke="#000" stroke-width="0.21">EMT</text>
<line x1="349.20" y1="573.50" x2="437.20" y2="573.50" stroke="#333" stroke-width="1.0"/>
<line x1="349.20" y1="573.50" x2="349.20" y2="576.10" stroke="#333" stroke-width="1.0"/>
<text x="349.20" y="585.50" font-size="8.6" text-anchor="middle" fill="#000" stroke="#000" stroke-width="0.22">-4</text>
<line x1="371.20" y1="573.50" x2="371.20" y2="576.10" stroke="#333" stroke-width="1.0"/>
<text x="371.20" y="585.50" font-size="8.6" text-anchor="middle" fill="#000" stroke="#000" stroke-width="0.22">-2</text>
<line x1="393.20" y1="573.50" x2="393.20" y2="576.10" stroke="#333" stroke-width="1.0"/>
<text x="393.20" y="585.50" font-size="8.6" text-anchor="middle" fill="#000" stroke="#000" stroke-width="0.22">0</text>
<line x1="415.20" y1="573.50" x2="415.20" y2="576.10" stroke="#333" stroke-width="1.0"/>
<text x="415.20" y="585.50" font-size="8.6" text-anchor="middle" fill="#000" stroke="#000" stroke-width="0.22">2</text>
<line x1="437.20" y1="573.50" x2="437.20" y2="576.10" stroke="#333" stroke-width="1.0"/>
<text x="437.20" y="585.50" font-size="8.6" text-anchor="middle" fill="#000" stroke="#000" stroke-width="0.22">4</text>
<text x="393.20" y="594.30" font-size="9.1" text-anchor="middle" fill="#000" stroke="#000" stroke-width="0.24">NES</text>
<text x="-0.40" y="419.00" font-size="17.5" text-anchor="start" fill="#000" stroke="#000" stroke-width="0.00" font-weight="bold">G</text>
<text x="62.00" y="424.80" font-size="6.0" text-anchor="middle" fill="#333" stroke="#333" stroke-width="0.16">CDK2</text>
<line x1="29.20" y1="437.65" x2="94.80" y2="437.65" stroke="#f2f2f2" stroke-width="0.4"/>
<line x1="29.20" y1="449.35" x2="94.80" y2="449.35" stroke="#f2f2f2" stroke-width="0.4"/>
<line x1="29.20" y1="461.10" x2="94.80" y2="461.10" stroke="#f2f2f2" stroke-width="0.4"/>
<line x1="29.20" y1="472.90" x2="94.80" y2="472.90" stroke="#f2f2f2" stroke-width="0.4"/>
<line x1="29.20" y1="484.65" x2="94.80" y2="484.65" stroke="#f2f2f2" stroke-width="0.4"/>
<line x1="29.20" y1="431.80" x2="94.80" y2="431.80" stroke="#e6e6e6" stroke-width="0.55"/>
<line x1="27.70" y1="431.80" x2="29.20" y2="431.80" stroke="#333" stroke-width="0.4"/>
<text x="27.90" y="433.80" font-size="5.7" text-anchor="end" fill="#444" stroke="#444" stroke-width="0.15">5e5</text>
<line x1="29.20" y1="443.50" x2="94.80" y2="443.50" stroke="#e6e6e6" stroke-width="0.55"/>
<line x1="27.70" y1="443.50" x2="29.20" y2="443.50" stroke="#333" stroke-width="0.4"/>
<text x="27.90" y="445.50" font-size="5.7" text-anchor="end" fill="#444" stroke="#444" stroke-width="0.15">4e5</text>
<line x1="29.20" y1="455.20" x2="94.80" y2="455.20" stroke="#e6e6e6" stroke-width="0.55"/>
<line x1="27.70" y1="455.20" x2="29.20" y2="455.20" stroke="#333" stroke-width="0.4"/>
<text x="27.90" y="457.20" font-size="5.7" text-anchor="end" fill="#444" stroke="#444" stroke-width="0.15">3e5</text>
<line x1="29.20" y1="467.00" x2="94.80" y2="467.00" stroke="#e6e6e6" stroke-width="0.55"/>
<line x1="27.70" y1="467.00" x2="29.20" y2="467.00" stroke="#333" stroke-width="0.4"/>
<text x="27.90" y="469.00" font-size="5.7" text-anchor="end" fill="#444" stroke="#444" stroke-width="0.15">2e5</text>
<line x1="29.20" y1="478.80" x2="94.80" y2="478.80" stroke="#e6e6e6" stroke-width="0.55"/>
<line x1="27.70" y1="478.80" x2="29.20" y2="478.80" stroke="#333" stroke-width="0.4"/>
<text x="27.90" y="480.80" font-size="5.7" text-anchor="end" fill="#444" stroke="#444" stroke-width="0.15">1e5</text>
<line x1="29.20" y1="490.50" x2="94.80" y2="490.50" stroke="#e6e6e6" stroke-width="0.55"/>
<line x1="27.70" y1="490.50" x2="29.20" y2="490.50" stroke="#333" stroke-width="0.4"/>
<text x="27.90" y="492.50" font-size="5.7" text-anchor="end" fill="#444" stroke="#444" stroke-width="0.15">0</text>
<line x1="46.70" y1="428.40" x2="46.70" y2="492.20" stroke="#e6e6e6" stroke-width="0.55"/>
<line x1="77.10" y1="428.40" x2="77.10" y2="492.20" stroke="#e6e6e6" stroke-width="0.55"/>
<line x1="46.70" y1="462.90" x2="46.70" y2="474.60" stroke="#333" stroke-width="0.5"/>
<line x1="46.70" y1="484.60" x2="46.70" y2="488.00" stroke="#333" stroke-width="0.5"/>
<rect x="35.10" y="474.60" width="23.20" height="10.00" fill="#f2b35b" stroke="#333" stroke-width="0.5"/>
<line x1="35.10" y1="479.00" x2="58.30" y2="479.00" stroke="#111" stroke-width="1.1"/>
<line x1="77.10" y1="443.20" x2="77.10" y2="454.70" stroke="#333" stroke-width="0.5"/>
<line x1="77.10" y1="467.60" x2="77.10" y2="476.30" stroke="#333" stroke-width="0.5"/>
<rect x="65.50" y="454.70" width="23.20" height="12.90" fill="#fd8cc5" stroke="#333" stroke-width="0.5"/>
<line x1="65.50" y1="455.00" x2="88.70" y2="455.00" stroke="#111" stroke-width="1.1"/>
<circle cx="42.34" cy="462.45" r="1.35" fill="#333" stroke="none" stroke-width="1" fill-opacity="0.8"/>
<circle cx="42.34" cy="471.93" r="1.35" fill="#333" stroke="none" stroke-width="1" fill-opacity="0.8"/>
<circle cx="41.61" cy="475.15" r="1.35" fill="#333" stroke="none" stroke-width="1" fill-opacity="0.8"/>
<circle cx="51.09" cy="474.12" r="1.35" fill="#333" stroke="none" stroke-width="1" fill-opacity="0.8"/>
<circle cx="49.64" cy="477.04" r="1.35" fill="#333" stroke="none" stroke-width="1" fill-opacity="0.8"/>
<circle cx="47.45" cy="479.23" r="1.35" fill="#333" stroke="none" stroke-width="1" fill-opacity="0.8"/>
<circle cx="43.80" cy="482.88" r="1.35" fill="#333" stroke="none" stroke-width="1" fill-opacity="0.8"/>
<circle cx="41.61" cy="484.78" r="1.35" fill="#333" stroke="none" stroke-width="1" fill-opacity="0.8"/>
<circle cx="51.82" cy="484.34" r="1.35" fill="#333" stroke="none" stroke-width="1" fill-opacity="0.8"/>
<circle cx="42.34" cy="487.26" r="1.35" fill="#333" stroke="none" stroke-width="1" fill-opacity="0.8"/>
<circle cx="46.42" cy="486.82" r="1.35" fill="#333" stroke="none" stroke-width="1" fill-opacity="0.8"/>
<circle cx="82.77" cy="443.18" r="1.35" fill="#333" stroke="none" stroke-width="1" fill-opacity="0.8"/>
<circle cx="73.43" cy="454.85" r="1.35" fill="#333" stroke="none" stroke-width="1" fill-opacity="0.8"/>
<circle cx="82.48" cy="467.55" r="1.35" fill="#333" stroke="none" stroke-width="1" fill-opacity="0.8"/>
<circle cx="76.93" cy="476.31" r="1.35" fill="#333" stroke="none" stroke-width="1" fill-opacity="0.8"/>
<rect x="29.20" y="428.40" width="65.60" height="63.80" fill="none" stroke="#333" stroke-width="0.6"/>
<text x="33.10" y="437.40" font-size="6.8" text-anchor="start" fill="#000" stroke="#000" stroke-width="0.18"><tspan font-style="italic">p</tspan> = 0.0087</text>
<text x="147.10" y="424.80" font-size="6.0" text-anchor="middle" fill="#333" stroke="#333" stroke-width="0.16">CDK4</text>
<line x1="114.30" y1="443.35" x2="179.90" y2="443.35" stroke="#f2f2f2" stroke-width="0.4"/>
<line x1="114.30" y1="462.05" x2="179.90" y2="462.05" stroke="#f2f2f2" stroke-width="0.4"/>
<line x1="114.30" y1="480.80" x2="179.90" y2="480.80" stroke="#f2f2f2" stroke-width="0.4"/>
<line x1="114.30" y1="434.00" x2="179.90" y2="434.00" stroke="#e6e6e6" stroke-width="0.55"/>
<line x1="112.80" y1="434.00" x2="114.30" y2="434.00" stroke="#333" stroke-width="0.4"/>
<text x="113.00" y="436.00" font-size="5.7" text-anchor="end" fill="#444" stroke="#444" stroke-width="0.15">1.2e5</text>
<line x1="114.30" y1="452.70" x2="179.90" y2="452.70" stroke="#e6e6e6" stroke-width="0.55"/>
<line x1="112.80" y1="452.70" x2="114.30" y2="452.70" stroke="#333" stroke-width="0.4"/>
<text x="113.00" y="454.70" font-size="5.7" text-anchor="end" fill="#444" stroke="#444" stroke-width="0.15">0.8e5</text>
<line x1="114.30" y1="471.40" x2="179.90" y2="471.40" stroke="#e6e6e6" stroke-width="0.55"/>
<line x1="112.80" y1="471.40" x2="114.30" y2="471.40" stroke="#333" stroke-width="0.4"/>
<text x="113.00" y="473.40" font-size="5.7" text-anchor="end" fill="#444" stroke="#444" stroke-width="0.15">0.4e5</text>
<line x1="114.30" y1="490.20" x2="179.90" y2="490.20" stroke="#e6e6e6" stroke-width="0.55"/>
<line x1="112.80" y1="490.20" x2="114.30" y2="490.20" stroke="#333" stroke-width="0.4"/>
<text x="113.00" y="492.20" font-size="5.7" text-anchor="end" fill="#444" stroke="#444" stroke-width="0.15">0</text>
<line x1="131.80" y1="428.40" x2="131.80" y2="492.20" stroke="#e6e6e6" stroke-width="0.55"/>
<line x1="162.20" y1="428.40" x2="162.20" y2="492.20" stroke="#e6e6e6" stroke-width="0.55"/>
<line x1="131.80" y1="454.10" x2="131.80" y2="461.40" stroke="#333" stroke-width="0.5"/>
<line x1="131.80" y1="469.50" x2="131.80" y2="476.30" stroke="#333" stroke-width="0.5"/>
<rect x="120.20" y="461.40" width="23.20" height="8.10" fill="#f2b35b" stroke="#333" stroke-width="0.5"/>
<line x1="120.20" y1="464.30" x2="143.40" y2="464.30" stroke="#111" stroke-width="1.1"/>
<line x1="162.20" y1="452.40" x2="162.20" y2="452.40" stroke="#333" stroke-width="0.5"/>
<line x1="162.20" y1="461.70" x2="162.20" y2="469.70" stroke="#333" stroke-width="0.5"/>
<rect x="150.60" y="452.40" width="23.20" height="9.30" fill="#fd8cc5" stroke="#333" stroke-width="0.5"/>
<line x1="150.60" y1="452.60" x2="173.80" y2="452.60" stroke="#111" stroke-width="1.1"/>
<circle cx="127.41" cy="454.12" r="1.35" fill="#333" stroke="none" stroke-width="1" fill-opacity="0.8"/>
<circle cx="126.39" cy="458.80" r="1.35" fill="#333" stroke="none" stroke-width="1" fill-opacity="0.8"/>
<circle cx="137.04" cy="461.42" r="1.35" fill="#333" stroke="none" stroke-width="1" fill-opacity="0.8"/>
<circle cx="129.31" cy="464.64" r="1.35" fill="#333" stroke="none" stroke-width="1" fill-opacity="0.8"/>
<circle cx="130.04" cy="466.09" r="1.35" fill="#333" stroke="none" stroke-width="1" fill-opacity="0.8"/>
<circle cx="128.58" cy="469.74" r="1.35" fill="#333" stroke="none" stroke-width="1" fill-opacity="0.8"/>
<circle cx="133.25" cy="471.64" r="1.35" fill="#333" stroke="none" stroke-width="1" fill-opacity="0.8"/>
<circle cx="127.41" cy="476.61" r="1.35" fill="#333" stroke="none" stroke-width="1" fill-opacity="0.8"/>
<circle cx="131.50" cy="465.36" r="1.35" fill="#333" stroke="none" stroke-width="1" fill-opacity="0.8"/>
<circle cx="157.34" cy="434.27" r="1.35" fill="#333" stroke="none" stroke-width="1" fill-opacity="0.8"/>
<circle cx="161.72" cy="452.52" r="1.35" fill="#333" stroke="none" stroke-width="1" fill-opacity="0.8"/>
<circle cx="166.53" cy="452.52" r="1.35" fill="#333" stroke="none" stroke-width="1" fill-opacity="0.8"/>
<circle cx="156.61" cy="461.72" r="1.35" fill="#333" stroke="none" stroke-width="1" fill-opacity="0.8"/>
<circle cx="158.50" cy="470.04" r="1.35" fill="#333" stroke="none" stroke-width="1" fill-opacity="0.8"/>
<rect x="114.30" y="428.40" width="65.60" height="63.80" fill="none" stroke="#333" stroke-width="0.6"/>
<text x="118.20" y="437.40" font-size="6.8" text-anchor="start" fill="#000" stroke="#000" stroke-width="0.18"><tspan font-style="italic">p</tspan> = 0.11</text>
<text x="231.80" y="424.80" font-size="6.0" text-anchor="middle" fill="#333" stroke="#333" stroke-width="0.16">EIF4A1</text>
<line x1="199.00" y1="439.35" x2="264.60" y2="439.35" stroke="#f2f2f2" stroke-width="0.4"/>
<line x1="199.00" y1="453.85" x2="264.60" y2="453.85" stroke="#f2f2f2" stroke-width="0.4"/>
<line x1="199.00" y1="468.40" x2="264.60" y2="468.40" stroke="#f2f2f2" stroke-width="0.4"/>
<line x1="199.00" y1="482.95" x2="264.60" y2="482.95" stroke="#f2f2f2" stroke-width="0.4"/>
<line x1="199.00" y1="432.10" x2="264.60" y2="432.10" stroke="#e6e6e6" stroke-width="0.55"/>
<line x1="197.50" y1="432.10" x2="199.00" y2="432.10" stroke="#333" stroke-width="0.4"/>
<text x="197.70" y="434.10" font-size="5.7" text-anchor="end" fill="#444" stroke="#444" stroke-width="0.15">1e7</text>
<line x1="199.00" y1="446.60" x2="264.60" y2="446.60" stroke="#e6e6e6" stroke-width="0.55"/>
<line x1="197.50" y1="446.60" x2="199.00" y2="446.60" stroke="#333" stroke-width="0.4"/>
<text x="197.70" y="448.60" font-size="5.7" text-anchor="end" fill="#444" stroke="#444" stroke-width="0.15">7.5e6</text>
<line x1="199.00" y1="461.10" x2="264.60" y2="461.10" stroke="#e6e6e6" stroke-width="0.55"/>
<line x1="197.50" y1="461.10" x2="199.00" y2="461.10" stroke="#333" stroke-width="0.4"/>
<text x="197.70" y="463.10" font-size="5.7" text-anchor="end" fill="#444" stroke="#444" stroke-width="0.15">5e6</text>
<line x1="199.00" y1="475.70" x2="264.60" y2="475.70" stroke="#e6e6e6" stroke-width="0.55"/>
<line x1="197.50" y1="475.70" x2="199.00" y2="475.70" stroke="#333" stroke-width="0.4"/>
<text x="197.70" y="477.70" font-size="5.7" text-anchor="end" fill="#444" stroke="#444" stroke-width="0.15">2.5e6</text>
<line x1="199.00" y1="490.20" x2="264.60" y2="490.20" stroke="#e6e6e6" stroke-width="0.55"/>
<line x1="197.50" y1="490.20" x2="199.00" y2="490.20" stroke="#333" stroke-width="0.4"/>
<text x="197.70" y="492.20" font-size="5.7" text-anchor="end" fill="#444" stroke="#444" stroke-width="0.15">0</text>
<line x1="216.50" y1="428.40" x2="216.50" y2="492.20" stroke="#e6e6e6" stroke-width="0.55"/>
<line x1="246.90" y1="428.40" x2="246.90" y2="492.20" stroke="#e6e6e6" stroke-width="0.55"/>
<line x1="216.50" y1="458.50" x2="216.50" y2="464.30" stroke="#333" stroke-width="0.5"/>
<line x1="216.50" y1="473.40" x2="216.50" y2="482.20" stroke="#333" stroke-width="0.5"/>
<rect x="204.90" y="464.30" width="23.20" height="9.10" fill="#f2b35b" stroke="#333" stroke-width="0.5"/>
<line x1="204.90" y1="467.80" x2="228.10" y2="467.80" stroke="#111" stroke-width="1.1"/>
<line x1="246.90" y1="435.10" x2="246.90" y2="449.00" stroke="#333" stroke-width="0.5"/>
<line x1="246.90" y1="462.70" x2="246.90" y2="462.70" stroke="#333" stroke-width="0.5"/>
<rect x="235.30" y="449.00" width="23.20" height="13.70" fill="#fd8cc5" stroke="#333" stroke-width="0.5"/>
<line x1="235.30" y1="455.10" x2="258.50" y2="455.10" stroke="#111" stroke-width="1.1"/>
<circle cx="211.82" cy="458.36" r="1.35" fill="#333" stroke="none" stroke-width="1" fill-opacity="0.8"/>
<circle cx="218.25" cy="461.72" r="1.35" fill="#333" stroke="none" stroke-width="1" fill-opacity="0.8"/>
<circle cx="212.85" cy="464.64" r="1.35" fill="#333" stroke="none" stroke-width="1" fill-opacity="0.8"/>
<circle cx="217.66" cy="465.36" r="1.35" fill="#333" stroke="none" stroke-width="1" fill-opacity="0.8"/>
<circle cx="216.50" cy="468.28" r="1.35" fill="#333" stroke="none" stroke-width="1" fill-opacity="0.8"/>
<circle cx="221.61" cy="470.91" r="1.35" fill="#333" stroke="none" stroke-width="1" fill-opacity="0.8"/>
<circle cx="210.66" cy="473.39" r="1.35" fill="#333" stroke="none" stroke-width="1" fill-opacity="0.8"/>
<circle cx="219.71" cy="473.69" r="1.35" fill="#333" stroke="none" stroke-width="1" fill-opacity="0.8"/>
<circle cx="211.82" cy="482.45" r="1.35" fill="#333" stroke="none" stroke-width="1" fill-opacity="0.8"/>
<circle cx="220.88" cy="481.86" r="1.35" fill="#333" stroke="none" stroke-width="1" fill-opacity="0.8"/>
<circle cx="249.05" cy="435.00" r="1.35" fill="#333" stroke="none" stroke-width="1" fill-opacity="0.8"/>
<circle cx="250.36" cy="449.01" r="1.35" fill="#333" stroke="none" stroke-width="1" fill-opacity="0.8"/>
<circle cx="243.07" cy="455.44" r="1.35" fill="#333" stroke="none" stroke-width="1" fill-opacity="0.8"/>
<circle cx="243.80" cy="462.74" r="1.35" fill="#333" stroke="none" stroke-width="1" fill-opacity="0.8"/>
<circle cx="248.61" cy="462.74" r="1.35" fill="#333" stroke="none" stroke-width="1" fill-opacity="0.8"/>
<rect x="199.00" y="428.40" width="65.60" height="63.80" fill="none" stroke="#333" stroke-width="0.6"/>
<text x="202.90" y="437.40" font-size="6.8" text-anchor="start" fill="#000" stroke="#000" stroke-width="0.18"><tspan font-style="italic">p</tspan> = 0.0039</text>
<text x="62.00" y="501.00" font-size="6.0" text-anchor="middle" fill="#333" stroke="#333" stroke-width="0.16">RPS6</text>
<line x1="29.20" y1="514.95" x2="94.80" y2="514.95" stroke="#f2f2f2" stroke-width="0.4"/>
<line x1="29.20" y1="529.65" x2="94.80" y2="529.65" stroke="#f2f2f2" stroke-width="0.4"/>
<line x1="29.20" y1="544.40" x2="94.80" y2="544.40" stroke="#f2f2f2" stroke-width="0.4"/>
<line x1="29.20" y1="559.15" x2="94.80" y2="559.15" stroke="#f2f2f2" stroke-width="0.4"/>
<line x1="29.20" y1="507.60" x2="94.80" y2="507.60" stroke="#e6e6e6" stroke-width="0.55"/>
<line x1="27.70" y1="507.60" x2="29.20" y2="507.60" stroke="#333" stroke-width="0.4"/>
<text x="27.90" y="509.60" font-size="5.7" text-anchor="end" fill="#444" stroke="#444" stroke-width="0.15">2e7</text>
<line x1="29.20" y1="522.30" x2="94.80" y2="522.30" stroke="#e6e6e6" stroke-width="0.55"/>
<line x1="27.70" y1="522.30" x2="29.20" y2="522.30" stroke="#333" stroke-width="0.4"/>
<text x="27.90" y="524.30" font-size="5.7" text-anchor="end" fill="#444" stroke="#444" stroke-width="0.15">1.5e7</text>
<line x1="29.20" y1="537.00" x2="94.80" y2="537.00" stroke="#e6e6e6" stroke-width="0.55"/>
<line x1="27.70" y1="537.00" x2="29.20" y2="537.00" stroke="#333" stroke-width="0.4"/>
<text x="27.90" y="539.00" font-size="5.7" text-anchor="end" fill="#444" stroke="#444" stroke-width="0.15">1e7</text>
<line x1="29.20" y1="551.80" x2="94.80" y2="551.80" stroke="#e6e6e6" stroke-width="0.55"/>
<line x1="27.70" y1="551.80" x2="29.20" y2="551.80" stroke="#333" stroke-width="0.4"/>
<text x="27.90" y="553.80" font-size="5.7" text-anchor="end" fill="#444" stroke="#444" stroke-width="0.15">0.5e7</text>
<line x1="29.20" y1="566.50" x2="94.80" y2="566.50" stroke="#e6e6e6" stroke-width="0.55"/>
<line x1="27.70" y1="566.50" x2="29.20" y2="566.50" stroke="#333" stroke-width="0.4"/>
<text x="27.90" y="568.50" font-size="5.7" text-anchor="end" fill="#444" stroke="#444" stroke-width="0.15">0</text>
<line x1="46.70" y1="504.60" x2="46.70" y2="568.40" stroke="#e6e6e6" stroke-width="0.55"/>
<line x1="77.10" y1="504.60" x2="77.10" y2="568.40" stroke="#e6e6e6" stroke-width="0.55"/>
<line x1="46.70" y1="547.20" x2="46.70" y2="552.30" stroke="#333" stroke-width="0.5"/>
<line x1="46.70" y1="556.20" x2="46.70" y2="559.40" stroke="#333" stroke-width="0.5"/>
<rect x="35.10" y="552.30" width="23.20" height="3.90" fill="#f2b35b" stroke="#333" stroke-width="0.5"/>
<line x1="35.10" y1="554.50" x2="58.30" y2="554.50" stroke="#111" stroke-width="1.1"/>
<line x1="77.10" y1="542.40" x2="77.10" y2="542.40" stroke="#333" stroke-width="0.5"/>
<line x1="77.10" y1="547.80" x2="77.10" y2="555.50" stroke="#333" stroke-width="0.5"/>
<rect x="65.50" y="542.40" width="23.20" height="5.40" fill="#fd8cc5" stroke="#333" stroke-width="0.5"/>
<line x1="65.50" y1="547.20" x2="88.70" y2="547.20" stroke="#111" stroke-width="1.1"/>
<circle cx="41.61" cy="535.07" r="1.35" fill="#333" stroke="none" stroke-width="1" fill-opacity="0.8"/>
<circle cx="43.36" cy="547.04" r="1.35" fill="#333" stroke="none" stroke-width="1" fill-opacity="0.8"/>
<circle cx="46.42" cy="551.85" r="1.35" fill="#333" stroke="none" stroke-width="1" fill-opacity="0.8"/>
<circle cx="52.12" cy="552.29" r="1.35" fill="#333" stroke="none" stroke-width="1" fill-opacity="0.8"/>
<circle cx="41.61" cy="555.50" r="1.35" fill="#333" stroke="none" stroke-width="1" fill-opacity="0.8"/>
<circle cx="46.72" cy="556.23" r="1.35" fill="#333" stroke="none" stroke-width="1" fill-opacity="0.8"/>
<circle cx="49.64" cy="556.23" r="1.35" fill="#333" stroke="none" stroke-width="1" fill-opacity="0.8"/>
<circle cx="51.82" cy="557.40" r="1.35" fill="#333" stroke="none" stroke-width="1" fill-opacity="0.8"/>
<circle cx="45.26" cy="559.88" r="1.35" fill="#333" stroke="none" stroke-width="1" fill-opacity="0.8"/>
<circle cx="78.10" cy="525.28" r="1.35" fill="#333" stroke="none" stroke-width="1" fill-opacity="0.8"/>
<circle cx="77.66" cy="542.66" r="1.35" fill="#333" stroke="none" stroke-width="1" fill-opacity="0.8"/>
<circle cx="78.54" cy="547.47" r="1.35" fill="#333" stroke="none" stroke-width="1" fill-opacity="0.8"/>
<circle cx="79.56" cy="555.80" r="1.35" fill="#333" stroke="none" stroke-width="1" fill-opacity="0.8"/>
<rect x="29.20" y="504.60" width="65.60" height="63.80" fill="none" stroke="#333" stroke-width="0.6"/>
<text x="33.10" y="513.60" font-size="6.8" text-anchor="start" fill="#000" stroke="#000" stroke-width="0.18"><tspan font-style="italic">p</tspan> = 0.064</text>
<text x="147.10" y="501.00" font-size="6.0" text-anchor="middle" fill="#333" stroke="#333" stroke-width="0.16">RPS6KB1</text>
<line x1="114.30" y1="513.20" x2="179.90" y2="513.20" stroke="#f2f2f2" stroke-width="0.4"/>
<line x1="114.30" y1="524.80" x2="179.90" y2="524.80" stroke="#f2f2f2" stroke-width="0.4"/>
<line x1="114.30" y1="536.40" x2="179.90" y2="536.40" stroke="#f2f2f2" stroke-width="0.4"/>
<line x1="114.30" y1="548.00" x2="179.90" y2="548.00" stroke="#f2f2f2" stroke-width="0.4"/>
<line x1="114.30" y1="559.65" x2="179.90" y2="559.65" stroke="#f2f2f2" stroke-width="0.4"/>
<line x1="114.30" y1="507.40" x2="179.90" y2="507.40" stroke="#e6e6e6" stroke-width="0.55"/>
<line x1="112.80" y1="507.40" x2="114.30" y2="507.40" stroke="#333" stroke-width="0.4"/>
<text x="113.00" y="509.40" font-size="5.7" text-anchor="end" fill="#444" stroke="#444" stroke-width="0.15">2.5e5</text>
<line x1="114.30" y1="519.00" x2="179.90" y2="519.00" stroke="#e6e6e6" stroke-width="0.55"/>
<line x1="112.80" y1="519.00" x2="114.30" y2="519.00" stroke="#333" stroke-width="0.4"/>
<text x="113.00" y="521.00" font-size="5.7" text-anchor="end" fill="#444" stroke="#444" stroke-width="0.15">2e5</text>
<line x1="114.30" y1="530.60" x2="179.90" y2="530.60" stroke="#e6e6e6" stroke-width="0.55"/>
<line x1="112.80" y1="530.60" x2="114.30" y2="530.60" stroke="#333" stroke-width="0.4"/>
<text x="113.00" y="532.60" font-size="5.7" text-anchor="end" fill="#444" stroke="#444" stroke-width="0.15">1.5e5</text>
<line x1="114.30" y1="542.20" x2="179.90" y2="542.20" stroke="#e6e6e6" stroke-width="0.55"/>
<line x1="112.80" y1="542.20" x2="114.30" y2="542.20" stroke="#333" stroke-width="0.4"/>
<text x="113.00" y="544.20" font-size="5.7" text-anchor="end" fill="#444" stroke="#444" stroke-width="0.15">1e5</text>
<line x1="114.30" y1="553.80" x2="179.90" y2="553.80" stroke="#e6e6e6" stroke-width="0.55"/>
<line x1="112.80" y1="553.80" x2="114.30" y2="553.80" stroke="#333" stroke-width="0.4"/>
<text x="113.00" y="555.80" font-size="5.7" text-anchor="end" fill="#444" stroke="#444" stroke-width="0.15">0.5e5</text>
<line x1="114.30" y1="565.50" x2="179.90" y2="565.50" stroke="#e6e6e6" stroke-width="0.55"/>
<line x1="112.80" y1="565.50" x2="114.30" y2="565.50" stroke="#333" stroke-width="0.4"/>
<text x="113.00" y="567.50" font-size="5.7" text-anchor="end" fill="#444" stroke="#444" stroke-width="0.15">0</text>
<line x1="131.80" y1="504.60" x2="131.80" y2="568.40" stroke="#e6e6e6" stroke-width="0.55"/>
<line x1="162.20" y1="504.60" x2="162.20" y2="568.40" stroke="#e6e6e6" stroke-width="0.55"/>
<line x1="131.80" y1="535.20" x2="131.80" y2="543.30" stroke="#333" stroke-width="0.5"/>
<line x1="131.80" y1="550.90" x2="131.80" y2="560.90" stroke="#333" stroke-width="0.5"/>
<rect x="120.20" y="543.30" width="23.20" height="7.60" fill="#f2b35b" stroke="#333" stroke-width="0.5"/>
<line x1="120.20" y1="547.10" x2="143.40" y2="547.10" stroke="#111" stroke-width="1.1"/>
<line x1="162.20" y1="510.90" x2="162.20" y2="515.80" stroke="#333" stroke-width="0.5"/>
<line x1="162.20" y1="536.60" x2="162.20" y2="541.40" stroke="#333" stroke-width="0.5"/>
<rect x="150.60" y="515.80" width="23.20" height="20.80" fill="#fd8cc5" stroke="#333" stroke-width="0.5"/>
<line x1="150.60" y1="530.60" x2="173.80" y2="530.60" stroke="#111" stroke-width="1.1"/>
<circle cx="132.81" cy="535.21" r="1.35" fill="#333" stroke="none" stroke-width="1" fill-opacity="0.8"/>
<circle cx="126.87" cy="539.26" r="1.35" fill="#333" stroke="none" stroke-width="1" fill-opacity="0.8"/>
<circle cx="134.97" cy="543.31" r="1.35" fill="#333" stroke="none" stroke-width="1" fill-opacity="0.8"/>
<circle cx="128.76" cy="547.36" r="1.35" fill="#333" stroke="none" stroke-width="1" fill-opacity="0.8"/>
<circle cx="126.87" cy="549.25" r="1.35" fill="#333" stroke="none" stroke-width="1" fill-opacity="0.8"/>
<circle cx="132.81" cy="550.06" r="1.35" fill="#333" stroke="none" stroke-width="1" fill-opacity="0.8"/>
<circle cx="130.11" cy="551.41" r="1.35" fill="#333" stroke="none" stroke-width="1" fill-opacity="0.8"/>
<circle cx="131.46" cy="556.81" r="1.35" fill="#333" stroke="none" stroke-width="1" fill-opacity="0.8"/>
<circle cx="131.46" cy="560.32" r="1.35" fill="#333" stroke="none" stroke-width="1" fill-opacity="0.8"/>
<circle cx="166.56" cy="510.36" r="1.35" fill="#333" stroke="none" stroke-width="1" fill-opacity="0.8"/>
<circle cx="163.05" cy="515.76" r="1.35" fill="#333" stroke="none" stroke-width="1" fill-opacity="0.8"/>
<circle cx="161.16" cy="530.62" r="1.35" fill="#333" stroke="none" stroke-width="1" fill-opacity="0.8"/>
<circle cx="164.67" cy="536.02" r="1.35" fill="#333" stroke="none" stroke-width="1" fill-opacity="0.8"/>
<circle cx="166.56" cy="541.42" r="1.35" fill="#333" stroke="none" stroke-width="1" fill-opacity="0.8"/>
<rect x="114.30" y="504.60" width="65.60" height="63.80" fill="none" stroke="#333" stroke-width="0.6"/>
<text x="118.20" y="513.60" font-size="6.8" text-anchor="start" fill="#000" stroke="#000" stroke-width="0.18"><tspan font-style="italic">p</tspan> = 0.0023</text>
<text x="231.80" y="501.00" font-size="6.0" text-anchor="middle" fill="#333" stroke="#333" stroke-width="0.16">IRAK1</text>
<line x1="199.00" y1="515.10" x2="264.60" y2="515.10" stroke="#f2f2f2" stroke-width="0.4"/>
<line x1="199.00" y1="529.70" x2="264.60" y2="529.70" stroke="#f2f2f2" stroke-width="0.4"/>
<line x1="199.00" y1="544.30" x2="264.60" y2="544.30" stroke="#f2f2f2" stroke-width="0.4"/>
<line x1="199.00" y1="558.90" x2="264.60" y2="558.90" stroke="#f2f2f2" stroke-width="0.4"/>
<line x1="199.00" y1="507.80" x2="264.60" y2="507.80" stroke="#e6e6e6" stroke-width="0.55"/>
<line x1="197.50" y1="507.80" x2="199.00" y2="507.80" stroke="#333" stroke-width="0.4"/>
<text x="197.70" y="509.80" font-size="5.7" text-anchor="end" fill="#444" stroke="#444" stroke-width="0.15">4e5</text>
<line x1="199.00" y1="522.40" x2="264.60" y2="522.40" stroke="#e6e6e6" stroke-width="0.55"/>
<line x1="197.50" y1="522.40" x2="199.00" y2="522.40" stroke="#333" stroke-width="0.4"/>
<text x="197.70" y="524.40" font-size="5.7" text-anchor="end" fill="#444" stroke="#444" stroke-width="0.15">3e5</text>
<line x1="199.00" y1="537.00" x2="264.60" y2="537.00" stroke="#e6e6e6" stroke-width="0.55"/>
<line x1="197.50" y1="537.00" x2="199.00" y2="537.00" stroke="#333" stroke-width="0.4"/>
<text x="197.70" y="539.00" font-size="5.7" text-anchor="end" fill="#444" stroke="#444" stroke-width="0.15">2e5</text>
<line x1="199.00" y1="551.60" x2="264.60" y2="551.60" stroke="#e6e6e6" stroke-width="0.55"/>
<line x1="197.50" y1="551.60" x2="199.00" y2="551.60" stroke="#333" stroke-width="0.4"/>
<text x="197.70" y="553.60" font-size="5.7" text-anchor="end" fill="#444" stroke="#444" stroke-width="0.15">1e5</text>
<line x1="199.00" y1="566.20" x2="264.60" y2="566.20" stroke="#e6e6e6" stroke-width="0.55"/>
<line x1="197.50" y1="566.20" x2="199.00" y2="566.20" stroke="#333" stroke-width="0.4"/>
<text x="197.70" y="568.20" font-size="5.7" text-anchor="end" fill="#444" stroke="#444" stroke-width="0.15">0</text>
<line x1="216.50" y1="504.60" x2="216.50" y2="568.40" stroke="#e6e6e6" stroke-width="0.55"/>
<line x1="246.90" y1="504.60" x2="246.90" y2="568.40" stroke="#e6e6e6" stroke-width="0.55"/>
<line x1="216.50" y1="545.00" x2="216.50" y2="547.80" stroke="#333" stroke-width="0.5"/>
<line x1="216.50" y1="550.80" x2="216.50" y2="553.00" stroke="#333" stroke-width="0.5"/>
<rect x="204.90" y="547.80" width="23.20" height="3.00" fill="#f2b35b" stroke="#333" stroke-width="0.5"/>
<line x1="204.90" y1="548.60" x2="228.10" y2="548.60" stroke="#111" stroke-width="1.1"/>
<line x1="246.90" y1="516.20" x2="246.90" y2="531.50" stroke="#333" stroke-width="0.5"/>
<line x1="246.90" y1="545.40" x2="246.90" y2="545.40" stroke="#333" stroke-width="0.5"/>
<rect x="235.30" y="531.50" width="23.20" height="13.90" fill="#fd8cc5" stroke="#333" stroke-width="0.5"/>
<line x1="235.30" y1="542.20" x2="258.50" y2="542.20" stroke="#111" stroke-width="1.1"/>
<circle cx="214.74" cy="543.91" r="1.35" fill="#333" stroke="none" stroke-width="1" fill-opacity="0.8"/>
<circle cx="214.31" cy="547.26" r="1.35" fill="#333" stroke="none" stroke-width="1" fill-opacity="0.8"/>
<circle cx="217.96" cy="550.47" r="1.35" fill="#333" stroke="none" stroke-width="1" fill-opacity="0.8"/>
<circle cx="216.50" cy="549.31" r="1.35" fill="#333" stroke="none" stroke-width="1" fill-opacity="0.8"/>
<circle cx="213.58" cy="556.61" r="1.35" fill="#333" stroke="none" stroke-width="1" fill-opacity="0.8"/>
<circle cx="245.40" cy="516.17" r="1.35" fill="#333" stroke="none" stroke-width="1" fill-opacity="0.8"/>
<circle cx="242.04" cy="531.50" r="1.35" fill="#333" stroke="none" stroke-width="1" fill-opacity="0.8"/>
<circle cx="241.31" cy="541.72" r="1.35" fill="#333" stroke="none" stroke-width="1" fill-opacity="0.8"/>
<circle cx="241.31" cy="545.36" r="1.35" fill="#333" stroke="none" stroke-width="1" fill-opacity="0.8"/>
<circle cx="245.26" cy="546.09" r="1.35" fill="#333" stroke="none" stroke-width="1" fill-opacity="0.8"/>
<rect x="199.00" y="504.60" width="65.60" height="63.80" fill="none" stroke="#333" stroke-width="0.6"/>
<text x="202.90" y="513.60" font-size="6.8" text-anchor="start" fill="#000" stroke="#000" stroke-width="0.18"><tspan font-style="italic">p</tspan> = 0.0027</text>
<text x="62.00" y="577.00" font-size="6.0" text-anchor="middle" fill="#333" stroke="#333" stroke-width="0.16">ADAR</text>
<line x1="29.20" y1="590.45" x2="94.80" y2="590.45" stroke="#f2f2f2" stroke-width="0.4"/>
<line x1="29.20" y1="602.15" x2="94.80" y2="602.15" stroke="#f2f2f2" stroke-width="0.4"/>
<line x1="29.20" y1="613.80" x2="94.80" y2="613.80" stroke="#f2f2f2" stroke-width="0.4"/>
<line x1="29.20" y1="625.45" x2="94.80" y2="625.45" stroke="#f2f2f2" stroke-width="0.4"/>
<line x1="29.20" y1="637.15" x2="94.80" y2="637.15" stroke="#f2f2f2" stroke-width="0.4"/>
<line x1="29.20" y1="584.60" x2="94.80" y2="584.60" stroke="#e6e6e6" stroke-width="0.55"/>
<line x1="27.70" y1="584.60" x2="29.20" y2="584.60" stroke="#333" stroke-width="0.4"/>
<text x="27.90" y="586.60" font-size="5.7" text-anchor="end" fill="#444" stroke="#444" stroke-width="0.15">2.5e6</text>
<line x1="29.20" y1="596.30" x2="94.80" y2="596.30" stroke="#e6e6e6" stroke-width="0.55"/>
<line x1="27.70" y1="596.30" x2="29.20" y2="596.30" stroke="#333" stroke-width="0.4"/>
<text x="27.90" y="598.30" font-size="5.7" text-anchor="end" fill="#444" stroke="#444" stroke-width="0.15">2e6</text>
<line x1="29.20" y1="608.00" x2="94.80" y2="608.00" stroke="#e6e6e6" stroke-width="0.55"/>
<line x1="27.70" y1="608.00" x2="29.20" y2="608.00" stroke="#333" stroke-width="0.4"/>
<text x="27.90" y="610.00" font-size="5.7" text-anchor="end" fill="#444" stroke="#444" stroke-width="0.15">1.5e6</text>
<line x1="29.20" y1="619.60" x2="94.80" y2="619.60" stroke="#e6e6e6" stroke-width="0.55"/>
<line x1="27.70" y1="619.60" x2="29.20" y2="619.60" stroke="#333" stroke-width="0.4"/>
<text x="27.90" y="621.60" font-size="5.7" text-anchor="end" fill="#444" stroke="#444" stroke-width="0.15">1e6</text>
<line x1="29.20" y1="631.30" x2="94.80" y2="631.30" stroke="#e6e6e6" stroke-width="0.55"/>
<line x1="27.70" y1="631.30" x2="29.20" y2="631.30" stroke="#333" stroke-width="0.4"/>
<text x="27.90" y="633.30" font-size="5.7" text-anchor="end" fill="#444" stroke="#444" stroke-width="0.15">0.5e6</text>
<line x1="29.20" y1="643.00" x2="94.80" y2="643.00" stroke="#e6e6e6" stroke-width="0.55"/>
<line x1="27.70" y1="643.00" x2="29.20" y2="643.00" stroke="#333" stroke-width="0.4"/>
<text x="27.90" y="645.00" font-size="5.7" text-anchor="end" fill="#444" stroke="#444" stroke-width="0.15">0</text>
<line x1="46.70" y1="580.60" x2="46.70" y2="644.40" stroke="#e6e6e6" stroke-width="0.55"/>
<line x1="77.10" y1="580.60" x2="77.10" y2="644.40" stroke="#e6e6e6" stroke-width="0.55"/>
<line x1="46.70" y1="612.00" x2="46.70" y2="613.40" stroke="#333" stroke-width="0.5"/>
<line x1="46.70" y1="628.40" x2="46.70" y2="634.00" stroke="#333" stroke-width="0.5"/>
<rect x="35.10" y="613.40" width="23.20" height="15.00" fill="#f2b35b" stroke="#333" stroke-width="0.5"/>
<line x1="35.10" y1="620.40" x2="58.30" y2="620.40" stroke="#111" stroke-width="1.1"/>
<line x1="77.10" y1="591.60" x2="77.10" y2="606.50" stroke="#333" stroke-width="0.5"/>
<line x1="77.10" y1="616.70" x2="77.10" y2="616.70" stroke="#333" stroke-width="0.5"/>
<rect x="65.50" y="606.50" width="23.20" height="10.20" fill="#fd8cc5" stroke="#333" stroke-width="0.5"/>
<line x1="65.50" y1="613.40" x2="88.70" y2="613.40" stroke="#111" stroke-width="1.1"/>
<circle cx="44.53" cy="611.61" r="1.35" fill="#333" stroke="none" stroke-width="1" fill-opacity="0.8"/>
<circle cx="50.36" cy="611.31" r="1.35" fill="#333" stroke="none" stroke-width="1" fill-opacity="0.8"/>
<circle cx="49.64" cy="613.36" r="1.35" fill="#333" stroke="none" stroke-width="1" fill-opacity="0.8"/>
<circle cx="45.26" cy="616.42" r="1.35" fill="#333" stroke="none" stroke-width="1" fill-opacity="0.8"/>
<circle cx="47.01" cy="618.91" r="1.35" fill="#333" stroke="none" stroke-width="1" fill-opacity="0.8"/>
<circle cx="42.34" cy="622.12" r="1.35" fill="#333" stroke="none" stroke-width="1" fill-opacity="0.8"/>
<circle cx="45.99" cy="625.77" r="1.35" fill="#333" stroke="none" stroke-width="1" fill-opacity="0.8"/>
<circle cx="47.88" cy="626.93" r="1.35" fill="#333" stroke="none" stroke-width="1" fill-opacity="0.8"/>
<circle cx="46.72" cy="631.31" r="1.35" fill="#333" stroke="none" stroke-width="1" fill-opacity="0.8"/>
<circle cx="48.91" cy="633.07" r="1.35" fill="#333" stroke="none" stroke-width="1" fill-opacity="0.8"/>
<circle cx="74.89" cy="591.61" r="1.35" fill="#333" stroke="none" stroke-width="1" fill-opacity="0.8"/>
<circle cx="72.70" cy="606.50" r="1.35" fill="#333" stroke="none" stroke-width="1" fill-opacity="0.8"/>
<circle cx="72.99" cy="613.80" r="1.35" fill="#333" stroke="none" stroke-width="1" fill-opacity="0.8"/>
<circle cx="81.02" cy="617.01" r="1.35" fill="#333" stroke="none" stroke-width="1" fill-opacity="0.8"/>
<rect x="29.20" y="580.60" width="65.60" height="63.80" fill="none" stroke="#333" stroke-width="0.6"/>
<text x="33.10" y="589.60" font-size="6.8" text-anchor="start" fill="#000" stroke="#000" stroke-width="0.18"><tspan font-style="italic">p</tspan> = 0.10</text>
<text x="46.70" y="651.40" font-size="5.0" text-anchor="middle" fill="#333" stroke="#333" stroke-width="0.13">Sensitive</text>
<text x="77.10" y="651.40" font-size="5.0" text-anchor="middle" fill="#333" stroke="#333" stroke-width="0.13">Resistant</text>
<text x="147.10" y="577.00" font-size="6.0" text-anchor="middle" fill="#333" stroke="#333" stroke-width="0.16">STAT1</text>
<line x1="114.30" y1="591.30" x2="179.90" y2="591.30" stroke="#f2f2f2" stroke-width="0.4"/>
<line x1="114.30" y1="605.90" x2="179.90" y2="605.90" stroke="#f2f2f2" stroke-width="0.4"/>
<line x1="114.30" y1="620.50" x2="179.90" y2="620.50" stroke="#f2f2f2" stroke-width="0.4"/>
<line x1="114.30" y1="635.10" x2="179.90" y2="635.10" stroke="#f2f2f2" stroke-width="0.4"/>
<line x1="114.30" y1="584.00" x2="179.90" y2="584.00" stroke="#e6e6e6" stroke-width="0.55"/>
<line x1="112.80" y1="584.00" x2="114.30" y2="584.00" stroke="#333" stroke-width="0.4"/>
<text x="113.00" y="586.00" font-size="5.7" text-anchor="end" fill="#444" stroke="#444" stroke-width="0.15">2e7</text>
<line x1="114.30" y1="598.60" x2="179.90" y2="598.60" stroke="#e6e6e6" stroke-width="0.55"/>
<line x1="112.80" y1="598.60" x2="114.30" y2="598.60" stroke="#333" stroke-width="0.4"/>
<text x="113.00" y="600.60" font-size="5.7" text-anchor="end" fill="#444" stroke="#444" stroke-width="0.15">1.5e7</text>
<line x1="114.30" y1="613.20" x2="179.90" y2="613.20" stroke="#e6e6e6" stroke-width="0.55"/>
<line x1="112.80" y1="613.20" x2="114.30" y2="613.20" stroke="#333" stroke-width="0.4"/>
<text x="113.00" y="615.20" font-size="5.7" text-anchor="end" fill="#444" stroke="#444" stroke-width="0.15">1e7</text>
<line x1="114.30" y1="627.80" x2="179.90" y2="627.80" stroke="#e6e6e6" stroke-width="0.55"/>
<line x1="112.80" y1="627.80" x2="114.30" y2="627.80" stroke="#333" stroke-width="0.4"/>
<text x="113.00" y="629.80" font-size="5.7" text-anchor="end" fill="#444" stroke="#444" stroke-width="0.15">0.5e7</text>
<line x1="114.30" y1="642.40" x2="179.90" y2="642.40" stroke="#e6e6e6" stroke-width="0.55"/>
<line x1="112.80" y1="642.40" x2="114.30" y2="642.40" stroke="#333" stroke-width="0.4"/>
<text x="113.00" y="644.40" font-size="5.7" text-anchor="end" fill="#444" stroke="#444" stroke-width="0.15">0</text>
<line x1="131.80" y1="580.60" x2="131.80" y2="644.40" stroke="#e6e6e6" stroke-width="0.55"/>
<line x1="162.20" y1="580.60" x2="162.20" y2="644.40" stroke="#e6e6e6" stroke-width="0.55"/>
<line x1="131.80" y1="626.00" x2="131.80" y2="627.50" stroke="#333" stroke-width="0.5"/>
<line x1="131.80" y1="635.40" x2="131.80" y2="640.00" stroke="#333" stroke-width="0.5"/>
<rect x="120.20" y="627.50" width="23.20" height="7.90" fill="#f2b35b" stroke="#333" stroke-width="0.5"/>
<line x1="120.20" y1="631.60" x2="143.40" y2="631.60" stroke="#111" stroke-width="1.1"/>
<line x1="162.20" y1="624.00" x2="162.20" y2="624.00" stroke="#333" stroke-width="0.5"/>
<line x1="162.20" y1="628.10" x2="162.20" y2="629.00" stroke="#333" stroke-width="0.5"/>
<rect x="150.60" y="624.00" width="23.20" height="4.10" fill="#fd8cc5" stroke="#333" stroke-width="0.5"/>
<line x1="150.60" y1="627.30" x2="173.80" y2="627.30" stroke="#111" stroke-width="1.1"/>
<circle cx="134.16" cy="585.66" r="1.35" fill="#333" stroke="none" stroke-width="1" fill-opacity="0.8"/>
<circle cx="131.46" cy="626.71" r="1.35" fill="#333" stroke="none" stroke-width="1" fill-opacity="0.8"/>
<circle cx="132.81" cy="626.71" r="1.35" fill="#333" stroke="none" stroke-width="1" fill-opacity="0.8"/>
<circle cx="135.51" cy="628.06" r="1.35" fill="#333" stroke="none" stroke-width="1" fill-opacity="0.8"/>
<circle cx="129.57" cy="632.65" r="1.35" fill="#333" stroke="none" stroke-width="1" fill-opacity="0.8"/>
<circle cx="136.05" cy="634.00" r="1.35" fill="#333" stroke="none" stroke-width="1" fill-opacity="0.8"/>
<circle cx="128.76" cy="639.67" r="1.35" fill="#333" stroke="none" stroke-width="1" fill-opacity="0.8"/>
<circle cx="127.41" cy="640.21" r="1.35" fill="#333" stroke="none" stroke-width="1" fill-opacity="0.8"/>
<circle cx="136.86" cy="640.75" r="1.35" fill="#333" stroke="none" stroke-width="1" fill-opacity="0.8"/>
<circle cx="164.40" cy="599.17" r="1.35" fill="#333" stroke="none" stroke-width="1" fill-opacity="0.8"/>
<circle cx="166.02" cy="624.01" r="1.35" fill="#333" stroke="none" stroke-width="1" fill-opacity="0.8"/>
<circle cx="157.11" cy="627.25" r="1.35" fill="#333" stroke="none" stroke-width="1" fill-opacity="0.8"/>
<circle cx="157.65" cy="632.65" r="1.35" fill="#333" stroke="none" stroke-width="1" fill-opacity="0.8"/>
<rect x="114.30" y="580.60" width="65.60" height="63.80" fill="none" stroke="#333" stroke-width="0.6"/>
<text x="175.30" y="589.60" font-size="6.8" text-anchor="end" fill="#000" stroke="#000" stroke-width="0.18"><tspan font-style="italic">p</tspan> = 0.16</text>
<text x="131.80" y="651.40" font-size="5.0" text-anchor="middle" fill="#333" stroke="#333" stroke-width="0.13">Sensitive</text>
<text x="162.20" y="651.40" font-size="5.0" text-anchor="middle" fill="#333" stroke="#333" stroke-width="0.13">Resistant</text>
<text x="231.80" y="577.00" font-size="6.0" text-anchor="middle" fill="#333" stroke="#333" stroke-width="0.16">STAT3</text>
<line x1="199.00" y1="591.30" x2="264.60" y2="591.30" stroke="#f2f2f2" stroke-width="0.4"/>
<line x1="199.00" y1="605.90" x2="264.60" y2="605.90" stroke="#f2f2f2" stroke-width="0.4"/>
<line x1="199.00" y1="620.50" x2="264.60" y2="620.50" stroke="#f2f2f2" stroke-width="0.4"/>
<line x1="199.00" y1="635.10" x2="264.60" y2="635.10" stroke="#f2f2f2" stroke-width="0.4"/>
<line x1="199.00" y1="584.00" x2="264.60" y2="584.00" stroke="#e6e6e6" stroke-width="0.55"/>
<line x1="197.50" y1="584.00" x2="199.00" y2="584.00" stroke="#333" stroke-width="0.4"/>
<text x="197.70" y="586.00" font-size="5.7" text-anchor="end" fill="#444" stroke="#444" stroke-width="0.15">2e6</text>
<line x1="199.00" y1="598.60" x2="264.60" y2="598.60" stroke="#e6e6e6" stroke-width="0.55"/>
<line x1="197.50" y1="598.60" x2="199.00" y2="598.60" stroke="#333" stroke-width="0.4"/>
<text x="197.70" y="600.60" font-size="5.7" text-anchor="end" fill="#444" stroke="#444" stroke-width="0.15">1.5e6</text>
<line x1="199.00" y1="613.20" x2="264.60" y2="613.20" stroke="#e6e6e6" stroke-width="0.55"/>
<line x1="197.50" y1="613.20" x2="199.00" y2="613.20" stroke="#333" stroke-width="0.4"/>
<text x="197.70" y="615.20" font-size="5.7" text-anchor="end" fill="#444" stroke="#444" stroke-width="0.15">1e6</text>
<line x1="199.00" y1="627.80" x2="264.60" y2="627.80" stroke="#e6e6e6" stroke-width="0.55"/>
<line x1="197.50" y1="627.80" x2="199.00" y2="627.80" stroke="#333" stroke-width="0.4"/>
<text x="197.70" y="629.80" font-size="5.7" text-anchor="end" fill="#444" stroke="#444" stroke-width="0.15">0.5e6</text>
<line x1="199.00" y1="642.40" x2="264.60" y2="642.40" stroke="#e6e6e6" stroke-width="0.55"/>
<line x1="197.50" y1="642.40" x2="199.00" y2="642.40" stroke="#333" stroke-width="0.4"/>
<text x="197.70" y="644.40" font-size="5.7" text-anchor="end" fill="#444" stroke="#444" stroke-width="0.15">0</text>
<line x1="216.50" y1="580.60" x2="216.50" y2="644.40" stroke="#e6e6e6" stroke-width="0.55"/>
<line x1="246.90" y1="580.60" x2="246.90" y2="644.40" stroke="#e6e6e6" stroke-width="0.55"/>
<line x1="216.50" y1="612.00" x2="216.50" y2="622.10" stroke="#333" stroke-width="0.5"/>
<line x1="216.50" y1="633.50" x2="216.50" y2="640.00" stroke="#333" stroke-width="0.5"/>
<rect x="204.90" y="622.10" width="23.20" height="11.40" fill="#f2b35b" stroke="#333" stroke-width="0.5"/>
<line x1="204.90" y1="628.10" x2="228.10" y2="628.10" stroke="#111" stroke-width="1.1"/>
<line x1="246.90" y1="610.00" x2="246.90" y2="610.00" stroke="#333" stroke-width="0.5"/>
<line x1="246.90" y1="615.90" x2="246.90" y2="619.00" stroke="#333" stroke-width="0.5"/>
<rect x="235.30" y="610.00" width="23.20" height="5.90" fill="#fd8cc5" stroke="#333" stroke-width="0.5"/>
<line x1="235.30" y1="612.70" x2="258.50" y2="612.70" stroke="#111" stroke-width="1.1"/>
<circle cx="219.22" cy="612.67" r="1.35" fill="#333" stroke="none" stroke-width="1" fill-opacity="0.8"/>
<circle cx="215.17" cy="614.56" r="1.35" fill="#333" stroke="none" stroke-width="1" fill-opacity="0.8"/>
<circle cx="210.58" cy="622.66" r="1.35" fill="#333" stroke="none" stroke-width="1" fill-opacity="0.8"/>
<circle cx="211.12" cy="627.25" r="1.35" fill="#333" stroke="none" stroke-width="1" fill-opacity="0.8"/>
<circle cx="217.87" cy="628.06" r="1.35" fill="#333" stroke="none" stroke-width="1" fill-opacity="0.8"/>
<circle cx="207.88" cy="634.81" r="1.35" fill="#333" stroke="none" stroke-width="1" fill-opacity="0.8"/>
<circle cx="213.82" cy="634.81" r="1.35" fill="#333" stroke="none" stroke-width="1" fill-opacity="0.8"/>
<circle cx="215.98" cy="638.05" r="1.35" fill="#333" stroke="none" stroke-width="1" fill-opacity="0.8"/>
<circle cx="219.22" cy="640.75" r="1.35" fill="#333" stroke="none" stroke-width="1" fill-opacity="0.8"/>
<circle cx="242.99" cy="609.70" r="1.35" fill="#333" stroke="none" stroke-width="1" fill-opacity="0.8"/>
<circle cx="246.23" cy="612.67" r="1.35" fill="#333" stroke="none" stroke-width="1" fill-opacity="0.8"/>
<circle cx="251.63" cy="615.37" r="1.35" fill="#333" stroke="none" stroke-width="1" fill-opacity="0.8"/>
<circle cx="241.64" cy="625.36" r="1.35" fill="#333" stroke="none" stroke-width="1" fill-opacity="0.8"/>
<rect x="199.00" y="580.60" width="65.60" height="63.80" fill="none" stroke="#333" stroke-width="0.6"/>
<text x="202.90" y="589.60" font-size="6.8" text-anchor="start" fill="#000" stroke="#000" stroke-width="0.18"><tspan font-style="italic">p</tspan> = 0.019</text>
<text x="216.50" y="651.40" font-size="5.0" text-anchor="middle" fill="#333" stroke="#333" stroke-width="0.13">Sensitive</text>
<text x="246.90" y="651.40" font-size="5.0" text-anchor="middle" fill="#333" stroke="#333" stroke-width="0.13">Resistant</text>
<text transform="translate(8.2,542) rotate(-90)" font-size="9.1" text-anchor="middle">Protein expression</text>
<text x="498.70" y="222.80" font-size="17.5" text-anchor="start" fill="#000" stroke="#000" stroke-width="0.00" font-weight="bold">F</text>
<text x="517.00" y="232.50" font-size="9.1" text-anchor="start" fill="#000" stroke="#000" stroke-width="0.24">Correlation of gene mRNA with Ki67<tspan font-size="6.3" dy="1.8">C1D15</tspan></text>
<line x1="603.50" y1="250.80" x2="603.50" y2="371.80" stroke="#bbb" stroke-width="0.6" stroke-dasharray="1.6,1.4"/>
<line x1="543.20" y1="311.30" x2="663.80" y2="311.30" stroke="#bbb" stroke-width="0.6" stroke-dasharray="1.6,1.4"/>
<line x1="543.20" y1="371.80" x2="665.01" y2="249.59" stroke="#111" stroke-width="0.7"/>
<line x1="543.20" y1="250.80" x2="543.20" y2="371.80" stroke="#333" stroke-width="0.9"/>
<line x1="543.20" y1="371.80" x2="663.80" y2="371.80" stroke="#333" stroke-width="0.9"/>
<line x1="539.00" y1="371.80" x2="543.20" y2="371.80" stroke="#333" stroke-width="0.9"/>
<text x="537.00" y="374.80" font-size="8.6" text-anchor="end" fill="#222" stroke="#222" stroke-width="0.22">-1.0</text>
<line x1="543.20" y1="371.80" x2="543.20" y2="376.00" stroke="#333" stroke-width="0.9"/>
<text x="543.20" y="386.20" font-size="8.6" text-anchor="middle" fill="#222" stroke="#222" stroke-width="0.22">-1.0</text>
<line x1="539.00" y1="341.55" x2="543.20" y2="341.55" stroke="#333" stroke-width="0.9"/>
<text x="537.00" y="344.55" font-size="8.6" text-anchor="end" fill="#222" stroke="#222" stroke-width="0.22">-0.5</text>
<line x1="573.35" y1="371.80" x2="573.35" y2="376.00" stroke="#333" stroke-width="0.9"/>
<text x="573.35" y="386.20" font-size="8.6" text-anchor="middle" fill="#222" stroke="#222" stroke-width="0.22">-0.5</text>
<line x1="539.00" y1="311.30" x2="543.20" y2="311.30" stroke="#333" stroke-width="0.9"/>
<text x="537.00" y="314.30" font-size="8.6" text-anchor="end" fill="#222" stroke="#222" stroke-width="0.22">0.0</text>
<line x1="603.50" y1="371.80" x2="603.50" y2="376.00" stroke="#333" stroke-width="0.9"/>
<text x="603.50" y="386.20" font-size="8.6" text-anchor="middle" fill="#222" stroke="#222" stroke-width="0.22">0.0</text>
<line x1="539.00" y1="281.05" x2="543.20" y2="281.05" stroke="#333" stroke-width="0.9"/>
<text x="537.00" y="284.05" font-size="8.6" text-anchor="end" fill="#222" stroke="#222" stroke-width="0.22">0.5</text>
<line x1="633.65" y1="371.80" x2="633.65" y2="376.00" stroke="#333" stroke-width="0.9"/>
<text x="633.65" y="386.20" font-size="8.6" text-anchor="middle" fill="#222" stroke="#222" stroke-width="0.22">0.5</text>
<line x1="539.00" y1="250.80" x2="543.20" y2="250.80" stroke="#333" stroke-width="0.9"/>
<text x="537.00" y="253.80" font-size="8.6" text-anchor="end" fill="#222" stroke="#222" stroke-width="0.22">1.0</text>
<line x1="663.80" y1="371.80" x2="663.80" y2="376.00" stroke="#333" stroke-width="0.9"/>
<text x="663.80" y="386.20" font-size="8.6" text-anchor="middle" fill="#222" stroke="#222" stroke-width="0.22">1.0</text>
<text x="603.50" y="398.00" font-size="9.1" text-anchor="middle" fill="#000" stroke="#000" stroke-width="0.24">Pearson <tspan font-style="italic">r</tspan> in Sensitive tumors</text>
<text transform="translate(516.8,306.5) rotate(-90)" font-size="9.1" text-anchor="middle">Pearson <tspan font-style="italic">r</tspan> in Resistant tumors</text>
<line x1="586.00" y1="245.50" x2="609.50" y2="258.30" stroke="#222" stroke-width="0.55"/>
<line x1="601.00" y1="245.50" x2="612.70" y2="255.60" stroke="#222" stroke-width="0.55"/>
<line x1="617.00" y1="245.50" x2="615.50" y2="255.00" stroke="#222" stroke-width="0.55"/>
<line x1="645.00" y1="245.50" x2="622.80" y2="255.90" stroke="#222" stroke-width="0.55"/>
<line x1="585.00" y1="253.00" x2="606.10" y2="266.50" stroke="#222" stroke-width="0.55"/>
<line x1="617.50" y1="261.50" x2="661.00" y2="261.50" stroke="#222" stroke-width="0.55"/>
<line x1="613.00" y1="264.40" x2="648.00" y2="272.00" stroke="#222" stroke-width="0.55"/>
<line x1="599.50" y1="273.00" x2="613.00" y2="264.40" stroke="#222" stroke-width="0.55"/>
<line x1="636.00" y1="258.00" x2="636.00" y2="258.00" stroke="#222" stroke-width="0.55"/>
<circle cx="582.00" cy="258.80" r="2.30" fill="#1f93f5" stroke="none" stroke-width="1"/>
<circle cx="594.20" cy="261.00" r="2.30" fill="#1b9a4e" stroke="none" stroke-width="1"/>
<circle cx="606.10" cy="266.50" r="2.30" fill="#8a1850" stroke="none" stroke-width="1"/>
<circle cx="609.50" cy="258.30" r="2.30" fill="#aaaaaa" stroke="none" stroke-width="1"/>
<circle cx="612.70" cy="255.60" r="2.30" fill="#1f93f5" stroke="none" stroke-width="1"/>
<circle cx="616.20" cy="255.40" r="2.30" fill="#ff2a00" stroke="none" stroke-width="1"/>
<circle cx="622.80" cy="255.90" r="2.30" fill="#ff2a00" stroke="none" stroke-width="1"/>
<circle cx="636.00" cy="257.00" r="2.30" fill="#f9a8cf" stroke="none" stroke-width="1"/>
<circle cx="639.30" cy="257.80" r="2.30" fill="#5e9e2a" stroke="none" stroke-width="1"/>
<circle cx="627.30" cy="264.70" r="2.30" fill="#111" stroke="none" stroke-width="1"/>
<circle cx="609.80" cy="275.10" r="2.30" fill="#1f93f5" stroke="none" stroke-width="1"/>
<circle cx="602.60" cy="278.70" r="2.30" fill="#1f93f5" stroke="none" stroke-width="1"/>
<circle cx="610.10" cy="281.90" r="2.30" fill="#aaaaaa" stroke="none" stroke-width="1"/>
<circle cx="607.70" cy="286.40" r="2.30" fill="#aaaaaa" stroke="none" stroke-width="1"/>
<circle cx="638.40" cy="277.60" r="2.30" fill="#ff2a00" stroke="none" stroke-width="1"/>
<circle cx="629.90" cy="289.30" r="2.30" fill="#111" stroke="none" stroke-width="1"/>
<circle cx="602.70" cy="295.50" r="2.30" fill="#111" stroke="none" stroke-width="1"/>
<circle cx="613.00" cy="264.40" r="2.30" fill="#1f93f5" stroke="none" stroke-width="1"/>
<circle cx="617.50" cy="261.50" r="2.30" fill="#f0399c" stroke="none" stroke-width="1"/>
<circle cx="615.90" cy="258.00" r="2.30" fill="#111" stroke="none" stroke-width="1"/>
<circle cx="611.90" cy="343.10" r="2.30" fill="#1f93f5" stroke="none" stroke-width="1"/>
<circle cx="637.30" cy="338.10" r="2.30" fill="#f0399c" stroke="none" stroke-width="1"/>
<circle cx="595.50" cy="356.00" r="2.30" fill="#8a1850" stroke="none" stroke-width="1"/>
<circle cx="604.30" cy="360.70" r="2.30" fill="#e8ab5e" stroke="none" stroke-width="1"/>
<circle cx="634.50" cy="362.30" r="2.30" fill="#e8ab5e" stroke="none" stroke-width="1"/>
<text x="572.00" y="244.30" font-size="5.8" text-anchor="start" fill="#111" stroke="#111" stroke-width="0.15" font-style="italic">ADAR</text>
<text x="591.30" y="244.30" font-size="5.8" text-anchor="start" fill="#111" stroke="#111" stroke-width="0.15" font-style="italic">PLK1</text>
<text x="607.90" y="244.30" font-size="5.8" text-anchor="start" fill="#111" stroke="#111" stroke-width="0.15" font-style="italic">EIF4EBP1</text>
<text x="636.80" y="244.30" font-size="5.8" text-anchor="start" fill="#111" stroke="#111" stroke-width="0.15" font-style="italic">EIF4E2</text>
<text x="573.70" y="252.70" font-size="5.8" text-anchor="start" fill="#111" stroke="#111" stroke-width="0.15" font-style="italic">BRCA2</text>
<text x="629.90" y="253.60" font-size="5.8" text-anchor="start" fill="#111" stroke="#111" stroke-width="0.15" font-style="italic">MYC</text>
<text x="643.00" y="256.10" font-size="5.8" text-anchor="start" fill="#111" stroke="#111" stroke-width="0.15" font-style="italic">IRAK1</text>
<text x="662.00" y="263.60" font-size="5.8" text-anchor="start" fill="#111" stroke="#111" stroke-width="0.15" font-style="italic">RPS6</text>
<text x="563.50" y="260.90" font-size="5.8" text-anchor="start" fill="#111" stroke="#111" stroke-width="0.15" font-style="italic">CDK6</text>
<text x="582.20" y="269.70" font-size="5.8" text-anchor="start" fill="#111" stroke="#111" stroke-width="0.15" font-style="italic">IL1A</text>
<text x="630.70" y="267.60" font-size="5.8" text-anchor="start" fill="#111" stroke="#111" stroke-width="0.15" font-style="italic">EZH2</text>
<text x="648.80" y="275.20" font-size="5.8" text-anchor="start" fill="#111" stroke="#111" stroke-width="0.15" font-style="italic">CCNE1</text>
<text x="590.20" y="275.30" font-size="5.8" text-anchor="start" fill="#111" stroke="#111" stroke-width="0.15" font-style="italic">IER2</text>
<text x="613.00" y="276.10" font-size="5.8" text-anchor="start" fill="#111" stroke="#111" stroke-width="0.15" font-style="italic">CCNA1</text>
<text x="580.00" y="281.60" font-size="5.8" text-anchor="start" fill="#111" stroke="#111" stroke-width="0.15" font-style="italic">CCNA2</text>
<text x="613.00" y="283.70" font-size="5.8" text-anchor="start" fill="#111" stroke="#111" stroke-width="0.15" font-style="italic">CD274</text>
<text x="641.90" y="282.50" font-size="5.8" text-anchor="start" fill="#111" stroke="#111" stroke-width="0.15" font-style="italic">E2F2</text>
<text x="608.20" y="294.10" font-size="5.8" text-anchor="start" fill="#111" stroke="#111" stroke-width="0.15" font-style="italic">IDO1</text>
<text x="626.60" y="297.80" font-size="5.8" text-anchor="start" fill="#111" stroke="#111" stroke-width="0.15" font-style="italic">TP53</text>
<text x="580.60" y="302.60" font-size="5.8" text-anchor="start" fill="#111" stroke="#111" stroke-width="0.15" font-style="italic">PIK3CA</text>
<text x="608.10" y="338.00" font-size="5.8" text-anchor="start" fill="#111" stroke="#111" stroke-width="0.15" font-style="italic">CCND1</text>
<text x="642.00" y="340.20" font-size="5.8" text-anchor="start" fill="#111" stroke="#111" stroke-width="0.15" font-style="italic">AKT1</text>
<text x="579.90" y="364.70" font-size="5.8" text-anchor="start" fill="#111" stroke="#111" stroke-width="0.15" font-style="italic">BRCA1</text>
<text x="608.10" y="363.40" font-size="5.8" text-anchor="start" fill="#111" stroke="#111" stroke-width="0.15" font-style="italic">ESR1</text>
<text x="638.90" y="364.70" font-size="5.8" text-anchor="start" fill="#111" stroke="#111" stroke-width="0.15" font-style="italic">AR</text>
<text x="0.00" y="678.80" font-size="17.5" text-anchor="start" fill="#000" stroke="#000" stroke-width="0.00" font-weight="bold">I</text>
<text x="17.90" y="690.90" font-size="9.1" text-anchor="start" fill="#000" stroke="#000" stroke-width="0.24">Shared pathway alterations in Resistant</text>
<line x1="17.90" y1="693.50" x2="178.20" y2="693.50" stroke="#222" stroke-width="1.0"/>
<text x="126.40" y="704.60" font-size="7.9" text-anchor="middle" fill="#000" stroke="#000" stroke-width="0.21">RNA</text>
<text x="154.00" y="704.60" font-size="7.9" text-anchor="middle" fill="#000" stroke="#000" stroke-width="0.21">Protein</text>
<rect x="112.00" y="706.50" width="28.00" height="8.41" fill="#f97a74" stroke="none" stroke-width="1"/>
<rect x="140.00" y="706.50" width="27.60" height="8.41" fill="#f98a84" stroke="none" stroke-width="1"/>
<text x="109.80" y="713.50" font-size="7.9" text-anchor="end" fill="#000" stroke="#000" stroke-width="0.21">DNA repair</text>
<rect x="112.00" y="714.91" width="28.00" height="8.41" fill="#fb2200" stroke="none" stroke-width="1"/>
<rect x="140.00" y="714.91" width="27.60" height="8.41" fill="#f8554a" stroke="none" stroke-width="1"/>
<text x="109.80" y="721.91" font-size="7.9" text-anchor="end" fill="#000" stroke="#000" stroke-width="0.21">E2F targets</text>
<rect x="112.00" y="723.32" width="28.00" height="8.41" fill="#f62a10" stroke="none" stroke-width="1"/>
<rect x="140.00" y="723.32" width="27.60" height="8.41" fill="#f86a62" stroke="none" stroke-width="1"/>
<text x="109.80" y="730.33" font-size="7.9" text-anchor="end" fill="#000" stroke="#000" stroke-width="0.21">G2M checkpoint</text>
<rect x="112.00" y="731.73" width="28.00" height="8.41" fill="#fba29d" stroke="none" stroke-width="1"/>
<rect x="140.00" y="731.73" width="27.60" height="8.41" fill="#fcb5b0" stroke="none" stroke-width="1"/>
<text x="109.80" y="738.74" font-size="7.9" text-anchor="end" fill="#000" stroke="#000" stroke-width="0.21">Glycolysis</text>
<rect x="112.00" y="740.14" width="28.00" height="8.41" fill="#f8645a" stroke="none" stroke-width="1"/>
<rect x="140.00" y="740.14" width="27.60" height="8.41" fill="#fa8f88" stroke="none" stroke-width="1"/>
<text x="109.80" y="747.14" font-size="7.9" text-anchor="end" fill="#000" stroke="#000" stroke-width="0.21">mTORC1 signaling</text>
<rect x="112.00" y="748.55" width="28.00" height="8.41" fill="#f5463a" stroke="none" stroke-width="1"/>
<rect x="140.00" y="748.55" width="27.60" height="8.41" fill="#f85a50" stroke="none" stroke-width="1"/>
<text x="109.80" y="755.55" font-size="7.9" text-anchor="end" fill="#000" stroke="#000" stroke-width="0.21">MYC targets V1</text>
<rect x="112.00" y="756.96" width="28.00" height="8.41" fill="#f8625a" stroke="none" stroke-width="1"/>
<rect x="140.00" y="756.96" width="27.60" height="8.41" fill="#f8706a" stroke="none" stroke-width="1"/>
<text x="109.80" y="763.97" font-size="7.9" text-anchor="end" fill="#000" stroke="#000" stroke-width="0.21">MYC targets V2</text>
<rect x="112.00" y="765.37" width="28.00" height="8.41" fill="#fa928c" stroke="none" stroke-width="1"/>
<rect x="140.00" y="765.37" width="27.60" height="8.41" fill="#f97c76" stroke="none" stroke-width="1"/>
<text x="109.80" y="772.38" font-size="7.9" text-anchor="end" fill="#000" stroke="#000" stroke-width="0.21">Unfolded protein response</text>
<rect x="112.00" y="773.78" width="28.00" height="8.41" fill="#5a6cf8" stroke="none" stroke-width="1"/>
<rect x="140.00" y="773.78" width="27.60" height="8.41" fill="#0a30fa" stroke="none" stroke-width="1"/>
<text x="109.80" y="780.78" font-size="7.9" text-anchor="end" fill="#000" stroke="#000" stroke-width="0.21">EMT</text>
<rect x="112.00" y="782.19" width="28.00" height="8.41" fill="#7b88f8" stroke="none" stroke-width="1"/>
<rect x="140.00" y="782.19" width="27.60" height="8.41" fill="#6672f8" stroke="none" stroke-width="1"/>
<text x="109.80" y="789.20" font-size="7.9" text-anchor="end" fill="#000" stroke="#000" stroke-width="0.21">Estrogen response early</text>
<rect x="112.00" y="790.60" width="28.00" height="8.41" fill="#6473f8" stroke="none" stroke-width="1"/>
<rect x="140.00" y="790.60" width="27.60" height="8.41" fill="#5062f8" stroke="none" stroke-width="1"/>
<text x="109.80" y="797.61" font-size="7.9" text-anchor="end" fill="#000" stroke="#000" stroke-width="0.21">Myogenesis</text>
<line x1="112.00" y1="714.91" x2="167.60" y2="714.91" stroke="#fff" stroke-width="0.8"/>
<line x1="112.00" y1="723.32" x2="167.60" y2="723.32" stroke="#fff" stroke-width="0.8"/>
<line x1="112.00" y1="731.73" x2="167.60" y2="731.73" stroke="#fff" stroke-width="0.8"/>
<line x1="112.00" y1="740.14" x2="167.60" y2="740.14" stroke="#fff" stroke-width="0.8"/>
<line x1="112.00" y1="748.55" x2="167.60" y2="748.55" stroke="#fff" stroke-width="0.8"/>
<line x1="112.00" y1="756.96" x2="167.60" y2="756.96" stroke="#fff" stroke-width="0.8"/>
<line x1="112.00" y1="765.37" x2="167.60" y2="765.37" stroke="#fff" stroke-width="0.8"/>
<line x1="112.00" y1="773.78" x2="167.60" y2="773.78" stroke="#fff" stroke-width="0.8"/>
<line x1="112.00" y1="782.19" x2="167.60" y2="782.19" stroke="#fff" stroke-width="0.8"/>
<line x1="112.00" y1="790.60" x2="167.60" y2="790.60" stroke="#fff" stroke-width="0.8"/>
<line x1="140.10" y1="706.50" x2="140.10" y2="799.01" stroke="#fff" stroke-width="0.8"/>
<defs><linearGradient id="cb" x1="0" y1="0" x2="0" y2="1"><stop offset="0" stop-color="#f0150a"/><stop offset="0.626" stop-color="#ffffff"/><stop offset="1" stop-color="#1e3af5"/></linearGradient></defs>
<rect x="170.90" y="764.80" width="8.10" height="27.40" fill="url(#cb)" stroke="none" stroke-width="1"/>
<line x1="176.80" y1="772.70" x2="178.20" y2="772.70" stroke="#fff" stroke-width="0.5"/>
<text x="181.00" y="774.70" font-size="5.8" text-anchor="start" fill="#222" stroke="#222" stroke-width="0.15">2</text>
<line x1="176.80" y1="782.20" x2="178.20" y2="782.20" stroke="#fff" stroke-width="0.5"/>
<text x="181.00" y="784.20" font-size="5.8" text-anchor="start" fill="#222" stroke="#222" stroke-width="0.15">0</text>
<line x1="176.80" y1="790.60" x2="178.20" y2="790.60" stroke="#fff" stroke-width="0.5"/>
<text x="181.00" y="792.60" font-size="5.8" text-anchor="start" fill="#222" stroke="#222" stroke-width="0.15">-2</text>
<text x="170.60" y="799.60" font-size="5.8" text-anchor="start" fill="#222" stroke="#222" stroke-width="0.15">NES</text>
<rect x="64.50" y="809.40" width="115.20" height="56.90" fill="none" stroke="#888" stroke-width="0.8"/>
<line x1="61.90" y1="858.50" x2="64.50" y2="858.50" stroke="#888" stroke-width="0.6"/>
<text x="60.60" y="861.30" font-size="7.9" text-anchor="end" fill="#000" stroke="#000" stroke-width="0.21">-2</text>
<line x1="61.90" y1="842.30" x2="64.50" y2="842.30" stroke="#888" stroke-width="0.6"/>
<text x="60.60" y="845.10" font-size="7.9" text-anchor="end" fill="#000" stroke="#000" stroke-width="0.21">0</text>
<line x1="61.90" y1="826.10" x2="64.50" y2="826.10" stroke="#888" stroke-width="0.6"/>
<text x="60.60" y="828.90" font-size="7.9" text-anchor="end" fill="#000" stroke="#000" stroke-width="0.21">2</text>
<line x1="61.90" y1="809.90" x2="64.50" y2="809.90" stroke="#888" stroke-width="0.6"/>
<text x="60.60" y="812.70" font-size="7.9" text-anchor="end" fill="#000" stroke="#000" stroke-width="0.21">4</text>
<line x1="81.60" y1="866.30" x2="81.60" y2="868.90" stroke="#888" stroke-width="0.6"/>
<text x="81.60" y="877.00" font-size="7.9" text-anchor="middle" fill="#000" stroke="#000" stroke-width="0.21">-2</text>
<line x1="114.00" y1="866.30" x2="114.00" y2="868.90" stroke="#888" stroke-width="0.6"/>
<text x="114.00" y="877.00" font-size="7.9" text-anchor="middle" fill="#000" stroke="#000" stroke-width="0.21">0</text>
<line x1="146.40" y1="866.30" x2="146.40" y2="868.90" stroke="#888" stroke-width="0.6"/>
<text x="146.40" y="877.00" font-size="7.9" text-anchor="middle" fill="#000" stroke="#000" stroke-width="0.21">2</text>
<line x1="178.80" y1="866.30" x2="178.80" y2="868.90" stroke="#888" stroke-width="0.6"/>
<text x="178.80" y="877.00" font-size="7.9" text-anchor="middle" fill="#000" stroke="#000" stroke-width="0.21">4</text>
<line x1="85.50" y1="858.70" x2="172.50" y2="817.50" stroke="#111" stroke-width="0.6"/>
<circle cx="84.90" cy="862.40" r="2.20" fill="#000" stroke="none" stroke-width="1"/>
<circle cx="87.70" cy="856.90" r="2.20" fill="#000" stroke="none" stroke-width="1"/>
<circle cx="90.80" cy="855.80" r="2.20" fill="#000" stroke="none" stroke-width="1"/>
<circle cx="139.60" cy="831.30" r="2.20" fill="#000" stroke="none" stroke-width="1"/>
<circle cx="142.90" cy="825.60" r="2.20" fill="#000" stroke="none" stroke-width="1"/>
<circle cx="147.70" cy="826.30" r="2.20" fill="#000" stroke="none" stroke-width="1"/>
<circle cx="153.20" cy="824.10" r="2.20" fill="#000" stroke="none" stroke-width="1"/>
<circle cx="153.20" cy="828.50" r="2.20" fill="#000" stroke="none" stroke-width="1"/>
<circle cx="162.00" cy="821.20" r="2.20" fill="#000" stroke="none" stroke-width="1"/>
<circle cx="168.80" cy="823.00" r="2.20" fill="#000" stroke="none" stroke-width="1"/>
<circle cx="171.80" cy="820.80" r="2.20" fill="#000" stroke="none" stroke-width="1"/>
<text x="68.00" y="818.60" font-size="8.0" text-anchor="start" fill="#000" stroke="#000" stroke-width="0.21">Spearman <tspan font-style="italic">r</tspan>&#160; = 0.95</text>
<text x="122.10" y="886.90" font-size="9.1" text-anchor="middle" fill="#000" stroke="#000" stroke-width="0.24">RNA NES</text>
<text transform="translate(53.2,839.4) rotate(-90)" font-size="9.1" text-anchor="middle">Protein NES</text>
<path d="M538.8,407 L538.8,414.6 C538.8,417.4 537.3,418.3 535.7,418.3 C533.7,418.3 532.7,417.2 532.7,414.4" fill="none" stroke="#000" stroke-width="2.6"/>
<g stroke="#e3e3e3" stroke-width="0.45"><line x1="550.80" y1="440.70" x2="665.50" y2="440.70"/><line x1="550.80" y1="438.60" x2="665.50" y2="438.60"/><line x1="550.80" y1="436.50" x2="665.50" y2="436.50"/><line x1="550.80" y1="434.40" x2="665.50" y2="434.40"/><line x1="550.80" y1="432.30" x2="665.50" y2="432.30"/><line x1="550.80" y1="430.20" x2="665.50" y2="430.20"/><line x1="550.80" y1="428.10" x2="665.50" y2="428.10"/><line x1="550.80" y1="426.00" x2="665.50" y2="426.00"/><line x1="550.80" y1="423.90" x2="665.50" y2="423.90"/><line x1="554.60" y1="423.70" x2="554.60" y2="440.70"/><line x1="567.92" y1="423.70" x2="567.92" y2="440.70"/><line x1="581.25" y1="423.70" x2="581.25" y2="440.70"/><line x1="594.57" y1="423.70" x2="594.57" y2="440.70"/><line x1="607.90" y1="423.70" x2="607.90" y2="440.70"/><line x1="621.23" y1="423.70" x2="621.23" y2="440.70"/><line x1="634.55" y1="423.70" x2="634.55" y2="440.70"/><line x1="647.88" y1="423.70" x2="647.88" y2="440.70"/><line x1="661.20" y1="423.70" x2="661.20" y2="440.70"/></g>
<path d="M575.40,440.70 C579.65,440.57 594.13,440.48 600.90,439.95 C607.67,439.42 612.22,438.64 616.00,437.50 C619.78,436.36 621.38,434.27 623.60,433.10 C625.82,431.93 627.42,430.87 629.30,430.50 C631.18,430.13 632.70,431.32 634.90,430.90 C637.10,430.48 640.28,428.00 642.50,428.00 C644.72,428.00 645.15,428.78 648.20,430.90 C651.25,433.02 658.70,439.07 660.80,440.70 Z" fill="#f54848"/>
<text x="607.90" y="420.20" font-size="5.8" text-anchor="middle" fill="#222" stroke="#222" stroke-width="0.15">Interferon alpha response</text>
<g stroke="#e3e3e3" stroke-width="0.45"><line x1="550.80" y1="473.67" x2="665.50" y2="473.67"/><line x1="550.80" y1="471.57" x2="665.50" y2="471.57"/><line x1="550.80" y1="469.47" x2="665.50" y2="469.47"/><line x1="550.80" y1="467.37" x2="665.50" y2="467.37"/><line x1="550.80" y1="465.27" x2="665.50" y2="465.27"/><line x1="550.80" y1="463.17" x2="665.50" y2="463.17"/><line x1="550.80" y1="461.07" x2="665.50" y2="461.07"/><line x1="550.80" y1="458.97" x2="665.50" y2="458.97"/><line x1="550.80" y1="456.87" x2="665.50" y2="456.87"/><line x1="554.60" y1="456.67" x2="554.60" y2="473.67"/><line x1="567.92" y1="456.67" x2="567.92" y2="473.67"/><line x1="581.25" y1="456.67" x2="581.25" y2="473.67"/><line x1="594.57" y1="456.67" x2="594.57" y2="473.67"/><line x1="607.90" y1="456.67" x2="607.90" y2="473.67"/><line x1="621.23" y1="456.67" x2="621.23" y2="473.67"/><line x1="634.55" y1="456.67" x2="634.55" y2="473.67"/><line x1="647.88" y1="456.67" x2="647.88" y2="473.67"/><line x1="661.20" y1="456.67" x2="661.20" y2="473.67"/></g>
<path d="M579.20,473.67 C581.87,473.39 590.00,472.82 595.20,471.97 C600.40,471.12 605.67,469.29 610.40,468.57 C615.13,467.85 620.15,468.20 623.60,467.67 C627.05,467.14 628.27,466.25 631.10,465.37 C633.93,464.49 637.75,462.54 640.60,462.37 C643.45,462.20 644.83,462.49 648.20,464.37 C651.57,466.25 658.70,472.12 660.80,473.67 Z" fill="#f2485e"/>
<text x="607.90" y="453.17" font-size="5.8" text-anchor="middle" fill="#222" stroke="#222" stroke-width="0.15">Estrogen response late</text>
<g stroke="#e3e3e3" stroke-width="0.45"><line x1="550.80" y1="506.64" x2="665.50" y2="506.64"/><line x1="550.80" y1="504.54" x2="665.50" y2="504.54"/><line x1="550.80" y1="502.44" x2="665.50" y2="502.44"/><line x1="550.80" y1="500.34" x2="665.50" y2="500.34"/><line x1="550.80" y1="498.24" x2="665.50" y2="498.24"/><line x1="550.80" y1="496.14" x2="665.50" y2="496.14"/><line x1="550.80" y1="494.04" x2="665.50" y2="494.04"/><line x1="550.80" y1="491.94" x2="665.50" y2="491.94"/><line x1="550.80" y1="489.84" x2="665.50" y2="489.84"/><line x1="554.60" y1="489.64" x2="554.60" y2="506.64"/><line x1="567.92" y1="489.64" x2="567.92" y2="506.64"/><line x1="581.25" y1="489.64" x2="581.25" y2="506.64"/><line x1="594.57" y1="489.64" x2="594.57" y2="506.64"/><line x1="607.90" y1="489.64" x2="607.90" y2="506.64"/><line x1="621.23" y1="489.64" x2="621.23" y2="506.64"/><line x1="634.55" y1="489.64" x2="634.55" y2="506.64"/><line x1="647.88" y1="489.64" x2="647.88" y2="506.64"/><line x1="661.20" y1="489.64" x2="661.20" y2="506.64"/></g>
<path d="M559.30,506.64 C563.40,506.59 576.33,507.04 583.90,506.34 C591.47,505.64 598.08,503.71 604.70,502.44 C611.32,501.17 618.25,499.84 623.60,498.74 C628.95,497.64 633.02,496.19 636.80,495.84 C640.58,495.49 643.47,495.79 646.30,496.64 C649.13,497.49 651.38,499.27 653.80,500.94 C656.22,502.61 659.63,505.69 660.80,506.64 Z" fill="#ef4864"/>
<text x="607.90" y="486.14" font-size="5.8" text-anchor="middle" fill="#222" stroke="#222" stroke-width="0.15">Estrogen response early</text>
<g stroke="#e3e3e3" stroke-width="0.45"><line x1="550.80" y1="539.61" x2="665.50" y2="539.61"/><line x1="550.80" y1="537.51" x2="665.50" y2="537.51"/><line x1="550.80" y1="535.41" x2="665.50" y2="535.41"/><line x1="550.80" y1="533.31" x2="665.50" y2="533.31"/><line x1="550.80" y1="531.21" x2="665.50" y2="531.21"/><line x1="550.80" y1="529.11" x2="665.50" y2="529.11"/><line x1="550.80" y1="527.01" x2="665.50" y2="527.01"/><line x1="550.80" y1="524.91" x2="665.50" y2="524.91"/><line x1="550.80" y1="522.81" x2="665.50" y2="522.81"/><line x1="554.60" y1="522.61" x2="554.60" y2="539.61"/><line x1="567.92" y1="522.61" x2="567.92" y2="539.61"/><line x1="581.25" y1="522.61" x2="581.25" y2="539.61"/><line x1="594.57" y1="522.61" x2="594.57" y2="539.61"/><line x1="607.90" y1="522.61" x2="607.90" y2="539.61"/><line x1="621.23" y1="522.61" x2="621.23" y2="539.61"/><line x1="634.55" y1="522.61" x2="634.55" y2="539.61"/><line x1="647.88" y1="522.61" x2="647.88" y2="539.61"/><line x1="661.20" y1="522.61" x2="661.20" y2="539.61"/></g>
<path d="M573.50,539.61 C575.87,539.39 582.50,538.63 587.70,538.31 C592.90,537.99 600.30,538.44 604.70,537.71 C609.10,536.98 610.63,535.26 614.10,533.91 C617.57,532.56 622.35,530.23 625.50,529.61 C628.65,528.99 630.33,530.38 633.00,530.21 C635.67,530.04 638.67,528.21 641.50,528.61 C644.33,529.01 646.78,530.78 650.00,532.61 C653.22,534.44 659.00,538.44 660.80,539.61 Z" fill="#ec4a6e"/>
<text x="607.90" y="519.11" font-size="5.8" text-anchor="middle" fill="#222" stroke="#222" stroke-width="0.15">Interferon gamma response</text>
<g stroke="#e3e3e3" stroke-width="0.45"><line x1="550.80" y1="572.58" x2="665.50" y2="572.58"/><line x1="550.80" y1="570.48" x2="665.50" y2="570.48"/><line x1="550.80" y1="568.38" x2="665.50" y2="568.38"/><line x1="550.80" y1="566.28" x2="665.50" y2="566.28"/><line x1="550.80" y1="564.18" x2="665.50" y2="564.18"/><line x1="550.80" y1="562.08" x2="665.50" y2="562.08"/><line x1="550.80" y1="559.98" x2="665.50" y2="559.98"/><line x1="550.80" y1="557.88" x2="665.50" y2="557.88"/><line x1="550.80" y1="555.78" x2="665.50" y2="555.78"/><line x1="554.60" y1="555.58" x2="554.60" y2="572.58"/><line x1="567.92" y1="555.58" x2="567.92" y2="572.58"/><line x1="581.25" y1="555.58" x2="581.25" y2="572.58"/><line x1="594.57" y1="555.58" x2="594.57" y2="572.58"/><line x1="607.90" y1="555.58" x2="607.90" y2="572.58"/><line x1="621.23" y1="555.58" x2="621.23" y2="572.58"/><line x1="634.55" y1="555.58" x2="634.55" y2="572.58"/><line x1="647.88" y1="555.58" x2="647.88" y2="572.58"/><line x1="661.20" y1="555.58" x2="661.20" y2="572.58"/></g>
<path d="M576.30,572.58 C581.03,571.95 596.82,570.05 604.70,568.78 C612.58,567.51 619.20,566.23 623.60,564.98 C628.00,563.73 628.73,562.21 631.10,561.28 C633.47,560.35 635.58,559.38 637.80,559.38 C640.02,559.38 642.05,559.71 644.40,561.28 C646.75,562.85 649.17,566.90 651.90,568.78 C654.63,570.66 659.32,571.95 660.80,572.58 Z" fill="#e84a78"/>
<text x="607.90" y="552.08" font-size="5.8" text-anchor="middle" fill="#222" stroke="#222" stroke-width="0.15">EMT</text>
<g stroke="#e3e3e3" stroke-width="0.45"><line x1="550.80" y1="605.55" x2="665.50" y2="605.55"/><line x1="550.80" y1="603.45" x2="665.50" y2="603.45"/><line x1="550.80" y1="601.35" x2="665.50" y2="601.35"/><line x1="550.80" y1="599.25" x2="665.50" y2="599.25"/><line x1="550.80" y1="597.15" x2="665.50" y2="597.15"/><line x1="550.80" y1="595.05" x2="665.50" y2="595.05"/><line x1="550.80" y1="592.95" x2="665.50" y2="592.95"/><line x1="550.80" y1="590.85" x2="665.50" y2="590.85"/><line x1="550.80" y1="588.75" x2="665.50" y2="588.75"/><line x1="554.60" y1="588.55" x2="554.60" y2="605.55"/><line x1="567.92" y1="588.55" x2="567.92" y2="605.55"/><line x1="581.25" y1="588.55" x2="581.25" y2="605.55"/><line x1="594.57" y1="588.55" x2="594.57" y2="605.55"/><line x1="607.90" y1="588.55" x2="607.90" y2="605.55"/><line x1="621.23" y1="588.55" x2="621.23" y2="605.55"/><line x1="634.55" y1="588.55" x2="634.55" y2="605.55"/><line x1="647.88" y1="588.55" x2="647.88" y2="605.55"/><line x1="661.20" y1="588.55" x2="661.20" y2="605.55"/></g>
<path d="M565.00,605.55 C570.03,605.27 587.02,604.77 595.20,603.85 C603.38,602.93 609.37,601.32 614.10,600.05 C618.83,598.78 620.77,597.13 623.60,596.25 C626.43,595.37 628.58,594.83 631.10,594.75 C633.62,594.67 636.17,595.18 638.70,595.75 C641.23,596.32 643.78,597.22 646.30,598.15 C648.82,599.08 651.38,600.12 653.80,601.35 C656.22,602.58 659.63,604.85 660.80,605.55 Z" fill="#e64a80"/>
<text x="607.90" y="585.05" font-size="5.8" text-anchor="middle" fill="#222" stroke="#222" stroke-width="0.15">Myogenesis</text>
<g stroke="#e3e3e3" stroke-width="0.45"><line x1="550.80" y1="638.52" x2="665.50" y2="638.52"/><line x1="550.80" y1="636.42" x2="665.50" y2="636.42"/><line x1="550.80" y1="634.32" x2="665.50" y2="634.32"/><line x1="550.80" y1="632.22" x2="665.50" y2="632.22"/><line x1="550.80" y1="630.12" x2="665.50" y2="630.12"/><line x1="550.80" y1="628.02" x2="665.50" y2="628.02"/><line x1="550.80" y1="625.92" x2="665.50" y2="625.92"/><line x1="550.80" y1="623.82" x2="665.50" y2="623.82"/><line x1="550.80" y1="621.72" x2="665.50" y2="621.72"/><line x1="554.60" y1="621.52" x2="554.60" y2="638.52"/><line x1="567.92" y1="621.52" x2="567.92" y2="638.52"/><line x1="581.25" y1="621.52" x2="581.25" y2="638.52"/><line x1="594.57" y1="621.52" x2="594.57" y2="638.52"/><line x1="607.90" y1="621.52" x2="607.90" y2="638.52"/><line x1="621.23" y1="621.52" x2="621.23" y2="638.52"/><line x1="634.55" y1="621.52" x2="634.55" y2="638.52"/><line x1="647.88" y1="621.52" x2="647.88" y2="638.52"/><line x1="661.20" y1="621.52" x2="661.20" y2="638.52"/></g>
<path d="M572.60,638.52 C577.95,638.09 597.15,636.92 604.70,635.92 C612.25,634.92 614.12,634.10 617.90,632.52 C621.68,630.94 624.88,627.59 627.40,626.42 C629.92,625.25 631.12,625.14 633.00,625.52 C634.88,625.90 636.17,627.19 638.70,628.72 C641.23,630.25 644.52,633.09 648.20,634.72 C651.88,636.35 658.70,637.89 660.80,638.52 Z" fill="#df4aa5"/>
<text x="607.90" y="618.02" font-size="5.8" text-anchor="middle" fill="#222" stroke="#222" stroke-width="0.15">mTORC1 signaling</text>
<g stroke="#e3e3e3" stroke-width="0.45"><line x1="550.80" y1="671.49" x2="665.50" y2="671.49"/><line x1="550.80" y1="669.39" x2="665.50" y2="669.39"/><line x1="550.80" y1="667.29" x2="665.50" y2="667.29"/><line x1="550.80" y1="665.19" x2="665.50" y2="665.19"/><line x1="550.80" y1="663.09" x2="665.50" y2="663.09"/><line x1="550.80" y1="660.99" x2="665.50" y2="660.99"/><line x1="550.80" y1="658.89" x2="665.50" y2="658.89"/><line x1="550.80" y1="656.79" x2="665.50" y2="656.79"/><line x1="550.80" y1="654.69" x2="665.50" y2="654.69"/><line x1="554.60" y1="654.49" x2="554.60" y2="671.49"/><line x1="567.92" y1="654.49" x2="567.92" y2="671.49"/><line x1="581.25" y1="654.49" x2="581.25" y2="671.49"/><line x1="594.57" y1="654.49" x2="594.57" y2="671.49"/><line x1="607.90" y1="654.49" x2="607.90" y2="671.49"/><line x1="621.23" y1="654.49" x2="621.23" y2="671.49"/><line x1="634.55" y1="654.49" x2="634.55" y2="671.49"/><line x1="647.88" y1="654.49" x2="647.88" y2="671.49"/><line x1="661.20" y1="654.49" x2="661.20" y2="671.49"/></g>
<path d="M559.30,671.49 C565.28,671.17 586.38,670.54 595.20,669.59 C604.02,668.64 607.47,667.04 612.20,665.79 C616.93,664.54 620.75,663.02 623.60,662.09 C626.45,661.16 626.78,660.11 629.30,660.19 C631.82,660.27 635.25,661.49 638.70,662.59 C642.15,663.69 646.32,665.31 650.00,666.79 C653.68,668.27 659.00,670.71 660.80,671.49 Z" fill="#de48a0"/>
<text x="607.90" y="650.99" font-size="5.8" text-anchor="middle" fill="#222" stroke="#222" stroke-width="0.15">Glycolysis</text>
<g stroke="#e3e3e3" stroke-width="0.45"><line x1="550.80" y1="704.46" x2="665.50" y2="704.46"/><line x1="550.80" y1="702.36" x2="665.50" y2="702.36"/><line x1="550.80" y1="700.26" x2="665.50" y2="700.26"/><line x1="550.80" y1="698.16" x2="665.50" y2="698.16"/><line x1="550.80" y1="696.06" x2="665.50" y2="696.06"/><line x1="550.80" y1="693.96" x2="665.50" y2="693.96"/><line x1="550.80" y1="691.86" x2="665.50" y2="691.86"/><line x1="550.80" y1="689.76" x2="665.50" y2="689.76"/><line x1="550.80" y1="687.66" x2="665.50" y2="687.66"/><line x1="554.60" y1="687.46" x2="554.60" y2="704.46"/><line x1="567.92" y1="687.46" x2="567.92" y2="704.46"/><line x1="581.25" y1="687.46" x2="581.25" y2="704.46"/><line x1="594.57" y1="687.46" x2="594.57" y2="704.46"/><line x1="607.90" y1="687.46" x2="607.90" y2="704.46"/><line x1="621.23" y1="687.46" x2="621.23" y2="704.46"/><line x1="634.55" y1="687.46" x2="634.55" y2="704.46"/><line x1="647.88" y1="687.46" x2="647.88" y2="704.46"/><line x1="661.20" y1="687.46" x2="661.20" y2="704.46"/></g>
<path d="M562.20,704.46 C567.70,703.99 587.48,702.44 595.20,701.66 C602.92,700.88 604.72,700.56 608.50,699.76 C612.28,698.96 615.07,697.71 617.90,696.86 C620.73,696.01 622.67,695.06 625.50,694.66 C628.33,694.26 632.07,694.09 634.90,694.46 C637.73,694.83 639.35,695.51 642.50,696.86 C645.65,698.21 650.75,701.29 653.80,702.56 C656.85,703.83 659.63,704.14 660.80,704.46 Z" fill="#d44ab8"/>
<text x="607.90" y="683.96" font-size="5.8" text-anchor="middle" fill="#222" stroke="#222" stroke-width="0.15">Mitotic spindle</text>
<g stroke="#e3e3e3" stroke-width="0.45"><line x1="550.80" y1="737.43" x2="665.50" y2="737.43"/><line x1="550.80" y1="735.33" x2="665.50" y2="735.33"/><line x1="550.80" y1="733.23" x2="665.50" y2="733.23"/><line x1="550.80" y1="731.13" x2="665.50" y2="731.13"/><line x1="550.80" y1="729.03" x2="665.50" y2="729.03"/><line x1="550.80" y1="726.93" x2="665.50" y2="726.93"/><line x1="550.80" y1="724.83" x2="665.50" y2="724.83"/><line x1="550.80" y1="722.73" x2="665.50" y2="722.73"/><line x1="550.80" y1="720.63" x2="665.50" y2="720.63"/><line x1="554.60" y1="720.43" x2="554.60" y2="737.43"/><line x1="567.92" y1="720.43" x2="567.92" y2="737.43"/><line x1="581.25" y1="720.43" x2="581.25" y2="737.43"/><line x1="594.57" y1="720.43" x2="594.57" y2="737.43"/><line x1="607.90" y1="720.43" x2="607.90" y2="737.43"/><line x1="621.23" y1="720.43" x2="621.23" y2="737.43"/><line x1="634.55" y1="720.43" x2="634.55" y2="737.43"/><line x1="647.88" y1="720.43" x2="647.88" y2="737.43"/><line x1="661.20" y1="720.43" x2="661.20" y2="737.43"/></g>
<path d="M562.20,737.43 C568.65,737.05 592.87,736.40 600.90,735.13 C608.93,733.86 607.57,731.11 610.40,729.83 C613.23,728.55 614.45,728.00 617.90,727.43 C621.35,726.86 627.63,726.33 631.10,726.43 C634.57,726.53 636.17,726.98 638.70,728.03 C641.23,729.08 643.78,731.26 646.30,732.73 C648.82,734.20 652.07,736.05 653.80,736.83 C655.53,737.61 656.22,737.33 656.70,737.43 Z" fill="#bd4ad0"/>
<text x="607.90" y="716.93" font-size="5.8" text-anchor="middle" fill="#222" stroke="#222" stroke-width="0.15">MYC targets V2</text>
<g stroke="#e3e3e3" stroke-width="0.45"><line x1="550.80" y1="770.40" x2="665.50" y2="770.40"/><line x1="550.80" y1="768.30" x2="665.50" y2="768.30"/><line x1="550.80" y1="766.20" x2="665.50" y2="766.20"/><line x1="550.80" y1="764.10" x2="665.50" y2="764.10"/><line x1="550.80" y1="762.00" x2="665.50" y2="762.00"/><line x1="550.80" y1="759.90" x2="665.50" y2="759.90"/><line x1="550.80" y1="757.80" x2="665.50" y2="757.80"/><line x1="550.80" y1="755.70" x2="665.50" y2="755.70"/><line x1="550.80" y1="753.60" x2="665.50" y2="753.60"/><line x1="554.60" y1="753.40" x2="554.60" y2="770.40"/><line x1="567.92" y1="753.40" x2="567.92" y2="770.40"/><line x1="581.25" y1="753.40" x2="581.25" y2="770.40"/><line x1="594.57" y1="753.40" x2="594.57" y2="770.40"/><line x1="607.90" y1="753.40" x2="607.90" y2="770.40"/><line x1="621.23" y1="753.40" x2="621.23" y2="770.40"/><line x1="634.55" y1="753.40" x2="634.55" y2="770.40"/><line x1="647.88" y1="753.40" x2="647.88" y2="770.40"/><line x1="661.20" y1="753.40" x2="661.20" y2="770.40"/></g>
<path d="M579.50,770.40 C583.88,769.67 599.82,767.60 605.80,766.00 C611.78,764.40 611.90,761.82 615.40,760.80 C618.90,759.78 623.43,759.77 626.80,759.90 C630.17,760.03 632.82,761.02 635.60,761.60 C638.38,762.18 640.58,762.08 643.50,763.40 C646.42,764.72 650.33,768.33 653.10,769.50 C655.87,770.67 658.93,770.25 660.10,770.40 Z" fill="#bb48d0"/>
<text x="607.90" y="749.90" font-size="5.8" text-anchor="middle" fill="#222" stroke="#222" stroke-width="0.15">MYC targets V1</text>
<g stroke="#e3e3e3" stroke-width="0.45"><line x1="550.80" y1="803.37" x2="665.50" y2="803.37"/><line x1="550.80" y1="801.27" x2="665.50" y2="801.27"/><line x1="550.80" y1="799.17" x2="665.50" y2="799.17"/><line x1="550.80" y1="797.07" x2="665.50" y2="797.07"/><line x1="550.80" y1="794.97" x2="665.50" y2="794.97"/><line x1="550.80" y1="792.87" x2="665.50" y2="792.87"/><line x1="550.80" y1="790.77" x2="665.50" y2="790.77"/><line x1="550.80" y1="788.67" x2="665.50" y2="788.67"/><line x1="550.80" y1="786.57" x2="665.50" y2="786.57"/><line x1="554.60" y1="786.37" x2="554.60" y2="803.37"/><line x1="567.92" y1="786.37" x2="567.92" y2="803.37"/><line x1="581.25" y1="786.37" x2="581.25" y2="803.37"/><line x1="594.57" y1="786.37" x2="594.57" y2="803.37"/><line x1="607.90" y1="786.37" x2="607.90" y2="803.37"/><line x1="621.23" y1="786.37" x2="621.23" y2="803.37"/><line x1="634.55" y1="786.37" x2="634.55" y2="803.37"/><line x1="647.88" y1="786.37" x2="647.88" y2="803.37"/><line x1="661.20" y1="786.37" x2="661.20" y2="803.37"/></g>
<path d="M574.30,803.37 C578.68,802.72 593.88,800.70 600.60,799.47 C607.32,798.24 609.93,797.07 614.60,795.97 C619.27,794.87 624.82,793.15 628.60,792.87 C632.38,792.59 634.38,793.17 637.30,794.27 C640.22,795.37 642.30,797.95 646.10,799.47 C649.90,800.99 657.77,802.72 660.10,803.37 Z" fill="#b548d2"/>
<text x="607.90" y="782.87" font-size="5.8" text-anchor="middle" fill="#222" stroke="#222" stroke-width="0.15">E2F targets</text>
<g stroke="#e3e3e3" stroke-width="0.45"><line x1="550.80" y1="836.34" x2="665.50" y2="836.34"/><line x1="550.80" y1="834.24" x2="665.50" y2="834.24"/><line x1="550.80" y1="832.14" x2="665.50" y2="832.14"/><line x1="550.80" y1="830.04" x2="665.50" y2="830.04"/><line x1="550.80" y1="827.94" x2="665.50" y2="827.94"/><line x1="550.80" y1="825.84" x2="665.50" y2="825.84"/><line x1="550.80" y1="823.74" x2="665.50" y2="823.74"/><line x1="550.80" y1="821.64" x2="665.50" y2="821.64"/><line x1="550.80" y1="819.54" x2="665.50" y2="819.54"/><line x1="554.60" y1="819.34" x2="554.60" y2="836.34"/><line x1="567.92" y1="819.34" x2="567.92" y2="836.34"/><line x1="581.25" y1="819.34" x2="581.25" y2="836.34"/><line x1="594.57" y1="819.34" x2="594.57" y2="836.34"/><line x1="607.90" y1="819.34" x2="607.90" y2="836.34"/><line x1="621.23" y1="819.34" x2="621.23" y2="836.34"/><line x1="634.55" y1="819.34" x2="634.55" y2="836.34"/><line x1="647.88" y1="819.34" x2="647.88" y2="836.34"/><line x1="661.20" y1="819.34" x2="661.20" y2="836.34"/></g>
<path d="M572.50,836.34 C577.18,835.61 593.30,833.31 600.60,831.94 C607.90,830.57 610.77,828.72 616.30,828.14 C621.83,827.56 629.42,827.96 633.80,828.44 C638.18,828.92 638.22,829.72 642.60,831.04 C646.98,832.36 657.18,835.46 660.10,836.34 Z" fill="#b048d5"/>
<text x="607.90" y="815.84" font-size="5.8" text-anchor="middle" fill="#222" stroke="#222" stroke-width="0.15">G2M checkpoint</text>
<g stroke="#e3e3e3" stroke-width="0.45"><line x1="550.80" y1="869.31" x2="665.50" y2="869.31"/><line x1="550.80" y1="867.21" x2="665.50" y2="867.21"/><line x1="550.80" y1="865.11" x2="665.50" y2="865.11"/><line x1="550.80" y1="863.01" x2="665.50" y2="863.01"/><line x1="550.80" y1="860.91" x2="665.50" y2="860.91"/><line x1="550.80" y1="858.81" x2="665.50" y2="858.81"/><line x1="550.80" y1="856.71" x2="665.50" y2="856.71"/><line x1="550.80" y1="854.61" x2="665.50" y2="854.61"/><line x1="550.80" y1="852.51" x2="665.50" y2="852.51"/><line x1="554.60" y1="852.31" x2="554.60" y2="869.31"/><line x1="567.92" y1="852.31" x2="567.92" y2="869.31"/><line x1="581.25" y1="852.31" x2="581.25" y2="869.31"/><line x1="594.57" y1="852.31" x2="594.57" y2="869.31"/><line x1="607.90" y1="852.31" x2="607.90" y2="869.31"/><line x1="621.23" y1="852.31" x2="621.23" y2="869.31"/><line x1="634.55" y1="852.31" x2="634.55" y2="869.31"/><line x1="647.88" y1="852.31" x2="647.88" y2="869.31"/><line x1="661.20" y1="852.31" x2="661.20" y2="869.31"/></g>
<path d="M576.00,869.31 C580.10,868.49 593.58,865.76 600.60,864.41 C607.62,863.06 612.85,861.79 618.10,861.21 C623.35,860.63 628.30,860.73 632.10,860.91 C635.90,861.09 637.98,861.38 640.90,862.31 C643.82,863.24 646.68,865.34 649.60,866.51 C652.52,867.68 656.93,868.84 658.40,869.31 Z" fill="#4646f2"/>
<text x="607.90" y="848.81" font-size="5.8" text-anchor="middle" fill="#222" stroke="#222" stroke-width="0.15">DNA repair</text>
<rect x="549.30" y="412.70" width="117.70" height="456.90" fill="none" stroke="#333" stroke-width="0.9"/>
<line x1="554.60" y1="869.60" x2="554.60" y2="871.40" stroke="#333" stroke-width="0.5"/>
<text x="554.60" y="878.00" font-size="5.6" text-anchor="middle" fill="#555" stroke="#555" stroke-width="0.15">-1.0</text>
<line x1="581.25" y1="869.60" x2="581.25" y2="871.40" stroke="#333" stroke-width="0.5"/>
<text x="581.25" y="878.00" font-size="5.6" text-anchor="middle" fill="#555" stroke="#555" stroke-width="0.15">-0.5</text>
<line x1="607.90" y1="869.60" x2="607.90" y2="871.40" stroke="#333" stroke-width="0.5"/>
<text x="607.90" y="878.00" font-size="5.6" text-anchor="middle" fill="#555" stroke="#555" stroke-width="0.15">0.0</text>
<line x1="634.55" y1="869.60" x2="634.55" y2="871.40" stroke="#333" stroke-width="0.5"/>
<text x="634.55" y="878.00" font-size="5.6" text-anchor="middle" fill="#555" stroke="#555" stroke-width="0.15">0.5</text>
<line x1="661.20" y1="869.60" x2="661.20" y2="871.40" stroke="#333" stroke-width="0.5"/>
<text x="661.20" y="878.00" font-size="5.6" text-anchor="middle" fill="#555" stroke="#555" stroke-width="0.15">1.0</text>
<text x="614.10" y="887.60" font-size="6.85" text-anchor="middle" fill="#000" stroke="#000" stroke-width="0.18">RNA-Protein Spearman correlation</text>
<text transform="translate(546.2,635.5) rotate(-90)" font-size="6.6" text-anchor="middle">Density</text>
<text x="200.70" y="679.00" font-size="17.5" text-anchor="start" fill="#000" stroke="#000" stroke-width="0.00" font-weight="bold">K</text>
<rect x="203.5" y="688.5" width="339" height="194.6" rx="31" ry="31" fill="none" stroke="#222" stroke-width="1"/>
<line x1="399.70" y1="736.90" x2="385.30" y2="784.50" stroke="#000" stroke-width="2.3"/>
<line x1="413.20" y1="736.90" x2="446.90" y2="816.40" stroke="#000" stroke-width="2.3"/>
<line x1="286.00" y1="759.80" x2="324.30" y2="733.60" stroke="#333" stroke-width="0.7"/>
<line x1="321.76" y1="729.89" x2="326.84" y2="737.31" stroke="#333" stroke-width="0.8"/>
<line x1="444.60" y1="756.40" x2="421.50" y2="734.80" stroke="#333" stroke-width="0.7"/>
<line x1="418.43" y1="738.09" x2="424.57" y2="731.51" stroke="#333" stroke-width="0.8"/>
<line x1="320.20" y1="810.10" x2="347.60" y2="810.10" stroke="#333" stroke-width="0.7"/>
<line x1="347.60" y1="802.35" x2="347.60" y2="817.85" stroke="#333" stroke-width="0.8"/>
<line x1="426.70" y1="858.00" x2="435.60" y2="850.30" stroke="#333" stroke-width="0.7"/>
<line x1="431.67" y1="845.76" x2="439.53" y2="854.84" stroke="#333" stroke-width="0.8"/>
<circle cx="343.80" cy="716.50" r="17.20" fill="none" stroke="#1d9cf0" stroke-width="9.20"/>
<circle cx="343.80" cy="716.50" r="12.00" fill="#fff"/>
<line x1="343.80" y1="704.60" x2="343.80" y2="694.20" stroke="#fff" stroke-width="1.1"/>
<line x1="353.55" y1="723.33" x2="362.07" y2="729.29" stroke="#fff" stroke-width="1.1"/>
<line x1="334.05" y1="723.33" x2="325.53" y2="729.29" stroke="#fff" stroke-width="1.1"/>
<circle cx="343.80" cy="716.50" r="11.40" fill="#4a70c6" stroke="#1e2b57" stroke-width="0.9"/>
<path id="tpb" d="M343.80,701.90 A14.60,14.60 0 1 1 343.79,701.90 A14.60,14.60 0 1 1 343.80,701.90" fill="none"/>
<text font-size="6.6" fill="#111" stroke="#111" stroke-width="0.12"><textPath href="#tpb" startOffset="15.80" text-anchor="middle">ADAR</textPath></text>
<text font-size="6.6" fill="#111" stroke="#111" stroke-width="0.12"><textPath href="#tpb" startOffset="45.87" text-anchor="middle">STAT1</textPath></text>
<text font-size="6.6" fill="#111" stroke="#111" stroke-width="0.12"><textPath href="#tpb" startOffset="75.94" text-anchor="middle">STAT3</textPath></text>
<circle cx="405.60" cy="716.50" r="17.10" fill="none" stroke="#198a43" stroke-width="9.00"/>
<circle cx="405.60" cy="716.50" r="12.00" fill="#fff"/>
<line x1="405.60" y1="704.60" x2="405.60" y2="694.40" stroke="#fff" stroke-width="1.1"/>
<line x1="415.91" y1="722.45" x2="424.74" y2="727.55" stroke="#fff" stroke-width="1.1"/>
<line x1="395.29" y1="722.45" x2="386.46" y2="727.55" stroke="#fff" stroke-width="1.1"/>
<circle cx="405.60" cy="716.50" r="11.40" fill="#4a70c6" stroke="#1e2b57" stroke-width="0.9"/>
<path id="tpg" d="M405.60,701.90 A14.60,14.60 0 1 1 405.59,701.90 A14.60,14.60 0 1 1 405.60,701.90" fill="none"/>
<text font-size="6.6" fill="#111" stroke="#111" stroke-width="0.12"><textPath href="#tpg" startOffset="15.29" text-anchor="middle">EIF4A1</textPath></text>
<text font-size="6.6" fill="#111" stroke="#111" stroke-width="0.12"><textPath href="#tpg" startOffset="45.87" text-anchor="middle">MYC</textPath></text>
<text font-size="6.6" fill="#111" stroke="#111" stroke-width="0.12"><textPath href="#tpg" startOffset="76.45" text-anchor="middle">CDK2</textPath></text>
<circle cx="375.10" cy="805.90" r="17.40" fill="none" stroke="#fdd07e" stroke-width="8.80"/>
<circle cx="375.10" cy="805.90" r="12.40" fill="#fff"/>
<line x1="375.10" y1="793.60" x2="375.10" y2="783.60" stroke="#fff" stroke-width="1.1"/>
<line x1="375.10" y1="818.20" x2="375.10" y2="828.20" stroke="#fff" stroke-width="1.1"/>
<circle cx="375.10" cy="805.90" r="11.80" fill="#4a70c6" stroke="#1e2b57" stroke-width="0.9"/>
<path id="tpy" d="M375.10,790.90 A15.00,15.00 0 1 1 375.09,790.90 A15.00,15.00 0 1 1 375.10,790.90" fill="none"/>
<text font-size="6.6" fill="#111" stroke="#111" stroke-width="0.12"><textPath href="#tpy" startOffset="23.56" text-anchor="middle">RPS6</textPath></text>
<text font-size="6.6" fill="#111" stroke="#111" stroke-width="0.12"><textPath href="#tpy" startOffset="70.69" text-anchor="middle">RPS6KB1</textPath></text>
<circle cx="457.50" cy="834.30" r="17.15" fill="none" stroke="#f67c7b" stroke-width="8.70"/>
<circle cx="457.50" cy="834.30" r="12.20" fill="#fff"/>
<line x1="457.50" y1="822.20" x2="457.50" y2="812.30" stroke="#fff" stroke-width="1.1"/>
<line x1="467.98" y1="840.35" x2="476.55" y2="845.30" stroke="#fff" stroke-width="1.1"/>
<line x1="447.02" y1="840.35" x2="438.45" y2="845.30" stroke="#fff" stroke-width="1.1"/>
<circle cx="457.50" cy="834.30" r="11.60" fill="#4a70c6" stroke="#1e2b57" stroke-width="0.9"/>
<path id="tpr" d="M457.50,819.50 A14.80,14.80 0 1 1 457.49,819.50 A14.80,14.80 0 1 1 457.50,819.50" fill="none"/>
<text font-size="6.6" fill="#111" stroke="#111" stroke-width="0.12"><textPath href="#tpr" startOffset="15.50" text-anchor="middle">TOP2A</textPath></text>
<text font-size="6.6" fill="#111" stroke="#111" stroke-width="0.12"><textPath href="#tpr" startOffset="46.50" text-anchor="middle">PCNA</textPath></text>
<text font-size="6.6" fill="#111" stroke="#111" stroke-width="0.12"><textPath href="#tpr" startOffset="77.49" text-anchor="middle">CHEK1/2</textPath></text>
<text x="310.60" y="712.00" font-size="9.0" text-anchor="end" fill="#000" stroke="#000" stroke-width="0.23">Interferon gamma</text>
<text x="310.60" y="725.00" font-size="9.0" text-anchor="end" fill="#000" stroke="#000" stroke-width="0.23">response</text>
<text x="432.40" y="708.60" font-size="9.1" text-anchor="start" fill="#000" stroke="#000" stroke-width="0.24">E2F targets</text>
<text x="432.40" y="720.10" font-size="9.1" text-anchor="start" fill="#000" stroke="#000" stroke-width="0.24">MYC targets</text>
<text x="432.40" y="730.90" font-size="9.1" text-anchor="start" fill="#000" stroke="#000" stroke-width="0.24">G2M checkpoint</text>
<text x="336.00" y="844.00" font-size="9.1" text-anchor="start" fill="#000" stroke="#000" stroke-width="0.24">mTORC1 signaling</text>
<text x="481.80" y="828.90" font-size="9.1" text-anchor="start" fill="#000" stroke="#000" stroke-width="0.24">DNA repair</text>
<text x="481.80" y="840.20" font-size="9.1" text-anchor="start" fill="#000" stroke="#000" stroke-width="0.24">&amp; modulation</text>
<rect x="247.20" y="762.90" width="78.00" height="14.10" rx="7.05" fill="#4571c4" stroke="#253d73" stroke-width="0.9"/>
<text x="286.20" y="773.15" font-size="9.0" text-anchor="middle" fill="#fff" stroke="#fff" stroke-width="0.23">JAK inhibitors</text>
<rect x="447.00" y="745.80" width="78.20" height="13.60" rx="6.80" fill="#4571c4" stroke="#253d73" stroke-width="0.9"/>
<text x="486.10" y="755.80" font-size="9.0" text-anchor="middle" fill="#fff" stroke="#fff" stroke-width="0.23">CDK inhibitor</text>
<rect x="431.00" y="761.50" width="77.80" height="13.70" rx="6.85" fill="#4571c4" stroke="#253d73" stroke-width="0.9"/>
<text x="469.90" y="771.55" font-size="9.0" text-anchor="middle" fill="#fff" stroke="#fff" stroke-width="0.23">Rocaglates</text>
<rect x="238.40" y="802.90" width="79.40" height="13.30" rx="6.65" fill="#4571c4" stroke="#253d73" stroke-width="0.9"/>
<text x="278.10" y="812.75" font-size="9.0" text-anchor="middle" fill="#fff" stroke="#fff" stroke-width="0.23">RSK inhibitor</text>
<rect x="212.80" y="818.80" width="129.10" height="13.30" rx="6.65" fill="#4571c4" stroke="#253d73" stroke-width="0.9"/>
<text x="277.35" y="828.65" font-size="9.0" text-anchor="middle" fill="#fff" stroke="#fff" stroke-width="0.23">PI3K/AKT/mTOR inhibitor</text>
<rect x="347.70" y="858.30" width="79.50" height="13.50" rx="6.75" fill="#4571c4" stroke="#253d73" stroke-width="0.9"/>
<text x="387.45" y="868.25" font-size="9.0" text-anchor="middle" fill="#fff" stroke="#fff" stroke-width="0.23">Chemotherapy</text>
</svg></body></html>
